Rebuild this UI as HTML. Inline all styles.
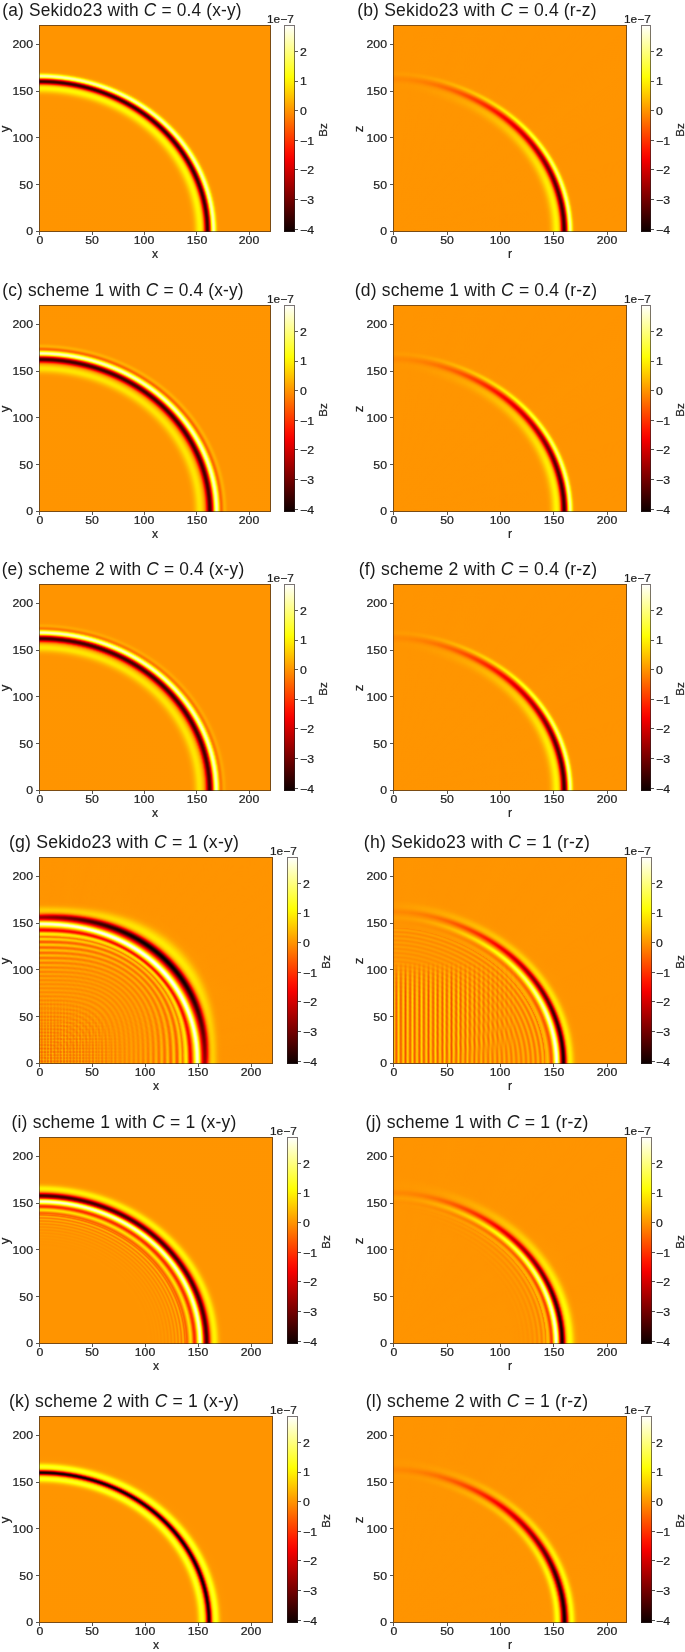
<!DOCTYPE html>
<html><head><meta charset="utf-8"><style>
html,body{margin:0;padding:0;background:#fff;}
body{width:685px;height:1652px;position:relative;overflow:hidden;font-family:"Liberation Sans", sans-serif;}
.t{position:absolute;line-height:1;white-space:nowrap;color:#1c1c1c;filter:grayscale(1);-webkit-text-stroke:0.2px #1c1c1c;}
.ti{position:absolute;line-height:1;white-space:nowrap;color:#1a1a1a;letter-spacing:0.17px;font-size:17.60px;transform:translateX(-50%);}
.ti i{font-style:italic;}
.ti{filter:grayscale(1);}
.l{position:absolute;}
.ax{position:absolute;}
.cb{position:absolute;}
.fr{position:absolute;border:1px solid rgba(40,30,30,0.62);box-sizing:border-box;}
</style></head><body>
<div class="ax" style="left:39px;top:25px;width:232px;height:207px;background:radial-gradient(ellipse 104.90px 93.65px at 0.5px 206.50px,#ff9400 0.0%,#ff9500 143.0%,#ff9a00 145.2%,#ffa500 146.8%,#ffb800 148.2%,#ffec00 151.2%,#fff600 152.2%,#fff800 153.0%,#fff300 153.8%,#ffe500 154.5%,#ffd500 155.0%,#ffc000 155.5%,#ffa200 156.0%,#ff7c00 156.5%,#ff4d00 157.0%,#ff1600 157.5%,#f90000 157.8%,#a20000 158.5%,#880000 158.8%,#700000 159.0%,#5c0000 159.2%,#4c0000 159.5%,#410000 159.8%,#3b0000 160.0%,#3b0000 160.2%,#400000 160.5%,#4b0000 160.8%,#5a0000 161.0%,#6e0000 161.2%,#870000 161.5%,#a30000 161.8%,#e30000 162.2%,#ff0700 162.5%,#ffbf00 163.8%,#ffe100 164.0%,#ffff03 164.2%,#ffff2f 164.5%,#ffff56 164.8%,#ffff77 165.0%,#ffff90 165.2%,#ffffa2 165.5%,#ffffac 165.8%,#ffffae 166.0%,#ffffa8 166.2%,#ffff9c 166.5%,#ffff89 166.8%,#ffff73 167.0%,#ffff3c 167.5%,#ffff03 168.0%,#ffef00 168.2%,#ffd000 168.8%,#ffb900 169.2%,#ffa900 169.8%,#ff9f00 170.2%,#ff9800 171.0%,#ff9400 172.8%,#ff9400 320.0%)"></div>
<div class="fr" style="left:39px;top:25px;width:232px;height:207px"></div>
<div class="l" style="left:36.20px;top:231.10px;width:2.80px;height:0.80px;background:#555"></div>
<div class="t" style="left:33.10px;top:226.33px;font-size:10.60px;transform-origin:0 0;transform:scaleX(1.160) translateX(-100%);">0</div>
<div class="l" style="left:36.20px;top:184.28px;width:2.80px;height:0.80px;background:#555"></div>
<div class="t" style="left:33.10px;top:179.50px;font-size:10.60px;transform-origin:0 0;transform:scaleX(1.160) translateX(-100%);">50</div>
<div class="l" style="left:36.20px;top:137.45px;width:2.80px;height:0.80px;background:#555"></div>
<div class="t" style="left:33.10px;top:132.68px;font-size:10.60px;transform-origin:0 0;transform:scaleX(1.160) translateX(-100%);">100</div>
<div class="l" style="left:36.20px;top:90.62px;width:2.80px;height:0.80px;background:#555"></div>
<div class="t" style="left:33.10px;top:85.85px;font-size:10.60px;transform-origin:0 0;transform:scaleX(1.160) translateX(-100%);">150</div>
<div class="l" style="left:36.20px;top:43.80px;width:2.80px;height:0.80px;background:#555"></div>
<div class="t" style="left:33.10px;top:39.03px;font-size:10.60px;transform-origin:0 0;transform:scaleX(1.160) translateX(-100%);">200</div>
<div class="l" style="left:39.10px;top:232.00px;width:0.80px;height:2.60px;background:#555"></div>
<div class="t" style="left:39.50px;top:235.43px;font-size:10.60px;transform-origin:0 0;transform:scaleX(1.160) translateX(-50%);">0</div>
<div class="l" style="left:91.55px;top:232.00px;width:0.80px;height:2.60px;background:#555"></div>
<div class="t" style="left:91.95px;top:235.43px;font-size:10.60px;transform-origin:0 0;transform:scaleX(1.160) translateX(-50%);">50</div>
<div class="l" style="left:144.00px;top:232.00px;width:0.80px;height:2.60px;background:#555"></div>
<div class="t" style="left:144.40px;top:235.43px;font-size:10.60px;transform-origin:0 0;transform:scaleX(1.160) translateX(-50%);">100</div>
<div class="l" style="left:196.45px;top:232.00px;width:0.80px;height:2.60px;background:#555"></div>
<div class="t" style="left:196.85px;top:235.43px;font-size:10.60px;transform-origin:0 0;transform:scaleX(1.160) translateX(-50%);">150</div>
<div class="l" style="left:248.90px;top:232.00px;width:0.80px;height:2.60px;background:#555"></div>
<div class="t" style="left:249.30px;top:235.43px;font-size:10.60px;transform-origin:0 0;transform:scaleX(1.160) translateX(-50%);">200</div>
<div class="t" style="left:155.00px;top:248.17px;font-size:12.20px;transform-origin:0 0;transform:scaleX(1.000) translateX(-50%);">x</div>
<div class="t" style="left:5.30px;top:128.50px;font-size:12.20px;transform:translate(-50%,-50%) rotate(-90deg) scaleX(1.08);">y</div>
<div class="cb" style="left:284px;top:25px;width:11px;height:207px;background:linear-gradient(to top,#0b0000 0.0%,#2c0000 5.0%,#4e0000 10.0%,#6f0000 15.0%,#900000 20.0%,#b20000 25.0%,#d30000 30.0%,#f50000 35.0%,#ff1700 40.0%,#ff3900 45.0%,#ff5a00 50.0%,#ff7c00 55.0%,#ff9d00 60.0%,#ffbf00 65.0%,#ffe000 70.0%,#ffff04 75.0%,#ffff36 80.0%,#ffff68 85.0%,#ffff9b 90.0%,#ffffcd 95.0%,#ffffff 100.0%)"></div>
<div class="fr" style="left:284px;top:25px;width:11px;height:207px"></div>
<div class="l" style="left:295.00px;top:50.90px;width:2.60px;height:0.80px;background:#555"></div>
<div class="t" style="left:300.00px;top:46.83px;font-size:10.60px;transform-origin:0 0;transform:scaleX(1.160);">2</div>
<div class="l" style="left:295.00px;top:80.52px;width:2.60px;height:0.80px;background:#555"></div>
<div class="t" style="left:300.00px;top:76.45px;font-size:10.60px;transform-origin:0 0;transform:scaleX(1.160);">1</div>
<div class="l" style="left:295.00px;top:110.14px;width:2.60px;height:0.80px;background:#555"></div>
<div class="t" style="left:300.00px;top:106.07px;font-size:10.60px;transform-origin:0 0;transform:scaleX(1.160);">0</div>
<div class="l" style="left:295.00px;top:139.76px;width:2.60px;height:0.80px;background:#555"></div>
<div class="t" style="left:300.00px;top:135.69px;font-size:10.60px;transform-origin:0 0;transform:scaleX(1.160);">−1</div>
<div class="l" style="left:295.00px;top:169.38px;width:2.60px;height:0.80px;background:#555"></div>
<div class="t" style="left:300.00px;top:165.31px;font-size:10.60px;transform-origin:0 0;transform:scaleX(1.160);">−2</div>
<div class="l" style="left:295.00px;top:199.00px;width:2.60px;height:0.80px;background:#555"></div>
<div class="t" style="left:300.00px;top:194.93px;font-size:10.60px;transform-origin:0 0;transform:scaleX(1.160);">−3</div>
<div class="l" style="left:295.00px;top:228.62px;width:2.60px;height:0.80px;background:#555"></div>
<div class="t" style="left:300.00px;top:224.55px;font-size:10.60px;transform-origin:0 0;transform:scaleX(1.160);">−4</div>
<div class="t" style="left:267.40px;top:14.03px;font-size:10.60px;transform-origin:0 0;transform:scaleX(1.120);">1e−7</div>
<div class="t" style="left:323.30px;top:130.00px;font-size:10.60px;transform:translate(-50%,-50%) rotate(-90deg) scaleX(1.08);">Bz</div>
<div class="ti" style="left:122.00px;top:1.70px;transform:translateX(-50%) scaleX(0.9835);">(a) Sekido23 with <i>C</i> = 0.4 (x-y)</div>
<div class="ax" style="left:393px;top:25px;width:234px;height:207px;background:radial-gradient(ellipse 106.90px 93.65px at 0.5px 206.50px,#ff9400 0.0%,#ff9500 151.0%,#ff9600 157.2%,#ff8f00 160.2%,#ff8a00 162.5%,#ff8d00 164.5%,#ff9a00 167.8%,#ff9800 169.8%,#ff9400 173.0%,#ff9400 320.0%);"></div>
<div class="ax" style="left:393px;top:25px;width:234px;height:207px;background:radial-gradient(ellipse 106.90px 93.65px at 0.5px 206.50px,#ff9400 0.0%,#ff9500 150.5%,#ff9700 156.8%,#ff9100 159.5%,#ff8800 162.0%,#ff8a00 163.8%,#ff9b00 167.5%,#ff9b00 169.0%,#ff9400 172.0%,#ff9400 320.0%);-webkit-mask-image:conic-gradient(from 0deg at 0.5px 206.50px,transparent 0.00deg,#000 5.70deg);mask-image:conic-gradient(from 0deg at 0.5px 206.50px,transparent 0.00deg,#000 5.70deg);"></div>
<div class="ax" style="left:393px;top:25px;width:234px;height:207px;background:radial-gradient(ellipse 106.90px 93.65px at 0.5px 206.50px,#ff9400 0.0%,#ff9500 149.0%,#ff9a00 155.5%,#ff9400 158.0%,#ff8000 161.5%,#ff8100 162.8%,#ff8c00 164.5%,#ff9e00 166.8%,#ffa000 168.0%,#ff9500 171.0%,#ff9400 220.2%,#ff9400 320.0%);-webkit-mask-image:conic-gradient(from 0deg at 0.5px 206.50px,transparent 5.70deg,#000 11.38deg);mask-image:conic-gradient(from 0deg at 0.5px 206.50px,transparent 5.70deg,#000 11.38deg);"></div>
<div class="ax" style="left:393px;top:25px;width:234px;height:207px;background:radial-gradient(ellipse 106.90px 93.65px at 0.5px 206.50px,#ff9400 0.0%,#ff9500 147.5%,#ff9e00 154.2%,#ff9900 156.5%,#ff9000 158.0%,#ff7600 160.5%,#ff7300 161.5%,#ff7800 162.5%,#ff8900 164.0%,#ffa300 166.0%,#ffa800 167.0%,#ffa500 168.0%,#ff9700 170.0%,#ff9400 172.5%,#ff9400 320.0%);-webkit-mask-image:conic-gradient(from 0deg at 0.5px 206.50px,transparent 11.38deg,#000 17.01deg);mask-image:conic-gradient(from 0deg at 0.5px 206.50px,transparent 11.38deg,#000 17.01deg);"></div>
<div class="ax" style="left:393px;top:25px;width:234px;height:207px;background:radial-gradient(ellipse 106.90px 93.65px at 0.5px 206.50px,#ff9400 0.0%,#ff9500 146.2%,#ff9d00 150.5%,#ffa200 153.5%,#ff9e00 155.5%,#ff9500 156.8%,#ff8400 158.0%,#ff6900 159.8%,#ff6300 160.5%,#ff6400 161.2%,#ff6f00 162.2%,#ff8b00 163.8%,#ffa900 165.2%,#ffb100 166.0%,#ffb200 166.8%,#ffa900 167.8%,#ff9a00 169.2%,#ff9500 170.8%,#ff9400 320.0%);-webkit-mask-image:conic-gradient(from 0deg at 0.5px 206.50px,transparent 17.01deg,#000 22.56deg);mask-image:conic-gradient(from 0deg at 0.5px 206.50px,transparent 17.01deg,#000 22.56deg);"></div>
<div class="ax" style="left:393px;top:25px;width:234px;height:207px;background:radial-gradient(ellipse 106.90px 93.65px at 0.5px 206.50px,#ff9400 0.0%,#ff9500 145.2%,#ff9c00 148.5%,#ffa900 152.2%,#ffa800 154.0%,#ffa100 155.2%,#ff9400 156.2%,#ff8000 157.2%,#ff5600 159.0%,#ff4b00 159.8%,#ff4a00 160.5%,#ff5300 161.2%,#ff6400 162.0%,#ff9100 163.5%,#ffaf00 164.5%,#ffbe00 165.2%,#ffc200 165.8%,#ffc000 166.2%,#ffb700 167.0%,#ff9f00 168.5%,#ff9700 169.5%,#ff9400 171.8%,#ff9400 320.0%);-webkit-mask-image:conic-gradient(from 0deg at 0.5px 206.50px,transparent 22.56deg,#000 29.11deg);mask-image:conic-gradient(from 0deg at 0.5px 206.50px,transparent 22.56deg,#000 29.11deg);"></div>
<div class="ax" style="left:393px;top:25px;width:234px;height:207px;background:radial-gradient(ellipse 106.90px 93.65px at 0.5px 206.50px,#ff9400 0.0%,#ff9500 144.2%,#ff9b00 147.2%,#ffb100 151.8%,#ffb200 153.2%,#ffaa00 154.5%,#ff9d00 155.5%,#ff8c00 156.2%,#ff6d00 157.2%,#ff4200 158.5%,#ff3500 159.0%,#ff2e00 159.5%,#ff2c00 160.0%,#ff3100 160.5%,#ff3b00 161.0%,#ff5300 161.8%,#ff8800 163.0%,#ffb300 164.0%,#ffc400 164.5%,#ffd000 165.0%,#ffd400 165.5%,#ffd100 166.0%,#ffc300 166.8%,#ffa600 168.0%,#ff9c00 168.8%,#ff9600 169.8%,#ff9400 175.8%,#ff9400 320.0%);-webkit-mask-image:conic-gradient(from 0deg at 0.5px 206.50px,transparent 29.11deg,#000 35.50deg);mask-image:conic-gradient(from 0deg at 0.5px 206.50px,transparent 29.11deg,#000 35.50deg);"></div>
<div class="ax" style="left:393px;top:25px;width:234px;height:207px;background:radial-gradient(ellipse 106.90px 93.65px at 0.5px 206.50px,#ff9400 0.0%,#ff9500 143.8%,#ff9b00 146.5%,#ffaa00 149.0%,#ffba00 151.5%,#ffbc00 152.8%,#ffb700 153.8%,#ffac00 154.8%,#ff9c00 155.5%,#ff8500 156.2%,#ff6600 157.0%,#ff2d00 158.2%,#ff1b00 158.8%,#ff0f00 159.2%,#ff0b00 159.8%,#ff0f00 160.2%,#ff1c00 160.8%,#ff2f00 161.2%,#ff5300 162.0%,#ffb700 163.8%,#ffcf00 164.2%,#ffe000 164.8%,#ffe500 165.0%,#ffe800 165.2%,#ffe600 165.8%,#ffdc00 166.2%,#ffae00 167.8%,#ff9f00 168.5%,#ff9800 169.2%,#ff9400 170.8%,#ff9400 320.0%);-webkit-mask-image:conic-gradient(from 0deg at 0.5px 206.50px,transparent 35.50deg,#000 41.73deg);mask-image:conic-gradient(from 0deg at 0.5px 206.50px,transparent 35.50deg,#000 41.73deg);"></div>
<div class="ax" style="left:393px;top:25px;width:234px;height:207px;background:radial-gradient(ellipse 106.90px 93.65px at 0.5px 206.50px,#ff9400 0.0%,#ff9500 143.5%,#ff9b00 146.0%,#ffa800 148.0%,#ffc200 151.0%,#ffc700 152.2%,#ffc500 153.2%,#ffbf00 154.0%,#ffb200 154.8%,#ff9d00 155.5%,#ff7d00 156.2%,#ff5500 157.0%,#ff0c00 158.2%,#fe0000 158.5%,#eb0000 159.0%,#e50000 159.2%,#e20000 159.5%,#e10000 159.8%,#e40000 160.0%,#e80000 160.2%,#fa0000 160.8%,#ff0600 161.0%,#ff2300 161.5%,#ff5600 162.2%,#ffc500 163.8%,#ffe300 164.2%,#ffef00 164.5%,#fff800 164.8%,#fffe00 165.0%,#ffff03 165.2%,#fffd00 165.8%,#ffef00 166.2%,#ffbd00 167.5%,#ffad00 168.0%,#ff9e00 168.8%,#ff9700 169.5%,#ff9400 171.5%,#ff9400 320.0%);-webkit-mask-image:conic-gradient(from 0deg at 0.5px 206.50px,transparent 41.73deg,#000 48.78deg);mask-image:conic-gradient(from 0deg at 0.5px 206.50px,transparent 41.73deg,#000 48.78deg);"></div>
<div class="ax" style="left:393px;top:25px;width:234px;height:207px;background:radial-gradient(ellipse 106.90px 93.65px at 0.5px 206.50px,#ff9400 0.0%,#ff9500 143.2%,#ff9b00 145.8%,#ffa700 147.5%,#ffcd00 151.0%,#ffd300 152.2%,#ffd000 153.2%,#ffc800 154.0%,#ffb800 154.8%,#ffa800 155.2%,#ff9300 155.8%,#ff7800 156.2%,#ff4600 157.0%,#ff0e00 157.8%,#fb0000 158.0%,#dc0000 158.5%,#cf0000 158.8%,#c50000 159.0%,#be0000 159.2%,#ba0000 159.5%,#b90000 159.8%,#bc0000 160.0%,#c20000 160.2%,#cb0000 160.5%,#d70000 160.8%,#f60000 161.2%,#ff0a00 161.5%,#ff4900 162.2%,#ffbc00 163.5%,#ffe500 164.0%,#fff600 164.2%,#ffff08 164.5%,#ffff19 164.8%,#ffff24 165.0%,#ffff28 165.2%,#ffff27 165.5%,#ffff21 165.8%,#ffff16 166.0%,#ffff07 166.2%,#fff800 166.5%,#ffc600 167.5%,#ffb200 168.0%,#ffa500 168.5%,#ff9a00 169.2%,#ff9500 170.5%,#ff9400 320.0%);-webkit-mask-image:conic-gradient(from 0deg at 0.5px 206.50px,transparent 48.78deg,#000 55.61deg);mask-image:conic-gradient(from 0deg at 0.5px 206.50px,transparent 48.78deg,#000 55.61deg);"></div>
<div class="ax" style="left:393px;top:25px;width:234px;height:207px;background:radial-gradient(ellipse 106.90px 93.65px at 0.5px 206.50px,#ff9400 0.0%,#ff9500 143.0%,#ff9a00 145.2%,#ffa600 147.0%,#ffbb00 148.8%,#ffd800 151.0%,#ffdf00 152.0%,#ffde00 153.0%,#ffd700 153.8%,#ffc700 154.5%,#ffb600 155.0%,#ffa000 155.5%,#ff8300 156.0%,#ff5f00 156.5%,#ff2000 157.2%,#ff0a00 157.5%,#f30000 157.8%,#c90000 158.2%,#b70000 158.5%,#a80000 158.8%,#9c0000 159.0%,#930000 159.2%,#8f0000 159.5%,#8e0000 159.8%,#910000 160.0%,#990000 160.2%,#a40000 160.5%,#b20000 160.8%,#c30000 161.0%,#ee0000 161.5%,#ff0600 161.8%,#ff5500 162.5%,#ffc400 163.5%,#fff500 164.0%,#ffff10 164.2%,#ffff2a 164.5%,#ffff3d 164.8%,#ffff4a 165.0%,#ffff50 165.2%,#ffff4f 165.5%,#ffff47 165.8%,#ffff3a 166.0%,#ffff28 166.2%,#ffff13 166.5%,#fffc00 166.8%,#ffcf00 167.5%,#ffb800 168.0%,#ffa800 168.5%,#ff9e00 169.0%,#ff9700 169.8%,#ff9400 171.8%,#ff9400 320.0%);-webkit-mask-image:conic-gradient(from 0deg at 0.5px 206.50px,transparent 55.61deg,#000 63.17deg);mask-image:conic-gradient(from 0deg at 0.5px 206.50px,transparent 55.61deg,#000 63.17deg);"></div>
<div class="ax" style="left:393px;top:25px;width:234px;height:207px;background:radial-gradient(ellipse 106.90px 93.65px at 0.5px 206.50px,#ff9400 0.0%,#ff9500 142.8%,#ff9a00 145.0%,#ffa400 146.5%,#ffb600 148.0%,#ffe100 150.8%,#ffea00 151.8%,#ffed00 152.5%,#ffe900 153.2%,#ffdd00 154.0%,#ffcf00 154.5%,#ffbc00 155.0%,#ffa200 155.5%,#ff8000 156.0%,#ff5600 156.5%,#ff2600 157.0%,#ff0c00 157.2%,#f10000 157.5%,#be0000 158.0%,#920000 158.5%,#800000 158.8%,#720000 159.0%,#680000 159.2%,#620000 159.5%,#610000 159.8%,#650000 160.0%,#6e0000 160.2%,#7b0000 160.5%,#8c0000 160.8%,#a00000 161.0%,#b70000 161.2%,#ed0000 161.8%,#ff0c00 162.0%,#ff8c00 163.0%,#ffcc00 163.5%,#ffea00 163.8%,#ffff09 164.0%,#ffff2e 164.2%,#ffff4c 164.5%,#ffff63 164.8%,#ffff72 165.0%,#ffff79 165.2%,#ffff78 165.5%,#ffff6f 165.8%,#ffff5f 166.0%,#ffff4a 166.2%,#ffff16 166.8%,#fffc00 167.0%,#ffda00 167.5%,#ffbe00 168.0%,#ffab00 168.5%,#ffa000 169.0%,#ff9700 169.8%,#ff9400 171.5%,#ff9400 320.0%);-webkit-mask-image:conic-gradient(from 0deg at 0.5px 206.50px,transparent 63.17deg,#000 72.31deg);mask-image:conic-gradient(from 0deg at 0.5px 206.50px,transparent 63.17deg,#000 72.31deg);"></div>
<div class="ax" style="left:393px;top:25px;width:234px;height:207px;background:radial-gradient(ellipse 106.90px 93.65px at 0.5px 206.50px,#ff9400 0.0%,#ff9500 142.8%,#ff9b00 145.0%,#ffa600 146.5%,#ffb900 148.0%,#ffe800 150.8%,#fff300 151.8%,#fff500 152.5%,#fff100 153.2%,#ffe400 154.0%,#ffd500 154.5%,#ffc000 155.0%,#ffa300 155.5%,#ff7e00 156.0%,#ff5100 156.5%,#ff0000 157.2%,#aa0000 158.0%,#910000 158.2%,#7a0000 158.5%,#660000 158.8%,#560000 159.0%,#4b0000 159.2%,#450000 159.5%,#440000 159.8%,#490000 160.0%,#520000 160.2%,#600000 160.5%,#730000 160.8%,#890000 161.0%,#a30000 161.2%,#de0000 161.8%,#fe0000 162.0%,#ff4400 162.5%,#ffd100 163.5%,#fff200 163.8%,#ffff19 164.0%,#ffff41 164.2%,#ffff63 164.5%,#ffff7c 164.8%,#ffff8c 165.0%,#ffff94 165.2%,#ffff92 165.5%,#ffff88 165.8%,#ffff77 166.0%,#ffff60 166.2%,#ffff28 166.8%,#ffff0a 167.0%,#fff200 167.2%,#ffd000 167.8%,#ffb700 168.2%,#ffa600 168.8%,#ff9d00 169.2%,#ff9600 170.0%,#ff9400 172.5%,#ff9400 320.0%);-webkit-mask-image:conic-gradient(from 0deg at 0.5px 206.50px,transparent 72.31deg,#000 81.22deg);mask-image:conic-gradient(from 0deg at 0.5px 206.50px,transparent 72.31deg,#000 81.22deg);"></div>
<div class="ax" style="left:393px;top:25px;width:234px;height:207px;background:radial-gradient(ellipse 106.90px 93.65px at 0.5px 206.50px,#ff9400 0.0%,#ff9500 142.8%,#ff9b00 145.0%,#ffa600 146.5%,#ffba00 148.0%,#ffea00 150.8%,#fff500 151.8%,#fff800 152.5%,#fff300 153.2%,#ffe600 154.0%,#ffd700 154.5%,#ffc100 155.0%,#ffa400 155.5%,#ff7e00 156.0%,#ff4f00 156.5%,#ff1800 157.0%,#fa0000 157.2%,#a30000 158.0%,#890000 158.2%,#710000 158.5%,#5d0000 158.8%,#4d0000 159.0%,#410000 159.2%,#3b0000 159.5%,#3a0000 159.8%,#3f0000 160.0%,#480000 160.2%,#570000 160.5%,#6a0000 160.8%,#810000 161.0%,#9b0000 161.2%,#d80000 161.8%,#f90000 162.0%,#ff1d00 162.2%,#ffd300 163.5%,#fff500 163.8%,#ffff1f 164.0%,#ffff48 164.2%,#ffff6a 164.5%,#ffff84 164.8%,#ffff96 165.0%,#ffff9d 165.2%,#ffff9c 165.5%,#ffff91 165.8%,#ffff7f 166.0%,#ffff68 166.2%,#ffff2e 166.8%,#ffff0f 167.0%,#fff500 167.2%,#ffd200 167.8%,#ffb800 168.2%,#ffa700 168.8%,#ff9d00 169.2%,#ff9700 170.0%,#ff9400 172.5%,#ff9400 320.0%);-webkit-mask-image:conic-gradient(from 0deg at 0.5px 206.50px,transparent 81.22deg,#000 90.00deg);mask-image:conic-gradient(from 0deg at 0.5px 206.50px,transparent 81.22deg,#000 90.00deg);"></div>
<div class="fr" style="left:393px;top:25px;width:234px;height:207px"></div>
<div class="l" style="left:390.20px;top:231.10px;width:2.80px;height:0.80px;background:#555"></div>
<div class="t" style="left:387.30px;top:226.33px;font-size:10.60px;transform-origin:0 0;transform:scaleX(1.160) translateX(-100%);">0</div>
<div class="l" style="left:390.20px;top:184.28px;width:2.80px;height:0.80px;background:#555"></div>
<div class="t" style="left:387.30px;top:179.50px;font-size:10.60px;transform-origin:0 0;transform:scaleX(1.160) translateX(-100%);">50</div>
<div class="l" style="left:390.20px;top:137.45px;width:2.80px;height:0.80px;background:#555"></div>
<div class="t" style="left:387.30px;top:132.68px;font-size:10.60px;transform-origin:0 0;transform:scaleX(1.160) translateX(-100%);">100</div>
<div class="l" style="left:390.20px;top:90.62px;width:2.80px;height:0.80px;background:#555"></div>
<div class="t" style="left:387.30px;top:85.85px;font-size:10.60px;transform-origin:0 0;transform:scaleX(1.160) translateX(-100%);">150</div>
<div class="l" style="left:390.20px;top:43.80px;width:2.80px;height:0.80px;background:#555"></div>
<div class="t" style="left:387.30px;top:39.03px;font-size:10.60px;transform-origin:0 0;transform:scaleX(1.160) translateX(-100%);">200</div>
<div class="l" style="left:393.10px;top:232.00px;width:0.80px;height:2.60px;background:#555"></div>
<div class="t" style="left:393.50px;top:235.43px;font-size:10.60px;transform-origin:0 0;transform:scaleX(1.160) translateX(-50%);">0</div>
<div class="l" style="left:446.55px;top:232.00px;width:0.80px;height:2.60px;background:#555"></div>
<div class="t" style="left:446.95px;top:235.43px;font-size:10.60px;transform-origin:0 0;transform:scaleX(1.160) translateX(-50%);">50</div>
<div class="l" style="left:500.00px;top:232.00px;width:0.80px;height:2.60px;background:#555"></div>
<div class="t" style="left:500.40px;top:235.43px;font-size:10.60px;transform-origin:0 0;transform:scaleX(1.160) translateX(-50%);">100</div>
<div class="l" style="left:553.45px;top:232.00px;width:0.80px;height:2.60px;background:#555"></div>
<div class="t" style="left:553.85px;top:235.43px;font-size:10.60px;transform-origin:0 0;transform:scaleX(1.160) translateX(-50%);">150</div>
<div class="l" style="left:606.90px;top:232.00px;width:0.80px;height:2.60px;background:#555"></div>
<div class="t" style="left:607.30px;top:235.43px;font-size:10.60px;transform-origin:0 0;transform:scaleX(1.160) translateX(-50%);">200</div>
<div class="t" style="left:510.00px;top:248.17px;font-size:12.20px;transform-origin:0 0;transform:scaleX(1.000) translateX(-50%);">r</div>
<div class="t" style="left:359.00px;top:128.50px;font-size:12.20px;transform:translate(-50%,-50%) rotate(-90deg) scaleX(1.08);">z</div>
<div class="cb" style="left:641px;top:25px;width:10px;height:207px;background:linear-gradient(to top,#0b0000 0.0%,#2c0000 5.0%,#4e0000 10.0%,#6f0000 15.0%,#900000 20.0%,#b20000 25.0%,#d30000 30.0%,#f50000 35.0%,#ff1700 40.0%,#ff3900 45.0%,#ff5a00 50.0%,#ff7c00 55.0%,#ff9d00 60.0%,#ffbf00 65.0%,#ffe000 70.0%,#ffff04 75.0%,#ffff36 80.0%,#ffff68 85.0%,#ffff9b 90.0%,#ffffcd 95.0%,#ffffff 100.0%)"></div>
<div class="fr" style="left:641px;top:25px;width:10px;height:207px"></div>
<div class="l" style="left:651.00px;top:50.90px;width:2.60px;height:0.80px;background:#555"></div>
<div class="t" style="left:655.80px;top:46.83px;font-size:10.60px;transform-origin:0 0;transform:scaleX(1.160);">2</div>
<div class="l" style="left:651.00px;top:80.52px;width:2.60px;height:0.80px;background:#555"></div>
<div class="t" style="left:655.80px;top:76.45px;font-size:10.60px;transform-origin:0 0;transform:scaleX(1.160);">1</div>
<div class="l" style="left:651.00px;top:110.14px;width:2.60px;height:0.80px;background:#555"></div>
<div class="t" style="left:655.80px;top:106.07px;font-size:10.60px;transform-origin:0 0;transform:scaleX(1.160);">0</div>
<div class="l" style="left:651.00px;top:139.76px;width:2.60px;height:0.80px;background:#555"></div>
<div class="t" style="left:655.80px;top:135.69px;font-size:10.60px;transform-origin:0 0;transform:scaleX(1.160);">−1</div>
<div class="l" style="left:651.00px;top:169.38px;width:2.60px;height:0.80px;background:#555"></div>
<div class="t" style="left:655.80px;top:165.31px;font-size:10.60px;transform-origin:0 0;transform:scaleX(1.160);">−2</div>
<div class="l" style="left:651.00px;top:199.00px;width:2.60px;height:0.80px;background:#555"></div>
<div class="t" style="left:655.80px;top:194.93px;font-size:10.60px;transform-origin:0 0;transform:scaleX(1.160);">−3</div>
<div class="l" style="left:651.00px;top:228.62px;width:2.60px;height:0.80px;background:#555"></div>
<div class="t" style="left:655.80px;top:224.55px;font-size:10.60px;transform-origin:0 0;transform:scaleX(1.160);">−4</div>
<div class="t" style="left:623.60px;top:14.03px;font-size:10.60px;transform-origin:0 0;transform:scaleX(1.120);">1e−7</div>
<div class="t" style="left:680.00px;top:130.00px;font-size:10.60px;transform:translate(-50%,-50%) rotate(-90deg) scaleX(1.08);">Bz</div>
<div class="ti" style="left:477.20px;top:1.70px;transform:translateX(-50%) scaleX(0.9966);">(b) Sekido23 with <i>C</i> = 0.4 (r-z)</div>
<div class="ax" style="left:39px;top:305px;width:232px;height:207px;background:radial-gradient(ellipse 104.90px 93.65px at 0.5px 206.50px,#ff9400 0.0%,#ff9500 143.2%,#ff9b00 145.5%,#ffa800 147.2%,#ffbe00 149.0%,#ffdb00 151.0%,#ffe500 152.2%,#ffe500 153.2%,#ffde00 154.2%,#ffcf00 155.2%,#ffba00 156.2%,#ffa300 157.0%,#ff8f00 157.5%,#ff7600 158.0%,#ff5600 158.5%,#ff3100 159.0%,#ff0600 159.5%,#ef0000 159.8%,#930000 160.8%,#6d0000 161.2%,#5e0000 161.5%,#520000 161.8%,#490000 162.0%,#450000 162.2%,#440000 162.5%,#480000 162.8%,#500000 163.0%,#5b0000 163.2%,#6b0000 163.5%,#7d0000 163.8%,#930000 164.0%,#c50000 164.5%,#fe0000 165.0%,#ff3e00 165.5%,#ffe200 166.8%,#ffff02 167.0%,#ffff2e 167.2%,#ffff55 167.5%,#ffff78 167.8%,#ffff94 168.0%,#ffffa9 168.2%,#ffffb7 168.5%,#ffffbd 168.8%,#ffffbb 169.0%,#ffffb2 169.2%,#ffffa2 169.5%,#ffff8c 169.8%,#ffff72 170.0%,#ffff35 170.5%,#ffff15 170.8%,#fff700 171.0%,#ffb900 171.8%,#ff9500 172.2%,#ff8600 172.5%,#ff7a00 172.8%,#ff7100 173.0%,#ff6b00 173.2%,#ff6900 173.5%,#ff6a00 173.8%,#ff7500 174.2%,#ff9f00 175.5%,#ffaa00 176.0%,#ffaf00 176.5%,#ffad00 177.2%,#ff9a00 179.0%,#ff9500 180.2%,#ff9400 320.0%)"></div>
<div class="fr" style="left:39px;top:305px;width:232px;height:207px"></div>
<div class="l" style="left:36.20px;top:511.10px;width:2.80px;height:0.80px;background:#555"></div>
<div class="t" style="left:33.10px;top:506.33px;font-size:10.60px;transform-origin:0 0;transform:scaleX(1.160) translateX(-100%);">0</div>
<div class="l" style="left:36.20px;top:464.28px;width:2.80px;height:0.80px;background:#555"></div>
<div class="t" style="left:33.10px;top:459.50px;font-size:10.60px;transform-origin:0 0;transform:scaleX(1.160) translateX(-100%);">50</div>
<div class="l" style="left:36.20px;top:417.45px;width:2.80px;height:0.80px;background:#555"></div>
<div class="t" style="left:33.10px;top:412.68px;font-size:10.60px;transform-origin:0 0;transform:scaleX(1.160) translateX(-100%);">100</div>
<div class="l" style="left:36.20px;top:370.62px;width:2.80px;height:0.80px;background:#555"></div>
<div class="t" style="left:33.10px;top:365.85px;font-size:10.60px;transform-origin:0 0;transform:scaleX(1.160) translateX(-100%);">150</div>
<div class="l" style="left:36.20px;top:323.80px;width:2.80px;height:0.80px;background:#555"></div>
<div class="t" style="left:33.10px;top:319.03px;font-size:10.60px;transform-origin:0 0;transform:scaleX(1.160) translateX(-100%);">200</div>
<div class="l" style="left:39.10px;top:512.00px;width:0.80px;height:2.60px;background:#555"></div>
<div class="t" style="left:39.50px;top:515.43px;font-size:10.60px;transform-origin:0 0;transform:scaleX(1.160) translateX(-50%);">0</div>
<div class="l" style="left:91.55px;top:512.00px;width:0.80px;height:2.60px;background:#555"></div>
<div class="t" style="left:91.95px;top:515.43px;font-size:10.60px;transform-origin:0 0;transform:scaleX(1.160) translateX(-50%);">50</div>
<div class="l" style="left:144.00px;top:512.00px;width:0.80px;height:2.60px;background:#555"></div>
<div class="t" style="left:144.40px;top:515.43px;font-size:10.60px;transform-origin:0 0;transform:scaleX(1.160) translateX(-50%);">100</div>
<div class="l" style="left:196.45px;top:512.00px;width:0.80px;height:2.60px;background:#555"></div>
<div class="t" style="left:196.85px;top:515.43px;font-size:10.60px;transform-origin:0 0;transform:scaleX(1.160) translateX(-50%);">150</div>
<div class="l" style="left:248.90px;top:512.00px;width:0.80px;height:2.60px;background:#555"></div>
<div class="t" style="left:249.30px;top:515.43px;font-size:10.60px;transform-origin:0 0;transform:scaleX(1.160) translateX(-50%);">200</div>
<div class="t" style="left:155.00px;top:528.17px;font-size:12.20px;transform-origin:0 0;transform:scaleX(1.000) translateX(-50%);">x</div>
<div class="t" style="left:5.30px;top:408.50px;font-size:12.20px;transform:translate(-50%,-50%) rotate(-90deg) scaleX(1.08);">y</div>
<div class="cb" style="left:284px;top:305px;width:11px;height:207px;background:linear-gradient(to top,#0b0000 0.0%,#2c0000 5.0%,#4e0000 10.0%,#6f0000 15.0%,#900000 20.0%,#b20000 25.0%,#d30000 30.0%,#f50000 35.0%,#ff1700 40.0%,#ff3900 45.0%,#ff5a00 50.0%,#ff7c00 55.0%,#ff9d00 60.0%,#ffbf00 65.0%,#ffe000 70.0%,#ffff04 75.0%,#ffff36 80.0%,#ffff68 85.0%,#ffff9b 90.0%,#ffffcd 95.0%,#ffffff 100.0%)"></div>
<div class="fr" style="left:284px;top:305px;width:11px;height:207px"></div>
<div class="l" style="left:295.00px;top:330.90px;width:2.60px;height:0.80px;background:#555"></div>
<div class="t" style="left:300.00px;top:326.83px;font-size:10.60px;transform-origin:0 0;transform:scaleX(1.160);">2</div>
<div class="l" style="left:295.00px;top:360.52px;width:2.60px;height:0.80px;background:#555"></div>
<div class="t" style="left:300.00px;top:356.45px;font-size:10.60px;transform-origin:0 0;transform:scaleX(1.160);">1</div>
<div class="l" style="left:295.00px;top:390.14px;width:2.60px;height:0.80px;background:#555"></div>
<div class="t" style="left:300.00px;top:386.07px;font-size:10.60px;transform-origin:0 0;transform:scaleX(1.160);">0</div>
<div class="l" style="left:295.00px;top:419.76px;width:2.60px;height:0.80px;background:#555"></div>
<div class="t" style="left:300.00px;top:415.69px;font-size:10.60px;transform-origin:0 0;transform:scaleX(1.160);">−1</div>
<div class="l" style="left:295.00px;top:449.38px;width:2.60px;height:0.80px;background:#555"></div>
<div class="t" style="left:300.00px;top:445.31px;font-size:10.60px;transform-origin:0 0;transform:scaleX(1.160);">−2</div>
<div class="l" style="left:295.00px;top:479.00px;width:2.60px;height:0.80px;background:#555"></div>
<div class="t" style="left:300.00px;top:474.93px;font-size:10.60px;transform-origin:0 0;transform:scaleX(1.160);">−3</div>
<div class="l" style="left:295.00px;top:508.62px;width:2.60px;height:0.80px;background:#555"></div>
<div class="t" style="left:300.00px;top:504.55px;font-size:10.60px;transform-origin:0 0;transform:scaleX(1.160);">−4</div>
<div class="t" style="left:267.40px;top:294.03px;font-size:10.60px;transform-origin:0 0;transform:scaleX(1.120);">1e−7</div>
<div class="t" style="left:323.30px;top:410.00px;font-size:10.60px;transform:translate(-50%,-50%) rotate(-90deg) scaleX(1.08);">Bz</div>
<div class="ti" style="left:122.80px;top:281.70px;transform:translateX(-50%) scaleX(0.9844);">(c) scheme 1 with <i>C</i> = 0.4 (x-y)</div>
<div class="ax" style="left:393px;top:305px;width:234px;height:207px;background:radial-gradient(ellipse 106.90px 93.65px at 0.5px 206.50px,#ff9400 0.0%,#ff9500 151.0%,#ff9600 157.2%,#ff8f00 160.2%,#ff8a00 162.5%,#ff8d00 164.5%,#ff9a00 167.8%,#ff9800 169.8%,#ff9400 173.0%,#ff9400 320.0%);"></div>
<div class="ax" style="left:393px;top:305px;width:234px;height:207px;background:radial-gradient(ellipse 106.90px 93.65px at 0.5px 206.50px,#ff9400 0.0%,#ff9500 150.5%,#ff9700 156.8%,#ff9100 159.5%,#ff8800 162.0%,#ff8a00 163.8%,#ff9b00 167.5%,#ff9b00 169.0%,#ff9400 172.0%,#ff9400 320.0%);-webkit-mask-image:conic-gradient(from 0deg at 0.5px 206.50px,transparent 0.00deg,#000 5.70deg);mask-image:conic-gradient(from 0deg at 0.5px 206.50px,transparent 0.00deg,#000 5.70deg);"></div>
<div class="ax" style="left:393px;top:305px;width:234px;height:207px;background:radial-gradient(ellipse 106.90px 93.65px at 0.5px 206.50px,#ff9400 0.0%,#ff9500 149.0%,#ff9a00 155.5%,#ff9400 158.0%,#ff8000 161.5%,#ff8100 162.8%,#ff8c00 164.5%,#ff9e00 166.8%,#ffa000 168.0%,#ff9500 171.0%,#ff9400 220.2%,#ff9400 320.0%);-webkit-mask-image:conic-gradient(from 0deg at 0.5px 206.50px,transparent 5.70deg,#000 11.38deg);mask-image:conic-gradient(from 0deg at 0.5px 206.50px,transparent 5.70deg,#000 11.38deg);"></div>
<div class="ax" style="left:393px;top:305px;width:234px;height:207px;background:radial-gradient(ellipse 106.90px 93.65px at 0.5px 206.50px,#ff9400 0.0%,#ff9500 147.5%,#ff9e00 154.2%,#ff9900 156.5%,#ff9000 158.0%,#ff7600 160.5%,#ff7300 161.5%,#ff7800 162.5%,#ff8900 164.0%,#ffa300 166.0%,#ffa800 167.0%,#ffa500 168.0%,#ff9700 170.0%,#ff9400 172.5%,#ff9400 320.0%);-webkit-mask-image:conic-gradient(from 0deg at 0.5px 206.50px,transparent 11.38deg,#000 17.01deg);mask-image:conic-gradient(from 0deg at 0.5px 206.50px,transparent 11.38deg,#000 17.01deg);"></div>
<div class="ax" style="left:393px;top:305px;width:234px;height:207px;background:radial-gradient(ellipse 106.90px 93.65px at 0.5px 206.50px,#ff9400 0.0%,#ff9500 146.2%,#ff9d00 150.5%,#ffa200 153.5%,#ff9e00 155.5%,#ff9500 156.8%,#ff8400 158.0%,#ff6900 159.8%,#ff6300 160.5%,#ff6400 161.2%,#ff6f00 162.2%,#ff8b00 163.8%,#ffa900 165.2%,#ffb100 166.0%,#ffb200 166.8%,#ffa900 167.8%,#ff9a00 169.2%,#ff9500 170.8%,#ff9400 320.0%);-webkit-mask-image:conic-gradient(from 0deg at 0.5px 206.50px,transparent 17.01deg,#000 22.56deg);mask-image:conic-gradient(from 0deg at 0.5px 206.50px,transparent 17.01deg,#000 22.56deg);"></div>
<div class="ax" style="left:393px;top:305px;width:234px;height:207px;background:radial-gradient(ellipse 106.90px 93.65px at 0.5px 206.50px,#ff9400 0.0%,#ff9500 145.2%,#ff9c00 148.5%,#ffa900 152.2%,#ffa800 154.0%,#ffa100 155.2%,#ff9400 156.2%,#ff8000 157.2%,#ff5600 159.0%,#ff4b00 159.8%,#ff4a00 160.5%,#ff5300 161.2%,#ff6400 162.0%,#ff9100 163.5%,#ffaf00 164.5%,#ffbe00 165.2%,#ffc200 165.8%,#ffc000 166.2%,#ffb700 167.0%,#ff9f00 168.5%,#ff9700 169.5%,#ff9400 171.8%,#ff9400 320.0%);-webkit-mask-image:conic-gradient(from 0deg at 0.5px 206.50px,transparent 22.56deg,#000 29.11deg);mask-image:conic-gradient(from 0deg at 0.5px 206.50px,transparent 22.56deg,#000 29.11deg);"></div>
<div class="ax" style="left:393px;top:305px;width:234px;height:207px;background:radial-gradient(ellipse 106.90px 93.65px at 0.5px 206.50px,#ff9400 0.0%,#ff9500 144.2%,#ff9b00 147.2%,#ffb100 151.8%,#ffb200 153.2%,#ffaa00 154.5%,#ff9d00 155.5%,#ff8c00 156.2%,#ff6d00 157.2%,#ff4200 158.5%,#ff3500 159.0%,#ff2e00 159.5%,#ff2c00 160.0%,#ff3100 160.5%,#ff3b00 161.0%,#ff5300 161.8%,#ff8800 163.0%,#ffb300 164.0%,#ffc400 164.5%,#ffd000 165.0%,#ffd400 165.5%,#ffd100 166.0%,#ffc300 166.8%,#ffa600 168.0%,#ff9c00 168.8%,#ff9600 169.8%,#ff9400 175.8%,#ff9400 320.0%);-webkit-mask-image:conic-gradient(from 0deg at 0.5px 206.50px,transparent 29.11deg,#000 35.50deg);mask-image:conic-gradient(from 0deg at 0.5px 206.50px,transparent 29.11deg,#000 35.50deg);"></div>
<div class="ax" style="left:393px;top:305px;width:234px;height:207px;background:radial-gradient(ellipse 106.90px 93.65px at 0.5px 206.50px,#ff9400 0.0%,#ff9500 143.8%,#ff9b00 146.5%,#ffaa00 149.0%,#ffba00 151.5%,#ffbc00 152.8%,#ffb700 153.8%,#ffac00 154.8%,#ff9c00 155.5%,#ff8500 156.2%,#ff6600 157.0%,#ff2d00 158.2%,#ff1b00 158.8%,#ff0f00 159.2%,#ff0b00 159.8%,#ff0f00 160.2%,#ff1c00 160.8%,#ff2f00 161.2%,#ff5300 162.0%,#ffb700 163.8%,#ffcf00 164.2%,#ffe000 164.8%,#ffe500 165.0%,#ffe800 165.2%,#ffe600 165.8%,#ffdc00 166.2%,#ffae00 167.8%,#ff9f00 168.5%,#ff9800 169.2%,#ff9400 170.8%,#ff9400 320.0%);-webkit-mask-image:conic-gradient(from 0deg at 0.5px 206.50px,transparent 35.50deg,#000 41.73deg);mask-image:conic-gradient(from 0deg at 0.5px 206.50px,transparent 35.50deg,#000 41.73deg);"></div>
<div class="ax" style="left:393px;top:305px;width:234px;height:207px;background:radial-gradient(ellipse 106.90px 93.65px at 0.5px 206.50px,#ff9400 0.0%,#ff9500 143.5%,#ff9b00 146.0%,#ffa800 148.0%,#ffc200 151.0%,#ffc700 152.2%,#ffc500 153.2%,#ffbf00 154.0%,#ffb200 154.8%,#ff9d00 155.5%,#ff7d00 156.2%,#ff5500 157.0%,#ff0c00 158.2%,#fe0000 158.5%,#eb0000 159.0%,#e50000 159.2%,#e20000 159.5%,#e10000 159.8%,#e40000 160.0%,#e80000 160.2%,#fa0000 160.8%,#ff0600 161.0%,#ff2300 161.5%,#ff5600 162.2%,#ffc500 163.8%,#ffe300 164.2%,#ffef00 164.5%,#fff800 164.8%,#fffe00 165.0%,#ffff03 165.2%,#fffd00 165.8%,#ffef00 166.2%,#ffbd00 167.5%,#ffad00 168.0%,#ff9e00 168.8%,#ff9700 169.5%,#ff9400 171.5%,#ff9400 320.0%);-webkit-mask-image:conic-gradient(from 0deg at 0.5px 206.50px,transparent 41.73deg,#000 48.78deg);mask-image:conic-gradient(from 0deg at 0.5px 206.50px,transparent 41.73deg,#000 48.78deg);"></div>
<div class="ax" style="left:393px;top:305px;width:234px;height:207px;background:radial-gradient(ellipse 106.90px 93.65px at 0.5px 206.50px,#ff9400 0.0%,#ff9500 143.2%,#ff9b00 145.8%,#ffa700 147.5%,#ffcd00 151.0%,#ffd300 152.2%,#ffd000 153.2%,#ffc800 154.0%,#ffb800 154.8%,#ffa800 155.2%,#ff9300 155.8%,#ff7800 156.2%,#ff4600 157.0%,#ff0e00 157.8%,#fb0000 158.0%,#dc0000 158.5%,#cf0000 158.8%,#c50000 159.0%,#be0000 159.2%,#ba0000 159.5%,#b90000 159.8%,#bc0000 160.0%,#c20000 160.2%,#cb0000 160.5%,#d70000 160.8%,#f60000 161.2%,#ff0a00 161.5%,#ff4900 162.2%,#ffbc00 163.5%,#ffe500 164.0%,#fff600 164.2%,#ffff08 164.5%,#ffff19 164.8%,#ffff24 165.0%,#ffff28 165.2%,#ffff27 165.5%,#ffff21 165.8%,#ffff16 166.0%,#ffff07 166.2%,#fff800 166.5%,#ffc600 167.5%,#ffb200 168.0%,#ffa500 168.5%,#ff9a00 169.2%,#ff9500 170.5%,#ff9400 320.0%);-webkit-mask-image:conic-gradient(from 0deg at 0.5px 206.50px,transparent 48.78deg,#000 55.61deg);mask-image:conic-gradient(from 0deg at 0.5px 206.50px,transparent 48.78deg,#000 55.61deg);"></div>
<div class="ax" style="left:393px;top:305px;width:234px;height:207px;background:radial-gradient(ellipse 106.90px 93.65px at 0.5px 206.50px,#ff9400 0.0%,#ff9500 143.0%,#ff9a00 145.2%,#ffa600 147.0%,#ffbb00 148.8%,#ffd800 151.0%,#ffdf00 152.0%,#ffde00 153.0%,#ffd700 153.8%,#ffc700 154.5%,#ffb600 155.0%,#ffa000 155.5%,#ff8300 156.0%,#ff5f00 156.5%,#ff2000 157.2%,#ff0a00 157.5%,#f30000 157.8%,#c90000 158.2%,#b70000 158.5%,#a80000 158.8%,#9c0000 159.0%,#930000 159.2%,#8f0000 159.5%,#8e0000 159.8%,#910000 160.0%,#990000 160.2%,#a40000 160.5%,#b20000 160.8%,#c30000 161.0%,#ee0000 161.5%,#ff0600 161.8%,#ff5500 162.5%,#ffc400 163.5%,#fff500 164.0%,#ffff10 164.2%,#ffff2a 164.5%,#ffff3d 164.8%,#ffff4a 165.0%,#ffff50 165.2%,#ffff4f 165.5%,#ffff47 165.8%,#ffff3a 166.0%,#ffff28 166.2%,#ffff13 166.5%,#fffc00 166.8%,#ffcf00 167.5%,#ffb800 168.0%,#ffa800 168.5%,#ff9e00 169.0%,#ff9700 169.8%,#ff9400 171.8%,#ff9400 320.0%);-webkit-mask-image:conic-gradient(from 0deg at 0.5px 206.50px,transparent 55.61deg,#000 63.17deg);mask-image:conic-gradient(from 0deg at 0.5px 206.50px,transparent 55.61deg,#000 63.17deg);"></div>
<div class="ax" style="left:393px;top:305px;width:234px;height:207px;background:radial-gradient(ellipse 106.90px 93.65px at 0.5px 206.50px,#ff9400 0.0%,#ff9500 142.8%,#ff9a00 145.0%,#ffa400 146.5%,#ffb600 148.0%,#ffe100 150.8%,#ffea00 151.8%,#ffed00 152.5%,#ffe900 153.2%,#ffdd00 154.0%,#ffcf00 154.5%,#ffbc00 155.0%,#ffa200 155.5%,#ff8000 156.0%,#ff5600 156.5%,#ff2600 157.0%,#ff0c00 157.2%,#f10000 157.5%,#be0000 158.0%,#920000 158.5%,#800000 158.8%,#720000 159.0%,#680000 159.2%,#620000 159.5%,#610000 159.8%,#650000 160.0%,#6e0000 160.2%,#7b0000 160.5%,#8c0000 160.8%,#a00000 161.0%,#b70000 161.2%,#ed0000 161.8%,#ff0c00 162.0%,#ff8c00 163.0%,#ffcc00 163.5%,#ffea00 163.8%,#ffff09 164.0%,#ffff2e 164.2%,#ffff4c 164.5%,#ffff63 164.8%,#ffff72 165.0%,#ffff79 165.2%,#ffff78 165.5%,#ffff6f 165.8%,#ffff5f 166.0%,#ffff4a 166.2%,#ffff16 166.8%,#fffc00 167.0%,#ffda00 167.5%,#ffbe00 168.0%,#ffab00 168.5%,#ffa000 169.0%,#ff9700 169.8%,#ff9400 171.5%,#ff9400 320.0%);-webkit-mask-image:conic-gradient(from 0deg at 0.5px 206.50px,transparent 63.17deg,#000 72.31deg);mask-image:conic-gradient(from 0deg at 0.5px 206.50px,transparent 63.17deg,#000 72.31deg);"></div>
<div class="ax" style="left:393px;top:305px;width:234px;height:207px;background:radial-gradient(ellipse 106.90px 93.65px at 0.5px 206.50px,#ff9400 0.0%,#ff9500 142.8%,#ff9b00 145.0%,#ffa600 146.5%,#ffb900 148.0%,#ffe800 150.8%,#fff300 151.8%,#fff500 152.5%,#fff100 153.2%,#ffe400 154.0%,#ffd500 154.5%,#ffc000 155.0%,#ffa300 155.5%,#ff7e00 156.0%,#ff5100 156.5%,#ff0000 157.2%,#aa0000 158.0%,#910000 158.2%,#7a0000 158.5%,#660000 158.8%,#560000 159.0%,#4b0000 159.2%,#450000 159.5%,#440000 159.8%,#490000 160.0%,#520000 160.2%,#600000 160.5%,#730000 160.8%,#890000 161.0%,#a30000 161.2%,#de0000 161.8%,#fe0000 162.0%,#ff4400 162.5%,#ffd100 163.5%,#fff200 163.8%,#ffff19 164.0%,#ffff41 164.2%,#ffff63 164.5%,#ffff7c 164.8%,#ffff8c 165.0%,#ffff94 165.2%,#ffff92 165.5%,#ffff88 165.8%,#ffff77 166.0%,#ffff60 166.2%,#ffff28 166.8%,#ffff0a 167.0%,#fff200 167.2%,#ffd000 167.8%,#ffb700 168.2%,#ffa600 168.8%,#ff9d00 169.2%,#ff9600 170.0%,#ff9400 172.5%,#ff9400 320.0%);-webkit-mask-image:conic-gradient(from 0deg at 0.5px 206.50px,transparent 72.31deg,#000 81.22deg);mask-image:conic-gradient(from 0deg at 0.5px 206.50px,transparent 72.31deg,#000 81.22deg);"></div>
<div class="ax" style="left:393px;top:305px;width:234px;height:207px;background:radial-gradient(ellipse 106.90px 93.65px at 0.5px 206.50px,#ff9400 0.0%,#ff9500 142.8%,#ff9b00 145.0%,#ffa600 146.5%,#ffba00 148.0%,#ffea00 150.8%,#fff500 151.8%,#fff800 152.5%,#fff300 153.2%,#ffe600 154.0%,#ffd700 154.5%,#ffc100 155.0%,#ffa400 155.5%,#ff7e00 156.0%,#ff4f00 156.5%,#ff1800 157.0%,#fa0000 157.2%,#a30000 158.0%,#890000 158.2%,#710000 158.5%,#5d0000 158.8%,#4d0000 159.0%,#410000 159.2%,#3b0000 159.5%,#3a0000 159.8%,#3f0000 160.0%,#480000 160.2%,#570000 160.5%,#6a0000 160.8%,#810000 161.0%,#9b0000 161.2%,#d80000 161.8%,#f90000 162.0%,#ff1d00 162.2%,#ffd300 163.5%,#fff500 163.8%,#ffff1f 164.0%,#ffff48 164.2%,#ffff6a 164.5%,#ffff84 164.8%,#ffff96 165.0%,#ffff9d 165.2%,#ffff9c 165.5%,#ffff91 165.8%,#ffff7f 166.0%,#ffff68 166.2%,#ffff2e 166.8%,#ffff0f 167.0%,#fff500 167.2%,#ffd200 167.8%,#ffb800 168.2%,#ffa700 168.8%,#ff9d00 169.2%,#ff9700 170.0%,#ff9400 172.5%,#ff9400 320.0%);-webkit-mask-image:conic-gradient(from 0deg at 0.5px 206.50px,transparent 81.22deg,#000 90.00deg);mask-image:conic-gradient(from 0deg at 0.5px 206.50px,transparent 81.22deg,#000 90.00deg);"></div>
<div class="fr" style="left:393px;top:305px;width:234px;height:207px"></div>
<div class="l" style="left:390.20px;top:511.10px;width:2.80px;height:0.80px;background:#555"></div>
<div class="t" style="left:387.30px;top:506.33px;font-size:10.60px;transform-origin:0 0;transform:scaleX(1.160) translateX(-100%);">0</div>
<div class="l" style="left:390.20px;top:464.28px;width:2.80px;height:0.80px;background:#555"></div>
<div class="t" style="left:387.30px;top:459.50px;font-size:10.60px;transform-origin:0 0;transform:scaleX(1.160) translateX(-100%);">50</div>
<div class="l" style="left:390.20px;top:417.45px;width:2.80px;height:0.80px;background:#555"></div>
<div class="t" style="left:387.30px;top:412.68px;font-size:10.60px;transform-origin:0 0;transform:scaleX(1.160) translateX(-100%);">100</div>
<div class="l" style="left:390.20px;top:370.62px;width:2.80px;height:0.80px;background:#555"></div>
<div class="t" style="left:387.30px;top:365.85px;font-size:10.60px;transform-origin:0 0;transform:scaleX(1.160) translateX(-100%);">150</div>
<div class="l" style="left:390.20px;top:323.80px;width:2.80px;height:0.80px;background:#555"></div>
<div class="t" style="left:387.30px;top:319.03px;font-size:10.60px;transform-origin:0 0;transform:scaleX(1.160) translateX(-100%);">200</div>
<div class="l" style="left:393.10px;top:512.00px;width:0.80px;height:2.60px;background:#555"></div>
<div class="t" style="left:393.50px;top:515.43px;font-size:10.60px;transform-origin:0 0;transform:scaleX(1.160) translateX(-50%);">0</div>
<div class="l" style="left:446.55px;top:512.00px;width:0.80px;height:2.60px;background:#555"></div>
<div class="t" style="left:446.95px;top:515.43px;font-size:10.60px;transform-origin:0 0;transform:scaleX(1.160) translateX(-50%);">50</div>
<div class="l" style="left:500.00px;top:512.00px;width:0.80px;height:2.60px;background:#555"></div>
<div class="t" style="left:500.40px;top:515.43px;font-size:10.60px;transform-origin:0 0;transform:scaleX(1.160) translateX(-50%);">100</div>
<div class="l" style="left:553.45px;top:512.00px;width:0.80px;height:2.60px;background:#555"></div>
<div class="t" style="left:553.85px;top:515.43px;font-size:10.60px;transform-origin:0 0;transform:scaleX(1.160) translateX(-50%);">150</div>
<div class="l" style="left:606.90px;top:512.00px;width:0.80px;height:2.60px;background:#555"></div>
<div class="t" style="left:607.30px;top:515.43px;font-size:10.60px;transform-origin:0 0;transform:scaleX(1.160) translateX(-50%);">200</div>
<div class="t" style="left:510.00px;top:528.17px;font-size:12.20px;transform-origin:0 0;transform:scaleX(1.000) translateX(-50%);">r</div>
<div class="t" style="left:359.00px;top:408.50px;font-size:12.20px;transform:translate(-50%,-50%) rotate(-90deg) scaleX(1.08);">z</div>
<div class="cb" style="left:641px;top:305px;width:10px;height:207px;background:linear-gradient(to top,#0b0000 0.0%,#2c0000 5.0%,#4e0000 10.0%,#6f0000 15.0%,#900000 20.0%,#b20000 25.0%,#d30000 30.0%,#f50000 35.0%,#ff1700 40.0%,#ff3900 45.0%,#ff5a00 50.0%,#ff7c00 55.0%,#ff9d00 60.0%,#ffbf00 65.0%,#ffe000 70.0%,#ffff04 75.0%,#ffff36 80.0%,#ffff68 85.0%,#ffff9b 90.0%,#ffffcd 95.0%,#ffffff 100.0%)"></div>
<div class="fr" style="left:641px;top:305px;width:10px;height:207px"></div>
<div class="l" style="left:651.00px;top:330.90px;width:2.60px;height:0.80px;background:#555"></div>
<div class="t" style="left:655.80px;top:326.83px;font-size:10.60px;transform-origin:0 0;transform:scaleX(1.160);">2</div>
<div class="l" style="left:651.00px;top:360.52px;width:2.60px;height:0.80px;background:#555"></div>
<div class="t" style="left:655.80px;top:356.45px;font-size:10.60px;transform-origin:0 0;transform:scaleX(1.160);">1</div>
<div class="l" style="left:651.00px;top:390.14px;width:2.60px;height:0.80px;background:#555"></div>
<div class="t" style="left:655.80px;top:386.07px;font-size:10.60px;transform-origin:0 0;transform:scaleX(1.160);">0</div>
<div class="l" style="left:651.00px;top:419.76px;width:2.60px;height:0.80px;background:#555"></div>
<div class="t" style="left:655.80px;top:415.69px;font-size:10.60px;transform-origin:0 0;transform:scaleX(1.160);">−1</div>
<div class="l" style="left:651.00px;top:449.38px;width:2.60px;height:0.80px;background:#555"></div>
<div class="t" style="left:655.80px;top:445.31px;font-size:10.60px;transform-origin:0 0;transform:scaleX(1.160);">−2</div>
<div class="l" style="left:651.00px;top:479.00px;width:2.60px;height:0.80px;background:#555"></div>
<div class="t" style="left:655.80px;top:474.93px;font-size:10.60px;transform-origin:0 0;transform:scaleX(1.160);">−3</div>
<div class="l" style="left:651.00px;top:508.62px;width:2.60px;height:0.80px;background:#555"></div>
<div class="t" style="left:655.80px;top:504.55px;font-size:10.60px;transform-origin:0 0;transform:scaleX(1.160);">−4</div>
<div class="t" style="left:623.60px;top:294.03px;font-size:10.60px;transform-origin:0 0;transform:scaleX(1.120);">1e−7</div>
<div class="t" style="left:680.00px;top:410.00px;font-size:10.60px;transform:translate(-50%,-50%) rotate(-90deg) scaleX(1.08);">Bz</div>
<div class="ti" style="left:476.00px;top:281.70px;transform:translateX(-50%) scaleX(0.9959);">(d) scheme 1 with <i>C</i> = 0.4 (r-z)</div>
<div class="ax" style="left:39px;top:584px;width:232px;height:207px;background:radial-gradient(ellipse 104.90px 93.65px at 0.5px 206.50px,#ff9400 0.0%,#ff9500 143.0%,#ff9b00 145.2%,#ffa700 147.0%,#ffbd00 148.8%,#ffdd00 151.0%,#ffe400 152.0%,#ffe500 153.0%,#ffde00 154.0%,#ffd000 155.0%,#ffbb00 156.0%,#ffa500 156.8%,#ff9100 157.2%,#ff7800 157.8%,#ff5a00 158.2%,#ff3500 158.8%,#ff0b00 159.2%,#f30000 159.5%,#970000 160.5%,#700000 161.0%,#600000 161.2%,#540000 161.5%,#4b0000 161.8%,#450000 162.0%,#440000 162.2%,#470000 162.5%,#4e0000 162.8%,#590000 163.0%,#680000 163.2%,#7a0000 163.5%,#8f0000 163.8%,#c20000 164.2%,#fc0000 164.8%,#ff1c00 165.0%,#ffe300 166.5%,#ffff05 166.8%,#ffff31 167.0%,#ffff58 167.2%,#ffff7b 167.5%,#ffff96 167.8%,#ffffab 168.0%,#ffffb7 168.2%,#ffffbc 168.5%,#ffffb9 168.8%,#ffffae 169.0%,#ffff9d 169.2%,#ffff87 169.5%,#ffff6c 169.8%,#ffff2e 170.2%,#ffff0e 170.5%,#fff300 170.8%,#ffca00 171.2%,#ffa700 171.8%,#ff9800 172.0%,#ff8c00 172.2%,#ff8300 172.5%,#ff7d00 172.8%,#ff7a00 173.0%,#ff7a00 173.2%,#ff8000 173.8%,#ff9e00 175.0%,#ffa700 175.8%,#ffa600 176.5%,#ff9700 178.5%,#ff9400 180.5%,#ff9400 320.0%)"></div>
<div class="fr" style="left:39px;top:584px;width:232px;height:207px"></div>
<div class="l" style="left:36.20px;top:790.10px;width:2.80px;height:0.80px;background:#555"></div>
<div class="t" style="left:33.10px;top:785.33px;font-size:10.60px;transform-origin:0 0;transform:scaleX(1.160) translateX(-100%);">0</div>
<div class="l" style="left:36.20px;top:743.27px;width:2.80px;height:0.80px;background:#555"></div>
<div class="t" style="left:33.10px;top:738.50px;font-size:10.60px;transform-origin:0 0;transform:scaleX(1.160) translateX(-100%);">50</div>
<div class="l" style="left:36.20px;top:696.45px;width:2.80px;height:0.80px;background:#555"></div>
<div class="t" style="left:33.10px;top:691.68px;font-size:10.60px;transform-origin:0 0;transform:scaleX(1.160) translateX(-100%);">100</div>
<div class="l" style="left:36.20px;top:649.62px;width:2.80px;height:0.80px;background:#555"></div>
<div class="t" style="left:33.10px;top:644.85px;font-size:10.60px;transform-origin:0 0;transform:scaleX(1.160) translateX(-100%);">150</div>
<div class="l" style="left:36.20px;top:602.80px;width:2.80px;height:0.80px;background:#555"></div>
<div class="t" style="left:33.10px;top:598.03px;font-size:10.60px;transform-origin:0 0;transform:scaleX(1.160) translateX(-100%);">200</div>
<div class="l" style="left:39.10px;top:791.00px;width:0.80px;height:2.60px;background:#555"></div>
<div class="t" style="left:39.50px;top:794.43px;font-size:10.60px;transform-origin:0 0;transform:scaleX(1.160) translateX(-50%);">0</div>
<div class="l" style="left:91.55px;top:791.00px;width:0.80px;height:2.60px;background:#555"></div>
<div class="t" style="left:91.95px;top:794.43px;font-size:10.60px;transform-origin:0 0;transform:scaleX(1.160) translateX(-50%);">50</div>
<div class="l" style="left:144.00px;top:791.00px;width:0.80px;height:2.60px;background:#555"></div>
<div class="t" style="left:144.40px;top:794.43px;font-size:10.60px;transform-origin:0 0;transform:scaleX(1.160) translateX(-50%);">100</div>
<div class="l" style="left:196.45px;top:791.00px;width:0.80px;height:2.60px;background:#555"></div>
<div class="t" style="left:196.85px;top:794.43px;font-size:10.60px;transform-origin:0 0;transform:scaleX(1.160) translateX(-50%);">150</div>
<div class="l" style="left:248.90px;top:791.00px;width:0.80px;height:2.60px;background:#555"></div>
<div class="t" style="left:249.30px;top:794.43px;font-size:10.60px;transform-origin:0 0;transform:scaleX(1.160) translateX(-50%);">200</div>
<div class="t" style="left:155.00px;top:807.17px;font-size:12.20px;transform-origin:0 0;transform:scaleX(1.000) translateX(-50%);">x</div>
<div class="t" style="left:5.30px;top:687.50px;font-size:12.20px;transform:translate(-50%,-50%) rotate(-90deg) scaleX(1.08);">y</div>
<div class="cb" style="left:284px;top:584px;width:11px;height:207px;background:linear-gradient(to top,#0b0000 0.0%,#2c0000 5.0%,#4e0000 10.0%,#6f0000 15.0%,#900000 20.0%,#b20000 25.0%,#d30000 30.0%,#f50000 35.0%,#ff1700 40.0%,#ff3900 45.0%,#ff5a00 50.0%,#ff7c00 55.0%,#ff9d00 60.0%,#ffbf00 65.0%,#ffe000 70.0%,#ffff04 75.0%,#ffff36 80.0%,#ffff68 85.0%,#ffff9b 90.0%,#ffffcd 95.0%,#ffffff 100.0%)"></div>
<div class="fr" style="left:284px;top:584px;width:11px;height:207px"></div>
<div class="l" style="left:295.00px;top:609.90px;width:2.60px;height:0.80px;background:#555"></div>
<div class="t" style="left:300.00px;top:605.83px;font-size:10.60px;transform-origin:0 0;transform:scaleX(1.160);">2</div>
<div class="l" style="left:295.00px;top:639.52px;width:2.60px;height:0.80px;background:#555"></div>
<div class="t" style="left:300.00px;top:635.45px;font-size:10.60px;transform-origin:0 0;transform:scaleX(1.160);">1</div>
<div class="l" style="left:295.00px;top:669.14px;width:2.60px;height:0.80px;background:#555"></div>
<div class="t" style="left:300.00px;top:665.07px;font-size:10.60px;transform-origin:0 0;transform:scaleX(1.160);">0</div>
<div class="l" style="left:295.00px;top:698.76px;width:2.60px;height:0.80px;background:#555"></div>
<div class="t" style="left:300.00px;top:694.69px;font-size:10.60px;transform-origin:0 0;transform:scaleX(1.160);">−1</div>
<div class="l" style="left:295.00px;top:728.38px;width:2.60px;height:0.80px;background:#555"></div>
<div class="t" style="left:300.00px;top:724.31px;font-size:10.60px;transform-origin:0 0;transform:scaleX(1.160);">−2</div>
<div class="l" style="left:295.00px;top:758.00px;width:2.60px;height:0.80px;background:#555"></div>
<div class="t" style="left:300.00px;top:753.93px;font-size:10.60px;transform-origin:0 0;transform:scaleX(1.160);">−3</div>
<div class="l" style="left:295.00px;top:787.62px;width:2.60px;height:0.80px;background:#555"></div>
<div class="t" style="left:300.00px;top:783.55px;font-size:10.60px;transform-origin:0 0;transform:scaleX(1.160);">−4</div>
<div class="t" style="left:267.40px;top:573.03px;font-size:10.60px;transform-origin:0 0;transform:scaleX(1.120);">1e−7</div>
<div class="t" style="left:323.30px;top:689.00px;font-size:10.60px;transform:translate(-50%,-50%) rotate(-90deg) scaleX(1.08);">Bz</div>
<div class="ti" style="left:123.40px;top:560.70px;transform:translateX(-50%) scaleX(0.9852);">(e) scheme 2 with <i>C</i> = 0.4 (x-y)</div>
<div class="ax" style="left:393px;top:584px;width:234px;height:207px;background:radial-gradient(ellipse 106.90px 93.65px at 0.5px 206.50px,#ff9400 0.0%,#ff9500 151.0%,#ff9600 157.2%,#ff8f00 160.2%,#ff8a00 162.5%,#ff8d00 164.5%,#ff9a00 167.8%,#ff9800 169.8%,#ff9400 173.0%,#ff9400 320.0%);"></div>
<div class="ax" style="left:393px;top:584px;width:234px;height:207px;background:radial-gradient(ellipse 106.90px 93.65px at 0.5px 206.50px,#ff9400 0.0%,#ff9500 150.5%,#ff9700 156.8%,#ff9100 159.5%,#ff8800 162.0%,#ff8a00 163.8%,#ff9b00 167.5%,#ff9b00 169.0%,#ff9400 172.0%,#ff9400 320.0%);-webkit-mask-image:conic-gradient(from 0deg at 0.5px 206.50px,transparent 0.00deg,#000 5.70deg);mask-image:conic-gradient(from 0deg at 0.5px 206.50px,transparent 0.00deg,#000 5.70deg);"></div>
<div class="ax" style="left:393px;top:584px;width:234px;height:207px;background:radial-gradient(ellipse 106.90px 93.65px at 0.5px 206.50px,#ff9400 0.0%,#ff9500 149.0%,#ff9a00 155.5%,#ff9400 158.0%,#ff8000 161.5%,#ff8100 162.8%,#ff8c00 164.5%,#ff9e00 166.8%,#ffa000 168.0%,#ff9500 171.0%,#ff9400 220.2%,#ff9400 320.0%);-webkit-mask-image:conic-gradient(from 0deg at 0.5px 206.50px,transparent 5.70deg,#000 11.38deg);mask-image:conic-gradient(from 0deg at 0.5px 206.50px,transparent 5.70deg,#000 11.38deg);"></div>
<div class="ax" style="left:393px;top:584px;width:234px;height:207px;background:radial-gradient(ellipse 106.90px 93.65px at 0.5px 206.50px,#ff9400 0.0%,#ff9500 147.5%,#ff9e00 154.2%,#ff9900 156.5%,#ff9000 158.0%,#ff7600 160.5%,#ff7300 161.5%,#ff7800 162.5%,#ff8900 164.0%,#ffa300 166.0%,#ffa800 167.0%,#ffa500 168.0%,#ff9700 170.0%,#ff9400 172.5%,#ff9400 320.0%);-webkit-mask-image:conic-gradient(from 0deg at 0.5px 206.50px,transparent 11.38deg,#000 17.01deg);mask-image:conic-gradient(from 0deg at 0.5px 206.50px,transparent 11.38deg,#000 17.01deg);"></div>
<div class="ax" style="left:393px;top:584px;width:234px;height:207px;background:radial-gradient(ellipse 106.90px 93.65px at 0.5px 206.50px,#ff9400 0.0%,#ff9500 146.2%,#ff9d00 150.5%,#ffa200 153.5%,#ff9e00 155.5%,#ff9500 156.8%,#ff8400 158.0%,#ff6900 159.8%,#ff6300 160.5%,#ff6400 161.2%,#ff6f00 162.2%,#ff8b00 163.8%,#ffa900 165.2%,#ffb100 166.0%,#ffb200 166.8%,#ffa900 167.8%,#ff9a00 169.2%,#ff9500 170.8%,#ff9400 320.0%);-webkit-mask-image:conic-gradient(from 0deg at 0.5px 206.50px,transparent 17.01deg,#000 22.56deg);mask-image:conic-gradient(from 0deg at 0.5px 206.50px,transparent 17.01deg,#000 22.56deg);"></div>
<div class="ax" style="left:393px;top:584px;width:234px;height:207px;background:radial-gradient(ellipse 106.90px 93.65px at 0.5px 206.50px,#ff9400 0.0%,#ff9500 145.2%,#ff9c00 148.5%,#ffa900 152.2%,#ffa800 154.0%,#ffa100 155.2%,#ff9400 156.2%,#ff8000 157.2%,#ff5600 159.0%,#ff4b00 159.8%,#ff4a00 160.5%,#ff5300 161.2%,#ff6400 162.0%,#ff9100 163.5%,#ffaf00 164.5%,#ffbe00 165.2%,#ffc200 165.8%,#ffc000 166.2%,#ffb700 167.0%,#ff9f00 168.5%,#ff9700 169.5%,#ff9400 171.8%,#ff9400 320.0%);-webkit-mask-image:conic-gradient(from 0deg at 0.5px 206.50px,transparent 22.56deg,#000 29.11deg);mask-image:conic-gradient(from 0deg at 0.5px 206.50px,transparent 22.56deg,#000 29.11deg);"></div>
<div class="ax" style="left:393px;top:584px;width:234px;height:207px;background:radial-gradient(ellipse 106.90px 93.65px at 0.5px 206.50px,#ff9400 0.0%,#ff9500 144.2%,#ff9b00 147.2%,#ffb100 151.8%,#ffb200 153.2%,#ffaa00 154.5%,#ff9d00 155.5%,#ff8c00 156.2%,#ff6d00 157.2%,#ff4200 158.5%,#ff3500 159.0%,#ff2e00 159.5%,#ff2c00 160.0%,#ff3100 160.5%,#ff3b00 161.0%,#ff5300 161.8%,#ff8800 163.0%,#ffb300 164.0%,#ffc400 164.5%,#ffd000 165.0%,#ffd400 165.5%,#ffd100 166.0%,#ffc300 166.8%,#ffa600 168.0%,#ff9c00 168.8%,#ff9600 169.8%,#ff9400 175.8%,#ff9400 320.0%);-webkit-mask-image:conic-gradient(from 0deg at 0.5px 206.50px,transparent 29.11deg,#000 35.50deg);mask-image:conic-gradient(from 0deg at 0.5px 206.50px,transparent 29.11deg,#000 35.50deg);"></div>
<div class="ax" style="left:393px;top:584px;width:234px;height:207px;background:radial-gradient(ellipse 106.90px 93.65px at 0.5px 206.50px,#ff9400 0.0%,#ff9500 143.8%,#ff9b00 146.5%,#ffaa00 149.0%,#ffba00 151.5%,#ffbc00 152.8%,#ffb700 153.8%,#ffac00 154.8%,#ff9c00 155.5%,#ff8500 156.2%,#ff6600 157.0%,#ff2d00 158.2%,#ff1b00 158.8%,#ff0f00 159.2%,#ff0b00 159.8%,#ff0f00 160.2%,#ff1c00 160.8%,#ff2f00 161.2%,#ff5300 162.0%,#ffb700 163.8%,#ffcf00 164.2%,#ffe000 164.8%,#ffe500 165.0%,#ffe800 165.2%,#ffe600 165.8%,#ffdc00 166.2%,#ffae00 167.8%,#ff9f00 168.5%,#ff9800 169.2%,#ff9400 170.8%,#ff9400 320.0%);-webkit-mask-image:conic-gradient(from 0deg at 0.5px 206.50px,transparent 35.50deg,#000 41.73deg);mask-image:conic-gradient(from 0deg at 0.5px 206.50px,transparent 35.50deg,#000 41.73deg);"></div>
<div class="ax" style="left:393px;top:584px;width:234px;height:207px;background:radial-gradient(ellipse 106.90px 93.65px at 0.5px 206.50px,#ff9400 0.0%,#ff9500 143.5%,#ff9b00 146.0%,#ffa800 148.0%,#ffc200 151.0%,#ffc700 152.2%,#ffc500 153.2%,#ffbf00 154.0%,#ffb200 154.8%,#ff9d00 155.5%,#ff7d00 156.2%,#ff5500 157.0%,#ff0c00 158.2%,#fe0000 158.5%,#eb0000 159.0%,#e50000 159.2%,#e20000 159.5%,#e10000 159.8%,#e40000 160.0%,#e80000 160.2%,#fa0000 160.8%,#ff0600 161.0%,#ff2300 161.5%,#ff5600 162.2%,#ffc500 163.8%,#ffe300 164.2%,#ffef00 164.5%,#fff800 164.8%,#fffe00 165.0%,#ffff03 165.2%,#fffd00 165.8%,#ffef00 166.2%,#ffbd00 167.5%,#ffad00 168.0%,#ff9e00 168.8%,#ff9700 169.5%,#ff9400 171.5%,#ff9400 320.0%);-webkit-mask-image:conic-gradient(from 0deg at 0.5px 206.50px,transparent 41.73deg,#000 48.78deg);mask-image:conic-gradient(from 0deg at 0.5px 206.50px,transparent 41.73deg,#000 48.78deg);"></div>
<div class="ax" style="left:393px;top:584px;width:234px;height:207px;background:radial-gradient(ellipse 106.90px 93.65px at 0.5px 206.50px,#ff9400 0.0%,#ff9500 143.2%,#ff9b00 145.8%,#ffa700 147.5%,#ffcd00 151.0%,#ffd300 152.2%,#ffd000 153.2%,#ffc800 154.0%,#ffb800 154.8%,#ffa800 155.2%,#ff9300 155.8%,#ff7800 156.2%,#ff4600 157.0%,#ff0e00 157.8%,#fb0000 158.0%,#dc0000 158.5%,#cf0000 158.8%,#c50000 159.0%,#be0000 159.2%,#ba0000 159.5%,#b90000 159.8%,#bc0000 160.0%,#c20000 160.2%,#cb0000 160.5%,#d70000 160.8%,#f60000 161.2%,#ff0a00 161.5%,#ff4900 162.2%,#ffbc00 163.5%,#ffe500 164.0%,#fff600 164.2%,#ffff08 164.5%,#ffff19 164.8%,#ffff24 165.0%,#ffff28 165.2%,#ffff27 165.5%,#ffff21 165.8%,#ffff16 166.0%,#ffff07 166.2%,#fff800 166.5%,#ffc600 167.5%,#ffb200 168.0%,#ffa500 168.5%,#ff9a00 169.2%,#ff9500 170.5%,#ff9400 320.0%);-webkit-mask-image:conic-gradient(from 0deg at 0.5px 206.50px,transparent 48.78deg,#000 55.61deg);mask-image:conic-gradient(from 0deg at 0.5px 206.50px,transparent 48.78deg,#000 55.61deg);"></div>
<div class="ax" style="left:393px;top:584px;width:234px;height:207px;background:radial-gradient(ellipse 106.90px 93.65px at 0.5px 206.50px,#ff9400 0.0%,#ff9500 143.0%,#ff9a00 145.2%,#ffa600 147.0%,#ffbb00 148.8%,#ffd800 151.0%,#ffdf00 152.0%,#ffde00 153.0%,#ffd700 153.8%,#ffc700 154.5%,#ffb600 155.0%,#ffa000 155.5%,#ff8300 156.0%,#ff5f00 156.5%,#ff2000 157.2%,#ff0a00 157.5%,#f30000 157.8%,#c90000 158.2%,#b70000 158.5%,#a80000 158.8%,#9c0000 159.0%,#930000 159.2%,#8f0000 159.5%,#8e0000 159.8%,#910000 160.0%,#990000 160.2%,#a40000 160.5%,#b20000 160.8%,#c30000 161.0%,#ee0000 161.5%,#ff0600 161.8%,#ff5500 162.5%,#ffc400 163.5%,#fff500 164.0%,#ffff10 164.2%,#ffff2a 164.5%,#ffff3d 164.8%,#ffff4a 165.0%,#ffff50 165.2%,#ffff4f 165.5%,#ffff47 165.8%,#ffff3a 166.0%,#ffff28 166.2%,#ffff13 166.5%,#fffc00 166.8%,#ffcf00 167.5%,#ffb800 168.0%,#ffa800 168.5%,#ff9e00 169.0%,#ff9700 169.8%,#ff9400 171.8%,#ff9400 320.0%);-webkit-mask-image:conic-gradient(from 0deg at 0.5px 206.50px,transparent 55.61deg,#000 63.17deg);mask-image:conic-gradient(from 0deg at 0.5px 206.50px,transparent 55.61deg,#000 63.17deg);"></div>
<div class="ax" style="left:393px;top:584px;width:234px;height:207px;background:radial-gradient(ellipse 106.90px 93.65px at 0.5px 206.50px,#ff9400 0.0%,#ff9500 142.8%,#ff9a00 145.0%,#ffa400 146.5%,#ffb600 148.0%,#ffe100 150.8%,#ffea00 151.8%,#ffed00 152.5%,#ffe900 153.2%,#ffdd00 154.0%,#ffcf00 154.5%,#ffbc00 155.0%,#ffa200 155.5%,#ff8000 156.0%,#ff5600 156.5%,#ff2600 157.0%,#ff0c00 157.2%,#f10000 157.5%,#be0000 158.0%,#920000 158.5%,#800000 158.8%,#720000 159.0%,#680000 159.2%,#620000 159.5%,#610000 159.8%,#650000 160.0%,#6e0000 160.2%,#7b0000 160.5%,#8c0000 160.8%,#a00000 161.0%,#b70000 161.2%,#ed0000 161.8%,#ff0c00 162.0%,#ff8c00 163.0%,#ffcc00 163.5%,#ffea00 163.8%,#ffff09 164.0%,#ffff2e 164.2%,#ffff4c 164.5%,#ffff63 164.8%,#ffff72 165.0%,#ffff79 165.2%,#ffff78 165.5%,#ffff6f 165.8%,#ffff5f 166.0%,#ffff4a 166.2%,#ffff16 166.8%,#fffc00 167.0%,#ffda00 167.5%,#ffbe00 168.0%,#ffab00 168.5%,#ffa000 169.0%,#ff9700 169.8%,#ff9400 171.5%,#ff9400 320.0%);-webkit-mask-image:conic-gradient(from 0deg at 0.5px 206.50px,transparent 63.17deg,#000 72.31deg);mask-image:conic-gradient(from 0deg at 0.5px 206.50px,transparent 63.17deg,#000 72.31deg);"></div>
<div class="ax" style="left:393px;top:584px;width:234px;height:207px;background:radial-gradient(ellipse 106.90px 93.65px at 0.5px 206.50px,#ff9400 0.0%,#ff9500 142.8%,#ff9b00 145.0%,#ffa600 146.5%,#ffb900 148.0%,#ffe800 150.8%,#fff300 151.8%,#fff500 152.5%,#fff100 153.2%,#ffe400 154.0%,#ffd500 154.5%,#ffc000 155.0%,#ffa300 155.5%,#ff7e00 156.0%,#ff5100 156.5%,#ff0000 157.2%,#aa0000 158.0%,#910000 158.2%,#7a0000 158.5%,#660000 158.8%,#560000 159.0%,#4b0000 159.2%,#450000 159.5%,#440000 159.8%,#490000 160.0%,#520000 160.2%,#600000 160.5%,#730000 160.8%,#890000 161.0%,#a30000 161.2%,#de0000 161.8%,#fe0000 162.0%,#ff4400 162.5%,#ffd100 163.5%,#fff200 163.8%,#ffff19 164.0%,#ffff41 164.2%,#ffff63 164.5%,#ffff7c 164.8%,#ffff8c 165.0%,#ffff94 165.2%,#ffff92 165.5%,#ffff88 165.8%,#ffff77 166.0%,#ffff60 166.2%,#ffff28 166.8%,#ffff0a 167.0%,#fff200 167.2%,#ffd000 167.8%,#ffb700 168.2%,#ffa600 168.8%,#ff9d00 169.2%,#ff9600 170.0%,#ff9400 172.5%,#ff9400 320.0%);-webkit-mask-image:conic-gradient(from 0deg at 0.5px 206.50px,transparent 72.31deg,#000 81.22deg);mask-image:conic-gradient(from 0deg at 0.5px 206.50px,transparent 72.31deg,#000 81.22deg);"></div>
<div class="ax" style="left:393px;top:584px;width:234px;height:207px;background:radial-gradient(ellipse 106.90px 93.65px at 0.5px 206.50px,#ff9400 0.0%,#ff9500 142.8%,#ff9b00 145.0%,#ffa600 146.5%,#ffba00 148.0%,#ffea00 150.8%,#fff500 151.8%,#fff800 152.5%,#fff300 153.2%,#ffe600 154.0%,#ffd700 154.5%,#ffc100 155.0%,#ffa400 155.5%,#ff7e00 156.0%,#ff4f00 156.5%,#ff1800 157.0%,#fa0000 157.2%,#a30000 158.0%,#890000 158.2%,#710000 158.5%,#5d0000 158.8%,#4d0000 159.0%,#410000 159.2%,#3b0000 159.5%,#3a0000 159.8%,#3f0000 160.0%,#480000 160.2%,#570000 160.5%,#6a0000 160.8%,#810000 161.0%,#9b0000 161.2%,#d80000 161.8%,#f90000 162.0%,#ff1d00 162.2%,#ffd300 163.5%,#fff500 163.8%,#ffff1f 164.0%,#ffff48 164.2%,#ffff6a 164.5%,#ffff84 164.8%,#ffff96 165.0%,#ffff9d 165.2%,#ffff9c 165.5%,#ffff91 165.8%,#ffff7f 166.0%,#ffff68 166.2%,#ffff2e 166.8%,#ffff0f 167.0%,#fff500 167.2%,#ffd200 167.8%,#ffb800 168.2%,#ffa700 168.8%,#ff9d00 169.2%,#ff9700 170.0%,#ff9400 172.5%,#ff9400 320.0%);-webkit-mask-image:conic-gradient(from 0deg at 0.5px 206.50px,transparent 81.22deg,#000 90.00deg);mask-image:conic-gradient(from 0deg at 0.5px 206.50px,transparent 81.22deg,#000 90.00deg);"></div>
<div class="fr" style="left:393px;top:584px;width:234px;height:207px"></div>
<div class="l" style="left:390.20px;top:790.10px;width:2.80px;height:0.80px;background:#555"></div>
<div class="t" style="left:387.30px;top:785.33px;font-size:10.60px;transform-origin:0 0;transform:scaleX(1.160) translateX(-100%);">0</div>
<div class="l" style="left:390.20px;top:743.27px;width:2.80px;height:0.80px;background:#555"></div>
<div class="t" style="left:387.30px;top:738.50px;font-size:10.60px;transform-origin:0 0;transform:scaleX(1.160) translateX(-100%);">50</div>
<div class="l" style="left:390.20px;top:696.45px;width:2.80px;height:0.80px;background:#555"></div>
<div class="t" style="left:387.30px;top:691.68px;font-size:10.60px;transform-origin:0 0;transform:scaleX(1.160) translateX(-100%);">100</div>
<div class="l" style="left:390.20px;top:649.62px;width:2.80px;height:0.80px;background:#555"></div>
<div class="t" style="left:387.30px;top:644.85px;font-size:10.60px;transform-origin:0 0;transform:scaleX(1.160) translateX(-100%);">150</div>
<div class="l" style="left:390.20px;top:602.80px;width:2.80px;height:0.80px;background:#555"></div>
<div class="t" style="left:387.30px;top:598.03px;font-size:10.60px;transform-origin:0 0;transform:scaleX(1.160) translateX(-100%);">200</div>
<div class="l" style="left:393.10px;top:791.00px;width:0.80px;height:2.60px;background:#555"></div>
<div class="t" style="left:393.50px;top:794.43px;font-size:10.60px;transform-origin:0 0;transform:scaleX(1.160) translateX(-50%);">0</div>
<div class="l" style="left:446.55px;top:791.00px;width:0.80px;height:2.60px;background:#555"></div>
<div class="t" style="left:446.95px;top:794.43px;font-size:10.60px;transform-origin:0 0;transform:scaleX(1.160) translateX(-50%);">50</div>
<div class="l" style="left:500.00px;top:791.00px;width:0.80px;height:2.60px;background:#555"></div>
<div class="t" style="left:500.40px;top:794.43px;font-size:10.60px;transform-origin:0 0;transform:scaleX(1.160) translateX(-50%);">100</div>
<div class="l" style="left:553.45px;top:791.00px;width:0.80px;height:2.60px;background:#555"></div>
<div class="t" style="left:553.85px;top:794.43px;font-size:10.60px;transform-origin:0 0;transform:scaleX(1.160) translateX(-50%);">150</div>
<div class="l" style="left:606.90px;top:791.00px;width:0.80px;height:2.60px;background:#555"></div>
<div class="t" style="left:607.30px;top:794.43px;font-size:10.60px;transform-origin:0 0;transform:scaleX(1.160) translateX(-50%);">200</div>
<div class="t" style="left:510.00px;top:807.17px;font-size:12.20px;transform-origin:0 0;transform:scaleX(1.000) translateX(-50%);">r</div>
<div class="t" style="left:359.00px;top:687.50px;font-size:12.20px;transform:translate(-50%,-50%) rotate(-90deg) scaleX(1.08);">z</div>
<div class="cb" style="left:641px;top:584px;width:10px;height:207px;background:linear-gradient(to top,#0b0000 0.0%,#2c0000 5.0%,#4e0000 10.0%,#6f0000 15.0%,#900000 20.0%,#b20000 25.0%,#d30000 30.0%,#f50000 35.0%,#ff1700 40.0%,#ff3900 45.0%,#ff5a00 50.0%,#ff7c00 55.0%,#ff9d00 60.0%,#ffbf00 65.0%,#ffe000 70.0%,#ffff04 75.0%,#ffff36 80.0%,#ffff68 85.0%,#ffff9b 90.0%,#ffffcd 95.0%,#ffffff 100.0%)"></div>
<div class="fr" style="left:641px;top:584px;width:10px;height:207px"></div>
<div class="l" style="left:651.00px;top:609.90px;width:2.60px;height:0.80px;background:#555"></div>
<div class="t" style="left:655.80px;top:605.83px;font-size:10.60px;transform-origin:0 0;transform:scaleX(1.160);">2</div>
<div class="l" style="left:651.00px;top:639.52px;width:2.60px;height:0.80px;background:#555"></div>
<div class="t" style="left:655.80px;top:635.45px;font-size:10.60px;transform-origin:0 0;transform:scaleX(1.160);">1</div>
<div class="l" style="left:651.00px;top:669.14px;width:2.60px;height:0.80px;background:#555"></div>
<div class="t" style="left:655.80px;top:665.07px;font-size:10.60px;transform-origin:0 0;transform:scaleX(1.160);">0</div>
<div class="l" style="left:651.00px;top:698.76px;width:2.60px;height:0.80px;background:#555"></div>
<div class="t" style="left:655.80px;top:694.69px;font-size:10.60px;transform-origin:0 0;transform:scaleX(1.160);">−1</div>
<div class="l" style="left:651.00px;top:728.38px;width:2.60px;height:0.80px;background:#555"></div>
<div class="t" style="left:655.80px;top:724.31px;font-size:10.60px;transform-origin:0 0;transform:scaleX(1.160);">−2</div>
<div class="l" style="left:651.00px;top:758.00px;width:2.60px;height:0.80px;background:#555"></div>
<div class="t" style="left:655.80px;top:753.93px;font-size:10.60px;transform-origin:0 0;transform:scaleX(1.160);">−3</div>
<div class="l" style="left:651.00px;top:787.62px;width:2.60px;height:0.80px;background:#555"></div>
<div class="t" style="left:655.80px;top:783.55px;font-size:10.60px;transform-origin:0 0;transform:scaleX(1.160);">−4</div>
<div class="t" style="left:623.60px;top:573.03px;font-size:10.60px;transform-origin:0 0;transform:scaleX(1.120);">1e−7</div>
<div class="t" style="left:680.00px;top:689.00px;font-size:10.60px;transform:translate(-50%,-50%) rotate(-90deg) scaleX(1.08);">Bz</div>
<div class="ti" style="left:478.00px;top:560.70px;transform:translateX(-50%) scaleX(1.0000);">(f) scheme 2 with <i>C</i> = 0.4 (r-z)</div>
<div class="ax" style="left:39px;top:857px;width:234px;height:207px;background:radial-gradient(ellipse 105.95px 93.65px at 0.5px 206.50px,#ff9900 0.0%,#ff9f00 0.5%,#ffa000 1.0%,#ff9600 1.8%,#ff8a00 2.5%,#ff8800 3.0%,#ff8b00 3.5%,#ff9f00 4.8%,#ffa000 5.2%,#ff9b00 5.8%,#ff8b00 6.8%,#ff8800 7.2%,#ff8b00 7.8%,#ff9f00 9.0%,#ffa000 9.5%,#ff9c00 10.0%,#ff8b00 11.0%,#ff8800 11.5%,#ff8a00 12.0%,#ff9e00 13.2%,#ffa100 13.8%,#ff9d00 14.2%,#ff8900 15.5%,#ff8800 16.0%,#ff8d00 16.5%,#ff9d00 17.5%,#ffa100 18.0%,#ff9d00 18.5%,#ff8a00 19.8%,#ff8800 20.2%,#ff8c00 20.8%,#ff9d00 21.8%,#ffa100 22.2%,#ff9e00 22.8%,#ff8a00 24.0%,#ff8800 24.5%,#ff8b00 25.0%,#ff9f00 26.2%,#ffa000 26.8%,#ff9b00 27.2%,#ff8b00 28.2%,#ff8800 28.8%,#ff8b00 29.2%,#ff9f00 30.5%,#ffa000 31.0%,#ff9c00 31.5%,#ff8b00 32.5%,#ff8800 33.0%,#ff8a00 33.5%,#ff9e00 34.8%,#ffa100 35.2%,#ff9d00 35.8%,#ff8900 37.0%,#ff8800 37.5%,#ff8d00 38.0%,#ff9d00 39.0%,#ffa100 39.5%,#ff9d00 40.0%,#ff8a00 41.2%,#ff8800 41.8%,#ff8c00 42.2%,#ff9d00 43.2%,#ffa100 43.8%,#ff9e00 44.2%,#ff8a00 45.5%,#ff8800 46.0%,#ff8b00 46.5%,#ff9f00 47.8%,#ffa000 48.2%,#ff9b00 48.8%,#ff8b00 49.8%,#ff8800 50.2%,#ff8b00 50.8%,#ff9f00 52.0%,#ffa000 52.5%,#ff9c00 53.0%,#ff8b00 54.0%,#ff8800 54.5%,#ff8a00 55.0%,#ff9e00 56.2%,#ffa100 56.8%,#ff9d00 57.2%,#ff8900 58.5%,#ff8800 59.0%,#ff8d00 59.5%,#ff9d00 60.5%,#ffa100 61.0%,#ff9d00 61.5%,#ff8a00 62.8%,#ff8800 63.2%,#ff8c00 63.8%,#ff9d00 64.8%,#ffa100 65.2%,#ff9e00 65.8%,#ff8a00 67.0%,#ff8800 67.5%,#ff8b00 68.0%,#ff9f00 69.2%,#ffa000 69.8%,#ff9b00 70.2%,#ff8b00 71.2%,#ff8800 71.8%,#ff8b00 72.2%,#ff9f00 73.5%,#ffa000 74.0%,#ff9c00 74.5%,#ff8b00 75.5%,#ff8800 76.0%,#ff8a00 76.5%,#ff9e00 77.8%,#ffa100 78.2%,#ff9d00 78.8%,#ff8900 80.0%,#ff8800 80.5%,#ff8d00 81.0%,#ff9d00 82.0%,#ffa100 82.5%,#ff9d00 83.0%,#ff8900 84.2%,#ff8700 84.8%,#ff8c00 85.2%,#ff9e00 86.2%,#ffa200 86.8%,#ff9f00 87.2%,#ff8800 88.5%,#ff8500 89.0%,#ff8a00 89.5%,#ffa200 90.8%,#ffa400 91.2%,#ff9e00 91.8%,#ff8800 92.8%,#ff8300 93.2%,#ff8600 93.8%,#ffa200 95.0%,#ffa700 95.5%,#ffa300 96.0%,#ff8500 97.2%,#ff8000 97.8%,#ff8400 98.2%,#ff9600 99.0%,#ffa300 99.5%,#ffaa00 100.0%,#ffa700 100.5%,#ff9d00 101.0%,#ff8200 102.0%,#ff7c00 102.5%,#ff8100 103.0%,#ff8d00 103.5%,#ffa400 104.2%,#ffad00 104.8%,#ffae00 105.0%,#ffac00 105.2%,#ffa200 105.8%,#ff8300 106.8%,#ff7900 107.2%,#ff7800 107.5%,#ff7a00 107.8%,#ff8400 108.2%,#ffa600 109.2%,#ffb100 109.8%,#ffb200 110.0%,#ffb100 110.2%,#ffae00 110.5%,#ffa000 111.0%,#ff7d00 112.0%,#ff7700 112.2%,#ff7400 112.5%,#ff7300 112.8%,#ff7500 113.0%,#ff8200 113.5%,#ffa800 114.5%,#ffb500 115.0%,#ffb800 115.2%,#ffb800 115.5%,#ffb500 115.8%,#ffa600 116.2%,#ff7d00 117.2%,#ff7000 117.8%,#ff6d00 118.0%,#ff6d00 118.2%,#ff7000 118.5%,#ff7600 118.8%,#ff8900 119.2%,#ffab00 120.0%,#ffbb00 120.5%,#ffbf00 120.8%,#ffc000 121.0%,#ffbd00 121.2%,#ffb700 121.5%,#ffa400 122.0%,#ff7500 123.0%,#ff6c00 123.2%,#ff6700 123.5%,#ff6400 123.8%,#ff6500 124.0%,#ff6900 124.2%,#ff7100 124.5%,#ff8700 125.0%,#ffae00 125.8%,#ffb900 126.0%,#ffc200 126.2%,#ffc700 126.5%,#ffc900 126.8%,#ffc700 127.0%,#ffc200 127.2%,#ffba00 127.5%,#ffa100 128.0%,#ff7700 128.8%,#ff6b00 129.0%,#ff6200 129.2%,#ff5c00 129.5%,#ff5900 129.8%,#ff5b00 130.0%,#ff6000 130.2%,#ff6900 130.5%,#ff8300 131.0%,#ffb100 131.8%,#ffbe00 132.0%,#ffc900 132.2%,#ffd100 132.5%,#ffd500 132.8%,#ffd500 133.0%,#ffd000 133.2%,#ffc900 133.5%,#ffbd00 133.8%,#ffa000 134.2%,#ff8200 134.8%,#ff7a00 135.0%,#ff7900 135.2%,#ff7d00 135.5%,#ff8700 135.8%,#ffaa00 136.0%,#ffc400 136.8%,#ffe200 137.5%,#ffe900 137.8%,#ffee00 138.0%,#fff000 138.2%,#ffef00 138.5%,#ffe900 138.8%,#ffe000 139.0%,#ffd300 139.2%,#ffc300 139.5%,#ff9b00 140.0%,#ff4200 141.0%,#ff2d00 141.2%,#ff1c00 141.5%,#ff0e00 141.8%,#ff0300 142.0%,#fc0000 142.2%,#fb0000 142.5%,#ff0000 142.8%,#ff0800 143.0%,#ff1400 143.2%,#ff3300 143.8%,#ffb000 145.5%,#ffe600 146.2%,#fffa00 146.5%,#ffff16 146.8%,#ffff71 147.5%,#ffff8d 147.8%,#ffffa5 148.0%,#ffffb9 148.2%,#ffffc8 148.5%,#ffffd1 148.8%,#ffffd3 149.0%,#ffffcf 149.2%,#ffffc3 149.5%,#ffffb2 149.8%,#ffff9a 150.0%,#ffff7e 150.2%,#ffff5e 150.5%,#ffff15 151.0%,#fff400 151.2%,#ff8e00 152.2%,#ff4900 153.0%,#ff0a00 153.8%,#f60000 154.0%,#d50000 154.5%,#bb0000 155.0%,#b10000 155.2%,#aa0000 155.5%,#a60000 155.8%,#a50000 156.0%,#a70000 156.2%,#ac0000 156.5%,#b30000 156.8%,#ca0000 157.2%,#e80000 157.8%,#f90000 158.0%,#ff0b00 158.2%,#ff5100 159.2%,#ff7d00 160.0%,#ff9f00 160.8%,#ffb600 161.5%,#ffc500 162.2%,#ffcd00 163.0%,#ffce00 164.0%,#ffc500 165.2%,#ffa500 168.0%,#ff9900 169.8%,#ff9500 172.2%,#ff9400 320.0%);"></div>
<div class="ax" style="left:39px;top:857px;width:234px;height:207px;background:radial-gradient(ellipse 105.95px 93.65px at 0.5px 206.50px,#ff9900 0.0%,#ff9f00 0.5%,#ffa000 1.0%,#ff9600 1.8%,#ff8a00 2.5%,#ff8800 3.0%,#ff8b00 3.5%,#ff9f00 4.8%,#ffa000 5.2%,#ff9b00 5.8%,#ff8b00 6.8%,#ff8800 7.2%,#ff8b00 7.8%,#ff9e00 9.0%,#ffa000 9.5%,#ff9c00 10.0%,#ff8b00 11.0%,#ff8800 11.5%,#ff8a00 12.0%,#ff9e00 13.2%,#ffa100 13.8%,#ff9d00 14.2%,#ff8900 15.5%,#ff8800 16.0%,#ff8d00 16.5%,#ff9d00 17.5%,#ffa100 18.0%,#ff9e00 18.5%,#ff8a00 19.8%,#ff8800 20.2%,#ff8c00 20.8%,#ff9f00 22.0%,#ffa000 22.5%,#ff9700 23.2%,#ff8a00 24.0%,#ff8800 24.5%,#ff8b00 25.0%,#ff9f00 26.2%,#ffa000 26.8%,#ff9c00 27.2%,#ff8b00 28.2%,#ff8800 28.8%,#ff8a00 29.2%,#ff9e00 30.5%,#ffa100 31.0%,#ff9d00 31.5%,#ff8900 32.8%,#ff8800 33.2%,#ff8d00 33.8%,#ff9d00 34.8%,#ffa100 35.2%,#ff9d00 35.8%,#ff8a00 37.0%,#ff8800 37.5%,#ff8c00 38.0%,#ff9d00 39.0%,#ffa100 39.5%,#ff9e00 40.0%,#ff8a00 41.2%,#ff8800 41.8%,#ff8b00 42.2%,#ff9f00 43.5%,#ffa000 44.0%,#ff9b00 44.5%,#ff8b00 45.5%,#ff8800 46.0%,#ff8b00 46.5%,#ff9e00 47.8%,#ffa000 48.2%,#ff9c00 48.8%,#ff8c00 49.8%,#ff8800 50.2%,#ff8a00 50.8%,#ff9e00 52.0%,#ffa100 52.5%,#ff9d00 53.0%,#ff8900 54.2%,#ff8800 54.8%,#ff8c00 55.2%,#ff9d00 56.2%,#ffa100 56.8%,#ff9e00 57.2%,#ff8a00 58.5%,#ff8800 59.0%,#ff8c00 59.5%,#ff9f00 60.8%,#ffa000 61.2%,#ff9700 62.0%,#ff8a00 62.8%,#ff8800 63.2%,#ff8b00 63.8%,#ff9f00 65.0%,#ffa000 65.5%,#ff9c00 66.0%,#ff8b00 67.0%,#ff8800 67.5%,#ff8a00 68.0%,#ff9e00 69.2%,#ffa100 69.8%,#ff9d00 70.2%,#ff8900 71.5%,#ff8800 72.0%,#ff8d00 72.5%,#ff9d00 73.5%,#ffa100 74.0%,#ff9d00 74.5%,#ff8a00 75.8%,#ff8800 76.2%,#ff8c00 76.8%,#ff9d00 77.8%,#ffa100 78.2%,#ff9e00 78.8%,#ff8a00 80.0%,#ff8800 80.5%,#ff8b00 81.0%,#ff9f00 82.2%,#ffa000 82.8%,#ff9b00 83.2%,#ff8b00 84.2%,#ff8700 84.8%,#ff8a00 85.2%,#ff9f00 86.5%,#ffa100 87.0%,#ff9d00 87.5%,#ff8700 88.8%,#ff8600 89.2%,#ff8c00 89.8%,#ffa000 90.8%,#ffa400 91.2%,#ff9f00 91.8%,#ff8600 93.0%,#ff8300 93.5%,#ff8900 94.0%,#ff9f00 95.0%,#ffa600 95.5%,#ffa400 96.0%,#ff9b00 96.5%,#ff8800 97.2%,#ff8100 97.8%,#ff8200 98.2%,#ff8c00 98.8%,#ffa400 99.8%,#ffa900 100.2%,#ffa500 100.8%,#ff9200 101.5%,#ff8500 102.0%,#ff7e00 102.5%,#ff7f00 103.0%,#ff8900 103.5%,#ffa600 104.5%,#ffad00 105.0%,#ffac00 105.2%,#ffa500 105.8%,#ff8100 107.0%,#ff7900 107.5%,#ff7900 107.8%,#ff8100 108.2%,#ffa800 109.5%,#ffb100 110.0%,#ffb100 110.2%,#ffaf00 110.5%,#ffa400 111.0%,#ff8200 112.0%,#ff7600 112.5%,#ff7400 112.8%,#ff7500 113.0%,#ff7800 113.2%,#ff8600 113.8%,#ffab00 114.8%,#ffb500 115.2%,#ffb700 115.5%,#ffb600 115.8%,#ffb200 116.0%,#ffa200 116.5%,#ff7b00 117.5%,#ff7400 117.8%,#ff6f00 118.0%,#ff6e00 118.2%,#ff6f00 118.5%,#ff7300 118.8%,#ff8300 119.2%,#ffae00 120.2%,#ffb600 120.5%,#ffbb00 120.8%,#ffbe00 121.0%,#ffbd00 121.2%,#ffba00 121.5%,#ffb300 121.8%,#ff9f00 122.2%,#ff7c00 123.0%,#ff6b00 123.5%,#ff6700 123.8%,#ff6600 124.0%,#ff6800 124.2%,#ff6d00 124.5%,#ff8000 125.0%,#ffb200 126.0%,#ffbb00 126.2%,#ffc200 126.5%,#ffc600 126.8%,#ffc700 127.0%,#ffc400 127.2%,#ffbe00 127.5%,#ffa900 128.0%,#ff7300 129.0%,#ff6900 129.2%,#ff6100 129.5%,#ff5c00 129.8%,#ff5c00 130.0%,#ff5e00 130.2%,#ff6500 130.5%,#ff6f00 130.8%,#ff8900 131.2%,#ffb500 132.0%,#ffc100 132.2%,#ffca00 132.5%,#ffd000 132.8%,#ffd300 133.0%,#ffd100 133.2%,#ffcc00 133.5%,#ffc300 133.8%,#ffa900 134.2%,#ff8a00 134.8%,#ff7f00 135.0%,#ff7a00 135.2%,#ff7b00 135.5%,#ff8100 135.8%,#ff8c00 136.0%,#ffad00 136.2%,#ffc700 137.0%,#ffe300 137.8%,#ffea00 138.0%,#ffee00 138.2%,#ffee00 138.5%,#ffeb00 138.8%,#ffe400 139.0%,#ffd900 139.2%,#ffcb00 139.5%,#ffa600 140.0%,#ff3900 141.2%,#ff2600 141.5%,#ff1600 141.8%,#ff0a00 142.0%,#ff0200 142.2%,#fd0000 142.5%,#ff0000 142.8%,#ff0500 143.0%,#ff0f00 143.2%,#ff1c00 143.5%,#ff3d00 144.0%,#ffdf00 146.2%,#fff200 146.5%,#ffff0b 146.8%,#ffff69 147.5%,#ffff86 147.8%,#ffffa0 148.0%,#ffffb6 148.2%,#ffffc8 148.5%,#ffffd3 148.8%,#ffffd8 149.0%,#ffffd6 149.2%,#ffffcd 149.5%,#ffffbd 149.8%,#ffffa7 150.0%,#ffff8c 150.2%,#ffff6d 150.5%,#ffff26 151.0%,#ffff00 151.2%,#ff9a00 152.2%,#ff5400 153.0%,#ff1400 153.8%,#ff0100 154.0%,#ca0000 154.8%,#af0000 155.2%,#a40000 155.5%,#9c0000 155.8%,#970000 156.0%,#940000 156.2%,#950000 156.5%,#990000 156.8%,#a00000 157.0%,#a90000 157.2%,#c30000 157.8%,#e40000 158.2%,#f60000 158.5%,#ff0900 158.8%,#ff5200 159.8%,#ff7f00 160.5%,#ff9800 161.0%,#ffab00 161.5%,#ffbf00 162.2%,#ffca00 163.0%,#ffce00 163.8%,#ffcb00 164.8%,#ffb800 166.5%,#ffa200 168.5%,#ff9800 170.2%,#ff9400 173.2%,#ff9400 320.0%);-webkit-mask-image:conic-gradient(from 0deg at 0.5px 206.50px,transparent 0.00deg,#000 3.39deg);mask-image:conic-gradient(from 0deg at 0.5px 206.50px,transparent 0.00deg,#000 3.39deg);"></div>
<div class="ax" style="left:39px;top:857px;width:234px;height:207px;background:radial-gradient(ellipse 105.95px 93.65px at 0.5px 206.50px,#ff9900 0.0%,#ff9f00 0.5%,#ffa000 1.0%,#ff9600 1.8%,#ff8a00 2.5%,#ff8800 3.0%,#ff8b00 3.5%,#ff9f00 4.8%,#ffa000 5.2%,#ff9c00 5.8%,#ff8b00 6.8%,#ff8800 7.2%,#ff8a00 7.8%,#ff9e00 9.0%,#ffa100 9.5%,#ff9d00 10.0%,#ff8900 11.2%,#ff8800 11.8%,#ff8d00 12.2%,#ff9d00 13.2%,#ffa100 13.8%,#ff9e00 14.2%,#ff8a00 15.5%,#ff8800 16.0%,#ff8c00 16.5%,#ff9f00 17.8%,#ffa000 18.2%,#ff9b00 18.8%,#ff8b00 19.8%,#ff8800 20.2%,#ff8b00 20.8%,#ff9e00 22.0%,#ffa000 22.5%,#ff9c00 23.0%,#ff8900 24.2%,#ff8800 24.8%,#ff9100 25.5%,#ff9e00 26.2%,#ffa100 26.8%,#ff9d00 27.2%,#ff8a00 28.5%,#ff8800 29.0%,#ff8c00 29.5%,#ff9d00 30.5%,#ffa100 31.0%,#ff9e00 31.5%,#ff8a00 32.8%,#ff8800 33.2%,#ff8b00 33.8%,#ff9f00 35.0%,#ffa000 35.5%,#ff9c00 36.0%,#ff8b00 37.0%,#ff8800 37.5%,#ff8a00 38.0%,#ff9e00 39.2%,#ffa100 39.8%,#ff9d00 40.2%,#ff8900 41.5%,#ff8800 42.0%,#ff8c00 42.5%,#ff9d00 43.5%,#ffa100 44.0%,#ff9e00 44.5%,#ff8a00 45.8%,#ff8800 46.2%,#ff8b00 46.8%,#ff9f00 48.0%,#ffa000 48.5%,#ff9b00 49.0%,#ff8b00 50.0%,#ff8800 50.5%,#ff8b00 51.0%,#ff9e00 52.2%,#ffa000 52.8%,#ff9c00 53.2%,#ff8900 54.5%,#ff8800 55.0%,#ff8d00 55.5%,#ff9d00 56.5%,#ffa100 57.0%,#ff9d00 57.5%,#ff8a00 58.8%,#ff8800 59.2%,#ff8c00 59.8%,#ff9f00 61.0%,#ffa000 61.5%,#ff9700 62.2%,#ff8b00 63.0%,#ff8800 63.5%,#ff8b00 64.0%,#ff9f00 65.2%,#ffa000 65.8%,#ff9c00 66.2%,#ff8b00 67.2%,#ff8800 67.8%,#ff8a00 68.2%,#ff9e00 69.5%,#ffa100 70.0%,#ff9d00 70.5%,#ff8900 71.8%,#ff8800 72.2%,#ff8c00 72.8%,#ff9d00 73.8%,#ffa100 74.2%,#ff9e00 74.8%,#ff8a00 76.0%,#ff8800 76.5%,#ff8b00 77.0%,#ff9f00 78.2%,#ffa000 78.8%,#ff9c00 79.2%,#ff8b00 80.2%,#ff8800 80.8%,#ff8a00 81.2%,#ff9e00 82.5%,#ffa100 83.0%,#ff9d00 83.5%,#ff8900 84.8%,#ff8800 85.2%,#ff8d00 85.8%,#ff9d00 86.8%,#ffa100 87.2%,#ff9e00 87.8%,#ff8900 89.0%,#ff8600 89.5%,#ff8b00 90.0%,#ffa100 91.2%,#ffa300 91.8%,#ff9d00 92.2%,#ff8800 93.2%,#ff8400 93.8%,#ff8700 94.2%,#ffa100 95.5%,#ffa500 96.0%,#ffa200 96.5%,#ff8700 97.8%,#ff8100 98.2%,#ff8400 98.8%,#ff9500 99.5%,#ffa500 100.2%,#ffa800 100.8%,#ffa300 101.2%,#ff8400 102.5%,#ff7e00 103.0%,#ff8100 103.5%,#ff8c00 104.0%,#ffa700 105.0%,#ffac00 105.5%,#ffa800 106.0%,#ff9c00 106.5%,#ff8500 107.2%,#ff7c00 107.8%,#ff7a00 108.0%,#ff7e00 108.5%,#ff8b00 109.0%,#ffa900 110.0%,#ffb000 110.5%,#ffb000 110.8%,#ffa800 111.2%,#ff9000 112.0%,#ff8000 112.5%,#ff7600 113.0%,#ff7500 113.2%,#ff7700 113.5%,#ff8100 114.0%,#ffac00 115.2%,#ffb500 115.8%,#ffb600 116.0%,#ffb400 116.2%,#ffa800 116.8%,#ff7a00 118.0%,#ff7400 118.2%,#ff7000 118.5%,#ff6f00 118.8%,#ff7100 119.0%,#ff7600 119.2%,#ff8700 119.8%,#ffaf00 120.8%,#ffb600 121.0%,#ffbb00 121.2%,#ffbd00 121.5%,#ffbb00 121.8%,#ffb700 122.0%,#ffa600 122.5%,#ff7a00 123.5%,#ff7100 123.8%,#ff6b00 124.0%,#ff6800 124.2%,#ff6800 124.5%,#ff6b00 124.8%,#ff7100 125.0%,#ff8400 125.5%,#ffb400 126.5%,#ffbc00 126.8%,#ffc200 127.0%,#ffc500 127.2%,#ffc500 127.5%,#ffc100 127.8%,#ffba00 128.0%,#ffa400 128.5%,#ff7c00 129.2%,#ff6700 129.8%,#ff6100 130.0%,#ff5e00 130.2%,#ff5e00 130.5%,#ff6200 130.8%,#ff6a00 131.0%,#ff8100 131.5%,#ffb900 132.5%,#ffc300 132.8%,#ffcb00 133.0%,#ffd000 133.2%,#ffd000 133.5%,#ffcd00 133.8%,#ffc700 134.0%,#ffbd00 134.2%,#ffa200 134.8%,#ff8500 135.2%,#ff7d00 135.5%,#ff7b00 135.8%,#ff7e00 136.0%,#ff8700 136.2%,#ff9400 136.5%,#ffb000 136.8%,#ffde00 138.0%,#ffea00 138.5%,#ffec00 138.8%,#ffeb00 139.0%,#ffe600 139.2%,#ffdc00 139.5%,#ffd000 139.8%,#ffc000 140.0%,#ff9900 140.5%,#ff4100 141.5%,#ff2d00 141.8%,#ff1c00 142.0%,#ff0f00 142.2%,#ff0600 142.5%,#ff0100 142.8%,#ff0100 143.0%,#ff0600 143.2%,#ff0f00 143.5%,#ff1b00 143.8%,#ff3b00 144.2%,#ffdf00 146.5%,#fff300 146.8%,#ffff0d 147.0%,#ffff6d 147.8%,#ffff8b 148.0%,#ffffa6 148.2%,#ffffbc 148.5%,#ffffce 148.8%,#ffffd9 149.0%,#ffffdd 149.2%,#ffffd9 149.5%,#ffffcf 149.8%,#ffffbd 150.0%,#ffffa6 150.2%,#ffff8a 150.5%,#ffff6a 150.8%,#ffff22 151.2%,#fffd00 151.5%,#ff9900 152.5%,#ff3f00 153.5%,#ff0100 154.2%,#c80000 155.0%,#a90000 155.5%,#920000 156.0%,#8b0000 156.2%,#860000 156.5%,#840000 156.8%,#850000 157.0%,#8a0000 157.2%,#910000 157.5%,#9b0000 157.8%,#b60000 158.2%,#d80000 158.8%,#fe0000 159.2%,#ff4b00 160.2%,#ff7b00 161.0%,#ff9500 161.5%,#ffa900 162.0%,#ffbe00 162.8%,#ffca00 163.5%,#ffce00 164.2%,#ffcb00 165.2%,#ffb800 167.0%,#ffa200 169.0%,#ff9800 170.8%,#ff9400 173.8%,#ff9400 320.0%);-webkit-mask-image:conic-gradient(from 0deg at 0.5px 206.50px,transparent 3.39deg,#000 6.78deg);mask-image:conic-gradient(from 0deg at 0.5px 206.50px,transparent 3.39deg,#000 6.78deg);"></div>
<div class="ax" style="left:39px;top:857px;width:234px;height:207px;background:radial-gradient(ellipse 105.95px 93.65px at 0.5px 206.50px,#ff9900 0.0%,#ff9f00 0.5%,#ffa000 1.0%,#ff9700 1.8%,#ff8a00 2.5%,#ff8800 3.0%,#ff8b00 3.5%,#ff9e00 4.8%,#ffa000 5.2%,#ff9c00 5.8%,#ff8900 7.0%,#ff8800 7.5%,#ff9100 8.2%,#ff9d00 9.0%,#ffa100 9.5%,#ff9e00 10.0%,#ff8a00 11.2%,#ff8800 11.8%,#ff8c00 12.2%,#ff9f00 13.5%,#ffa000 14.0%,#ff9c00 14.5%,#ff8b00 15.5%,#ff8800 16.0%,#ff8a00 16.5%,#ff9e00 17.8%,#ffa100 18.2%,#ff9d00 18.8%,#ff8900 20.0%,#ff8800 20.5%,#ff8c00 21.0%,#ff9d00 22.0%,#ffa100 22.5%,#ff9e00 23.0%,#ff8b00 24.2%,#ff8800 24.8%,#ff8b00 25.2%,#ff9e00 26.5%,#ffa000 27.0%,#ff9c00 27.5%,#ff8900 28.8%,#ff8800 29.2%,#ff8d00 29.8%,#ff9d00 30.8%,#ffa100 31.2%,#ff9e00 31.8%,#ff8a00 33.0%,#ff8800 33.5%,#ff8b00 34.0%,#ff9f00 35.2%,#ffa000 35.8%,#ff9c00 36.2%,#ff8b00 37.2%,#ff8800 37.8%,#ff8a00 38.2%,#ff9e00 39.5%,#ffa100 40.0%,#ff9d00 40.5%,#ff8a00 41.8%,#ff8800 42.2%,#ff8c00 42.8%,#ff9f00 44.0%,#ffa000 44.5%,#ff9700 45.2%,#ff8b00 46.0%,#ff8800 46.5%,#ff8b00 47.0%,#ff9e00 48.2%,#ffa000 48.8%,#ff9c00 49.2%,#ff8900 50.5%,#ff8800 51.0%,#ff8d00 51.5%,#ff9d00 52.5%,#ffa100 53.0%,#ff9e00 53.5%,#ff8a00 54.8%,#ff8800 55.2%,#ff8b00 55.8%,#ff9f00 57.0%,#ffa000 57.5%,#ff9c00 58.0%,#ff8b00 59.0%,#ff8800 59.5%,#ff8a00 60.0%,#ff9e00 61.2%,#ffa100 61.8%,#ff9d00 62.2%,#ff8a00 63.5%,#ff8800 64.0%,#ff8c00 64.5%,#ff9f00 65.8%,#ffa000 66.2%,#ff9700 67.0%,#ff8b00 67.8%,#ff8800 68.2%,#ff8b00 68.8%,#ff9e00 70.0%,#ffa100 70.5%,#ff9d00 71.0%,#ff8900 72.2%,#ff8800 72.8%,#ff8d00 73.2%,#ff9d00 74.2%,#ffa100 74.8%,#ff9e00 75.2%,#ff8a00 76.5%,#ff8800 77.0%,#ff8b00 77.5%,#ff9f00 78.8%,#ffa000 79.2%,#ff9c00 79.8%,#ff8b00 80.8%,#ff8800 81.2%,#ff8a00 81.8%,#ff9e00 83.0%,#ffa100 83.5%,#ff9d00 84.0%,#ff8a00 85.2%,#ff8800 85.8%,#ff8c00 86.2%,#ff9f00 87.5%,#ffa000 88.0%,#ff9b00 88.5%,#ff8a00 89.5%,#ff8700 90.0%,#ff8a00 90.5%,#ffa000 91.8%,#ffa300 92.2%,#ff9e00 92.8%,#ff8700 94.0%,#ff8500 94.5%,#ff8a00 95.0%,#ffa200 96.2%,#ffa500 96.8%,#ff9f00 97.2%,#ff8500 98.5%,#ff8200 99.0%,#ff8700 99.5%,#ffa300 100.8%,#ffa800 101.2%,#ffa400 101.8%,#ff9400 102.5%,#ff8200 103.2%,#ff7f00 103.8%,#ff8400 104.2%,#ffa300 105.5%,#ffaa00 106.0%,#ffa900 106.5%,#ffa000 107.0%,#ff8400 108.0%,#ff7c00 108.5%,#ff7d00 109.0%,#ff8600 109.5%,#ffa400 110.5%,#ffae00 111.0%,#ffaf00 111.2%,#ffab00 111.8%,#ff9e00 112.2%,#ff7f00 113.2%,#ff7700 113.8%,#ff7600 114.0%,#ff7d00 114.5%,#ff8c00 115.0%,#ffa600 115.8%,#ffb200 116.2%,#ffb400 116.5%,#ffb400 116.8%,#ffb100 117.0%,#ffa400 117.5%,#ff8000 118.5%,#ff7300 119.0%,#ff7100 119.2%,#ff7100 119.5%,#ff7400 119.8%,#ff8100 120.2%,#ffa900 121.2%,#ffb700 121.8%,#ffbb00 122.0%,#ffbb00 122.2%,#ffb900 122.5%,#ffb300 122.8%,#ffa200 123.2%,#ff7700 124.2%,#ff7000 124.5%,#ff6b00 124.8%,#ff6900 125.0%,#ff6a00 125.2%,#ff6e00 125.5%,#ff7f00 126.0%,#ffad00 127.0%,#ffbe00 127.5%,#ffc200 127.8%,#ffc400 128.0%,#ffc100 128.2%,#ffbc00 128.5%,#ffa900 129.0%,#ff7700 130.0%,#ff6d00 130.2%,#ff6500 130.5%,#ff6100 130.8%,#ff6000 131.0%,#ff6200 131.2%,#ff6800 131.5%,#ff7100 131.8%,#ff8900 132.2%,#ffb300 133.0%,#ffbe00 133.2%,#ffc700 133.5%,#ffcc00 133.8%,#ffce00 134.0%,#ffcd00 134.2%,#ffc700 134.5%,#ffbe00 134.8%,#ffa500 135.2%,#ff8800 135.8%,#ff7f00 136.0%,#ff7c00 136.2%,#ff7e00 136.5%,#ff8600 136.8%,#ff9200 137.0%,#ffae00 137.2%,#ffdc00 138.5%,#ffe800 139.0%,#ffeb00 139.2%,#ffe900 139.5%,#ffe400 139.8%,#ffdb00 140.0%,#ffce00 140.2%,#ffbe00 140.5%,#ff9600 141.0%,#ff3e00 142.0%,#ff2b00 142.2%,#ff1b00 142.5%,#ff0e00 142.8%,#ff0600 143.0%,#ff0200 143.2%,#ff0400 143.5%,#ff0a00 143.8%,#ff1400 144.0%,#ff2200 144.2%,#ff4400 144.8%,#ffd800 146.8%,#ffec00 147.0%,#ffff04 147.2%,#ffff68 148.0%,#ffff87 148.2%,#ffffa4 148.5%,#ffffbd 148.8%,#ffffd0 149.0%,#ffffdc 149.2%,#ffffe1 149.5%,#ffffde 149.8%,#ffffd4 150.0%,#ffffc3 150.2%,#ffffac 150.5%,#ffff91 150.8%,#ffff71 151.0%,#ffff2a 151.5%,#ffff04 151.8%,#ffe800 152.0%,#ff9f00 152.8%,#ff4500 153.8%,#ff0700 154.5%,#f20000 154.8%,#ba0000 155.5%,#9b0000 156.0%,#840000 156.5%,#7c0000 156.8%,#770000 157.0%,#740000 157.2%,#750000 157.5%,#790000 157.8%,#800000 158.0%,#8a0000 158.2%,#a40000 158.8%,#c70000 159.2%,#ee0000 159.8%,#ff0300 160.0%,#ff3e00 160.8%,#ff7100 161.5%,#ff8d00 162.0%,#ffa400 162.5%,#ffb500 163.0%,#ffc600 163.8%,#ffce00 164.5%,#ffcf00 165.2%,#ffc600 166.5%,#ffa500 169.5%,#ff9a00 171.2%,#ff9500 174.0%,#ff9400 320.0%);-webkit-mask-image:conic-gradient(from 0deg at 0.5px 206.50px,transparent 6.78deg,#000 10.16deg);mask-image:conic-gradient(from 0deg at 0.5px 206.50px,transparent 6.78deg,#000 10.16deg);"></div>
<div class="ax" style="left:39px;top:857px;width:234px;height:207px;background:radial-gradient(ellipse 105.95px 93.65px at 0.5px 206.50px,#ff9900 0.0%,#ff9f00 0.5%,#ffa000 1.0%,#ff9700 1.8%,#ff8b00 2.5%,#ff8800 3.0%,#ff8b00 3.5%,#ff9e00 4.8%,#ffa100 5.2%,#ff9d00 5.8%,#ff8a00 7.0%,#ff8800 7.5%,#ff8c00 8.0%,#ff9f00 9.2%,#ffa000 9.8%,#ff9700 10.5%,#ff8b00 11.2%,#ff8800 11.8%,#ff8a00 12.2%,#ff9e00 13.5%,#ffa100 14.0%,#ff9d00 14.5%,#ff8a00 15.8%,#ff8800 16.2%,#ff8b00 16.8%,#ff9f00 18.0%,#ffa000 18.5%,#ff9c00 19.0%,#ff8b00 20.0%,#ff8800 20.5%,#ff8a00 21.0%,#ff9d00 22.2%,#ffa100 22.8%,#ff9e00 23.2%,#ff8a00 24.5%,#ff8800 25.0%,#ff8b00 25.5%,#ff9f00 26.8%,#ffa000 27.2%,#ff9c00 27.8%,#ff8900 29.0%,#ff8800 29.5%,#ff8d00 30.0%,#ff9d00 31.0%,#ffa100 31.5%,#ff9e00 32.0%,#ff8b00 33.2%,#ff8800 33.8%,#ff8b00 34.2%,#ff9e00 35.5%,#ffa100 36.0%,#ff9d00 36.5%,#ff8900 37.8%,#ff8800 38.2%,#ff8c00 38.8%,#ff9f00 40.0%,#ffa000 40.5%,#ff9700 41.2%,#ff8b00 42.0%,#ff8800 42.5%,#ff8a00 43.0%,#ff9e00 44.2%,#ffa100 44.8%,#ff9d00 45.2%,#ff8a00 46.5%,#ff8800 47.0%,#ff8c00 47.5%,#ff9f00 48.8%,#ffa000 49.2%,#ff9c00 49.8%,#ff8b00 50.8%,#ff8800 51.2%,#ff8a00 51.8%,#ff9d00 53.0%,#ffa100 53.5%,#ff9e00 54.0%,#ff8a00 55.2%,#ff8800 55.8%,#ff8b00 56.2%,#ff9f00 57.5%,#ffa000 58.0%,#ff9c00 58.5%,#ff8900 59.8%,#ff8800 60.2%,#ff9100 61.0%,#ff9d00 61.8%,#ffa100 62.2%,#ff9e00 62.8%,#ff8a00 64.0%,#ff8800 64.5%,#ff8b00 65.0%,#ff9e00 66.2%,#ffa000 66.8%,#ff9d00 67.2%,#ff8900 68.5%,#ff8800 69.0%,#ff8c00 69.5%,#ff9d00 70.5%,#ffa100 71.0%,#ff9e00 71.5%,#ff8b00 72.8%,#ff8800 73.2%,#ff8a00 73.8%,#ff9e00 75.0%,#ffa100 75.5%,#ff9d00 76.0%,#ff8a00 77.2%,#ff8800 77.8%,#ff8c00 78.2%,#ff9f00 79.5%,#ffa000 80.0%,#ff9c00 80.5%,#ff8b00 81.5%,#ff8800 82.0%,#ff8a00 82.5%,#ff9e00 83.8%,#ffa100 84.2%,#ff9d00 84.8%,#ff8a00 86.0%,#ff8800 86.5%,#ff8b00 87.0%,#ff9f00 88.2%,#ffa000 88.8%,#ff9c00 89.2%,#ff8800 90.5%,#ff8700 91.0%,#ff8d00 91.5%,#ff9e00 92.5%,#ffa200 93.0%,#ff9f00 93.5%,#ff8800 94.8%,#ff8500 95.2%,#ff8900 95.8%,#ffa100 97.0%,#ffa400 97.5%,#ffa000 98.0%,#ff8700 99.2%,#ff8300 99.8%,#ff8600 100.2%,#ffa400 101.8%,#ffa700 102.2%,#ffa100 102.8%,#ff8500 104.0%,#ff8000 104.5%,#ff8300 105.0%,#ff8d00 105.5%,#ffa500 106.5%,#ffaa00 107.0%,#ffa700 107.5%,#ff9c00 108.0%,#ff8100 109.0%,#ff7c00 109.5%,#ff7f00 110.0%,#ff8b00 110.5%,#ffa700 111.5%,#ffae00 112.0%,#ffac00 112.5%,#ffa100 113.0%,#ff8200 114.0%,#ff7900 114.5%,#ff7700 114.8%,#ff7800 115.0%,#ff8100 115.5%,#ffa900 116.8%,#ffb200 117.2%,#ffb300 117.5%,#ffb200 117.8%,#ffa700 118.2%,#ff7c00 119.5%,#ff7300 120.0%,#ff7200 120.2%,#ff7400 120.5%,#ff7f00 121.0%,#ffae00 122.2%,#ffb400 122.5%,#ffb800 122.8%,#ffba00 123.0%,#ffb800 123.2%,#ffb400 123.5%,#ffa400 124.0%,#ff7b00 125.0%,#ff6d00 125.5%,#ff6b00 125.8%,#ff6b00 126.0%,#ff6f00 126.2%,#ff7500 126.5%,#ff8800 127.0%,#ffaa00 127.8%,#ffbc00 128.2%,#ffc000 128.5%,#ffc200 128.8%,#ffc000 129.0%,#ffbb00 129.2%,#ffa900 129.8%,#ff7800 130.8%,#ff6e00 131.0%,#ff6700 131.2%,#ff6300 131.5%,#ff6100 131.8%,#ff6400 132.0%,#ff6a00 132.2%,#ff7300 132.5%,#ff8b00 133.0%,#ffb300 133.8%,#ffbe00 134.0%,#ffc600 134.2%,#ffcb00 134.5%,#ffcc00 134.8%,#ffca00 135.0%,#ffc300 135.2%,#ffba00 135.5%,#ffa000 136.0%,#ff8500 136.5%,#ff7e00 136.8%,#ff7d00 137.0%,#ff8100 137.2%,#ff8a00 137.5%,#ffa900 137.8%,#ffc300 138.5%,#ffde00 139.2%,#ffe500 139.5%,#ffe800 139.8%,#ffe800 140.0%,#ffe400 140.2%,#ffdd00 140.5%,#ffd100 140.8%,#ffc200 141.0%,#ff9b00 141.5%,#ff4200 142.5%,#ff2f00 142.8%,#ff1e00 143.0%,#ff1000 143.2%,#ff0800 143.5%,#ff0400 143.8%,#ff0600 144.0%,#ff0c00 144.2%,#ff1700 144.5%,#ff2500 144.8%,#ff4800 145.2%,#ffcd00 147.0%,#fff700 147.5%,#ffff16 147.8%,#ffff7e 148.5%,#ffff9d 148.8%,#ffffb9 149.0%,#ffffcf 149.2%,#ffffde 149.5%,#ffffe5 149.8%,#ffffe4 150.0%,#ffffdb 150.2%,#ffffcc 150.5%,#ffffb7 150.8%,#ffff9d 151.0%,#ffff7e 151.2%,#ffff38 151.8%,#ffff12 152.0%,#fff200 152.2%,#ffa900 153.0%,#ff6600 153.8%,#ff1200 154.8%,#fd0000 155.0%,#c30000 155.8%,#a00000 156.2%,#830000 156.8%,#780000 157.0%,#6f0000 157.2%,#690000 157.5%,#660000 157.8%,#650000 158.0%,#680000 158.2%,#6e0000 158.5%,#770000 158.8%,#830000 159.0%,#a00000 159.5%,#c50000 160.0%,#ee0000 160.5%,#ff0400 160.8%,#ff4000 161.5%,#ff6300 162.0%,#ff8200 162.5%,#ff9b00 163.0%,#ffaf00 163.5%,#ffc300 164.2%,#ffcd00 165.0%,#ffd000 165.8%,#ffcc00 166.8%,#ffb400 169.0%,#ffa200 170.8%,#ff9900 172.5%,#ff9400 175.5%,#ff9400 320.0%);-webkit-mask-image:conic-gradient(from 0deg at 0.5px 206.50px,transparent 10.16deg,#000 13.52deg);mask-image:conic-gradient(from 0deg at 0.5px 206.50px,transparent 10.16deg,#000 13.52deg);"></div>
<div class="ax" style="left:39px;top:857px;width:234px;height:207px;background:radial-gradient(ellipse 105.95px 93.65px at 0.5px 206.50px,#ff9900 0.0%,#ff9f00 0.5%,#ffa000 1.0%,#ff9700 1.8%,#ff8b00 2.5%,#ff8800 3.0%,#ff8a00 3.5%,#ff9d00 4.8%,#ffa100 5.2%,#ff9e00 5.8%,#ff8a00 7.0%,#ff8800 7.5%,#ff8b00 8.0%,#ff9e00 9.2%,#ffa100 9.8%,#ff9d00 10.2%,#ff8a00 11.5%,#ff8800 12.0%,#ff8c00 12.5%,#ff9f00 13.8%,#ffa000 14.2%,#ff9c00 14.8%,#ff8900 16.0%,#ff8800 16.5%,#ff9000 17.2%,#ff9f00 18.2%,#ffa000 18.8%,#ff9700 19.5%,#ff8b00 20.2%,#ff8800 20.8%,#ff8a00 21.2%,#ff9d00 22.5%,#ffa100 23.0%,#ff9e00 23.5%,#ff8a00 24.8%,#ff8800 25.2%,#ff8b00 25.8%,#ff9e00 27.0%,#ffa100 27.5%,#ff9d00 28.0%,#ff8a00 29.2%,#ff8800 29.8%,#ff8b00 30.2%,#ff9f00 31.5%,#ffa000 32.0%,#ff9c00 32.5%,#ff8900 33.8%,#ff8800 34.2%,#ff8c00 34.8%,#ff9f00 36.0%,#ffa000 36.5%,#ff9800 37.2%,#ff8b00 38.0%,#ff8800 38.5%,#ff8a00 39.0%,#ff9d00 40.2%,#ffa100 40.8%,#ff9e00 41.2%,#ff8b00 42.5%,#ff8800 43.0%,#ff8b00 43.5%,#ff9e00 44.8%,#ffa100 45.2%,#ff9d00 45.8%,#ff8a00 47.0%,#ff8800 47.5%,#ff8b00 48.0%,#ff9f00 49.2%,#ffa000 49.8%,#ff9c00 50.2%,#ff8900 51.5%,#ff8800 52.0%,#ff8c00 52.5%,#ff9f00 53.8%,#ffa000 54.2%,#ff9800 55.0%,#ff8900 56.0%,#ff8800 56.5%,#ff9100 57.2%,#ff9d00 58.0%,#ffa100 58.5%,#ff9e00 59.0%,#ff8b00 60.2%,#ff8800 60.8%,#ff8a00 61.2%,#ff9e00 62.5%,#ffa100 63.0%,#ff9d00 63.5%,#ff8a00 64.8%,#ff8800 65.2%,#ff8b00 65.8%,#ff9e00 67.0%,#ffa000 67.5%,#ff9d00 68.0%,#ff8900 69.2%,#ff8800 69.8%,#ff8c00 70.2%,#ff9f00 71.5%,#ffa000 72.0%,#ff9800 72.8%,#ff8900 73.8%,#ff8800 74.2%,#ff9100 75.0%,#ff9d00 75.8%,#ffa100 76.2%,#ff9e00 76.8%,#ff8b00 78.0%,#ff8800 78.5%,#ff8a00 79.0%,#ff9e00 80.2%,#ffa100 80.8%,#ff9d00 81.2%,#ff8a00 82.5%,#ff8800 83.0%,#ff8b00 83.5%,#ff9e00 84.8%,#ffa100 85.2%,#ff9d00 85.8%,#ff8900 87.0%,#ff8800 87.5%,#ff8c00 88.0%,#ff9f00 89.2%,#ffa000 89.8%,#ff9800 90.5%,#ff8b00 91.2%,#ff8800 91.8%,#ff8a00 92.2%,#ff9e00 93.5%,#ffa200 94.0%,#ff9e00 94.5%,#ff8900 95.8%,#ff8600 96.2%,#ff8900 96.8%,#ffa000 98.0%,#ffa400 98.5%,#ffa000 99.0%,#ff8800 100.2%,#ff8300 100.8%,#ff8600 101.2%,#ff9500 102.0%,#ffa300 102.8%,#ffa600 103.2%,#ffa100 103.8%,#ff8600 105.0%,#ff8100 105.5%,#ff8300 106.0%,#ff8c00 106.5%,#ffa400 107.5%,#ffa900 108.0%,#ffa600 108.5%,#ff9c00 109.0%,#ff8300 110.0%,#ff7d00 110.5%,#ff8000 111.0%,#ff8a00 111.5%,#ffa600 112.5%,#ffad00 113.0%,#ffab00 113.5%,#ffa100 114.0%,#ff8400 115.0%,#ff7a00 115.5%,#ff7800 115.8%,#ff7c00 116.2%,#ff8900 116.8%,#ffa900 117.8%,#ffb100 118.2%,#ffb200 118.5%,#ffb100 118.8%,#ffa600 119.2%,#ff7c00 120.5%,#ff7400 121.0%,#ff7300 121.2%,#ff7500 121.5%,#ff8100 122.0%,#ffae00 123.2%,#ffb400 123.5%,#ffb700 123.8%,#ffb800 124.0%,#ffb600 124.2%,#ffb200 124.5%,#ffa200 125.0%,#ff7900 126.0%,#ff7200 126.2%,#ff6e00 126.5%,#ff6c00 126.8%,#ff6d00 127.0%,#ff7200 127.2%,#ff8200 127.8%,#ffae00 128.8%,#ffb600 129.0%,#ffbd00 129.2%,#ffc000 129.5%,#ffc000 129.8%,#ffbd00 130.0%,#ffb600 130.2%,#ffa300 130.8%,#ff7e00 131.5%,#ff6b00 132.0%,#ff6500 132.2%,#ff6300 132.5%,#ff6500 132.8%,#ff6900 133.0%,#ff7100 133.2%,#ff8800 133.8%,#ffb000 134.5%,#ffbb00 134.8%,#ffc400 135.0%,#ffc900 135.2%,#ffca00 135.5%,#ffc800 135.8%,#ffc200 136.0%,#ffb900 136.2%,#ff9f00 136.8%,#ff8500 137.2%,#ff7f00 137.5%,#ff7e00 137.8%,#ff8300 138.0%,#ff8d00 138.2%,#ffaa00 138.5%,#ffc500 139.2%,#ffd800 139.8%,#ffe000 140.0%,#ffe500 140.2%,#ffe700 140.5%,#ffe500 140.8%,#ffdf00 141.0%,#ffd600 141.2%,#ffc800 141.5%,#ffb700 141.8%,#ff8d00 142.2%,#ff4900 143.0%,#ff3400 143.2%,#ff2200 143.5%,#ff1400 143.8%,#ff0a00 144.0%,#ff0600 144.2%,#ff0700 144.5%,#ff0d00 144.8%,#ff1800 145.0%,#ff2700 145.2%,#ff4b00 145.8%,#ffd500 147.5%,#ffeb00 147.8%,#ffff04 148.0%,#ffff72 148.8%,#ffff94 149.0%,#ffffb3 149.2%,#ffffcc 149.5%,#ffffde 149.8%,#ffffe8 150.0%,#ffffe9 150.2%,#ffffe4 150.5%,#ffffd7 150.8%,#ffffc4 151.0%,#ffffac 151.2%,#ffff8e 151.5%,#ffff6e 151.8%,#ffff00 152.5%,#ffb600 153.2%,#ff7300 154.0%,#ff0c00 155.2%,#f70000 155.5%,#a90000 156.5%,#880000 157.0%,#6d0000 157.5%,#640000 157.8%,#5c0000 158.0%,#580000 158.2%,#570000 158.5%,#580000 158.8%,#5d0000 159.0%,#650000 159.2%,#6f0000 159.5%,#8b0000 160.0%,#af0000 160.5%,#ed0000 161.2%,#ff0300 161.5%,#ff4000 162.2%,#ff6400 162.8%,#ff8300 163.2%,#ff9c00 163.8%,#ffb000 164.2%,#ffc400 165.0%,#ffcf00 165.8%,#ffd300 166.5%,#ffd000 167.5%,#ffbe00 169.2%,#ffa600 171.5%,#ff9b00 173.2%,#ff9500 176.0%,#ff9400 320.0%);-webkit-mask-image:conic-gradient(from 0deg at 0.5px 206.50px,transparent 13.52deg,#000 16.86deg);mask-image:conic-gradient(from 0deg at 0.5px 206.50px,transparent 13.52deg,#000 16.86deg);"></div>
<div class="ax" style="left:39px;top:857px;width:234px;height:207px;background:radial-gradient(ellipse 105.95px 93.65px at 0.5px 206.50px,#ff9900 0.0%,#ff9f00 0.5%,#ffa000 1.0%,#ff9800 1.8%,#ff8900 2.8%,#ff8800 3.2%,#ff9100 4.0%,#ff9f00 5.0%,#ffa000 5.5%,#ff9800 6.2%,#ff8900 7.2%,#ff8800 7.8%,#ff9100 8.5%,#ff9f00 9.5%,#ffa000 10.0%,#ff9800 10.8%,#ff8900 11.8%,#ff8800 12.2%,#ff9100 13.0%,#ff9f00 14.0%,#ffa000 14.5%,#ff9700 15.2%,#ff8900 16.2%,#ff8800 16.8%,#ff9100 17.5%,#ff9d00 18.2%,#ffa000 18.8%,#ff9e00 19.2%,#ff8900 20.8%,#ff8800 21.2%,#ff9100 22.0%,#ff9d00 22.8%,#ffa100 23.2%,#ff9e00 23.8%,#ff8900 25.2%,#ff8800 25.8%,#ff9100 26.5%,#ff9d00 27.2%,#ffa100 27.8%,#ff9e00 28.2%,#ff8900 29.8%,#ff8800 30.2%,#ff9100 31.0%,#ff9d00 31.8%,#ffa100 32.2%,#ff9e00 32.8%,#ff8900 34.2%,#ff8800 34.8%,#ff9100 35.5%,#ff9d00 36.2%,#ffa100 36.8%,#ff9e00 37.2%,#ff8900 38.8%,#ff8800 39.2%,#ff9100 40.0%,#ff9d00 40.8%,#ffa100 41.2%,#ff9e00 41.8%,#ff8900 43.2%,#ff8800 43.8%,#ff9100 44.5%,#ff9d00 45.2%,#ffa100 45.8%,#ff9e00 46.2%,#ff8900 47.8%,#ff8800 48.2%,#ff9100 49.0%,#ff9d00 49.8%,#ffa100 50.2%,#ff9e00 50.8%,#ff8900 52.2%,#ff8800 52.8%,#ff9100 53.5%,#ff9d00 54.2%,#ffa100 54.8%,#ff9e00 55.2%,#ff8900 56.8%,#ff8800 57.2%,#ff9100 58.0%,#ff9d00 58.8%,#ffa100 59.2%,#ff9e00 59.8%,#ff8b00 61.0%,#ff8800 61.5%,#ff8a00 62.0%,#ff9d00 63.2%,#ffa100 63.8%,#ff9e00 64.2%,#ff8b00 65.5%,#ff8800 66.0%,#ff8a00 66.5%,#ff9d00 67.8%,#ffa100 68.2%,#ff9e00 68.8%,#ff8b00 70.0%,#ff8800 70.5%,#ff8a00 71.0%,#ff9d00 72.2%,#ffa100 72.8%,#ff9e00 73.2%,#ff8b00 74.5%,#ff8800 75.0%,#ff8a00 75.5%,#ff9d00 76.8%,#ffa100 77.2%,#ff9e00 77.8%,#ff8b00 79.0%,#ff8800 79.5%,#ff8a00 80.0%,#ff9d00 81.2%,#ffa100 81.8%,#ff9e00 82.2%,#ff8b00 83.5%,#ff8800 84.0%,#ff8a00 84.5%,#ff9d00 85.8%,#ffa100 86.2%,#ff9e00 86.8%,#ff8b00 88.0%,#ff8800 88.5%,#ff8a00 89.0%,#ff9e00 90.2%,#ffa100 90.8%,#ff9d00 91.2%,#ff8a00 92.5%,#ff8800 93.0%,#ff8b00 93.5%,#ff9f00 94.8%,#ffa100 95.2%,#ff9d00 95.8%,#ff8800 97.0%,#ff8600 97.5%,#ff8b00 98.0%,#ffa100 99.2%,#ffa300 99.8%,#ff9f00 100.2%,#ff8700 101.5%,#ff8400 102.0%,#ff8800 102.5%,#ffa000 103.8%,#ffa500 104.2%,#ffa300 104.8%,#ff9500 105.5%,#ff8500 106.2%,#ff8100 106.8%,#ff8500 107.2%,#ff9500 108.0%,#ffa500 108.8%,#ffa900 109.2%,#ffa400 109.8%,#ff9300 110.5%,#ff8200 111.2%,#ff7e00 111.8%,#ff8200 112.2%,#ff9400 113.0%,#ffa700 113.8%,#ffac00 114.2%,#ffa900 114.8%,#ff9e00 115.2%,#ff8100 116.2%,#ff7a00 116.8%,#ff7c00 117.2%,#ff8600 117.8%,#ffa500 118.8%,#ffaf00 119.2%,#ffb100 119.5%,#ffb000 119.8%,#ffa800 120.2%,#ff7f00 121.5%,#ff7500 122.0%,#ff7400 122.2%,#ff7500 122.5%,#ff8000 123.0%,#ffac00 124.2%,#ffb600 124.8%,#ffb700 125.0%,#ffb500 125.2%,#ffb100 125.5%,#ffa100 126.0%,#ff7a00 127.0%,#ff7300 127.2%,#ff6f00 127.5%,#ff6d00 127.8%,#ff6f00 128.0%,#ff7400 128.2%,#ff8400 128.8%,#ffaf00 129.8%,#ffb700 130.0%,#ffbc00 130.2%,#ffbf00 130.5%,#ffbe00 130.8%,#ffb900 131.0%,#ffb200 131.2%,#ff9d00 131.8%,#ff7a00 132.5%,#ff7000 132.8%,#ff6900 133.0%,#ff6500 133.2%,#ff6500 133.5%,#ff6900 133.8%,#ff6f00 134.0%,#ff8500 134.5%,#ffac00 135.2%,#ffb800 135.5%,#ffc100 135.8%,#ffc600 136.0%,#ffc800 136.2%,#ffc700 136.5%,#ffc100 136.8%,#ffb800 137.0%,#ff9f00 137.5%,#ff8500 138.0%,#ff7f00 138.2%,#ff7f00 138.5%,#ff8500 138.8%,#ff9000 139.0%,#ffab00 139.2%,#ffc600 140.0%,#ffd900 140.5%,#ffe000 140.8%,#ffe500 141.0%,#ffe500 141.2%,#ffe200 141.5%,#ffda00 141.8%,#ffcd00 142.0%,#ffbd00 142.2%,#ff9500 142.8%,#ff3a00 143.8%,#ff2700 144.0%,#ff1700 144.2%,#ff0d00 144.5%,#ff0800 144.8%,#ff0900 145.0%,#ff0f00 145.2%,#ff1a00 145.5%,#ff2900 145.8%,#ff4f00 146.2%,#ffc900 147.8%,#fff600 148.2%,#ffff18 148.5%,#ffff8a 149.2%,#ffffac 149.5%,#ffffc9 149.8%,#ffffde 150.0%,#ffffe9 150.2%,#ffffed 150.5%,#ffffeb 150.8%,#ffffe1 151.0%,#ffffd1 151.2%,#ffffbb 151.5%,#ffffa0 151.8%,#ffff81 152.0%,#ffff3a 152.5%,#ffff15 152.8%,#fff400 153.0%,#ffac00 153.8%,#ff6c00 154.5%,#ff0700 155.8%,#f20000 156.0%,#a40000 157.0%,#810000 157.5%,#650000 158.0%,#5a0000 158.2%,#510000 158.5%,#4c0000 158.8%,#490000 159.0%,#490000 159.2%,#4d0000 159.5%,#530000 159.8%,#5c0000 160.0%,#680000 160.2%,#870000 160.8%,#ad0000 161.2%,#ed0000 162.0%,#ff0300 162.2%,#ff4100 163.0%,#ff6500 163.5%,#ff8300 164.0%,#ff9d00 164.5%,#ffb100 165.0%,#ffc600 165.8%,#ffd100 166.5%,#ffd600 167.2%,#ffd300 168.2%,#ffc600 169.8%,#ffa800 172.5%,#ff9b00 174.5%,#ff9500 177.2%,#ff9400 320.0%);-webkit-mask-image:conic-gradient(from 0deg at 0.5px 206.50px,transparent 16.86deg,#000 20.18deg);mask-image:conic-gradient(from 0deg at 0.5px 206.50px,transparent 16.86deg,#000 20.18deg);"></div>
<div class="ax" style="left:39px;top:857px;width:234px;height:207px;background:radial-gradient(ellipse 105.95px 93.65px at 0.5px 206.50px,#ff9900 0.0%,#ff9f00 0.5%,#ffa000 1.0%,#ff9800 1.8%,#ff8900 2.8%,#ff8800 3.2%,#ff9000 4.0%,#ff9f00 5.0%,#ffa000 5.5%,#ff9d00 6.0%,#ff8a00 7.2%,#ff8800 7.8%,#ff8b00 8.2%,#ff9e00 9.5%,#ffa100 10.0%,#ff9d00 10.5%,#ff8a00 11.8%,#ff8800 12.2%,#ff8a00 12.8%,#ff9d00 14.0%,#ffa100 14.5%,#ff9e00 15.0%,#ff8b00 16.2%,#ff8800 16.8%,#ff8a00 17.2%,#ff9f00 18.8%,#ffa000 19.2%,#ff9800 20.0%,#ff8900 21.0%,#ff8800 21.5%,#ff9000 22.2%,#ff9f00 23.2%,#ffa000 23.8%,#ff9d00 24.2%,#ff8a00 25.5%,#ff8800 26.0%,#ff8b00 26.5%,#ff9e00 27.8%,#ffa100 28.2%,#ff9d00 28.8%,#ff8a00 30.0%,#ff8800 30.5%,#ff8a00 31.0%,#ff9d00 32.2%,#ffa100 32.8%,#ff9e00 33.2%,#ff8900 34.8%,#ff8800 35.2%,#ff9000 36.0%,#ff9f00 37.0%,#ffa000 37.5%,#ff9800 38.2%,#ff8900 39.2%,#ff8800 39.8%,#ff8f00 40.5%,#ff9f00 41.5%,#ffa000 42.0%,#ff9d00 42.5%,#ff8a00 43.8%,#ff8800 44.2%,#ff8b00 44.8%,#ff9e00 46.0%,#ffa100 46.5%,#ff9d00 47.0%,#ff8a00 48.2%,#ff8800 48.8%,#ff8a00 49.2%,#ff9d00 50.5%,#ffa100 51.0%,#ff9e00 51.5%,#ff8900 53.0%,#ff8800 53.5%,#ff9000 54.2%,#ff9f00 55.2%,#ffa000 55.8%,#ff9800 56.5%,#ff8900 57.5%,#ff8800 58.0%,#ff8f00 58.8%,#ff9f00 59.8%,#ffa000 60.2%,#ff9d00 60.8%,#ff8a00 62.0%,#ff8800 62.5%,#ff8b00 63.0%,#ff9e00 64.2%,#ffa100 64.8%,#ff9e00 65.2%,#ff8b00 66.5%,#ff8800 67.0%,#ff8a00 67.5%,#ff9d00 68.8%,#ffa100 69.2%,#ff9e00 69.8%,#ff8900 71.2%,#ff8800 71.8%,#ff9000 72.5%,#ff9f00 73.5%,#ffa000 74.0%,#ff9800 74.8%,#ff8900 75.8%,#ff8800 76.2%,#ff8f00 77.0%,#ff9f00 78.0%,#ffa000 78.5%,#ff9d00 79.0%,#ff8a00 80.2%,#ff8800 80.8%,#ff8b00 81.2%,#ff9e00 82.5%,#ffa100 83.0%,#ff9e00 83.5%,#ff8b00 84.8%,#ff8800 85.2%,#ff8a00 85.8%,#ff9d00 87.0%,#ffa100 87.5%,#ff9e00 88.0%,#ff8b00 89.2%,#ff8800 89.8%,#ff8a00 90.2%,#ff9e00 91.5%,#ffa100 92.0%,#ff9d00 92.5%,#ff8a00 93.8%,#ff8800 94.2%,#ff8b00 94.8%,#ff9e00 96.0%,#ffa100 96.5%,#ff9d00 97.0%,#ff8900 98.2%,#ff8700 98.8%,#ff8b00 99.2%,#ffa000 100.5%,#ffa300 101.0%,#ff9e00 101.5%,#ff8800 102.8%,#ff8400 103.2%,#ff8800 103.8%,#ffa000 105.0%,#ffa500 105.5%,#ffa300 106.0%,#ff9500 106.8%,#ff8600 107.5%,#ff8200 108.0%,#ff8500 108.5%,#ff9500 109.2%,#ffa500 110.0%,#ffa800 110.5%,#ffa400 111.0%,#ff8200 112.5%,#ff7e00 113.0%,#ff8300 113.5%,#ff9500 114.2%,#ffa700 115.0%,#ffac00 115.5%,#ffa700 116.0%,#ff9400 116.8%,#ff8000 117.5%,#ff7a00 118.0%,#ff7e00 118.5%,#ff8900 119.0%,#ffa700 120.0%,#ffb000 120.5%,#ffb000 120.8%,#ffaa00 121.2%,#ff9c00 121.8%,#ff8300 122.5%,#ff7700 123.0%,#ff7500 123.2%,#ff7600 123.5%,#ff7900 123.8%,#ff8600 124.2%,#ffaa00 125.2%,#ffb400 125.8%,#ffb600 126.0%,#ffb500 126.2%,#ffb100 126.5%,#ffa200 127.0%,#ff7b00 128.0%,#ff7400 128.2%,#ff7000 128.5%,#ff6f00 128.8%,#ff7100 129.0%,#ff7500 129.2%,#ff8600 129.8%,#ffb000 130.8%,#ffb700 131.0%,#ffbc00 131.2%,#ffbd00 131.5%,#ffbb00 131.8%,#ffb600 132.0%,#ffa300 132.5%,#ff7500 133.5%,#ff6d00 133.8%,#ff6800 134.0%,#ff6700 134.2%,#ff6800 134.5%,#ff6e00 134.8%,#ff7700 135.0%,#ff8f00 135.5%,#ffb500 136.2%,#ffbe00 136.5%,#ffc400 136.8%,#ffc700 137.0%,#ffc500 137.2%,#ffc000 137.5%,#ffb700 137.8%,#ff9e00 138.2%,#ff9000 138.5%,#ff8500 138.8%,#ff8000 139.0%,#ff8100 139.2%,#ff8800 139.5%,#ff9300 139.8%,#ffad00 140.0%,#ffdb00 141.2%,#ffe100 141.5%,#ffe400 141.8%,#ffe200 142.0%,#ffdc00 142.2%,#ffd100 142.5%,#ffc200 142.8%,#ffb000 143.0%,#ff8300 143.5%,#ff3d00 144.2%,#ff2900 144.5%,#ff1900 144.8%,#ff0e00 145.0%,#ff0900 145.2%,#ff0a00 145.5%,#ff1100 145.8%,#ff1d00 146.0%,#ff2e00 146.2%,#ff5500 146.8%,#ffbe00 148.0%,#ffec00 148.5%,#ffff0a 148.8%,#ffff82 149.5%,#ffffa7 149.8%,#ffffc6 150.0%,#ffffda 150.2%,#ffffe8 150.5%,#fffff0 150.8%,#fffff1 151.0%,#ffffea 151.2%,#ffffdd 151.5%,#ffffca 151.8%,#ffffb1 152.0%,#ffff93 152.2%,#ffff72 152.5%,#ffff04 153.2%,#ffe900 153.5%,#ffa400 154.2%,#ff5100 155.2%,#ff0200 156.2%,#d90000 156.8%,#8c0000 157.8%,#6b0000 158.2%,#510000 158.8%,#480000 159.0%,#410000 159.2%,#3d0000 159.5%,#3c0000 159.8%,#3f0000 160.0%,#440000 160.2%,#4c0000 160.5%,#570000 160.8%,#740000 161.2%,#990000 161.8%,#ee0000 162.8%,#ff0500 163.0%,#ff4300 163.8%,#ff6600 164.2%,#ff8500 164.8%,#ff9e00 165.2%,#ffb200 165.8%,#ffc700 166.5%,#ffd300 167.2%,#ffd900 168.0%,#ffd800 169.0%,#ffcc00 170.5%,#ffa900 173.8%,#ff9c00 175.8%,#ff9500 178.5%,#ff9400 320.0%);-webkit-mask-image:conic-gradient(from 0deg at 0.5px 206.50px,transparent 20.18deg,#000 23.47deg);mask-image:conic-gradient(from 0deg at 0.5px 206.50px,transparent 20.18deg,#000 23.47deg);"></div>
<div class="ax" style="left:39px;top:857px;width:234px;height:207px;background:radial-gradient(ellipse 105.95px 93.65px at 0.5px 206.50px,#ff9900 0.0%,#ffa000 0.8%,#ff9f00 1.2%,#ff8a00 2.8%,#ff8800 3.2%,#ff8f00 4.0%,#ff9e00 5.0%,#ffa100 5.5%,#ff9e00 6.0%,#ff8b00 7.2%,#ff8800 7.8%,#ff8a00 8.2%,#ff9f00 9.8%,#ffa000 10.2%,#ff9900 11.0%,#ff8a00 12.0%,#ff8800 12.5%,#ff8b00 13.0%,#ff9e00 14.2%,#ffa100 14.8%,#ff9e00 15.2%,#ff8900 16.8%,#ff8800 17.2%,#ff9000 18.0%,#ff9f00 19.0%,#ffa000 19.5%,#ff9900 20.2%,#ff8a00 21.2%,#ff8800 21.8%,#ff8b00 22.2%,#ff9d00 23.5%,#ffa100 24.0%,#ff9e00 24.5%,#ff8900 26.0%,#ff8800 26.5%,#ff9000 27.2%,#ff9f00 28.2%,#ffa000 28.8%,#ff9900 29.5%,#ff8a00 30.5%,#ff8800 31.0%,#ff8b00 31.5%,#ff9d00 32.8%,#ffa100 33.2%,#ff9e00 33.8%,#ff8900 35.2%,#ff8800 35.8%,#ff9000 36.5%,#ff9e00 37.5%,#ffa100 38.0%,#ff9d00 38.5%,#ff8a00 39.8%,#ff8800 40.2%,#ff8a00 40.8%,#ff9d00 42.0%,#ffa100 42.5%,#ff9e00 43.0%,#ff8900 44.5%,#ff8800 45.0%,#ff8f00 45.8%,#ff9e00 46.8%,#ffa100 47.2%,#ff9d00 47.8%,#ff8b00 49.0%,#ff8800 49.5%,#ff8a00 50.0%,#ff9f00 51.5%,#ffa000 52.0%,#ff9800 52.8%,#ff8900 53.8%,#ff8800 54.2%,#ff8f00 55.0%,#ff9e00 56.0%,#ffa100 56.5%,#ff9d00 57.0%,#ff8b00 58.2%,#ff8800 58.8%,#ff8a00 59.2%,#ff9f00 60.8%,#ffa000 61.2%,#ff9800 62.0%,#ff8a00 63.0%,#ff8800 63.5%,#ff8f00 64.2%,#ff9e00 65.2%,#ffa100 65.8%,#ff9e00 66.2%,#ff8b00 67.5%,#ff8800 68.0%,#ff8a00 68.5%,#ff9f00 70.0%,#ffa000 70.5%,#ff9900 71.2%,#ff8a00 72.2%,#ff8800 72.8%,#ff8b00 73.2%,#ff9e00 74.5%,#ffa100 75.0%,#ff9e00 75.5%,#ff8900 77.0%,#ff8800 77.5%,#ff9000 78.2%,#ff9f00 79.2%,#ffa000 79.8%,#ff9900 80.5%,#ff8a00 81.5%,#ff8800 82.0%,#ff8b00 82.5%,#ff9d00 83.8%,#ffa100 84.2%,#ff9e00 84.8%,#ff8900 86.2%,#ff8800 86.8%,#ff9000 87.5%,#ff9f00 88.5%,#ffa000 89.0%,#ff9800 89.8%,#ff8900 90.8%,#ff8800 91.2%,#ff9100 92.0%,#ff9d00 92.8%,#ffa100 93.2%,#ff9e00 93.8%,#ff8b00 95.0%,#ff8800 95.5%,#ff8a00 96.0%,#ff9e00 97.2%,#ffa100 97.8%,#ff9d00 98.2%,#ff8a00 99.5%,#ff8700 100.0%,#ff8a00 100.5%,#ff9f00 101.8%,#ffa200 102.2%,#ff9f00 102.8%,#ff8900 104.0%,#ff8500 104.5%,#ff8800 105.0%,#ffa200 106.5%,#ffa400 107.0%,#ffa000 107.5%,#ff8600 108.8%,#ff8200 109.2%,#ff8500 109.8%,#ff9500 110.5%,#ffa400 111.2%,#ffa700 111.8%,#ffa300 112.2%,#ff8600 113.5%,#ff8000 114.0%,#ff8100 114.5%,#ff8900 115.0%,#ffa300 116.0%,#ffaa00 116.5%,#ffa900 117.0%,#ffa000 117.5%,#ff8400 118.5%,#ff7c00 119.0%,#ff7d00 119.5%,#ff8600 120.0%,#ffa400 121.0%,#ffae00 121.5%,#ffaf00 121.8%,#ffae00 122.0%,#ffa600 122.5%,#ff7e00 123.8%,#ff7700 124.2%,#ff7600 124.5%,#ff7900 124.8%,#ff8500 125.2%,#ffa800 126.2%,#ffb300 126.8%,#ffb500 127.0%,#ffb400 127.2%,#ffb000 127.5%,#ffa000 128.0%,#ff7a00 129.0%,#ff7400 129.2%,#ff7100 129.5%,#ff7000 129.8%,#ff7300 130.0%,#ff7800 130.2%,#ff8a00 130.8%,#ffaa00 131.5%,#ffb300 131.8%,#ffb900 132.0%,#ffbc00 132.2%,#ffbb00 132.5%,#ffb700 132.8%,#ffb100 133.0%,#ff9c00 133.5%,#ff7900 134.2%,#ff7000 134.5%,#ff6a00 134.8%,#ff6800 135.0%,#ff6900 135.2%,#ff6e00 135.5%,#ff7700 135.8%,#ff8e00 136.2%,#ffb400 137.0%,#ffbd00 137.2%,#ffc300 137.5%,#ffc500 137.8%,#ffc300 138.0%,#ffbd00 138.2%,#ffb300 138.5%,#ff8c00 139.2%,#ff8300 139.5%,#ff8000 139.8%,#ff8400 140.0%,#ff8d00 140.2%,#ffa900 140.5%,#ffc400 141.2%,#ffd800 141.8%,#ffdf00 142.0%,#ffe200 142.2%,#ffe200 142.5%,#ffdc00 142.8%,#ffd200 143.0%,#ffc300 143.2%,#ffb100 143.5%,#ff8400 144.0%,#ff3c00 144.8%,#ff2800 145.0%,#ff1800 145.2%,#ff0e00 145.5%,#ff0a00 145.8%,#ff0d00 146.0%,#ff1600 146.2%,#ff2400 146.5%,#ff3600 146.8%,#ffa000 148.0%,#ffcd00 148.5%,#ffff01 149.0%,#ffff7f 149.8%,#ffffa6 150.0%,#ffffc0 150.2%,#ffffd6 150.5%,#ffffe6 150.8%,#fffff1 151.0%,#fffff4 151.2%,#fffff1 151.5%,#ffffe6 151.8%,#ffffd6 152.0%,#ffffbf 152.2%,#ffffa3 152.5%,#ffff83 152.8%,#ffff3c 153.2%,#ffff17 153.5%,#fff600 153.8%,#ffb000 154.5%,#ff7100 155.2%,#ff1000 156.5%,#fb0000 156.8%,#980000 158.0%,#730000 158.5%,#550000 159.0%,#3e0000 159.5%,#370000 159.8%,#320000 160.0%,#310000 160.2%,#320000 160.5%,#370000 160.8%,#3e0000 161.0%,#480000 161.2%,#640000 161.8%,#880000 162.2%,#c70000 163.0%,#f40000 163.5%,#ff0a00 163.8%,#ff4700 164.5%,#ff6b00 165.0%,#ff8900 165.5%,#ffa100 166.0%,#ffb500 166.5%,#ffca00 167.2%,#ffd600 168.0%,#ffdc00 168.8%,#ffdc00 169.8%,#ffd100 171.2%,#ffa900 175.0%,#ff9c00 177.0%,#ff9600 179.8%,#ff9400 201.8%,#ff9400 320.0%);-webkit-mask-image:conic-gradient(from 0deg at 0.5px 206.50px,transparent 23.47deg,#000 26.73deg);mask-image:conic-gradient(from 0deg at 0.5px 206.50px,transparent 23.47deg,#000 26.73deg);"></div>
<div class="ax" style="left:39px;top:857px;width:234px;height:207px;background:radial-gradient(ellipse 105.95px 93.65px at 0.5px 206.50px,#ff9900 0.0%,#ffa000 0.8%,#ff9f00 1.2%,#ff8a00 2.8%,#ff8800 3.2%,#ff8b00 3.8%,#ff9d00 5.0%,#ffa000 5.5%,#ff9f00 6.0%,#ff8a00 7.5%,#ff8800 8.0%,#ff8e00 8.8%,#ff9d00 9.8%,#ffa100 10.2%,#ff9e00 10.8%,#ff8900 12.2%,#ff8800 12.8%,#ff8f00 13.5%,#ff9e00 14.5%,#ffa100 15.0%,#ff9e00 15.5%,#ff8900 17.0%,#ff8800 17.5%,#ff9000 18.2%,#ff9e00 19.2%,#ffa100 19.8%,#ff9a00 20.5%,#ff8b00 21.5%,#ff8800 22.0%,#ff8a00 22.5%,#ff9f00 24.0%,#ffa000 24.5%,#ff9a00 25.2%,#ff8a00 26.2%,#ff8800 26.8%,#ff8a00 27.2%,#ff9f00 28.8%,#ffa000 29.2%,#ff9900 30.0%,#ff8a00 31.0%,#ff8800 31.5%,#ff8a00 32.0%,#ff9d00 33.2%,#ffa000 33.8%,#ff9f00 34.2%,#ff8a00 35.8%,#ff8800 36.2%,#ff8e00 37.0%,#ff9d00 38.0%,#ffa100 38.5%,#ff9e00 39.0%,#ff8900 40.5%,#ff8800 41.0%,#ff8f00 41.8%,#ff9e00 42.8%,#ffa100 43.2%,#ff9e00 43.8%,#ff8900 45.2%,#ff8800 45.8%,#ff9000 46.5%,#ff9e00 47.5%,#ffa100 48.0%,#ff9a00 48.8%,#ff8b00 49.8%,#ff8800 50.2%,#ff8a00 50.8%,#ff9f00 52.2%,#ffa000 52.8%,#ff9a00 53.5%,#ff8a00 54.5%,#ff8800 55.0%,#ff8a00 55.5%,#ff9f00 57.0%,#ffa000 57.5%,#ff9900 58.2%,#ff8a00 59.2%,#ff8800 59.8%,#ff8a00 60.2%,#ff9d00 61.5%,#ffa000 62.0%,#ff9f00 62.5%,#ff8a00 64.0%,#ff8800 64.5%,#ff8e00 65.2%,#ff9d00 66.2%,#ffa100 66.8%,#ff9e00 67.2%,#ff8900 68.8%,#ff8800 69.2%,#ff8f00 70.0%,#ff9e00 71.0%,#ffa100 71.5%,#ff9e00 72.0%,#ff8900 73.5%,#ff8800 74.0%,#ff8f00 74.8%,#ff9e00 75.8%,#ffa100 76.2%,#ff9a00 77.0%,#ff8b00 78.0%,#ff8800 78.5%,#ff8a00 79.0%,#ff9f00 80.5%,#ffa000 81.0%,#ff9a00 81.8%,#ff8a00 82.8%,#ff8800 83.2%,#ff8a00 83.8%,#ff9f00 85.2%,#ffa000 85.8%,#ff9900 86.5%,#ff8a00 87.5%,#ff8800 88.0%,#ff8b00 88.5%,#ff9e00 89.8%,#ffa100 90.2%,#ff9d00 90.8%,#ff8a00 92.0%,#ff8800 92.5%,#ff8c00 93.0%,#ff9f00 94.2%,#ffa000 94.8%,#ff9c00 95.2%,#ff8900 96.5%,#ff8800 97.0%,#ff8c00 97.5%,#ff9d00 98.5%,#ffa100 99.0%,#ff9e00 99.5%,#ff8b00 100.8%,#ff8700 101.2%,#ff8a00 101.8%,#ff9e00 103.0%,#ffa200 103.5%,#ff9f00 104.0%,#ff8700 105.5%,#ff8600 106.0%,#ff8b00 106.5%,#ffa200 107.8%,#ffa400 108.2%,#ff9f00 108.8%,#ff8700 110.0%,#ff8300 110.5%,#ff8600 111.0%,#ffa400 112.5%,#ffa700 113.0%,#ffa200 113.5%,#ff8500 114.8%,#ff8000 115.2%,#ff8200 115.8%,#ff8c00 116.2%,#ffa500 117.2%,#ffaa00 117.8%,#ffa700 118.2%,#ff9c00 118.8%,#ff8100 119.8%,#ff7c00 120.2%,#ff8000 120.8%,#ff8b00 121.2%,#ffa800 122.2%,#ffae00 122.8%,#ffae00 123.0%,#ffa600 123.5%,#ff7f00 124.8%,#ff7700 125.2%,#ff7700 125.5%,#ff7a00 125.8%,#ff8700 126.2%,#ffa900 127.2%,#ffaf00 127.5%,#ffb300 127.8%,#ffb400 128.0%,#ffb200 128.2%,#ffa500 128.8%,#ff7f00 129.8%,#ff7800 130.0%,#ff7300 130.2%,#ff7100 130.5%,#ff7200 130.8%,#ff7700 131.0%,#ff8700 131.5%,#ffa700 132.2%,#ffb700 132.8%,#ffba00 133.0%,#ffba00 133.2%,#ffb700 133.5%,#ffb100 133.8%,#ff9c00 134.2%,#ff7900 135.0%,#ff7100 135.2%,#ff6b00 135.5%,#ff6900 135.8%,#ff6b00 136.0%,#ff7100 136.2%,#ff7900 136.5%,#ff9200 137.0%,#ffac00 137.5%,#ffb700 137.8%,#ffbf00 138.0%,#ffc300 138.2%,#ffc300 138.5%,#ffbf00 138.8%,#ffb700 139.0%,#ff9f00 139.5%,#ff9100 139.8%,#ff8600 140.0%,#ff8100 140.2%,#ff8200 140.5%,#ff8a00 140.8%,#ffa700 141.0%,#ffb800 141.5%,#ffd600 142.2%,#ffdd00 142.5%,#ffe100 142.8%,#ffe000 143.0%,#ffdb00 143.2%,#ffd000 143.5%,#ffc000 143.8%,#ffad00 144.0%,#ff7e00 144.5%,#ff4c00 145.0%,#ff3600 145.2%,#ff2300 145.5%,#ff1500 145.8%,#ff0d00 146.0%,#ff0c00 146.2%,#ff1200 146.5%,#ff1e00 146.8%,#ff2f00 147.0%,#ff5800 147.5%,#ffc900 148.8%,#fffe00 149.2%,#ffff29 149.5%,#ffff81 150.0%,#ffff9f 150.2%,#ffffbb 150.5%,#ffffd2 150.8%,#ffffe5 151.0%,#fffff1 151.2%,#fffff7 151.5%,#fffff6 151.8%,#ffffed 152.0%,#ffffdf 152.2%,#ffffca 152.5%,#ffffaf 152.8%,#ffff91 153.0%,#ffff4b 153.5%,#ffff01 154.0%,#ffb900 154.8%,#ff7b00 155.5%,#ff0800 157.0%,#f30000 157.2%,#8f0000 158.5%,#6a0000 159.0%,#4c0000 159.5%,#350000 160.0%,#2d0000 160.2%,#280000 160.5%,#270000 160.8%,#280000 161.0%,#2c0000 161.2%,#330000 161.5%,#3d0000 161.8%,#580000 162.2%,#7c0000 162.8%,#bb0000 163.5%,#fe0000 164.2%,#ff3d00 165.0%,#ff6200 165.5%,#ff8100 166.0%,#ff9c00 166.5%,#ffb100 167.0%,#ffc800 167.8%,#ffd600 168.5%,#ffde00 169.2%,#ffe000 170.2%,#ffda00 171.5%,#ffc400 173.8%,#ffaa00 176.2%,#ff9d00 178.2%,#ff9600 181.0%,#ff9400 194.0%,#ff9400 320.0%);-webkit-mask-image:conic-gradient(from 0deg at 0.5px 206.50px,transparent 26.73deg,#000 29.96deg);mask-image:conic-gradient(from 0deg at 0.5px 206.50px,transparent 26.73deg,#000 29.96deg);"></div>
<div class="ax" style="left:39px;top:857px;width:234px;height:207px;background:radial-gradient(ellipse 105.95px 93.65px at 0.5px 206.50px,#ff9900 0.0%,#ffa000 0.8%,#ff9f00 1.2%,#ff9100 2.2%,#ff8800 3.0%,#ff8800 3.5%,#ff9000 4.2%,#ff9f00 5.2%,#ffa000 5.8%,#ff9a00 6.5%,#ff8b00 7.5%,#ff8800 8.0%,#ff8a00 8.5%,#ff9e00 10.0%,#ffa100 10.5%,#ff9a00 11.2%,#ff8b00 12.2%,#ff8800 12.8%,#ff8900 13.2%,#ff9e00 14.8%,#ffa100 15.2%,#ff9b00 16.0%,#ff8900 17.2%,#ff8800 17.8%,#ff8f00 18.5%,#ff9e00 19.5%,#ffa100 20.0%,#ff9e00 20.5%,#ff8900 22.0%,#ff8800 22.5%,#ff8e00 23.2%,#ff9d00 24.2%,#ffa100 24.8%,#ff9e00 25.2%,#ff8a00 26.8%,#ff8800 27.2%,#ff8e00 28.0%,#ff9d00 29.0%,#ffa000 29.5%,#ff9f00 30.0%,#ff8a00 31.5%,#ff8800 32.0%,#ff8e00 32.8%,#ff9d00 33.8%,#ffa000 34.2%,#ff9f00 34.8%,#ff8a00 36.2%,#ff8800 36.8%,#ff8d00 37.5%,#ff9f00 38.8%,#ffa000 39.2%,#ff9900 40.0%,#ff8b00 41.0%,#ff8800 41.5%,#ff8a00 42.0%,#ff9f00 43.5%,#ffa100 44.0%,#ff9a00 44.8%,#ff8b00 45.8%,#ff8800 46.2%,#ff8a00 46.8%,#ff9e00 48.2%,#ffa100 48.8%,#ff9a00 49.5%,#ff8b00 50.5%,#ff8800 51.0%,#ff8900 51.5%,#ff9e00 53.0%,#ffa100 53.5%,#ff9b00 54.2%,#ff8900 55.5%,#ff8800 56.0%,#ff8f00 56.8%,#ff9e00 57.8%,#ffa100 58.2%,#ff9e00 58.8%,#ff8900 60.2%,#ff8800 60.8%,#ff8e00 61.5%,#ff9d00 62.5%,#ffa100 63.0%,#ff9e00 63.5%,#ff8a00 65.0%,#ff8800 65.5%,#ff8e00 66.2%,#ff9d00 67.2%,#ffa000 67.8%,#ff9f00 68.2%,#ff8a00 69.8%,#ff8800 70.2%,#ff8d00 71.0%,#ff9f00 72.2%,#ffa000 72.8%,#ff9900 73.5%,#ff8a00 74.5%,#ff8800 75.0%,#ff8a00 75.5%,#ff9f00 77.0%,#ffa000 77.5%,#ff9a00 78.2%,#ff8b00 79.2%,#ff8800 79.8%,#ff8a00 80.2%,#ff9f00 81.8%,#ffa100 82.2%,#ff9a00 83.0%,#ff8b00 84.0%,#ff8800 84.5%,#ff8900 85.0%,#ff9e00 86.5%,#ffa100 87.0%,#ff9d00 87.5%,#ff8a00 88.8%,#ff8800 89.2%,#ff8b00 89.8%,#ff9e00 91.0%,#ffa100 91.5%,#ff9d00 92.0%,#ff8a00 93.2%,#ff8800 93.8%,#ff8b00 94.2%,#ff9e00 95.5%,#ffa000 96.0%,#ff9c00 96.5%,#ff8900 97.8%,#ff8800 98.2%,#ff8c00 98.8%,#ff9d00 99.8%,#ffa100 100.2%,#ff9e00 100.8%,#ff8b00 102.0%,#ff8800 102.5%,#ff8a00 103.0%,#ff9e00 104.2%,#ffa100 104.8%,#ff9e00 105.2%,#ff8900 106.5%,#ff8600 107.0%,#ff8900 107.5%,#ff9f00 108.8%,#ffa400 109.2%,#ffa100 109.8%,#ff8600 111.2%,#ff8300 111.8%,#ff8800 112.2%,#ffa200 113.5%,#ffa600 114.0%,#ffa300 114.5%,#ff8300 116.0%,#ff8000 116.5%,#ff8600 117.0%,#ffa400 118.2%,#ffaa00 118.8%,#ffa700 119.2%,#ff9c00 119.8%,#ff8200 120.8%,#ff7c00 121.2%,#ff8100 121.8%,#ff8d00 122.2%,#ffa300 123.0%,#ffad00 123.5%,#ffae00 123.8%,#ffad00 124.0%,#ffa300 124.5%,#ff8300 125.5%,#ff7900 126.0%,#ff7800 126.2%,#ff7900 126.5%,#ff8400 127.0%,#ffa600 128.0%,#ffb200 128.5%,#ffb300 128.8%,#ffb200 129.0%,#ffad00 129.2%,#ff9e00 129.8%,#ff8100 130.5%,#ff7900 130.8%,#ff7400 131.0%,#ff7200 131.2%,#ff7300 131.5%,#ff7700 131.8%,#ff8800 132.2%,#ffa800 133.0%,#ffb100 133.2%,#ffb700 133.5%,#ffba00 133.8%,#ffb900 134.0%,#ffb500 134.2%,#ffad00 134.5%,#ff9800 135.0%,#ff8000 135.5%,#ff7600 135.8%,#ff6f00 136.0%,#ff6b00 136.2%,#ff6b00 136.5%,#ff6f00 136.8%,#ff7600 137.0%,#ff8d00 137.5%,#ffb300 138.2%,#ffbc00 138.5%,#ffc100 138.8%,#ffc200 139.0%,#ffbf00 139.2%,#ffb800 139.5%,#ffa000 140.0%,#ff8600 140.5%,#ff8100 140.8%,#ff8300 141.0%,#ff8b00 141.2%,#ffa700 141.5%,#ffb900 142.0%,#ffd700 142.8%,#ffde00 143.0%,#ffe000 143.2%,#ffde00 143.5%,#ffd600 143.8%,#ffca00 144.0%,#ffb800 144.2%,#ffa300 144.5%,#ff4000 145.5%,#ff2b00 145.8%,#ff1a00 146.0%,#ff1000 146.2%,#ff0d00 146.5%,#ff1100 146.8%,#ff1b00 147.0%,#ff2b00 147.2%,#ff5500 147.8%,#ffca00 149.0%,#ffff02 149.5%,#ffff5c 150.0%,#ffff9c 150.5%,#ffffb8 150.8%,#ffffd0 151.0%,#ffffe4 151.2%,#fffff2 151.5%,#fffff9 151.8%,#fffff9 152.0%,#fffff2 152.2%,#ffffe4 152.5%,#ffffd1 152.8%,#ffffb7 153.0%,#ffff99 153.2%,#ffff55 153.8%,#ffff0b 154.2%,#ffee00 154.5%,#ffaa00 155.2%,#ff6e00 156.0%,#ff1000 157.2%,#fc0000 157.5%,#830000 159.0%,#5f0000 159.5%,#410000 160.0%,#2b0000 160.5%,#240000 160.8%,#1f0000 161.0%,#1e0000 161.2%,#1f0000 161.5%,#240000 161.8%,#2b0000 162.0%,#350000 162.2%,#510000 162.8%,#750000 163.2%,#b50000 164.0%,#f90000 164.8%,#ff0f00 165.0%,#ff4c00 165.8%,#ff6e00 166.2%,#ff8c00 166.8%,#ffa400 167.2%,#ffc000 168.0%,#ffd200 168.8%,#ffdd00 169.5%,#ffe300 170.5%,#ffe100 171.8%,#ffd300 173.5%,#ffae00 177.0%,#ff9e00 179.2%,#ff9600 182.0%,#ff9400 190.5%,#ff9400 320.0%);-webkit-mask-image:conic-gradient(from 0deg at 0.5px 206.50px,transparent 29.96deg,#000 33.15deg);mask-image:conic-gradient(from 0deg at 0.5px 206.50px,transparent 29.96deg,#000 33.15deg);"></div>
<div class="ax" style="left:39px;top:857px;width:234px;height:207px;background:radial-gradient(ellipse 105.95px 93.65px at 0.5px 206.50px,#ff9900 0.0%,#ffa000 0.8%,#ff9f00 1.2%,#ff9200 2.2%,#ff8900 3.0%,#ff8800 3.5%,#ff9000 4.2%,#ff9e00 5.2%,#ffa100 5.8%,#ff9b00 6.5%,#ff8900 7.8%,#ff8800 8.2%,#ff8e00 9.0%,#ff9d00 10.0%,#ffa000 10.5%,#ff9f00 11.0%,#ff8a00 12.5%,#ff8800 13.0%,#ff8d00 13.8%,#ff9e00 15.0%,#ffa100 15.5%,#ff9a00 16.2%,#ff8900 17.5%,#ff8800 18.0%,#ff8f00 18.8%,#ff9d00 19.8%,#ffa100 20.2%,#ff9f00 20.8%,#ff8a00 22.2%,#ff8800 22.8%,#ff8d00 23.5%,#ff9f00 24.8%,#ffa000 25.2%,#ff9a00 26.0%,#ff8b00 27.0%,#ff8800 27.5%,#ff8900 28.0%,#ff9e00 29.5%,#ffa100 30.0%,#ff9b00 30.8%,#ff8900 32.0%,#ff8800 32.5%,#ff8e00 33.2%,#ff9d00 34.2%,#ffa000 34.8%,#ff9f00 35.2%,#ff8a00 36.8%,#ff8800 37.2%,#ff8c00 38.0%,#ff9e00 39.2%,#ffa100 39.8%,#ff9b00 40.5%,#ff8900 41.8%,#ff8800 42.2%,#ff8f00 43.0%,#ff9d00 44.0%,#ffa100 44.5%,#ff9f00 45.0%,#ff8a00 46.5%,#ff8800 47.0%,#ff8d00 47.8%,#ff9f00 49.0%,#ffa000 49.5%,#ff9a00 50.2%,#ff8b00 51.2%,#ff8800 51.8%,#ff8900 52.2%,#ff9e00 53.8%,#ffa100 54.2%,#ff9b00 55.0%,#ff8a00 56.2%,#ff8800 56.8%,#ff8e00 57.5%,#ff9d00 58.5%,#ffa000 59.0%,#ff9f00 59.5%,#ff9100 60.5%,#ff8800 61.2%,#ff8800 61.8%,#ff9000 62.5%,#ff9e00 63.5%,#ffa100 64.0%,#ff9b00 64.8%,#ff8900 66.0%,#ff8800 66.5%,#ff8e00 67.2%,#ff9d00 68.2%,#ffa000 68.8%,#ff9f00 69.2%,#ff8a00 70.8%,#ff8800 71.2%,#ff8d00 72.0%,#ff9f00 73.2%,#ffa100 73.8%,#ff9a00 74.5%,#ff8b00 75.5%,#ff8800 76.0%,#ff8900 76.5%,#ff9e00 78.0%,#ffa100 78.5%,#ff9c00 79.2%,#ff8a00 80.5%,#ff8800 81.0%,#ff8e00 81.8%,#ff9f00 83.0%,#ffa000 83.5%,#ff9a00 84.2%,#ff8b00 85.2%,#ff8800 85.8%,#ff8a00 86.2%,#ff9f00 87.8%,#ffa000 88.2%,#ff9c00 88.8%,#ff8900 90.0%,#ff8800 90.5%,#ff8c00 91.0%,#ff9f00 92.2%,#ffa000 92.8%,#ff9c00 93.2%,#ff8900 94.5%,#ff8800 95.0%,#ff8c00 95.5%,#ff9d00 96.5%,#ffa100 97.0%,#ff9e00 97.5%,#ff8b00 98.8%,#ff8800 99.2%,#ff8b00 99.8%,#ff9e00 101.0%,#ffa000 101.5%,#ff9c00 102.0%,#ff8900 103.2%,#ff8800 103.8%,#ff9100 104.5%,#ffa000 105.5%,#ffa100 106.0%,#ff9c00 106.5%,#ff8a00 107.5%,#ff8600 108.0%,#ff8900 108.5%,#ffa200 110.0%,#ffa300 110.5%,#ff9d00 111.0%,#ff8600 112.2%,#ff8400 112.8%,#ff8900 113.2%,#ffa200 114.5%,#ffa600 115.0%,#ffa200 115.5%,#ff8600 116.8%,#ff8100 117.2%,#ff8400 117.8%,#ff9400 118.5%,#ffa500 119.2%,#ffa900 119.8%,#ffa400 120.2%,#ff8400 121.5%,#ff7d00 122.0%,#ff7d00 122.2%,#ff8400 122.8%,#ffa700 124.0%,#ffad00 124.5%,#ffac00 124.8%,#ffa300 125.2%,#ff8400 126.2%,#ff7a00 126.8%,#ff7800 127.0%,#ff7a00 127.2%,#ff8500 127.8%,#ffa700 128.8%,#ffae00 129.0%,#ffb100 129.2%,#ffb200 129.5%,#ffb000 129.8%,#ffab00 130.0%,#ff9a00 130.5%,#ff7e00 131.2%,#ff7700 131.5%,#ff7300 131.8%,#ff7300 132.0%,#ff7500 132.2%,#ff7b00 132.5%,#ff8e00 133.0%,#ffad00 133.8%,#ffb400 134.0%,#ffb800 134.2%,#ffb900 134.5%,#ffb500 134.8%,#ffaf00 135.0%,#ff9a00 135.5%,#ff7800 136.2%,#ff7000 136.5%,#ff6c00 136.8%,#ff6c00 137.0%,#ff6f00 137.2%,#ff7700 137.5%,#ff8e00 138.0%,#ffa800 138.5%,#ffb300 138.8%,#ffbc00 139.0%,#ffc000 139.2%,#ffc100 139.5%,#ffbd00 139.8%,#ffb500 140.0%,#ff9c00 140.5%,#ff8e00 140.8%,#ff8400 141.0%,#ff8200 141.2%,#ff8600 141.5%,#ff9000 141.8%,#ffaa00 142.0%,#ffd200 143.0%,#ffda00 143.2%,#ffdf00 143.5%,#ffdf00 143.8%,#ffd900 144.0%,#ffce00 144.2%,#ffbd00 144.5%,#ffa900 144.8%,#ff7800 145.2%,#ff4400 145.8%,#ff2e00 146.0%,#ff1d00 146.2%,#ff1200 146.5%,#ff0e00 146.8%,#ff1100 147.0%,#ff1c00 147.2%,#ff2c00 147.5%,#ff5700 148.0%,#ffb600 149.0%,#ffeb00 149.5%,#ffff0d 149.8%,#ffff3c 150.0%,#ffff9d 150.8%,#ffffb9 151.0%,#ffffd2 151.2%,#ffffe6 151.5%,#fffff3 151.8%,#fffffb 152.0%,#fffffb 152.2%,#fffff4 152.5%,#ffffe7 152.8%,#ffffd3 153.0%,#ffffba 153.2%,#ffff9c 153.5%,#ffff58 154.0%,#ffff0e 154.5%,#fff000 154.8%,#ffac00 155.5%,#ff7100 156.2%,#ff0100 157.8%,#c40000 158.5%,#740000 159.5%,#510000 160.0%,#340000 160.5%,#290000 160.8%,#200000 161.0%,#1a0000 161.2%,#170000 161.5%,#170000 161.8%,#190000 162.0%,#1f0000 162.2%,#270000 162.5%,#330000 162.8%,#500000 163.2%,#760000 163.8%,#b70000 164.5%,#fb0000 165.2%,#ff1100 165.5%,#ff4d00 166.2%,#ff7000 166.8%,#ff8d00 167.2%,#ffa500 167.8%,#ffc000 168.5%,#ffd300 169.2%,#ffde00 170.0%,#ffe500 171.0%,#ffe500 172.2%,#ffdb00 173.8%,#ffac00 178.2%,#ff9e00 180.5%,#ff9600 183.2%,#ff9400 192.2%,#ff9400 320.0%);-webkit-mask-image:conic-gradient(from 0deg at 0.5px 206.50px,transparent 33.15deg,#000 36.30deg);mask-image:conic-gradient(from 0deg at 0.5px 206.50px,transparent 33.15deg,#000 36.30deg);"></div>
<div class="ax" style="left:39px;top:857px;width:234px;height:207px;background:radial-gradient(ellipse 105.95px 93.65px at 0.5px 206.50px,#ff9900 0.0%,#ffa000 0.8%,#ff9f00 1.2%,#ff9200 2.2%,#ff8900 3.0%,#ff8800 3.5%,#ff8f00 4.2%,#ff9d00 5.2%,#ffa100 5.8%,#ff9c00 6.5%,#ff8a00 7.8%,#ff8800 8.2%,#ff8d00 9.0%,#ff9e00 10.2%,#ffa100 10.8%,#ff9b00 11.5%,#ff8900 12.8%,#ff8800 13.2%,#ff8e00 14.0%,#ff9f00 15.2%,#ffa000 15.8%,#ff9a00 16.5%,#ff8b00 17.5%,#ff8800 18.0%,#ff8c00 18.8%,#ff9d00 20.0%,#ffa100 20.5%,#ff9c00 21.2%,#ff8a00 22.5%,#ff8800 23.0%,#ff8d00 23.8%,#ff9e00 25.0%,#ffa100 25.5%,#ff9b00 26.2%,#ff8900 27.5%,#ff8800 28.0%,#ff8e00 28.8%,#ff9f00 30.0%,#ffa000 30.5%,#ff9a00 31.2%,#ff8b00 32.2%,#ff8800 32.8%,#ff8c00 33.5%,#ff9e00 34.8%,#ffa100 35.2%,#ff9c00 36.0%,#ff8a00 37.2%,#ff8800 37.8%,#ff8d00 38.5%,#ff9e00 39.8%,#ffa100 40.2%,#ff9b00 41.0%,#ff8900 42.2%,#ff8800 42.8%,#ff8e00 43.5%,#ff9d00 44.5%,#ffa000 45.0%,#ff9f00 45.5%,#ff9200 46.5%,#ff8900 47.2%,#ff8800 47.8%,#ff8f00 48.5%,#ff9e00 49.5%,#ffa100 50.0%,#ff9c00 50.8%,#ff8a00 52.0%,#ff8800 52.5%,#ff8d00 53.2%,#ff9f00 54.5%,#ffa100 55.0%,#ff9b00 55.8%,#ff8900 57.0%,#ff8800 57.5%,#ff8e00 58.2%,#ff9d00 59.2%,#ffa000 59.8%,#ff9f00 60.2%,#ff9200 61.2%,#ff8900 62.0%,#ff8800 62.5%,#ff8f00 63.2%,#ff9e00 64.2%,#ffa100 64.8%,#ff9c00 65.5%,#ff8a00 66.8%,#ff8800 67.2%,#ff8d00 68.0%,#ff9f00 69.2%,#ffa100 69.8%,#ff9b00 70.5%,#ff8900 71.8%,#ff8800 72.2%,#ff8e00 73.0%,#ff9d00 74.0%,#ffa000 74.5%,#ff9f00 75.0%,#ff8b00 76.5%,#ff8800 77.0%,#ff8c00 77.8%,#ff9e00 79.0%,#ffa100 79.5%,#ff9c00 80.2%,#ff8a00 81.5%,#ff8800 82.0%,#ff8d00 82.8%,#ff9f00 84.0%,#ffa100 84.5%,#ff9a00 85.2%,#ff8900 86.5%,#ff8800 87.0%,#ff8c00 87.5%,#ff9f00 88.8%,#ffa000 89.2%,#ff9d00 89.8%,#ff8900 91.0%,#ff8800 91.5%,#ff8c00 92.0%,#ff9f00 93.2%,#ffa000 93.8%,#ff9c00 94.2%,#ff8900 95.5%,#ff8800 96.0%,#ff9100 96.8%,#ff9d00 97.5%,#ffa100 98.0%,#ff9e00 98.5%,#ff8a00 99.8%,#ff8800 100.2%,#ff8b00 100.8%,#ff9f00 102.0%,#ffa000 102.5%,#ff9b00 103.0%,#ff8b00 104.0%,#ff8800 104.5%,#ff8b00 105.0%,#ff9e00 106.2%,#ffa100 106.8%,#ff9d00 107.2%,#ff8900 108.5%,#ff8600 109.0%,#ff8b00 109.5%,#ffa000 110.8%,#ffa300 111.2%,#ff9e00 111.8%,#ff8700 113.0%,#ff8400 113.5%,#ff8800 114.0%,#ffa200 115.2%,#ffa600 115.8%,#ffa200 116.2%,#ff8600 117.5%,#ff8100 118.0%,#ff8400 118.5%,#ff9500 119.2%,#ffa600 120.0%,#ffa900 120.5%,#ffa300 121.0%,#ff8300 122.2%,#ff7d00 122.8%,#ff8200 123.2%,#ff8e00 123.8%,#ffa400 124.5%,#ffac00 125.0%,#ffad00 125.2%,#ffab00 125.5%,#ff9f00 126.0%,#ff8000 127.0%,#ff7b00 127.2%,#ff7900 127.5%,#ff7a00 127.8%,#ff7d00 128.0%,#ff8b00 128.5%,#ffa500 129.2%,#ffb000 129.8%,#ffb200 130.0%,#ffb000 130.2%,#ffac00 130.5%,#ff9b00 131.0%,#ff7f00 131.8%,#ff7800 132.0%,#ff7400 132.2%,#ff7300 132.5%,#ff7600 132.8%,#ff7c00 133.0%,#ff8f00 133.5%,#ffae00 134.2%,#ffb400 134.5%,#ffb800 134.8%,#ffb800 135.0%,#ffb400 135.2%,#ffad00 135.5%,#ff9700 136.0%,#ff7f00 136.5%,#ff7600 136.8%,#ff6f00 137.0%,#ff6c00 137.2%,#ff6d00 137.5%,#ff7200 137.8%,#ff7b00 138.0%,#ffae00 139.0%,#ffb800 139.2%,#ffbe00 139.5%,#ffc000 139.8%,#ffbe00 140.0%,#ffb800 140.2%,#ffae00 140.5%,#ff8700 141.2%,#ff8200 141.5%,#ff8500 141.8%,#ff8e00 142.0%,#ffa800 142.2%,#ffbb00 142.8%,#ffd000 143.2%,#ffd900 143.5%,#ffde00 143.8%,#ffde00 144.0%,#ffd900 144.2%,#ffce00 144.5%,#ffbd00 144.8%,#ffa800 145.0%,#ff7600 145.5%,#ff4300 146.0%,#ff2d00 146.2%,#ff1c00 146.5%,#ff1100 146.8%,#ff0e00 147.0%,#ff1400 147.2%,#ff2000 147.5%,#ff3100 147.8%,#ff5e00 148.2%,#ffbf00 149.2%,#fff700 149.8%,#ffff22 150.0%,#ffff85 150.8%,#ffffa3 151.0%,#ffffbf 151.2%,#ffffd7 151.5%,#ffffea 151.8%,#fffff7 152.0%,#fffffd 152.2%,#fffffc 152.5%,#fffff4 152.8%,#ffffe6 153.0%,#ffffd1 153.2%,#ffffb7 153.5%,#ffff98 153.8%,#ffff53 154.2%,#ffff0a 154.8%,#ffed00 155.0%,#ffaa00 155.8%,#ff6f00 156.5%,#ff0100 158.0%,#b00000 159.0%,#610000 160.0%,#3f0000 160.5%,#260000 161.0%,#1c0000 161.2%,#150000 161.5%,#110000 161.8%,#100000 162.0%,#120000 162.2%,#170000 162.5%,#1f0000 162.8%,#290000 163.0%,#460000 163.5%,#6a0000 164.0%,#ab0000 164.8%,#ef0000 165.5%,#ff0600 165.8%,#ff4300 166.5%,#ff6700 167.0%,#ff8600 167.5%,#ff9f00 168.0%,#ffbc00 168.8%,#ffd100 169.5%,#ffde00 170.2%,#ffe600 171.2%,#ffe800 172.5%,#ffe000 174.0%,#ffc400 176.8%,#ffab00 179.2%,#ff9d00 181.5%,#ff9600 184.5%,#ff9400 197.0%,#ff9400 320.0%);-webkit-mask-image:conic-gradient(from 0deg at 0.5px 206.50px,transparent 36.30deg,#000 39.42deg);mask-image:conic-gradient(from 0deg at 0.5px 206.50px,transparent 36.30deg,#000 39.42deg);"></div>
<div class="ax" style="left:39px;top:857px;width:234px;height:207px;background:radial-gradient(ellipse 105.95px 93.65px at 0.5px 206.50px,#ff9900 0.0%,#ffa000 0.8%,#ff9f00 1.2%,#ff9300 2.2%,#ff8900 3.0%,#ff8800 3.5%,#ff8e00 4.2%,#ff9d00 5.2%,#ffa000 6.0%,#ff9a00 6.8%,#ff8b00 7.8%,#ff8800 8.5%,#ff8f00 9.2%,#ff9d00 10.2%,#ffa000 10.8%,#ff9c00 11.5%,#ff8b00 12.8%,#ff8800 13.2%,#ff8c00 14.0%,#ff9e00 15.2%,#ffa100 15.8%,#ff9c00 16.5%,#ff8a00 17.8%,#ff8800 18.2%,#ff8c00 19.0%,#ff9e00 20.2%,#ffa100 20.8%,#ff9b00 21.5%,#ff8a00 22.8%,#ff8800 23.2%,#ff8d00 24.0%,#ff9e00 25.2%,#ffa100 25.8%,#ff9b00 26.5%,#ff8a00 27.8%,#ff8800 28.2%,#ff8d00 29.0%,#ff9f00 30.2%,#ffa100 30.8%,#ff9a00 31.5%,#ff8900 32.8%,#ff8800 33.2%,#ff8e00 34.0%,#ff9f00 35.2%,#ffa000 35.8%,#ff9a00 36.5%,#ff8b00 37.5%,#ff8800 38.2%,#ff8e00 39.0%,#ff9d00 40.0%,#ffa000 40.8%,#ff9900 41.5%,#ff8b00 42.5%,#ff8800 43.0%,#ff8c00 43.8%,#ff9d00 45.0%,#ffa100 45.5%,#ff9c00 46.2%,#ff8a00 47.5%,#ff8800 48.0%,#ff8c00 48.8%,#ff9e00 50.0%,#ffa100 50.5%,#ff9c00 51.2%,#ff8a00 52.5%,#ff8800 53.0%,#ff8d00 53.8%,#ff9e00 55.0%,#ffa100 55.5%,#ff9b00 56.2%,#ff8a00 57.5%,#ff8800 58.0%,#ff8d00 58.8%,#ff9f00 60.0%,#ffa100 60.5%,#ff9b00 61.2%,#ff8900 62.5%,#ff8800 63.0%,#ff8e00 63.8%,#ff9f00 65.0%,#ffa000 65.5%,#ff9a00 66.2%,#ff8900 67.5%,#ff8800 68.0%,#ff8e00 68.8%,#ff9d00 69.8%,#ffa000 70.5%,#ff9a00 71.2%,#ff8b00 72.2%,#ff8800 73.0%,#ff8f00 73.8%,#ff9d00 74.8%,#ffa000 75.2%,#ff9c00 76.0%,#ff8b00 77.2%,#ff8800 77.8%,#ff8c00 78.5%,#ff9e00 79.8%,#ffa100 80.2%,#ff9c00 81.0%,#ff8a00 82.2%,#ff8800 82.8%,#ff8c00 83.5%,#ff9e00 84.8%,#ffa100 85.2%,#ff9b00 86.0%,#ff8a00 87.2%,#ff8800 87.8%,#ff8b00 88.2%,#ff9e00 89.5%,#ffa000 90.0%,#ff9d00 90.5%,#ff8a00 91.8%,#ff8800 92.2%,#ff8c00 92.8%,#ff9f00 94.0%,#ffa000 94.5%,#ff9c00 95.0%,#ff8b00 96.0%,#ff8800 96.5%,#ff8a00 97.0%,#ff9e00 98.2%,#ffa100 98.8%,#ff9d00 99.2%,#ff8a00 100.5%,#ff8800 101.0%,#ff8c00 101.5%,#ff9d00 102.5%,#ffa100 103.0%,#ff9e00 103.5%,#ff8a00 104.8%,#ff8800 105.2%,#ff8c00 105.8%,#ff9f00 107.0%,#ffa000 107.5%,#ff9c00 108.0%,#ff8b00 109.0%,#ff8600 109.5%,#ff8900 110.0%,#ff9f00 111.2%,#ffa300 111.8%,#ffa000 112.2%,#ff8800 113.5%,#ff8400 114.0%,#ff8700 114.5%,#ffa000 115.8%,#ffa500 116.2%,#ffa200 116.8%,#ff9300 117.5%,#ff8400 118.2%,#ff8200 118.8%,#ff8800 119.2%,#ffa000 120.2%,#ffa800 120.8%,#ffa700 121.2%,#ff9d00 121.8%,#ff8300 122.8%,#ff7e00 123.2%,#ff7f00 123.5%,#ff8800 124.0%,#ffa400 125.0%,#ffac00 125.5%,#ffac00 125.8%,#ffaa00 126.0%,#ff9e00 126.5%,#ff8500 127.2%,#ff7b00 127.8%,#ff7900 128.0%,#ff7b00 128.2%,#ff8500 128.8%,#ffa800 129.8%,#ffae00 130.0%,#ffb100 130.2%,#ffb100 130.5%,#ffae00 130.8%,#ffa000 131.2%,#ff8300 132.0%,#ff7b00 132.2%,#ff7600 132.5%,#ff7400 132.8%,#ff7500 133.0%,#ff7a00 133.2%,#ff8b00 133.8%,#ffab00 134.5%,#ffb200 134.8%,#ffb700 135.0%,#ffb800 135.2%,#ffb500 135.5%,#ffae00 135.8%,#ff9a00 136.2%,#ff8200 136.8%,#ff7800 137.0%,#ff7000 137.2%,#ff6d00 137.5%,#ff6d00 137.8%,#ff7200 138.0%,#ff7a00 138.2%,#ff9300 138.8%,#ffad00 139.2%,#ffb700 139.5%,#ffbd00 139.8%,#ffc000 140.0%,#ffbe00 140.2%,#ffb700 140.5%,#ffad00 140.8%,#ff9200 141.2%,#ff8700 141.5%,#ff8200 141.8%,#ff8500 142.0%,#ff8f00 142.2%,#ffa900 142.5%,#ffc700 143.2%,#ffda00 143.8%,#ffde00 144.0%,#ffdd00 144.2%,#ffd600 144.5%,#ffc900 144.8%,#ffb800 145.0%,#ffa100 145.2%,#ff3b00 146.2%,#ff2600 146.5%,#ff1700 146.8%,#ff1000 147.0%,#ff1000 147.2%,#ff1900 147.5%,#ff2800 147.8%,#ff3b00 148.0%,#ff9b00 149.0%,#ffce00 149.5%,#ffea00 149.8%,#ffff0f 150.0%,#ffff92 151.0%,#ffffb0 151.2%,#ffffca 151.5%,#ffffe0 151.8%,#fffff1 152.0%,#fffffb 152.2%,#ffffff 152.5%,#fffffb 152.8%,#fffff1 153.0%,#ffffdf 153.2%,#ffffc9 153.5%,#ffffad 153.8%,#ffff8d 154.0%,#ffff46 154.5%,#ffff21 154.8%,#fffd00 155.0%,#ffb800 155.8%,#ff7c00 156.5%,#ff0f00 158.0%,#fb0000 158.2%,#6e0000 160.0%,#4a0000 160.5%,#2c0000 161.0%,#210000 161.2%,#170000 161.5%,#110000 161.8%,#0d0000 162.0%,#0c0000 162.2%,#0e0000 162.5%,#130000 162.8%,#1b0000 163.0%,#260000 163.2%,#420000 163.8%,#670000 164.2%,#a80000 165.0%,#ec0000 165.8%,#ff0300 166.0%,#ff4100 166.8%,#ff6500 167.2%,#ff8400 167.8%,#ff9e00 168.2%,#ffbb00 169.0%,#ffd000 169.8%,#ffde00 170.5%,#ffe700 171.5%,#ffea00 172.8%,#ffe300 174.2%,#ffcd00 176.5%,#ffae00 179.5%,#ff9f00 181.8%,#ff9700 184.5%,#ff9400 191.0%,#ff9400 320.0%);-webkit-mask-image:conic-gradient(from 0deg at 0.5px 206.50px,transparent 39.42deg,#000 42.49deg);mask-image:conic-gradient(from 0deg at 0.5px 206.50px,transparent 39.42deg,#000 42.49deg);"></div>
<div class="ax" style="left:39px;top:857px;width:234px;height:207px;background:radial-gradient(ellipse 105.95px 93.65px at 0.5px 206.50px,#ff9900 0.0%,#ffa000 0.8%,#ff9d00 1.5%,#ff8900 3.0%,#ff8800 3.5%,#ff8e00 4.2%,#ff9f00 5.5%,#ffa000 6.0%,#ff9a00 6.8%,#ff8900 8.0%,#ff8800 8.5%,#ff8e00 9.2%,#ff9f00 10.5%,#ffa000 11.0%,#ff9a00 11.8%,#ff8900 13.0%,#ff8800 13.5%,#ff8e00 14.2%,#ff9f00 15.5%,#ffa000 16.0%,#ff9a00 16.8%,#ff8900 18.0%,#ff8800 18.5%,#ff8e00 19.2%,#ff9d00 20.2%,#ffa000 21.0%,#ff9a00 21.8%,#ff8b00 22.8%,#ff8800 23.5%,#ff8e00 24.2%,#ff9d00 25.2%,#ffa000 26.0%,#ff9a00 26.8%,#ff8b00 27.8%,#ff8800 28.5%,#ff8e00 29.2%,#ff9d00 30.2%,#ffa000 31.0%,#ff9a00 31.8%,#ff8b00 32.8%,#ff8800 33.5%,#ff8e00 34.2%,#ff9d00 35.2%,#ffa000 36.0%,#ff9a00 36.8%,#ff8b00 37.8%,#ff8800 38.5%,#ff8f00 39.2%,#ff9d00 40.2%,#ffa000 41.0%,#ff9900 41.8%,#ff8b00 42.8%,#ff8800 43.5%,#ff8f00 44.2%,#ff9d00 45.2%,#ffa000 46.0%,#ff9900 46.8%,#ff8b00 47.8%,#ff8800 48.5%,#ff8f00 49.2%,#ff9d00 50.2%,#ffa000 51.0%,#ff9900 51.8%,#ff8b00 52.8%,#ff8800 53.5%,#ff8f00 54.2%,#ff9d00 55.2%,#ffa000 56.0%,#ff9900 56.8%,#ff8b00 57.8%,#ff8800 58.5%,#ff8f00 59.2%,#ff9d00 60.2%,#ffa000 61.0%,#ff9900 61.8%,#ff8b00 62.8%,#ff8800 63.5%,#ff8f00 64.2%,#ff9e00 65.2%,#ffa000 66.0%,#ff9900 66.8%,#ff8b00 67.8%,#ff8800 68.5%,#ff8f00 69.2%,#ff9e00 70.2%,#ffa000 71.0%,#ff9900 71.8%,#ff8a00 72.8%,#ff8800 73.5%,#ff8f00 74.2%,#ff9e00 75.2%,#ffa000 76.0%,#ff9900 76.8%,#ff8a00 77.8%,#ff8800 78.5%,#ff9000 79.2%,#ff9e00 80.2%,#ffa000 81.0%,#ff9900 81.8%,#ff8a00 82.8%,#ff8800 83.2%,#ff8c00 84.0%,#ff9e00 85.2%,#ffa100 85.8%,#ff9c00 86.5%,#ff8a00 87.8%,#ff8800 88.2%,#ff8c00 88.8%,#ff9f00 90.0%,#ffa000 90.5%,#ff9c00 91.0%,#ff8900 92.2%,#ff8800 92.8%,#ff8c00 93.2%,#ff9f00 94.5%,#ffa000 95.0%,#ff9700 95.8%,#ff8b00 96.5%,#ff8800 97.0%,#ff8a00 97.5%,#ff9e00 98.8%,#ffa100 99.2%,#ff9d00 99.8%,#ff8900 101.0%,#ff8800 101.5%,#ff8d00 102.0%,#ff9e00 103.0%,#ffa100 103.5%,#ff9d00 104.0%,#ff8900 105.2%,#ff8800 105.8%,#ff8d00 106.2%,#ff9d00 107.2%,#ffa100 107.8%,#ff9e00 108.2%,#ff8900 109.5%,#ff8700 110.0%,#ff8a00 110.5%,#ffa000 111.8%,#ffa300 112.2%,#ff9e00 112.8%,#ff8700 114.0%,#ff8400 114.5%,#ff8900 115.0%,#ffa200 116.2%,#ffa500 116.8%,#ffa000 117.2%,#ff8500 118.5%,#ff8100 119.0%,#ff8700 119.5%,#ffa400 120.8%,#ffa800 121.2%,#ffa400 121.8%,#ff8400 123.0%,#ff7e00 123.5%,#ff7f00 123.8%,#ff8700 124.2%,#ffa400 125.2%,#ffac00 125.8%,#ffac00 126.0%,#ffaa00 126.2%,#ff9e00 126.8%,#ff8600 127.5%,#ff7b00 128.0%,#ff7900 128.2%,#ff7b00 128.5%,#ff7f00 128.8%,#ff8e00 129.2%,#ffa800 130.0%,#ffae00 130.2%,#ffb100 130.5%,#ffb100 130.8%,#ffae00 131.0%,#ff9f00 131.5%,#ff8200 132.2%,#ff7b00 132.5%,#ff7600 132.8%,#ff7400 133.0%,#ff7600 133.2%,#ff7b00 133.5%,#ff8d00 134.0%,#ffac00 134.8%,#ffb300 135.0%,#ffb700 135.2%,#ffb700 135.5%,#ffb300 135.8%,#ffac00 136.0%,#ff9700 136.5%,#ff7f00 137.0%,#ff7600 137.2%,#ff6f00 137.5%,#ff6d00 137.8%,#ff6f00 138.0%,#ff7400 138.2%,#ff7e00 138.5%,#ffb000 139.5%,#ffb900 139.8%,#ffbf00 140.0%,#ffbf00 140.2%,#ffbb00 140.5%,#ffb300 140.8%,#ff9a00 141.2%,#ff8c00 141.5%,#ff8400 141.8%,#ff8300 142.0%,#ff8900 142.2%,#ff9600 142.5%,#ffad00 142.8%,#ffd600 143.8%,#ffdc00 144.0%,#ffde00 144.2%,#ffd900 144.5%,#ffcf00 144.8%,#ffc000 145.0%,#ffab00 145.2%,#ff7900 145.8%,#ff4400 146.2%,#ff2d00 146.5%,#ff1c00 146.8%,#ff1200 147.0%,#ff0f00 147.2%,#ff1500 147.5%,#ff2200 147.8%,#ff3500 148.0%,#ff6300 148.5%,#ffc700 149.5%,#ffe300 149.8%,#ffff04 150.0%,#ffff87 151.0%,#ffffa6 151.2%,#ffffc2 151.5%,#ffffda 151.8%,#ffffec 152.0%,#fffff9 152.2%,#ffffff 152.5%,#fffffe 152.8%,#fffff6 153.0%,#ffffe7 153.2%,#ffffd2 153.5%,#ffffb8 153.8%,#ffff9a 154.0%,#ffff55 154.5%,#ffff0b 155.0%,#ffee00 155.2%,#ffab00 156.0%,#ff7100 156.8%,#ff0400 158.2%,#f00000 158.5%,#630000 160.2%,#400000 160.8%,#240000 161.2%,#1a0000 161.5%,#120000 161.8%,#0c0000 162.0%,#0b0000 162.5%,#0e0000 162.8%,#140000 163.0%,#1d0000 163.2%,#290000 163.5%,#470000 164.0%,#6d0000 164.5%,#af0000 165.2%,#f30000 166.0%,#ff0a00 166.2%,#ff4700 167.0%,#ff6a00 167.5%,#ff8800 168.0%,#ffa100 168.5%,#ffbe00 169.2%,#ffd200 170.0%,#ffdf00 170.8%,#ffe800 171.8%,#ffeb00 173.0%,#ffe400 174.5%,#ffcf00 176.8%,#ffb000 179.8%,#ffa000 182.0%,#ff9700 184.8%,#ff9400 190.8%,#ff9400 320.0%);-webkit-mask-image:conic-gradient(from 0deg at 0.5px 206.50px,transparent 42.49deg,#000 45.53deg);mask-image:conic-gradient(from 0deg at 0.5px 206.50px,transparent 42.49deg,#000 45.53deg);"></div>
<div class="ax" style="left:39px;top:857px;width:234px;height:207px;background:radial-gradient(ellipse 105.95px 93.65px at 0.5px 206.50px,#ff9900 0.0%,#ffa000 0.8%,#ff9d00 1.5%,#ff8900 3.0%,#ff8800 3.5%,#ff8e00 4.2%,#ff9f00 5.5%,#ffa100 6.0%,#ff9a00 6.8%,#ff8900 8.0%,#ff8800 8.5%,#ff8e00 9.2%,#ff9f00 10.5%,#ffa100 11.0%,#ff9a00 11.8%,#ff8900 13.0%,#ff8800 13.5%,#ff8e00 14.2%,#ff9f00 15.5%,#ffa100 16.0%,#ff9b00 16.8%,#ff8900 18.0%,#ff8800 18.5%,#ff8e00 19.2%,#ff9f00 20.5%,#ffa100 21.0%,#ff9b00 21.8%,#ff8900 23.0%,#ff8800 23.5%,#ff8e00 24.2%,#ff9f00 25.5%,#ffa100 26.0%,#ff9b00 26.8%,#ff8900 28.0%,#ff8800 28.5%,#ff8e00 29.2%,#ff9f00 30.5%,#ffa100 31.0%,#ff9b00 31.8%,#ff8900 33.0%,#ff8800 33.5%,#ff8d00 34.2%,#ff9f00 35.5%,#ffa100 36.0%,#ff9b00 36.8%,#ff8900 38.0%,#ff8800 38.5%,#ff8d00 39.2%,#ff9f00 40.5%,#ffa100 41.0%,#ff9b00 41.8%,#ff8900 43.0%,#ff8800 43.5%,#ff8d00 44.2%,#ff9f00 45.5%,#ffa100 46.0%,#ff9b00 46.8%,#ff8900 48.0%,#ff8800 48.5%,#ff8d00 49.2%,#ff9f00 50.5%,#ffa100 51.0%,#ff9b00 51.8%,#ff8900 53.0%,#ff8800 53.5%,#ff8d00 54.2%,#ff9f00 55.5%,#ffa100 56.0%,#ff9b00 56.8%,#ff8a00 58.0%,#ff8800 58.5%,#ff8d00 59.2%,#ff9f00 60.5%,#ffa100 61.0%,#ff9b00 61.8%,#ff8a00 63.0%,#ff8800 63.5%,#ff8d00 64.2%,#ff9f00 65.5%,#ffa100 66.0%,#ff9b00 66.8%,#ff8a00 68.0%,#ff8800 68.5%,#ff8d00 69.2%,#ff9f00 70.5%,#ffa100 71.0%,#ff9b00 71.8%,#ff8a00 73.0%,#ff8800 73.5%,#ff8d00 74.2%,#ff9f00 75.5%,#ffa100 76.0%,#ff9b00 76.8%,#ff8a00 78.0%,#ff8800 78.5%,#ff8d00 79.2%,#ff9f00 80.5%,#ffa100 81.0%,#ff9b00 81.8%,#ff8a00 83.0%,#ff8800 83.5%,#ff8d00 84.2%,#ff9e00 85.5%,#ffa100 86.0%,#ff9b00 86.8%,#ff8900 88.0%,#ff8800 88.5%,#ff9100 89.2%,#ff9d00 90.0%,#ffa100 90.5%,#ff9e00 91.0%,#ff8b00 92.2%,#ff8800 92.8%,#ff8a00 93.2%,#ff9e00 94.5%,#ffa100 95.0%,#ff9d00 95.5%,#ff8a00 96.8%,#ff8800 97.2%,#ff8c00 97.8%,#ff9f00 99.0%,#ffa000 99.5%,#ff9b00 100.0%,#ff8b00 101.0%,#ff8800 101.5%,#ff8b00 102.0%,#ff9f00 103.2%,#ffa000 103.8%,#ff9b00 104.2%,#ff8b00 105.2%,#ff8800 105.8%,#ff8b00 106.2%,#ff9f00 107.5%,#ffa000 108.0%,#ff9c00 108.5%,#ff8800 109.8%,#ff8700 110.2%,#ff8c00 110.8%,#ff9f00 111.8%,#ffa300 112.2%,#ffa000 112.8%,#ff8800 114.0%,#ff8400 114.5%,#ff8800 115.0%,#ffa100 116.2%,#ffa500 116.8%,#ffa200 117.2%,#ff8700 118.5%,#ff8200 119.0%,#ff8500 119.5%,#ff9600 120.2%,#ffa200 120.8%,#ffa800 121.2%,#ffa500 121.8%,#ff9b00 122.2%,#ff8600 123.0%,#ff7f00 123.5%,#ff7e00 123.8%,#ff8400 124.2%,#ffa700 125.5%,#ffab00 125.8%,#ffac00 126.0%,#ffab00 126.2%,#ffa100 126.8%,#ff8100 127.8%,#ff7c00 128.0%,#ff7a00 128.2%,#ff7a00 128.5%,#ff7d00 128.8%,#ff8b00 129.2%,#ffa500 130.0%,#ffac00 130.2%,#ffb000 130.5%,#ffb100 130.8%,#ffaf00 131.0%,#ffaa00 131.2%,#ff9900 131.8%,#ff7d00 132.5%,#ff7700 132.8%,#ff7400 133.0%,#ff7500 133.2%,#ff7900 133.5%,#ff8a00 134.0%,#ffaa00 134.8%,#ffb100 135.0%,#ffb600 135.2%,#ffb700 135.5%,#ffb500 135.8%,#ffae00 136.0%,#ff9a00 136.5%,#ff8200 137.0%,#ff7800 137.2%,#ff7100 137.5%,#ff6d00 137.8%,#ff6e00 138.0%,#ff7300 138.2%,#ff7c00 138.5%,#ff9400 139.0%,#ffae00 139.5%,#ffb800 139.8%,#ffbe00 140.0%,#ffbf00 140.2%,#ffbc00 140.5%,#ffb500 140.8%,#ff9d00 141.2%,#ff8f00 141.5%,#ff8500 141.8%,#ff8300 142.0%,#ff8800 142.2%,#ff9300 142.5%,#ffac00 142.8%,#ffd500 143.8%,#ffdb00 144.0%,#ffde00 144.2%,#ffda00 144.5%,#ffd100 144.8%,#ffc200 145.0%,#ffae00 145.2%,#ff9600 145.5%,#ff4700 146.2%,#ff3000 146.5%,#ff1e00 146.8%,#ff1300 147.0%,#ff0f00 147.2%,#ff1400 147.5%,#ff2100 147.8%,#ff3300 148.0%,#ff6100 148.5%,#ffc500 149.5%,#ffff00 150.0%,#ffff83 151.0%,#ffffa2 151.2%,#ffffbf 151.5%,#ffffd7 151.8%,#ffffea 152.0%,#fffff8 152.2%,#ffffff 152.5%,#ffffff 152.8%,#fffff8 153.0%,#ffffea 153.2%,#ffffd6 153.5%,#ffffbc 153.8%,#ffff9e 154.0%,#ffff59 154.5%,#ffff10 155.0%,#fff100 155.2%,#ffae00 156.0%,#ff7400 156.8%,#ff0700 158.2%,#f30000 158.5%,#660000 160.2%,#430000 160.8%,#260000 161.2%,#1b0000 161.5%,#120000 161.8%,#0c0000 162.0%,#0b0000 162.5%,#0c0000 162.8%,#120000 163.0%,#1a0000 163.2%,#250000 163.5%,#430000 164.0%,#680000 164.5%,#aa0000 165.2%,#ee0000 166.0%,#ff0500 166.2%,#ff4300 167.0%,#ff6600 167.5%,#ff8500 168.0%,#ff9f00 168.5%,#ffbc00 169.2%,#ffd100 170.0%,#ffde00 170.8%,#ffe800 171.8%,#ffeb00 173.0%,#ffe500 174.5%,#ffd000 176.8%,#ffaf00 180.0%,#ffa000 182.2%,#ff9700 185.0%,#ff9400 191.2%,#ff9400 320.0%);-webkit-mask-image:conic-gradient(from 0deg at 0.5px 206.50px,transparent 45.53deg,#000 48.53deg);mask-image:conic-gradient(from 0deg at 0.5px 206.50px,transparent 45.53deg,#000 48.53deg);"></div>
<div class="ax" style="left:39px;top:857px;width:234px;height:207px;background:radial-gradient(ellipse 105.95px 93.65px at 0.5px 206.50px,#ff9900 0.0%,#ffa000 0.8%,#ff9d00 1.5%,#ff8900 3.0%,#ff8800 3.5%,#ff8e00 4.2%,#ff9f00 5.5%,#ffa000 6.0%,#ff9a00 6.8%,#ff8900 8.0%,#ff8800 8.5%,#ff8e00 9.2%,#ff9f00 10.5%,#ffa000 11.0%,#ff9a00 11.8%,#ff8900 13.0%,#ff8800 13.5%,#ff8e00 14.2%,#ff9f00 15.5%,#ffa000 16.0%,#ff9a00 16.8%,#ff8900 18.0%,#ff8800 18.5%,#ff8e00 19.2%,#ff9d00 20.2%,#ffa000 21.0%,#ff9a00 21.8%,#ff8b00 22.8%,#ff8800 23.5%,#ff8e00 24.2%,#ff9d00 25.2%,#ffa000 26.0%,#ff9a00 26.8%,#ff8b00 27.8%,#ff8800 28.5%,#ff8e00 29.2%,#ff9d00 30.2%,#ffa000 31.0%,#ff9a00 31.8%,#ff8b00 32.8%,#ff8800 33.5%,#ff8e00 34.2%,#ff9d00 35.2%,#ffa000 36.0%,#ff9a00 36.8%,#ff8b00 37.8%,#ff8800 38.5%,#ff8f00 39.2%,#ff9d00 40.2%,#ffa000 41.0%,#ff9900 41.8%,#ff8b00 42.8%,#ff8800 43.5%,#ff8f00 44.2%,#ff9d00 45.2%,#ffa000 46.0%,#ff9900 46.8%,#ff8b00 47.8%,#ff8800 48.5%,#ff8f00 49.2%,#ff9d00 50.2%,#ffa000 51.0%,#ff9900 51.8%,#ff8b00 52.8%,#ff8800 53.5%,#ff8f00 54.2%,#ff9d00 55.2%,#ffa000 56.0%,#ff9900 56.8%,#ff8b00 57.8%,#ff8800 58.5%,#ff8f00 59.2%,#ff9d00 60.2%,#ffa000 61.0%,#ff9900 61.8%,#ff8b00 62.8%,#ff8800 63.5%,#ff8f00 64.2%,#ff9e00 65.2%,#ffa000 66.0%,#ff9900 66.8%,#ff8b00 67.8%,#ff8800 68.5%,#ff8f00 69.2%,#ff9e00 70.2%,#ffa000 71.0%,#ff9900 71.8%,#ff8a00 72.8%,#ff8800 73.5%,#ff8f00 74.2%,#ff9e00 75.2%,#ffa000 76.0%,#ff9900 76.8%,#ff8a00 77.8%,#ff8800 78.5%,#ff9000 79.2%,#ff9e00 80.2%,#ffa000 81.0%,#ff9900 81.8%,#ff8a00 82.8%,#ff8800 83.2%,#ff8c00 84.0%,#ff9e00 85.2%,#ffa100 85.8%,#ff9c00 86.5%,#ff8a00 87.8%,#ff8800 88.2%,#ff8c00 88.8%,#ff9f00 90.0%,#ffa000 90.5%,#ff9c00 91.0%,#ff8900 92.2%,#ff8800 92.8%,#ff8c00 93.2%,#ff9f00 94.5%,#ffa000 95.0%,#ff9700 95.8%,#ff8b00 96.5%,#ff8800 97.0%,#ff8a00 97.5%,#ff9e00 98.8%,#ffa100 99.2%,#ff9d00 99.8%,#ff8900 101.0%,#ff8800 101.5%,#ff8d00 102.0%,#ff9e00 103.0%,#ffa100 103.5%,#ff9d00 104.0%,#ff8900 105.2%,#ff8800 105.8%,#ff8d00 106.2%,#ff9d00 107.2%,#ffa100 107.8%,#ff9e00 108.2%,#ff8900 109.5%,#ff8700 110.0%,#ff8a00 110.5%,#ffa000 111.8%,#ffa300 112.2%,#ff9e00 112.8%,#ff8700 114.0%,#ff8400 114.5%,#ff8900 115.0%,#ffa200 116.2%,#ffa500 116.8%,#ffa000 117.2%,#ff8500 118.5%,#ff8100 119.0%,#ff8700 119.5%,#ffa400 120.8%,#ffa800 121.2%,#ffa400 121.8%,#ff8400 123.0%,#ff7e00 123.5%,#ff7f00 123.8%,#ff8700 124.2%,#ffa400 125.2%,#ffac00 125.8%,#ffac00 126.0%,#ffaa00 126.2%,#ff9e00 126.8%,#ff8600 127.5%,#ff7b00 128.0%,#ff7900 128.2%,#ff7b00 128.5%,#ff7f00 128.8%,#ff8e00 129.2%,#ffa800 130.0%,#ffae00 130.2%,#ffb100 130.5%,#ffb100 130.8%,#ffae00 131.0%,#ff9f00 131.5%,#ff8200 132.2%,#ff7b00 132.5%,#ff7600 132.8%,#ff7400 133.0%,#ff7600 133.2%,#ff7b00 133.5%,#ff8d00 134.0%,#ffac00 134.8%,#ffb300 135.0%,#ffb700 135.2%,#ffb700 135.5%,#ffb300 135.8%,#ffac00 136.0%,#ff9700 136.5%,#ff7f00 137.0%,#ff7600 137.2%,#ff6f00 137.5%,#ff6d00 137.8%,#ff6f00 138.0%,#ff7400 138.2%,#ff7e00 138.5%,#ffb000 139.5%,#ffb900 139.8%,#ffbf00 140.0%,#ffbf00 140.2%,#ffbb00 140.5%,#ffb300 140.8%,#ff9a00 141.2%,#ff8c00 141.5%,#ff8400 141.8%,#ff8300 142.0%,#ff8900 142.2%,#ff9600 142.5%,#ffad00 142.8%,#ffd600 143.8%,#ffdc00 144.0%,#ffde00 144.2%,#ffd900 144.5%,#ffcf00 144.8%,#ffc000 145.0%,#ffab00 145.2%,#ff7900 145.8%,#ff4400 146.2%,#ff2d00 146.5%,#ff1c00 146.8%,#ff1200 147.0%,#ff0f00 147.2%,#ff1500 147.5%,#ff2200 147.8%,#ff3500 148.0%,#ff6300 148.5%,#ffc700 149.5%,#ffe300 149.8%,#ffff04 150.0%,#ffff87 151.0%,#ffffa6 151.2%,#ffffc2 151.5%,#ffffda 151.8%,#ffffec 152.0%,#fffff9 152.2%,#ffffff 152.5%,#fffffe 152.8%,#fffff6 153.0%,#ffffe7 153.2%,#ffffd2 153.5%,#ffffb8 153.8%,#ffff9a 154.0%,#ffff55 154.5%,#ffff0b 155.0%,#ffee00 155.2%,#ffab00 156.0%,#ff7100 156.8%,#ff0400 158.2%,#f00000 158.5%,#630000 160.2%,#400000 160.8%,#240000 161.2%,#1a0000 161.5%,#120000 161.8%,#0c0000 162.0%,#0b0000 162.5%,#0e0000 162.8%,#140000 163.0%,#1d0000 163.2%,#290000 163.5%,#470000 164.0%,#6d0000 164.5%,#af0000 165.2%,#f30000 166.0%,#ff0a00 166.2%,#ff4700 167.0%,#ff6a00 167.5%,#ff8800 168.0%,#ffa100 168.5%,#ffbe00 169.2%,#ffd200 170.0%,#ffdf00 170.8%,#ffe800 171.8%,#ffeb00 173.0%,#ffe400 174.5%,#ffcf00 176.8%,#ffb000 179.8%,#ffa000 182.0%,#ff9700 184.8%,#ff9400 190.8%,#ff9400 320.0%);-webkit-mask-image:conic-gradient(from 0deg at 0.5px 206.50px,transparent 48.53deg,#000 51.48deg);mask-image:conic-gradient(from 0deg at 0.5px 206.50px,transparent 48.53deg,#000 51.48deg);"></div>
<div class="ax" style="left:39px;top:857px;width:234px;height:207px;background:radial-gradient(ellipse 105.95px 93.65px at 0.5px 206.50px,#ff9900 0.0%,#ffa000 0.8%,#ff9f00 1.2%,#ff9300 2.2%,#ff8900 3.0%,#ff8800 3.5%,#ff8e00 4.2%,#ff9d00 5.2%,#ffa000 6.0%,#ff9a00 6.8%,#ff8b00 7.8%,#ff8800 8.5%,#ff8f00 9.2%,#ff9d00 10.2%,#ffa000 10.8%,#ff9c00 11.5%,#ff8b00 12.8%,#ff8800 13.2%,#ff8c00 14.0%,#ff9e00 15.2%,#ffa100 15.8%,#ff9c00 16.5%,#ff8a00 17.8%,#ff8800 18.2%,#ff8c00 19.0%,#ff9e00 20.2%,#ffa100 20.8%,#ff9b00 21.5%,#ff8a00 22.8%,#ff8800 23.2%,#ff8d00 24.0%,#ff9e00 25.2%,#ffa100 25.8%,#ff9b00 26.5%,#ff8a00 27.8%,#ff8800 28.2%,#ff8d00 29.0%,#ff9f00 30.2%,#ffa100 30.8%,#ff9a00 31.5%,#ff8900 32.8%,#ff8800 33.2%,#ff8e00 34.0%,#ff9f00 35.2%,#ffa000 35.8%,#ff9a00 36.5%,#ff8b00 37.5%,#ff8800 38.2%,#ff8e00 39.0%,#ff9d00 40.0%,#ffa000 40.8%,#ff9900 41.5%,#ff8b00 42.5%,#ff8800 43.0%,#ff8c00 43.8%,#ff9d00 45.0%,#ffa100 45.5%,#ff9c00 46.2%,#ff8a00 47.5%,#ff8800 48.0%,#ff8c00 48.8%,#ff9e00 50.0%,#ffa100 50.5%,#ff9c00 51.2%,#ff8a00 52.5%,#ff8800 53.0%,#ff8d00 53.8%,#ff9e00 55.0%,#ffa100 55.5%,#ff9b00 56.2%,#ff8a00 57.5%,#ff8800 58.0%,#ff8d00 58.8%,#ff9f00 60.0%,#ffa100 60.5%,#ff9b00 61.2%,#ff8900 62.5%,#ff8800 63.0%,#ff8e00 63.8%,#ff9f00 65.0%,#ffa000 65.5%,#ff9a00 66.2%,#ff8900 67.5%,#ff8800 68.0%,#ff8e00 68.8%,#ff9d00 69.8%,#ffa000 70.5%,#ff9a00 71.2%,#ff8b00 72.2%,#ff8800 73.0%,#ff8f00 73.8%,#ff9d00 74.8%,#ffa000 75.2%,#ff9c00 76.0%,#ff8b00 77.2%,#ff8800 77.8%,#ff8c00 78.5%,#ff9e00 79.8%,#ffa100 80.2%,#ff9c00 81.0%,#ff8a00 82.2%,#ff8800 82.8%,#ff8c00 83.5%,#ff9e00 84.8%,#ffa100 85.2%,#ff9b00 86.0%,#ff8a00 87.2%,#ff8800 87.8%,#ff8b00 88.2%,#ff9e00 89.5%,#ffa000 90.0%,#ff9d00 90.5%,#ff8a00 91.8%,#ff8800 92.2%,#ff8c00 92.8%,#ff9f00 94.0%,#ffa000 94.5%,#ff9c00 95.0%,#ff8b00 96.0%,#ff8800 96.5%,#ff8a00 97.0%,#ff9e00 98.2%,#ffa100 98.8%,#ff9d00 99.2%,#ff8a00 100.5%,#ff8800 101.0%,#ff8c00 101.5%,#ff9d00 102.5%,#ffa100 103.0%,#ff9e00 103.5%,#ff8a00 104.8%,#ff8800 105.2%,#ff8c00 105.8%,#ff9f00 107.0%,#ffa000 107.5%,#ff9c00 108.0%,#ff8b00 109.0%,#ff8600 109.5%,#ff8900 110.0%,#ff9f00 111.2%,#ffa300 111.8%,#ffa000 112.2%,#ff8800 113.5%,#ff8400 114.0%,#ff8700 114.5%,#ffa000 115.8%,#ffa500 116.2%,#ffa200 116.8%,#ff9300 117.5%,#ff8400 118.2%,#ff8200 118.8%,#ff8800 119.2%,#ffa000 120.2%,#ffa800 120.8%,#ffa700 121.2%,#ff9d00 121.8%,#ff8300 122.8%,#ff7e00 123.2%,#ff7f00 123.5%,#ff8800 124.0%,#ffa400 125.0%,#ffac00 125.5%,#ffac00 125.8%,#ffaa00 126.0%,#ff9e00 126.5%,#ff8500 127.2%,#ff7b00 127.8%,#ff7900 128.0%,#ff7b00 128.2%,#ff8500 128.8%,#ffa800 129.8%,#ffae00 130.0%,#ffb100 130.2%,#ffb100 130.5%,#ffae00 130.8%,#ffa000 131.2%,#ff8300 132.0%,#ff7b00 132.2%,#ff7600 132.5%,#ff7400 132.8%,#ff7500 133.0%,#ff7a00 133.2%,#ff8b00 133.8%,#ffab00 134.5%,#ffb200 134.8%,#ffb700 135.0%,#ffb800 135.2%,#ffb500 135.5%,#ffae00 135.8%,#ff9a00 136.2%,#ff8200 136.8%,#ff7800 137.0%,#ff7000 137.2%,#ff6d00 137.5%,#ff6d00 137.8%,#ff7200 138.0%,#ff7a00 138.2%,#ff9300 138.8%,#ffad00 139.2%,#ffb700 139.5%,#ffbd00 139.8%,#ffc000 140.0%,#ffbe00 140.2%,#ffb700 140.5%,#ffad00 140.8%,#ff9200 141.2%,#ff8700 141.5%,#ff8200 141.8%,#ff8500 142.0%,#ff8f00 142.2%,#ffa900 142.5%,#ffc700 143.2%,#ffda00 143.8%,#ffde00 144.0%,#ffdd00 144.2%,#ffd600 144.5%,#ffc900 144.8%,#ffb800 145.0%,#ffa100 145.2%,#ff3b00 146.2%,#ff2600 146.5%,#ff1700 146.8%,#ff1000 147.0%,#ff1000 147.2%,#ff1900 147.5%,#ff2800 147.8%,#ff3b00 148.0%,#ff9b00 149.0%,#ffce00 149.5%,#ffea00 149.8%,#ffff0f 150.0%,#ffff92 151.0%,#ffffb0 151.2%,#ffffca 151.5%,#ffffe0 151.8%,#fffff1 152.0%,#fffffb 152.2%,#ffffff 152.5%,#fffffb 152.8%,#fffff1 153.0%,#ffffdf 153.2%,#ffffc9 153.5%,#ffffad 153.8%,#ffff8d 154.0%,#ffff46 154.5%,#ffff21 154.8%,#fffd00 155.0%,#ffb800 155.8%,#ff7c00 156.5%,#ff0f00 158.0%,#fb0000 158.2%,#6e0000 160.0%,#4a0000 160.5%,#2c0000 161.0%,#210000 161.2%,#170000 161.5%,#110000 161.8%,#0d0000 162.0%,#0c0000 162.2%,#0e0000 162.5%,#130000 162.8%,#1b0000 163.0%,#260000 163.2%,#420000 163.8%,#670000 164.2%,#a80000 165.0%,#ec0000 165.8%,#ff0300 166.0%,#ff4100 166.8%,#ff6500 167.2%,#ff8400 167.8%,#ff9e00 168.2%,#ffbb00 169.0%,#ffd000 169.8%,#ffde00 170.5%,#ffe700 171.5%,#ffea00 172.8%,#ffe300 174.2%,#ffcd00 176.5%,#ffae00 179.5%,#ff9f00 181.8%,#ff9700 184.5%,#ff9400 191.0%,#ff9400 320.0%);-webkit-mask-image:conic-gradient(from 0deg at 0.5px 206.50px,transparent 51.48deg,#000 54.41deg);mask-image:conic-gradient(from 0deg at 0.5px 206.50px,transparent 51.48deg,#000 54.41deg);"></div>
<div class="ax" style="left:39px;top:857px;width:234px;height:207px;background:radial-gradient(ellipse 105.95px 93.65px at 0.5px 206.50px,#ff9900 0.0%,#ffa000 0.8%,#ff9f00 1.2%,#ff9200 2.2%,#ff8900 3.0%,#ff8800 3.5%,#ff8f00 4.2%,#ff9d00 5.2%,#ffa100 5.8%,#ff9c00 6.5%,#ff8a00 7.8%,#ff8800 8.2%,#ff8d00 9.0%,#ff9e00 10.2%,#ffa100 10.8%,#ff9b00 11.5%,#ff8900 12.8%,#ff8800 13.2%,#ff8e00 14.0%,#ff9f00 15.2%,#ffa000 15.8%,#ff9a00 16.5%,#ff8b00 17.5%,#ff8800 18.0%,#ff8c00 18.8%,#ff9d00 20.0%,#ffa100 20.5%,#ff9c00 21.2%,#ff8a00 22.5%,#ff8800 23.0%,#ff8d00 23.8%,#ff9e00 25.0%,#ffa100 25.5%,#ff9b00 26.2%,#ff8900 27.5%,#ff8800 28.0%,#ff8e00 28.8%,#ff9f00 30.0%,#ffa000 30.5%,#ff9a00 31.2%,#ff8b00 32.2%,#ff8800 32.8%,#ff8c00 33.5%,#ff9e00 34.8%,#ffa100 35.2%,#ff9c00 36.0%,#ff8a00 37.2%,#ff8800 37.8%,#ff8d00 38.5%,#ff9e00 39.8%,#ffa100 40.2%,#ff9b00 41.0%,#ff8900 42.2%,#ff8800 42.8%,#ff8e00 43.5%,#ff9d00 44.5%,#ffa000 45.0%,#ff9f00 45.5%,#ff9200 46.5%,#ff8900 47.2%,#ff8800 47.8%,#ff8f00 48.5%,#ff9e00 49.5%,#ffa100 50.0%,#ff9c00 50.8%,#ff8a00 52.0%,#ff8800 52.5%,#ff8d00 53.2%,#ff9f00 54.5%,#ffa100 55.0%,#ff9b00 55.8%,#ff8900 57.0%,#ff8800 57.5%,#ff8e00 58.2%,#ff9d00 59.2%,#ffa000 59.8%,#ff9f00 60.2%,#ff9200 61.2%,#ff8900 62.0%,#ff8800 62.5%,#ff8f00 63.2%,#ff9e00 64.2%,#ffa100 64.8%,#ff9c00 65.5%,#ff8a00 66.8%,#ff8800 67.2%,#ff8d00 68.0%,#ff9f00 69.2%,#ffa100 69.8%,#ff9b00 70.5%,#ff8900 71.8%,#ff8800 72.2%,#ff8e00 73.0%,#ff9d00 74.0%,#ffa000 74.5%,#ff9f00 75.0%,#ff8b00 76.5%,#ff8800 77.0%,#ff8c00 77.8%,#ff9e00 79.0%,#ffa100 79.5%,#ff9c00 80.2%,#ff8a00 81.5%,#ff8800 82.0%,#ff8d00 82.8%,#ff9f00 84.0%,#ffa100 84.5%,#ff9a00 85.2%,#ff8900 86.5%,#ff8800 87.0%,#ff8c00 87.5%,#ff9f00 88.8%,#ffa000 89.2%,#ff9d00 89.8%,#ff8900 91.0%,#ff8800 91.5%,#ff8c00 92.0%,#ff9f00 93.2%,#ffa000 93.8%,#ff9c00 94.2%,#ff8900 95.5%,#ff8800 96.0%,#ff9100 96.8%,#ff9d00 97.5%,#ffa100 98.0%,#ff9e00 98.5%,#ff8a00 99.8%,#ff8800 100.2%,#ff8b00 100.8%,#ff9f00 102.0%,#ffa000 102.5%,#ff9b00 103.0%,#ff8b00 104.0%,#ff8800 104.5%,#ff8b00 105.0%,#ff9e00 106.2%,#ffa100 106.8%,#ff9d00 107.2%,#ff8900 108.5%,#ff8600 109.0%,#ff8b00 109.5%,#ffa000 110.8%,#ffa300 111.2%,#ff9e00 111.8%,#ff8700 113.0%,#ff8400 113.5%,#ff8800 114.0%,#ffa200 115.2%,#ffa600 115.8%,#ffa200 116.2%,#ff8600 117.5%,#ff8100 118.0%,#ff8400 118.5%,#ff9500 119.2%,#ffa600 120.0%,#ffa900 120.5%,#ffa300 121.0%,#ff8300 122.2%,#ff7d00 122.8%,#ff8200 123.2%,#ff8e00 123.8%,#ffa400 124.5%,#ffac00 125.0%,#ffad00 125.2%,#ffab00 125.5%,#ff9f00 126.0%,#ff8000 127.0%,#ff7b00 127.2%,#ff7900 127.5%,#ff7a00 127.8%,#ff7d00 128.0%,#ff8b00 128.5%,#ffa500 129.2%,#ffb000 129.8%,#ffb200 130.0%,#ffb000 130.2%,#ffac00 130.5%,#ff9b00 131.0%,#ff7f00 131.8%,#ff7800 132.0%,#ff7400 132.2%,#ff7300 132.5%,#ff7600 132.8%,#ff7c00 133.0%,#ff8f00 133.5%,#ffae00 134.2%,#ffb400 134.5%,#ffb800 134.8%,#ffb800 135.0%,#ffb400 135.2%,#ffad00 135.5%,#ff9700 136.0%,#ff7f00 136.5%,#ff7600 136.8%,#ff6f00 137.0%,#ff6c00 137.2%,#ff6d00 137.5%,#ff7200 137.8%,#ff7b00 138.0%,#ffae00 139.0%,#ffb800 139.2%,#ffbe00 139.5%,#ffc000 139.8%,#ffbe00 140.0%,#ffb800 140.2%,#ffae00 140.5%,#ff8700 141.2%,#ff8200 141.5%,#ff8500 141.8%,#ff8e00 142.0%,#ffa800 142.2%,#ffbb00 142.8%,#ffd000 143.2%,#ffd900 143.5%,#ffde00 143.8%,#ffde00 144.0%,#ffd900 144.2%,#ffce00 144.5%,#ffbd00 144.8%,#ffa800 145.0%,#ff7600 145.5%,#ff4300 146.0%,#ff2d00 146.2%,#ff1c00 146.5%,#ff1100 146.8%,#ff0e00 147.0%,#ff1400 147.2%,#ff2000 147.5%,#ff3100 147.8%,#ff5e00 148.2%,#ffbf00 149.2%,#fff700 149.8%,#ffff22 150.0%,#ffff85 150.8%,#ffffa3 151.0%,#ffffbf 151.2%,#ffffd7 151.5%,#ffffea 151.8%,#fffff7 152.0%,#fffffd 152.2%,#fffffc 152.5%,#fffff4 152.8%,#ffffe6 153.0%,#ffffd1 153.2%,#ffffb7 153.5%,#ffff98 153.8%,#ffff53 154.2%,#ffff0a 154.8%,#ffed00 155.0%,#ffaa00 155.8%,#ff6f00 156.5%,#ff0100 158.0%,#b00000 159.0%,#610000 160.0%,#3f0000 160.5%,#260000 161.0%,#1c0000 161.2%,#150000 161.5%,#110000 161.8%,#100000 162.0%,#120000 162.2%,#170000 162.5%,#1f0000 162.8%,#290000 163.0%,#460000 163.5%,#6a0000 164.0%,#ab0000 164.8%,#ef0000 165.5%,#ff0600 165.8%,#ff4300 166.5%,#ff6700 167.0%,#ff8600 167.5%,#ff9f00 168.0%,#ffbc00 168.8%,#ffd100 169.5%,#ffde00 170.2%,#ffe600 171.2%,#ffe800 172.5%,#ffe000 174.0%,#ffc400 176.8%,#ffab00 179.2%,#ff9d00 181.5%,#ff9600 184.5%,#ff9400 197.0%,#ff9400 320.0%);-webkit-mask-image:conic-gradient(from 0deg at 0.5px 206.50px,transparent 54.41deg,#000 57.29deg);mask-image:conic-gradient(from 0deg at 0.5px 206.50px,transparent 54.41deg,#000 57.29deg);"></div>
<div class="ax" style="left:39px;top:857px;width:234px;height:207px;background:radial-gradient(ellipse 105.95px 93.65px at 0.5px 206.50px,#ff9900 0.0%,#ffa000 0.8%,#ff9f00 1.2%,#ff9200 2.2%,#ff8900 3.0%,#ff8800 3.5%,#ff9000 4.2%,#ff9e00 5.2%,#ffa100 5.8%,#ff9b00 6.5%,#ff8900 7.8%,#ff8800 8.2%,#ff8e00 9.0%,#ff9d00 10.0%,#ffa000 10.5%,#ff9f00 11.0%,#ff8a00 12.5%,#ff8800 13.0%,#ff8d00 13.8%,#ff9e00 15.0%,#ffa100 15.5%,#ff9a00 16.2%,#ff8900 17.5%,#ff8800 18.0%,#ff8f00 18.8%,#ff9d00 19.8%,#ffa100 20.2%,#ff9f00 20.8%,#ff8a00 22.2%,#ff8800 22.8%,#ff8d00 23.5%,#ff9f00 24.8%,#ffa000 25.2%,#ff9a00 26.0%,#ff8b00 27.0%,#ff8800 27.5%,#ff8900 28.0%,#ff9e00 29.5%,#ffa100 30.0%,#ff9b00 30.8%,#ff8900 32.0%,#ff8800 32.5%,#ff8e00 33.2%,#ff9d00 34.2%,#ffa000 34.8%,#ff9f00 35.2%,#ff8a00 36.8%,#ff8800 37.2%,#ff8c00 38.0%,#ff9e00 39.2%,#ffa100 39.8%,#ff9b00 40.5%,#ff8900 41.8%,#ff8800 42.2%,#ff8f00 43.0%,#ff9d00 44.0%,#ffa100 44.5%,#ff9f00 45.0%,#ff8a00 46.5%,#ff8800 47.0%,#ff8d00 47.8%,#ff9f00 49.0%,#ffa000 49.5%,#ff9a00 50.2%,#ff8b00 51.2%,#ff8800 51.8%,#ff8900 52.2%,#ff9e00 53.8%,#ffa100 54.2%,#ff9b00 55.0%,#ff8a00 56.2%,#ff8800 56.8%,#ff8e00 57.5%,#ff9d00 58.5%,#ffa000 59.0%,#ff9f00 59.5%,#ff9100 60.5%,#ff8800 61.2%,#ff8800 61.8%,#ff9000 62.5%,#ff9e00 63.5%,#ffa100 64.0%,#ff9b00 64.8%,#ff8900 66.0%,#ff8800 66.5%,#ff8e00 67.2%,#ff9d00 68.2%,#ffa000 68.8%,#ff9f00 69.2%,#ff8a00 70.8%,#ff8800 71.2%,#ff8d00 72.0%,#ff9f00 73.2%,#ffa100 73.8%,#ff9a00 74.5%,#ff8b00 75.5%,#ff8800 76.0%,#ff8900 76.5%,#ff9e00 78.0%,#ffa100 78.5%,#ff9c00 79.2%,#ff8a00 80.5%,#ff8800 81.0%,#ff8e00 81.8%,#ff9f00 83.0%,#ffa000 83.5%,#ff9a00 84.2%,#ff8b00 85.2%,#ff8800 85.8%,#ff8a00 86.2%,#ff9f00 87.8%,#ffa000 88.2%,#ff9c00 88.8%,#ff8900 90.0%,#ff8800 90.5%,#ff8c00 91.0%,#ff9f00 92.2%,#ffa000 92.8%,#ff9c00 93.2%,#ff8900 94.5%,#ff8800 95.0%,#ff8c00 95.5%,#ff9d00 96.5%,#ffa100 97.0%,#ff9e00 97.5%,#ff8b00 98.8%,#ff8800 99.2%,#ff8b00 99.8%,#ff9e00 101.0%,#ffa000 101.5%,#ff9c00 102.0%,#ff8900 103.2%,#ff8800 103.8%,#ff9100 104.5%,#ffa000 105.5%,#ffa100 106.0%,#ff9c00 106.5%,#ff8a00 107.5%,#ff8600 108.0%,#ff8900 108.5%,#ffa200 110.0%,#ffa300 110.5%,#ff9d00 111.0%,#ff8600 112.2%,#ff8400 112.8%,#ff8900 113.2%,#ffa200 114.5%,#ffa600 115.0%,#ffa200 115.5%,#ff8600 116.8%,#ff8100 117.2%,#ff8400 117.8%,#ff9400 118.5%,#ffa500 119.2%,#ffa900 119.8%,#ffa400 120.2%,#ff8400 121.5%,#ff7d00 122.0%,#ff7d00 122.2%,#ff8400 122.8%,#ffa700 124.0%,#ffad00 124.5%,#ffac00 124.8%,#ffa300 125.2%,#ff8400 126.2%,#ff7a00 126.8%,#ff7800 127.0%,#ff7a00 127.2%,#ff8500 127.8%,#ffa700 128.8%,#ffae00 129.0%,#ffb100 129.2%,#ffb200 129.5%,#ffb000 129.8%,#ffab00 130.0%,#ff9a00 130.5%,#ff7e00 131.2%,#ff7700 131.5%,#ff7300 131.8%,#ff7300 132.0%,#ff7500 132.2%,#ff7b00 132.5%,#ff8e00 133.0%,#ffad00 133.8%,#ffb400 134.0%,#ffb800 134.2%,#ffb900 134.5%,#ffb500 134.8%,#ffaf00 135.0%,#ff9a00 135.5%,#ff7800 136.2%,#ff7000 136.5%,#ff6c00 136.8%,#ff6c00 137.0%,#ff6f00 137.2%,#ff7700 137.5%,#ff8e00 138.0%,#ffa800 138.5%,#ffb300 138.8%,#ffbc00 139.0%,#ffc000 139.2%,#ffc100 139.5%,#ffbd00 139.8%,#ffb500 140.0%,#ff9c00 140.5%,#ff8e00 140.8%,#ff8400 141.0%,#ff8200 141.2%,#ff8600 141.5%,#ff9000 141.8%,#ffaa00 142.0%,#ffd200 143.0%,#ffda00 143.2%,#ffdf00 143.5%,#ffdf00 143.8%,#ffd900 144.0%,#ffce00 144.2%,#ffbd00 144.5%,#ffa900 144.8%,#ff7800 145.2%,#ff4400 145.8%,#ff2e00 146.0%,#ff1d00 146.2%,#ff1200 146.5%,#ff0e00 146.8%,#ff1100 147.0%,#ff1c00 147.2%,#ff2c00 147.5%,#ff5700 148.0%,#ffb600 149.0%,#ffeb00 149.5%,#ffff0d 149.8%,#ffff3c 150.0%,#ffff9d 150.8%,#ffffb9 151.0%,#ffffd2 151.2%,#ffffe6 151.5%,#fffff3 151.8%,#fffffb 152.0%,#fffffb 152.2%,#fffff4 152.5%,#ffffe7 152.8%,#ffffd3 153.0%,#ffffba 153.2%,#ffff9c 153.5%,#ffff58 154.0%,#ffff0e 154.5%,#fff000 154.8%,#ffac00 155.5%,#ff7100 156.2%,#ff0100 157.8%,#c40000 158.5%,#740000 159.5%,#510000 160.0%,#340000 160.5%,#290000 160.8%,#200000 161.0%,#1a0000 161.2%,#170000 161.5%,#170000 161.8%,#190000 162.0%,#1f0000 162.2%,#270000 162.5%,#330000 162.8%,#500000 163.2%,#760000 163.8%,#b70000 164.5%,#fb0000 165.2%,#ff1100 165.5%,#ff4d00 166.2%,#ff7000 166.8%,#ff8d00 167.2%,#ffa500 167.8%,#ffc000 168.5%,#ffd300 169.2%,#ffde00 170.0%,#ffe500 171.0%,#ffe500 172.2%,#ffdb00 173.8%,#ffac00 178.2%,#ff9e00 180.5%,#ff9600 183.2%,#ff9400 192.2%,#ff9400 320.0%);-webkit-mask-image:conic-gradient(from 0deg at 0.5px 206.50px,transparent 57.29deg,#000 60.14deg);mask-image:conic-gradient(from 0deg at 0.5px 206.50px,transparent 57.29deg,#000 60.14deg);"></div>
<div class="ax" style="left:39px;top:857px;width:234px;height:207px;background:radial-gradient(ellipse 105.95px 93.65px at 0.5px 206.50px,#ff9900 0.0%,#ffa000 0.8%,#ff9f00 1.2%,#ff9100 2.2%,#ff8800 3.0%,#ff8800 3.5%,#ff9000 4.2%,#ff9f00 5.2%,#ffa000 5.8%,#ff9a00 6.5%,#ff8b00 7.5%,#ff8800 8.0%,#ff8a00 8.5%,#ff9e00 10.0%,#ffa100 10.5%,#ff9a00 11.2%,#ff8b00 12.2%,#ff8800 12.8%,#ff8900 13.2%,#ff9e00 14.8%,#ffa100 15.2%,#ff9b00 16.0%,#ff8900 17.2%,#ff8800 17.8%,#ff8f00 18.5%,#ff9e00 19.5%,#ffa100 20.0%,#ff9e00 20.5%,#ff8900 22.0%,#ff8800 22.5%,#ff8e00 23.2%,#ff9d00 24.2%,#ffa100 24.8%,#ff9e00 25.2%,#ff8a00 26.8%,#ff8800 27.2%,#ff8e00 28.0%,#ff9d00 29.0%,#ffa000 29.5%,#ff9f00 30.0%,#ff8a00 31.5%,#ff8800 32.0%,#ff8e00 32.8%,#ff9d00 33.8%,#ffa000 34.2%,#ff9f00 34.8%,#ff8a00 36.2%,#ff8800 36.8%,#ff8d00 37.5%,#ff9f00 38.8%,#ffa000 39.2%,#ff9900 40.0%,#ff8b00 41.0%,#ff8800 41.5%,#ff8a00 42.0%,#ff9f00 43.5%,#ffa100 44.0%,#ff9a00 44.8%,#ff8b00 45.8%,#ff8800 46.2%,#ff8a00 46.8%,#ff9e00 48.2%,#ffa100 48.8%,#ff9a00 49.5%,#ff8b00 50.5%,#ff8800 51.0%,#ff8900 51.5%,#ff9e00 53.0%,#ffa100 53.5%,#ff9b00 54.2%,#ff8900 55.5%,#ff8800 56.0%,#ff8f00 56.8%,#ff9e00 57.8%,#ffa100 58.2%,#ff9e00 58.8%,#ff8900 60.2%,#ff8800 60.8%,#ff8e00 61.5%,#ff9d00 62.5%,#ffa100 63.0%,#ff9e00 63.5%,#ff8a00 65.0%,#ff8800 65.5%,#ff8e00 66.2%,#ff9d00 67.2%,#ffa000 67.8%,#ff9f00 68.2%,#ff8a00 69.8%,#ff8800 70.2%,#ff8d00 71.0%,#ff9f00 72.2%,#ffa000 72.8%,#ff9900 73.5%,#ff8a00 74.5%,#ff8800 75.0%,#ff8a00 75.5%,#ff9f00 77.0%,#ffa000 77.5%,#ff9a00 78.2%,#ff8b00 79.2%,#ff8800 79.8%,#ff8a00 80.2%,#ff9f00 81.8%,#ffa100 82.2%,#ff9a00 83.0%,#ff8b00 84.0%,#ff8800 84.5%,#ff8900 85.0%,#ff9e00 86.5%,#ffa100 87.0%,#ff9d00 87.5%,#ff8a00 88.8%,#ff8800 89.2%,#ff8b00 89.8%,#ff9e00 91.0%,#ffa100 91.5%,#ff9d00 92.0%,#ff8a00 93.2%,#ff8800 93.8%,#ff8b00 94.2%,#ff9e00 95.5%,#ffa000 96.0%,#ff9c00 96.5%,#ff8900 97.8%,#ff8800 98.2%,#ff8c00 98.8%,#ff9d00 99.8%,#ffa100 100.2%,#ff9e00 100.8%,#ff8b00 102.0%,#ff8800 102.5%,#ff8a00 103.0%,#ff9e00 104.2%,#ffa100 104.8%,#ff9e00 105.2%,#ff8900 106.5%,#ff8600 107.0%,#ff8900 107.5%,#ff9f00 108.8%,#ffa400 109.2%,#ffa100 109.8%,#ff8600 111.2%,#ff8300 111.8%,#ff8800 112.2%,#ffa200 113.5%,#ffa600 114.0%,#ffa300 114.5%,#ff8300 116.0%,#ff8000 116.5%,#ff8600 117.0%,#ffa400 118.2%,#ffaa00 118.8%,#ffa700 119.2%,#ff9c00 119.8%,#ff8200 120.8%,#ff7c00 121.2%,#ff8100 121.8%,#ff8d00 122.2%,#ffa300 123.0%,#ffad00 123.5%,#ffae00 123.8%,#ffad00 124.0%,#ffa300 124.5%,#ff8300 125.5%,#ff7900 126.0%,#ff7800 126.2%,#ff7900 126.5%,#ff8400 127.0%,#ffa600 128.0%,#ffb200 128.5%,#ffb300 128.8%,#ffb200 129.0%,#ffad00 129.2%,#ff9e00 129.8%,#ff8100 130.5%,#ff7900 130.8%,#ff7400 131.0%,#ff7200 131.2%,#ff7300 131.5%,#ff7700 131.8%,#ff8800 132.2%,#ffa800 133.0%,#ffb100 133.2%,#ffb700 133.5%,#ffba00 133.8%,#ffb900 134.0%,#ffb500 134.2%,#ffad00 134.5%,#ff9800 135.0%,#ff8000 135.5%,#ff7600 135.8%,#ff6f00 136.0%,#ff6b00 136.2%,#ff6b00 136.5%,#ff6f00 136.8%,#ff7600 137.0%,#ff8d00 137.5%,#ffb300 138.2%,#ffbc00 138.5%,#ffc100 138.8%,#ffc200 139.0%,#ffbf00 139.2%,#ffb800 139.5%,#ffa000 140.0%,#ff8600 140.5%,#ff8100 140.8%,#ff8300 141.0%,#ff8b00 141.2%,#ffa700 141.5%,#ffb900 142.0%,#ffd700 142.8%,#ffde00 143.0%,#ffe000 143.2%,#ffde00 143.5%,#ffd600 143.8%,#ffca00 144.0%,#ffb800 144.2%,#ffa300 144.5%,#ff4000 145.5%,#ff2b00 145.8%,#ff1a00 146.0%,#ff1000 146.2%,#ff0d00 146.5%,#ff1100 146.8%,#ff1b00 147.0%,#ff2b00 147.2%,#ff5500 147.8%,#ffca00 149.0%,#ffff02 149.5%,#ffff5c 150.0%,#ffff9c 150.5%,#ffffb8 150.8%,#ffffd0 151.0%,#ffffe4 151.2%,#fffff2 151.5%,#fffff9 151.8%,#fffff9 152.0%,#fffff2 152.2%,#ffffe4 152.5%,#ffffd1 152.8%,#ffffb7 153.0%,#ffff99 153.2%,#ffff55 153.8%,#ffff0b 154.2%,#ffee00 154.5%,#ffaa00 155.2%,#ff6e00 156.0%,#ff1000 157.2%,#fc0000 157.5%,#830000 159.0%,#5f0000 159.5%,#410000 160.0%,#2b0000 160.5%,#240000 160.8%,#1f0000 161.0%,#1e0000 161.2%,#1f0000 161.5%,#240000 161.8%,#2b0000 162.0%,#350000 162.2%,#510000 162.8%,#750000 163.2%,#b50000 164.0%,#f90000 164.8%,#ff0f00 165.0%,#ff4c00 165.8%,#ff6e00 166.2%,#ff8c00 166.8%,#ffa400 167.2%,#ffc000 168.0%,#ffd200 168.8%,#ffdd00 169.5%,#ffe300 170.5%,#ffe100 171.8%,#ffd300 173.5%,#ffae00 177.0%,#ff9e00 179.2%,#ff9600 182.0%,#ff9400 190.5%,#ff9400 320.0%);-webkit-mask-image:conic-gradient(from 0deg at 0.5px 206.50px,transparent 60.14deg,#000 62.96deg);mask-image:conic-gradient(from 0deg at 0.5px 206.50px,transparent 60.14deg,#000 62.96deg);"></div>
<div class="ax" style="left:39px;top:857px;width:234px;height:207px;background:radial-gradient(ellipse 105.95px 93.65px at 0.5px 206.50px,#ff9900 0.0%,#ffa000 0.8%,#ff9f00 1.2%,#ff8a00 2.8%,#ff8800 3.2%,#ff8b00 3.8%,#ff9d00 5.0%,#ffa000 5.5%,#ff9f00 6.0%,#ff8a00 7.5%,#ff8800 8.0%,#ff8e00 8.8%,#ff9d00 9.8%,#ffa100 10.2%,#ff9e00 10.8%,#ff8900 12.2%,#ff8800 12.8%,#ff8f00 13.5%,#ff9e00 14.5%,#ffa100 15.0%,#ff9e00 15.5%,#ff8900 17.0%,#ff8800 17.5%,#ff9000 18.2%,#ff9e00 19.2%,#ffa100 19.8%,#ff9a00 20.5%,#ff8b00 21.5%,#ff8800 22.0%,#ff8a00 22.5%,#ff9f00 24.0%,#ffa000 24.5%,#ff9a00 25.2%,#ff8a00 26.2%,#ff8800 26.8%,#ff8a00 27.2%,#ff9f00 28.8%,#ffa000 29.2%,#ff9900 30.0%,#ff8a00 31.0%,#ff8800 31.5%,#ff8a00 32.0%,#ff9d00 33.2%,#ffa000 33.8%,#ff9f00 34.2%,#ff8a00 35.8%,#ff8800 36.2%,#ff8e00 37.0%,#ff9d00 38.0%,#ffa100 38.5%,#ff9e00 39.0%,#ff8900 40.5%,#ff8800 41.0%,#ff8f00 41.8%,#ff9e00 42.8%,#ffa100 43.2%,#ff9e00 43.8%,#ff8900 45.2%,#ff8800 45.8%,#ff9000 46.5%,#ff9e00 47.5%,#ffa100 48.0%,#ff9a00 48.8%,#ff8b00 49.8%,#ff8800 50.2%,#ff8a00 50.8%,#ff9f00 52.2%,#ffa000 52.8%,#ff9a00 53.5%,#ff8a00 54.5%,#ff8800 55.0%,#ff8a00 55.5%,#ff9f00 57.0%,#ffa000 57.5%,#ff9900 58.2%,#ff8a00 59.2%,#ff8800 59.8%,#ff8a00 60.2%,#ff9d00 61.5%,#ffa000 62.0%,#ff9f00 62.5%,#ff8a00 64.0%,#ff8800 64.5%,#ff8e00 65.2%,#ff9d00 66.2%,#ffa100 66.8%,#ff9e00 67.2%,#ff8900 68.8%,#ff8800 69.2%,#ff8f00 70.0%,#ff9e00 71.0%,#ffa100 71.5%,#ff9e00 72.0%,#ff8900 73.5%,#ff8800 74.0%,#ff8f00 74.8%,#ff9e00 75.8%,#ffa100 76.2%,#ff9a00 77.0%,#ff8b00 78.0%,#ff8800 78.5%,#ff8a00 79.0%,#ff9f00 80.5%,#ffa000 81.0%,#ff9a00 81.8%,#ff8a00 82.8%,#ff8800 83.2%,#ff8a00 83.8%,#ff9f00 85.2%,#ffa000 85.8%,#ff9900 86.5%,#ff8a00 87.5%,#ff8800 88.0%,#ff8b00 88.5%,#ff9e00 89.8%,#ffa100 90.2%,#ff9d00 90.8%,#ff8a00 92.0%,#ff8800 92.5%,#ff8c00 93.0%,#ff9f00 94.2%,#ffa000 94.8%,#ff9c00 95.2%,#ff8900 96.5%,#ff8800 97.0%,#ff8c00 97.5%,#ff9d00 98.5%,#ffa100 99.0%,#ff9e00 99.5%,#ff8b00 100.8%,#ff8700 101.2%,#ff8a00 101.8%,#ff9e00 103.0%,#ffa200 103.5%,#ff9f00 104.0%,#ff8700 105.5%,#ff8600 106.0%,#ff8b00 106.5%,#ffa200 107.8%,#ffa400 108.2%,#ff9f00 108.8%,#ff8700 110.0%,#ff8300 110.5%,#ff8600 111.0%,#ffa400 112.5%,#ffa700 113.0%,#ffa200 113.5%,#ff8500 114.8%,#ff8000 115.2%,#ff8200 115.8%,#ff8c00 116.2%,#ffa500 117.2%,#ffaa00 117.8%,#ffa700 118.2%,#ff9c00 118.8%,#ff8100 119.8%,#ff7c00 120.2%,#ff8000 120.8%,#ff8b00 121.2%,#ffa800 122.2%,#ffae00 122.8%,#ffae00 123.0%,#ffa600 123.5%,#ff7f00 124.8%,#ff7700 125.2%,#ff7700 125.5%,#ff7a00 125.8%,#ff8700 126.2%,#ffa900 127.2%,#ffaf00 127.5%,#ffb300 127.8%,#ffb400 128.0%,#ffb200 128.2%,#ffa500 128.8%,#ff7f00 129.8%,#ff7800 130.0%,#ff7300 130.2%,#ff7100 130.5%,#ff7200 130.8%,#ff7700 131.0%,#ff8700 131.5%,#ffa700 132.2%,#ffb700 132.8%,#ffba00 133.0%,#ffba00 133.2%,#ffb700 133.5%,#ffb100 133.8%,#ff9c00 134.2%,#ff7900 135.0%,#ff7100 135.2%,#ff6b00 135.5%,#ff6900 135.8%,#ff6b00 136.0%,#ff7100 136.2%,#ff7900 136.5%,#ff9200 137.0%,#ffac00 137.5%,#ffb700 137.8%,#ffbf00 138.0%,#ffc300 138.2%,#ffc300 138.5%,#ffbf00 138.8%,#ffb700 139.0%,#ff9f00 139.5%,#ff9100 139.8%,#ff8600 140.0%,#ff8100 140.2%,#ff8200 140.5%,#ff8a00 140.8%,#ffa700 141.0%,#ffb800 141.5%,#ffd600 142.2%,#ffdd00 142.5%,#ffe100 142.8%,#ffe000 143.0%,#ffdb00 143.2%,#ffd000 143.5%,#ffc000 143.8%,#ffad00 144.0%,#ff7e00 144.5%,#ff4c00 145.0%,#ff3600 145.2%,#ff2300 145.5%,#ff1500 145.8%,#ff0d00 146.0%,#ff0c00 146.2%,#ff1200 146.5%,#ff1e00 146.8%,#ff2f00 147.0%,#ff5800 147.5%,#ffc900 148.8%,#fffe00 149.2%,#ffff29 149.5%,#ffff81 150.0%,#ffff9f 150.2%,#ffffbb 150.5%,#ffffd2 150.8%,#ffffe5 151.0%,#fffff1 151.2%,#fffff7 151.5%,#fffff6 151.8%,#ffffed 152.0%,#ffffdf 152.2%,#ffffca 152.5%,#ffffaf 152.8%,#ffff91 153.0%,#ffff4b 153.5%,#ffff01 154.0%,#ffb900 154.8%,#ff7b00 155.5%,#ff0800 157.0%,#f30000 157.2%,#8f0000 158.5%,#6a0000 159.0%,#4c0000 159.5%,#350000 160.0%,#2d0000 160.2%,#280000 160.5%,#270000 160.8%,#280000 161.0%,#2c0000 161.2%,#330000 161.5%,#3d0000 161.8%,#580000 162.2%,#7c0000 162.8%,#bb0000 163.5%,#fe0000 164.2%,#ff3d00 165.0%,#ff6200 165.5%,#ff8100 166.0%,#ff9c00 166.5%,#ffb100 167.0%,#ffc800 167.8%,#ffd600 168.5%,#ffde00 169.2%,#ffe000 170.2%,#ffda00 171.5%,#ffc400 173.8%,#ffaa00 176.2%,#ff9d00 178.2%,#ff9600 181.0%,#ff9400 194.0%,#ff9400 320.0%);-webkit-mask-image:conic-gradient(from 0deg at 0.5px 206.50px,transparent 62.96deg,#000 65.75deg);mask-image:conic-gradient(from 0deg at 0.5px 206.50px,transparent 62.96deg,#000 65.75deg);"></div>
<div class="ax" style="left:39px;top:857px;width:234px;height:207px;background:radial-gradient(ellipse 105.95px 93.65px at 0.5px 206.50px,#ff9900 0.0%,#ffa000 0.8%,#ff9f00 1.2%,#ff8a00 2.8%,#ff8800 3.2%,#ff8f00 4.0%,#ff9e00 5.0%,#ffa100 5.5%,#ff9e00 6.0%,#ff8b00 7.2%,#ff8800 7.8%,#ff8a00 8.2%,#ff9f00 9.8%,#ffa000 10.2%,#ff9900 11.0%,#ff8a00 12.0%,#ff8800 12.5%,#ff8b00 13.0%,#ff9e00 14.2%,#ffa100 14.8%,#ff9e00 15.2%,#ff8900 16.8%,#ff8800 17.2%,#ff9000 18.0%,#ff9f00 19.0%,#ffa000 19.5%,#ff9900 20.2%,#ff8a00 21.2%,#ff8800 21.8%,#ff8b00 22.2%,#ff9d00 23.5%,#ffa100 24.0%,#ff9e00 24.5%,#ff8900 26.0%,#ff8800 26.5%,#ff9000 27.2%,#ff9f00 28.2%,#ffa000 28.8%,#ff9900 29.5%,#ff8a00 30.5%,#ff8800 31.0%,#ff8b00 31.5%,#ff9d00 32.8%,#ffa100 33.2%,#ff9e00 33.8%,#ff8900 35.2%,#ff8800 35.8%,#ff9000 36.5%,#ff9e00 37.5%,#ffa100 38.0%,#ff9d00 38.5%,#ff8a00 39.8%,#ff8800 40.2%,#ff8a00 40.8%,#ff9d00 42.0%,#ffa100 42.5%,#ff9e00 43.0%,#ff8900 44.5%,#ff8800 45.0%,#ff8f00 45.8%,#ff9e00 46.8%,#ffa100 47.2%,#ff9d00 47.8%,#ff8b00 49.0%,#ff8800 49.5%,#ff8a00 50.0%,#ff9f00 51.5%,#ffa000 52.0%,#ff9800 52.8%,#ff8900 53.8%,#ff8800 54.2%,#ff8f00 55.0%,#ff9e00 56.0%,#ffa100 56.5%,#ff9d00 57.0%,#ff8b00 58.2%,#ff8800 58.8%,#ff8a00 59.2%,#ff9f00 60.8%,#ffa000 61.2%,#ff9800 62.0%,#ff8a00 63.0%,#ff8800 63.5%,#ff8f00 64.2%,#ff9e00 65.2%,#ffa100 65.8%,#ff9e00 66.2%,#ff8b00 67.5%,#ff8800 68.0%,#ff8a00 68.5%,#ff9f00 70.0%,#ffa000 70.5%,#ff9900 71.2%,#ff8a00 72.2%,#ff8800 72.8%,#ff8b00 73.2%,#ff9e00 74.5%,#ffa100 75.0%,#ff9e00 75.5%,#ff8900 77.0%,#ff8800 77.5%,#ff9000 78.2%,#ff9f00 79.2%,#ffa000 79.8%,#ff9900 80.5%,#ff8a00 81.5%,#ff8800 82.0%,#ff8b00 82.5%,#ff9d00 83.8%,#ffa100 84.2%,#ff9e00 84.8%,#ff8900 86.2%,#ff8800 86.8%,#ff9000 87.5%,#ff9f00 88.5%,#ffa000 89.0%,#ff9800 89.8%,#ff8900 90.8%,#ff8800 91.2%,#ff9100 92.0%,#ff9d00 92.8%,#ffa100 93.2%,#ff9e00 93.8%,#ff8b00 95.0%,#ff8800 95.5%,#ff8a00 96.0%,#ff9e00 97.2%,#ffa100 97.8%,#ff9d00 98.2%,#ff8a00 99.5%,#ff8700 100.0%,#ff8a00 100.5%,#ff9f00 101.8%,#ffa200 102.2%,#ff9f00 102.8%,#ff8900 104.0%,#ff8500 104.5%,#ff8800 105.0%,#ffa200 106.5%,#ffa400 107.0%,#ffa000 107.5%,#ff8600 108.8%,#ff8200 109.2%,#ff8500 109.8%,#ff9500 110.5%,#ffa400 111.2%,#ffa700 111.8%,#ffa300 112.2%,#ff8600 113.5%,#ff8000 114.0%,#ff8100 114.5%,#ff8900 115.0%,#ffa300 116.0%,#ffaa00 116.5%,#ffa900 117.0%,#ffa000 117.5%,#ff8400 118.5%,#ff7c00 119.0%,#ff7d00 119.5%,#ff8600 120.0%,#ffa400 121.0%,#ffae00 121.5%,#ffaf00 121.8%,#ffae00 122.0%,#ffa600 122.5%,#ff7e00 123.8%,#ff7700 124.2%,#ff7600 124.5%,#ff7900 124.8%,#ff8500 125.2%,#ffa800 126.2%,#ffb300 126.8%,#ffb500 127.0%,#ffb400 127.2%,#ffb000 127.5%,#ffa000 128.0%,#ff7a00 129.0%,#ff7400 129.2%,#ff7100 129.5%,#ff7000 129.8%,#ff7300 130.0%,#ff7800 130.2%,#ff8a00 130.8%,#ffaa00 131.5%,#ffb300 131.8%,#ffb900 132.0%,#ffbc00 132.2%,#ffbb00 132.5%,#ffb700 132.8%,#ffb100 133.0%,#ff9c00 133.5%,#ff7900 134.2%,#ff7000 134.5%,#ff6a00 134.8%,#ff6800 135.0%,#ff6900 135.2%,#ff6e00 135.5%,#ff7700 135.8%,#ff8e00 136.2%,#ffb400 137.0%,#ffbd00 137.2%,#ffc300 137.5%,#ffc500 137.8%,#ffc300 138.0%,#ffbd00 138.2%,#ffb300 138.5%,#ff8c00 139.2%,#ff8300 139.5%,#ff8000 139.8%,#ff8400 140.0%,#ff8d00 140.2%,#ffa900 140.5%,#ffc400 141.2%,#ffd800 141.8%,#ffdf00 142.0%,#ffe200 142.2%,#ffe200 142.5%,#ffdc00 142.8%,#ffd200 143.0%,#ffc300 143.2%,#ffb100 143.5%,#ff8400 144.0%,#ff3c00 144.8%,#ff2800 145.0%,#ff1800 145.2%,#ff0e00 145.5%,#ff0a00 145.8%,#ff0d00 146.0%,#ff1600 146.2%,#ff2400 146.5%,#ff3600 146.8%,#ffa000 148.0%,#ffcd00 148.5%,#ffff01 149.0%,#ffff7f 149.8%,#ffffa6 150.0%,#ffffc0 150.2%,#ffffd6 150.5%,#ffffe6 150.8%,#fffff1 151.0%,#fffff4 151.2%,#fffff1 151.5%,#ffffe6 151.8%,#ffffd6 152.0%,#ffffbf 152.2%,#ffffa3 152.5%,#ffff83 152.8%,#ffff3c 153.2%,#ffff17 153.5%,#fff600 153.8%,#ffb000 154.5%,#ff7100 155.2%,#ff1000 156.5%,#fb0000 156.8%,#980000 158.0%,#730000 158.5%,#550000 159.0%,#3e0000 159.5%,#370000 159.8%,#320000 160.0%,#310000 160.2%,#320000 160.5%,#370000 160.8%,#3e0000 161.0%,#480000 161.2%,#640000 161.8%,#880000 162.2%,#c70000 163.0%,#f40000 163.5%,#ff0a00 163.8%,#ff4700 164.5%,#ff6b00 165.0%,#ff8900 165.5%,#ffa100 166.0%,#ffb500 166.5%,#ffca00 167.2%,#ffd600 168.0%,#ffdc00 168.8%,#ffdc00 169.8%,#ffd100 171.2%,#ffa900 175.0%,#ff9c00 177.0%,#ff9600 179.8%,#ff9400 201.8%,#ff9400 320.0%);-webkit-mask-image:conic-gradient(from 0deg at 0.5px 206.50px,transparent 65.75deg,#000 68.52deg);mask-image:conic-gradient(from 0deg at 0.5px 206.50px,transparent 65.75deg,#000 68.52deg);"></div>
<div class="ax" style="left:39px;top:857px;width:234px;height:207px;background:radial-gradient(ellipse 105.95px 93.65px at 0.5px 206.50px,#ff9900 0.0%,#ff9f00 0.5%,#ffa000 1.0%,#ff9800 1.8%,#ff8900 2.8%,#ff8800 3.2%,#ff9000 4.0%,#ff9f00 5.0%,#ffa000 5.5%,#ff9d00 6.0%,#ff8a00 7.2%,#ff8800 7.8%,#ff8b00 8.2%,#ff9e00 9.5%,#ffa100 10.0%,#ff9d00 10.5%,#ff8a00 11.8%,#ff8800 12.2%,#ff8a00 12.8%,#ff9d00 14.0%,#ffa100 14.5%,#ff9e00 15.0%,#ff8b00 16.2%,#ff8800 16.8%,#ff8a00 17.2%,#ff9f00 18.8%,#ffa000 19.2%,#ff9800 20.0%,#ff8900 21.0%,#ff8800 21.5%,#ff9000 22.2%,#ff9f00 23.2%,#ffa000 23.8%,#ff9d00 24.2%,#ff8a00 25.5%,#ff8800 26.0%,#ff8b00 26.5%,#ff9e00 27.8%,#ffa100 28.2%,#ff9d00 28.8%,#ff8a00 30.0%,#ff8800 30.5%,#ff8a00 31.0%,#ff9d00 32.2%,#ffa100 32.8%,#ff9e00 33.2%,#ff8900 34.8%,#ff8800 35.2%,#ff9000 36.0%,#ff9f00 37.0%,#ffa000 37.5%,#ff9800 38.2%,#ff8900 39.2%,#ff8800 39.8%,#ff8f00 40.5%,#ff9f00 41.5%,#ffa000 42.0%,#ff9d00 42.5%,#ff8a00 43.8%,#ff8800 44.2%,#ff8b00 44.8%,#ff9e00 46.0%,#ffa100 46.5%,#ff9d00 47.0%,#ff8a00 48.2%,#ff8800 48.8%,#ff8a00 49.2%,#ff9d00 50.5%,#ffa100 51.0%,#ff9e00 51.5%,#ff8900 53.0%,#ff8800 53.5%,#ff9000 54.2%,#ff9f00 55.2%,#ffa000 55.8%,#ff9800 56.5%,#ff8900 57.5%,#ff8800 58.0%,#ff8f00 58.8%,#ff9f00 59.8%,#ffa000 60.2%,#ff9d00 60.8%,#ff8a00 62.0%,#ff8800 62.5%,#ff8b00 63.0%,#ff9e00 64.2%,#ffa100 64.8%,#ff9e00 65.2%,#ff8b00 66.5%,#ff8800 67.0%,#ff8a00 67.5%,#ff9d00 68.8%,#ffa100 69.2%,#ff9e00 69.8%,#ff8900 71.2%,#ff8800 71.8%,#ff9000 72.5%,#ff9f00 73.5%,#ffa000 74.0%,#ff9800 74.8%,#ff8900 75.8%,#ff8800 76.2%,#ff8f00 77.0%,#ff9f00 78.0%,#ffa000 78.5%,#ff9d00 79.0%,#ff8a00 80.2%,#ff8800 80.8%,#ff8b00 81.2%,#ff9e00 82.5%,#ffa100 83.0%,#ff9e00 83.5%,#ff8b00 84.8%,#ff8800 85.2%,#ff8a00 85.8%,#ff9d00 87.0%,#ffa100 87.5%,#ff9e00 88.0%,#ff8b00 89.2%,#ff8800 89.8%,#ff8a00 90.2%,#ff9e00 91.5%,#ffa100 92.0%,#ff9d00 92.5%,#ff8a00 93.8%,#ff8800 94.2%,#ff8b00 94.8%,#ff9e00 96.0%,#ffa100 96.5%,#ff9d00 97.0%,#ff8900 98.2%,#ff8700 98.8%,#ff8b00 99.2%,#ffa000 100.5%,#ffa300 101.0%,#ff9e00 101.5%,#ff8800 102.8%,#ff8400 103.2%,#ff8800 103.8%,#ffa000 105.0%,#ffa500 105.5%,#ffa300 106.0%,#ff9500 106.8%,#ff8600 107.5%,#ff8200 108.0%,#ff8500 108.5%,#ff9500 109.2%,#ffa500 110.0%,#ffa800 110.5%,#ffa400 111.0%,#ff8200 112.5%,#ff7e00 113.0%,#ff8300 113.5%,#ff9500 114.2%,#ffa700 115.0%,#ffac00 115.5%,#ffa700 116.0%,#ff9400 116.8%,#ff8000 117.5%,#ff7a00 118.0%,#ff7e00 118.5%,#ff8900 119.0%,#ffa700 120.0%,#ffb000 120.5%,#ffb000 120.8%,#ffaa00 121.2%,#ff9c00 121.8%,#ff8300 122.5%,#ff7700 123.0%,#ff7500 123.2%,#ff7600 123.5%,#ff7900 123.8%,#ff8600 124.2%,#ffaa00 125.2%,#ffb400 125.8%,#ffb600 126.0%,#ffb500 126.2%,#ffb100 126.5%,#ffa200 127.0%,#ff7b00 128.0%,#ff7400 128.2%,#ff7000 128.5%,#ff6f00 128.8%,#ff7100 129.0%,#ff7500 129.2%,#ff8600 129.8%,#ffb000 130.8%,#ffb700 131.0%,#ffbc00 131.2%,#ffbd00 131.5%,#ffbb00 131.8%,#ffb600 132.0%,#ffa300 132.5%,#ff7500 133.5%,#ff6d00 133.8%,#ff6800 134.0%,#ff6700 134.2%,#ff6800 134.5%,#ff6e00 134.8%,#ff7700 135.0%,#ff8f00 135.5%,#ffb500 136.2%,#ffbe00 136.5%,#ffc400 136.8%,#ffc700 137.0%,#ffc500 137.2%,#ffc000 137.5%,#ffb700 137.8%,#ff9e00 138.2%,#ff9000 138.5%,#ff8500 138.8%,#ff8000 139.0%,#ff8100 139.2%,#ff8800 139.5%,#ff9300 139.8%,#ffad00 140.0%,#ffdb00 141.2%,#ffe100 141.5%,#ffe400 141.8%,#ffe200 142.0%,#ffdc00 142.2%,#ffd100 142.5%,#ffc200 142.8%,#ffb000 143.0%,#ff8300 143.5%,#ff3d00 144.2%,#ff2900 144.5%,#ff1900 144.8%,#ff0e00 145.0%,#ff0900 145.2%,#ff0a00 145.5%,#ff1100 145.8%,#ff1d00 146.0%,#ff2e00 146.2%,#ff5500 146.8%,#ffbe00 148.0%,#ffec00 148.5%,#ffff0a 148.8%,#ffff82 149.5%,#ffffa7 149.8%,#ffffc6 150.0%,#ffffda 150.2%,#ffffe8 150.5%,#fffff0 150.8%,#fffff1 151.0%,#ffffea 151.2%,#ffffdd 151.5%,#ffffca 151.8%,#ffffb1 152.0%,#ffff93 152.2%,#ffff72 152.5%,#ffff04 153.2%,#ffe900 153.5%,#ffa400 154.2%,#ff5100 155.2%,#ff0200 156.2%,#d90000 156.8%,#8c0000 157.8%,#6b0000 158.2%,#510000 158.8%,#480000 159.0%,#410000 159.2%,#3d0000 159.5%,#3c0000 159.8%,#3f0000 160.0%,#440000 160.2%,#4c0000 160.5%,#570000 160.8%,#740000 161.2%,#990000 161.8%,#ee0000 162.8%,#ff0500 163.0%,#ff4300 163.8%,#ff6600 164.2%,#ff8500 164.8%,#ff9e00 165.2%,#ffb200 165.8%,#ffc700 166.5%,#ffd300 167.2%,#ffd900 168.0%,#ffd800 169.0%,#ffcc00 170.5%,#ffa900 173.8%,#ff9c00 175.8%,#ff9500 178.5%,#ff9400 320.0%);-webkit-mask-image:conic-gradient(from 0deg at 0.5px 206.50px,transparent 68.52deg,#000 71.26deg);mask-image:conic-gradient(from 0deg at 0.5px 206.50px,transparent 68.52deg,#000 71.26deg);"></div>
<div class="ax" style="left:39px;top:857px;width:234px;height:207px;background:radial-gradient(ellipse 105.95px 93.65px at 0.5px 206.50px,#ff9900 0.0%,#ff9f00 0.5%,#ffa000 1.0%,#ff9800 1.8%,#ff8900 2.8%,#ff8800 3.2%,#ff9100 4.0%,#ff9f00 5.0%,#ffa000 5.5%,#ff9800 6.2%,#ff8900 7.2%,#ff8800 7.8%,#ff9100 8.5%,#ff9f00 9.5%,#ffa000 10.0%,#ff9800 10.8%,#ff8900 11.8%,#ff8800 12.2%,#ff9100 13.0%,#ff9f00 14.0%,#ffa000 14.5%,#ff9700 15.2%,#ff8900 16.2%,#ff8800 16.8%,#ff9100 17.5%,#ff9d00 18.2%,#ffa000 18.8%,#ff9e00 19.2%,#ff8900 20.8%,#ff8800 21.2%,#ff9100 22.0%,#ff9d00 22.8%,#ffa100 23.2%,#ff9e00 23.8%,#ff8900 25.2%,#ff8800 25.8%,#ff9100 26.5%,#ff9d00 27.2%,#ffa100 27.8%,#ff9e00 28.2%,#ff8900 29.8%,#ff8800 30.2%,#ff9100 31.0%,#ff9d00 31.8%,#ffa100 32.2%,#ff9e00 32.8%,#ff8900 34.2%,#ff8800 34.8%,#ff9100 35.5%,#ff9d00 36.2%,#ffa100 36.8%,#ff9e00 37.2%,#ff8900 38.8%,#ff8800 39.2%,#ff9100 40.0%,#ff9d00 40.8%,#ffa100 41.2%,#ff9e00 41.8%,#ff8900 43.2%,#ff8800 43.8%,#ff9100 44.5%,#ff9d00 45.2%,#ffa100 45.8%,#ff9e00 46.2%,#ff8900 47.8%,#ff8800 48.2%,#ff9100 49.0%,#ff9d00 49.8%,#ffa100 50.2%,#ff9e00 50.8%,#ff8900 52.2%,#ff8800 52.8%,#ff9100 53.5%,#ff9d00 54.2%,#ffa100 54.8%,#ff9e00 55.2%,#ff8900 56.8%,#ff8800 57.2%,#ff9100 58.0%,#ff9d00 58.8%,#ffa100 59.2%,#ff9e00 59.8%,#ff8b00 61.0%,#ff8800 61.5%,#ff8a00 62.0%,#ff9d00 63.2%,#ffa100 63.8%,#ff9e00 64.2%,#ff8b00 65.5%,#ff8800 66.0%,#ff8a00 66.5%,#ff9d00 67.8%,#ffa100 68.2%,#ff9e00 68.8%,#ff8b00 70.0%,#ff8800 70.5%,#ff8a00 71.0%,#ff9d00 72.2%,#ffa100 72.8%,#ff9e00 73.2%,#ff8b00 74.5%,#ff8800 75.0%,#ff8a00 75.5%,#ff9d00 76.8%,#ffa100 77.2%,#ff9e00 77.8%,#ff8b00 79.0%,#ff8800 79.5%,#ff8a00 80.0%,#ff9d00 81.2%,#ffa100 81.8%,#ff9e00 82.2%,#ff8b00 83.5%,#ff8800 84.0%,#ff8a00 84.5%,#ff9d00 85.8%,#ffa100 86.2%,#ff9e00 86.8%,#ff8b00 88.0%,#ff8800 88.5%,#ff8a00 89.0%,#ff9e00 90.2%,#ffa100 90.8%,#ff9d00 91.2%,#ff8a00 92.5%,#ff8800 93.0%,#ff8b00 93.5%,#ff9f00 94.8%,#ffa100 95.2%,#ff9d00 95.8%,#ff8800 97.0%,#ff8600 97.5%,#ff8b00 98.0%,#ffa100 99.2%,#ffa300 99.8%,#ff9f00 100.2%,#ff8700 101.5%,#ff8400 102.0%,#ff8800 102.5%,#ffa000 103.8%,#ffa500 104.2%,#ffa300 104.8%,#ff9500 105.5%,#ff8500 106.2%,#ff8100 106.8%,#ff8500 107.2%,#ff9500 108.0%,#ffa500 108.8%,#ffa900 109.2%,#ffa400 109.8%,#ff9300 110.5%,#ff8200 111.2%,#ff7e00 111.8%,#ff8200 112.2%,#ff9400 113.0%,#ffa700 113.8%,#ffac00 114.2%,#ffa900 114.8%,#ff9e00 115.2%,#ff8100 116.2%,#ff7a00 116.8%,#ff7c00 117.2%,#ff8600 117.8%,#ffa500 118.8%,#ffaf00 119.2%,#ffb100 119.5%,#ffb000 119.8%,#ffa800 120.2%,#ff7f00 121.5%,#ff7500 122.0%,#ff7400 122.2%,#ff7500 122.5%,#ff8000 123.0%,#ffac00 124.2%,#ffb600 124.8%,#ffb700 125.0%,#ffb500 125.2%,#ffb100 125.5%,#ffa100 126.0%,#ff7a00 127.0%,#ff7300 127.2%,#ff6f00 127.5%,#ff6d00 127.8%,#ff6f00 128.0%,#ff7400 128.2%,#ff8400 128.8%,#ffaf00 129.8%,#ffb700 130.0%,#ffbc00 130.2%,#ffbf00 130.5%,#ffbe00 130.8%,#ffb900 131.0%,#ffb200 131.2%,#ff9d00 131.8%,#ff7a00 132.5%,#ff7000 132.8%,#ff6900 133.0%,#ff6500 133.2%,#ff6500 133.5%,#ff6900 133.8%,#ff6f00 134.0%,#ff8500 134.5%,#ffac00 135.2%,#ffb800 135.5%,#ffc100 135.8%,#ffc600 136.0%,#ffc800 136.2%,#ffc700 136.5%,#ffc100 136.8%,#ffb800 137.0%,#ff9f00 137.5%,#ff8500 138.0%,#ff7f00 138.2%,#ff7f00 138.5%,#ff8500 138.8%,#ff9000 139.0%,#ffab00 139.2%,#ffc600 140.0%,#ffd900 140.5%,#ffe000 140.8%,#ffe500 141.0%,#ffe500 141.2%,#ffe200 141.5%,#ffda00 141.8%,#ffcd00 142.0%,#ffbd00 142.2%,#ff9500 142.8%,#ff3a00 143.8%,#ff2700 144.0%,#ff1700 144.2%,#ff0d00 144.5%,#ff0800 144.8%,#ff0900 145.0%,#ff0f00 145.2%,#ff1a00 145.5%,#ff2900 145.8%,#ff4f00 146.2%,#ffc900 147.8%,#fff600 148.2%,#ffff18 148.5%,#ffff8a 149.2%,#ffffac 149.5%,#ffffc9 149.8%,#ffffde 150.0%,#ffffe9 150.2%,#ffffed 150.5%,#ffffeb 150.8%,#ffffe1 151.0%,#ffffd1 151.2%,#ffffbb 151.5%,#ffffa0 151.8%,#ffff81 152.0%,#ffff3a 152.5%,#ffff15 152.8%,#fff400 153.0%,#ffac00 153.8%,#ff6c00 154.5%,#ff0700 155.8%,#f20000 156.0%,#a40000 157.0%,#810000 157.5%,#650000 158.0%,#5a0000 158.2%,#510000 158.5%,#4c0000 158.8%,#490000 159.0%,#490000 159.2%,#4d0000 159.5%,#530000 159.8%,#5c0000 160.0%,#680000 160.2%,#870000 160.8%,#ad0000 161.2%,#ed0000 162.0%,#ff0300 162.2%,#ff4100 163.0%,#ff6500 163.5%,#ff8300 164.0%,#ff9d00 164.5%,#ffb100 165.0%,#ffc600 165.8%,#ffd100 166.5%,#ffd600 167.2%,#ffd300 168.2%,#ffc600 169.8%,#ffa800 172.5%,#ff9b00 174.5%,#ff9500 177.2%,#ff9400 320.0%);-webkit-mask-image:conic-gradient(from 0deg at 0.5px 206.50px,transparent 71.26deg,#000 73.98deg);mask-image:conic-gradient(from 0deg at 0.5px 206.50px,transparent 71.26deg,#000 73.98deg);"></div>
<div class="ax" style="left:39px;top:857px;width:234px;height:207px;background:radial-gradient(ellipse 105.95px 93.65px at 0.5px 206.50px,#ff9900 0.0%,#ff9f00 0.5%,#ffa000 1.0%,#ff9700 1.8%,#ff8b00 2.5%,#ff8800 3.0%,#ff8a00 3.5%,#ff9d00 4.8%,#ffa100 5.2%,#ff9e00 5.8%,#ff8a00 7.0%,#ff8800 7.5%,#ff8b00 8.0%,#ff9e00 9.2%,#ffa100 9.8%,#ff9d00 10.2%,#ff8a00 11.5%,#ff8800 12.0%,#ff8c00 12.5%,#ff9f00 13.8%,#ffa000 14.2%,#ff9c00 14.8%,#ff8900 16.0%,#ff8800 16.5%,#ff9000 17.2%,#ff9f00 18.2%,#ffa000 18.8%,#ff9700 19.5%,#ff8b00 20.2%,#ff8800 20.8%,#ff8a00 21.2%,#ff9d00 22.5%,#ffa100 23.0%,#ff9e00 23.5%,#ff8a00 24.8%,#ff8800 25.2%,#ff8b00 25.8%,#ff9e00 27.0%,#ffa100 27.5%,#ff9d00 28.0%,#ff8a00 29.2%,#ff8800 29.8%,#ff8b00 30.2%,#ff9f00 31.5%,#ffa000 32.0%,#ff9c00 32.5%,#ff8900 33.8%,#ff8800 34.2%,#ff8c00 34.8%,#ff9f00 36.0%,#ffa000 36.5%,#ff9800 37.2%,#ff8b00 38.0%,#ff8800 38.5%,#ff8a00 39.0%,#ff9d00 40.2%,#ffa100 40.8%,#ff9e00 41.2%,#ff8b00 42.5%,#ff8800 43.0%,#ff8b00 43.5%,#ff9e00 44.8%,#ffa100 45.2%,#ff9d00 45.8%,#ff8a00 47.0%,#ff8800 47.5%,#ff8b00 48.0%,#ff9f00 49.2%,#ffa000 49.8%,#ff9c00 50.2%,#ff8900 51.5%,#ff8800 52.0%,#ff8c00 52.5%,#ff9f00 53.8%,#ffa000 54.2%,#ff9800 55.0%,#ff8900 56.0%,#ff8800 56.5%,#ff9100 57.2%,#ff9d00 58.0%,#ffa100 58.5%,#ff9e00 59.0%,#ff8b00 60.2%,#ff8800 60.8%,#ff8a00 61.2%,#ff9e00 62.5%,#ffa100 63.0%,#ff9d00 63.5%,#ff8a00 64.8%,#ff8800 65.2%,#ff8b00 65.8%,#ff9e00 67.0%,#ffa000 67.5%,#ff9d00 68.0%,#ff8900 69.2%,#ff8800 69.8%,#ff8c00 70.2%,#ff9f00 71.5%,#ffa000 72.0%,#ff9800 72.8%,#ff8900 73.8%,#ff8800 74.2%,#ff9100 75.0%,#ff9d00 75.8%,#ffa100 76.2%,#ff9e00 76.8%,#ff8b00 78.0%,#ff8800 78.5%,#ff8a00 79.0%,#ff9e00 80.2%,#ffa100 80.8%,#ff9d00 81.2%,#ff8a00 82.5%,#ff8800 83.0%,#ff8b00 83.5%,#ff9e00 84.8%,#ffa100 85.2%,#ff9d00 85.8%,#ff8900 87.0%,#ff8800 87.5%,#ff8c00 88.0%,#ff9f00 89.2%,#ffa000 89.8%,#ff9800 90.5%,#ff8b00 91.2%,#ff8800 91.8%,#ff8a00 92.2%,#ff9e00 93.5%,#ffa200 94.0%,#ff9e00 94.5%,#ff8900 95.8%,#ff8600 96.2%,#ff8900 96.8%,#ffa000 98.0%,#ffa400 98.5%,#ffa000 99.0%,#ff8800 100.2%,#ff8300 100.8%,#ff8600 101.2%,#ff9500 102.0%,#ffa300 102.8%,#ffa600 103.2%,#ffa100 103.8%,#ff8600 105.0%,#ff8100 105.5%,#ff8300 106.0%,#ff8c00 106.5%,#ffa400 107.5%,#ffa900 108.0%,#ffa600 108.5%,#ff9c00 109.0%,#ff8300 110.0%,#ff7d00 110.5%,#ff8000 111.0%,#ff8a00 111.5%,#ffa600 112.5%,#ffad00 113.0%,#ffab00 113.5%,#ffa100 114.0%,#ff8400 115.0%,#ff7a00 115.5%,#ff7800 115.8%,#ff7c00 116.2%,#ff8900 116.8%,#ffa900 117.8%,#ffb100 118.2%,#ffb200 118.5%,#ffb100 118.8%,#ffa600 119.2%,#ff7c00 120.5%,#ff7400 121.0%,#ff7300 121.2%,#ff7500 121.5%,#ff8100 122.0%,#ffae00 123.2%,#ffb400 123.5%,#ffb700 123.8%,#ffb800 124.0%,#ffb600 124.2%,#ffb200 124.5%,#ffa200 125.0%,#ff7900 126.0%,#ff7200 126.2%,#ff6e00 126.5%,#ff6c00 126.8%,#ff6d00 127.0%,#ff7200 127.2%,#ff8200 127.8%,#ffae00 128.8%,#ffb600 129.0%,#ffbd00 129.2%,#ffc000 129.5%,#ffc000 129.8%,#ffbd00 130.0%,#ffb600 130.2%,#ffa300 130.8%,#ff7e00 131.5%,#ff6b00 132.0%,#ff6500 132.2%,#ff6300 132.5%,#ff6500 132.8%,#ff6900 133.0%,#ff7100 133.2%,#ff8800 133.8%,#ffb000 134.5%,#ffbb00 134.8%,#ffc400 135.0%,#ffc900 135.2%,#ffca00 135.5%,#ffc800 135.8%,#ffc200 136.0%,#ffb900 136.2%,#ff9f00 136.8%,#ff8500 137.2%,#ff7f00 137.5%,#ff7e00 137.8%,#ff8300 138.0%,#ff8d00 138.2%,#ffaa00 138.5%,#ffc500 139.2%,#ffd800 139.8%,#ffe000 140.0%,#ffe500 140.2%,#ffe700 140.5%,#ffe500 140.8%,#ffdf00 141.0%,#ffd600 141.2%,#ffc800 141.5%,#ffb700 141.8%,#ff8d00 142.2%,#ff4900 143.0%,#ff3400 143.2%,#ff2200 143.5%,#ff1400 143.8%,#ff0a00 144.0%,#ff0600 144.2%,#ff0700 144.5%,#ff0d00 144.8%,#ff1800 145.0%,#ff2700 145.2%,#ff4b00 145.8%,#ffd500 147.5%,#ffeb00 147.8%,#ffff04 148.0%,#ffff72 148.8%,#ffff94 149.0%,#ffffb3 149.2%,#ffffcc 149.5%,#ffffde 149.8%,#ffffe8 150.0%,#ffffe9 150.2%,#ffffe4 150.5%,#ffffd7 150.8%,#ffffc4 151.0%,#ffffac 151.2%,#ffff8e 151.5%,#ffff6e 151.8%,#ffff00 152.5%,#ffb600 153.2%,#ff7300 154.0%,#ff0c00 155.2%,#f70000 155.5%,#a90000 156.5%,#880000 157.0%,#6d0000 157.5%,#640000 157.8%,#5c0000 158.0%,#580000 158.2%,#570000 158.5%,#580000 158.8%,#5d0000 159.0%,#650000 159.2%,#6f0000 159.5%,#8b0000 160.0%,#af0000 160.5%,#ed0000 161.2%,#ff0300 161.5%,#ff4000 162.2%,#ff6400 162.8%,#ff8300 163.2%,#ff9c00 163.8%,#ffb000 164.2%,#ffc400 165.0%,#ffcf00 165.8%,#ffd300 166.5%,#ffd000 167.5%,#ffbe00 169.2%,#ffa600 171.5%,#ff9b00 173.2%,#ff9500 176.0%,#ff9400 320.0%);-webkit-mask-image:conic-gradient(from 0deg at 0.5px 206.50px,transparent 73.98deg,#000 76.68deg);mask-image:conic-gradient(from 0deg at 0.5px 206.50px,transparent 73.98deg,#000 76.68deg);"></div>
<div class="ax" style="left:39px;top:857px;width:234px;height:207px;background:radial-gradient(ellipse 105.95px 93.65px at 0.5px 206.50px,#ff9900 0.0%,#ff9f00 0.5%,#ffa000 1.0%,#ff9700 1.8%,#ff8b00 2.5%,#ff8800 3.0%,#ff8b00 3.5%,#ff9e00 4.8%,#ffa100 5.2%,#ff9d00 5.8%,#ff8a00 7.0%,#ff8800 7.5%,#ff8c00 8.0%,#ff9f00 9.2%,#ffa000 9.8%,#ff9700 10.5%,#ff8b00 11.2%,#ff8800 11.8%,#ff8a00 12.2%,#ff9e00 13.5%,#ffa100 14.0%,#ff9d00 14.5%,#ff8a00 15.8%,#ff8800 16.2%,#ff8b00 16.8%,#ff9f00 18.0%,#ffa000 18.5%,#ff9c00 19.0%,#ff8b00 20.0%,#ff8800 20.5%,#ff8a00 21.0%,#ff9d00 22.2%,#ffa100 22.8%,#ff9e00 23.2%,#ff8a00 24.5%,#ff8800 25.0%,#ff8b00 25.5%,#ff9f00 26.8%,#ffa000 27.2%,#ff9c00 27.8%,#ff8900 29.0%,#ff8800 29.5%,#ff8d00 30.0%,#ff9d00 31.0%,#ffa100 31.5%,#ff9e00 32.0%,#ff8b00 33.2%,#ff8800 33.8%,#ff8b00 34.2%,#ff9e00 35.5%,#ffa100 36.0%,#ff9d00 36.5%,#ff8900 37.8%,#ff8800 38.2%,#ff8c00 38.8%,#ff9f00 40.0%,#ffa000 40.5%,#ff9700 41.2%,#ff8b00 42.0%,#ff8800 42.5%,#ff8a00 43.0%,#ff9e00 44.2%,#ffa100 44.8%,#ff9d00 45.2%,#ff8a00 46.5%,#ff8800 47.0%,#ff8c00 47.5%,#ff9f00 48.8%,#ffa000 49.2%,#ff9c00 49.8%,#ff8b00 50.8%,#ff8800 51.2%,#ff8a00 51.8%,#ff9d00 53.0%,#ffa100 53.5%,#ff9e00 54.0%,#ff8a00 55.2%,#ff8800 55.8%,#ff8b00 56.2%,#ff9f00 57.5%,#ffa000 58.0%,#ff9c00 58.5%,#ff8900 59.8%,#ff8800 60.2%,#ff9100 61.0%,#ff9d00 61.8%,#ffa100 62.2%,#ff9e00 62.8%,#ff8a00 64.0%,#ff8800 64.5%,#ff8b00 65.0%,#ff9e00 66.2%,#ffa000 66.8%,#ff9d00 67.2%,#ff8900 68.5%,#ff8800 69.0%,#ff8c00 69.5%,#ff9d00 70.5%,#ffa100 71.0%,#ff9e00 71.5%,#ff8b00 72.8%,#ff8800 73.2%,#ff8a00 73.8%,#ff9e00 75.0%,#ffa100 75.5%,#ff9d00 76.0%,#ff8a00 77.2%,#ff8800 77.8%,#ff8c00 78.2%,#ff9f00 79.5%,#ffa000 80.0%,#ff9c00 80.5%,#ff8b00 81.5%,#ff8800 82.0%,#ff8a00 82.5%,#ff9e00 83.8%,#ffa100 84.2%,#ff9d00 84.8%,#ff8a00 86.0%,#ff8800 86.5%,#ff8b00 87.0%,#ff9f00 88.2%,#ffa000 88.8%,#ff9c00 89.2%,#ff8800 90.5%,#ff8700 91.0%,#ff8d00 91.5%,#ff9e00 92.5%,#ffa200 93.0%,#ff9f00 93.5%,#ff8800 94.8%,#ff8500 95.2%,#ff8900 95.8%,#ffa100 97.0%,#ffa400 97.5%,#ffa000 98.0%,#ff8700 99.2%,#ff8300 99.8%,#ff8600 100.2%,#ffa400 101.8%,#ffa700 102.2%,#ffa100 102.8%,#ff8500 104.0%,#ff8000 104.5%,#ff8300 105.0%,#ff8d00 105.5%,#ffa500 106.5%,#ffaa00 107.0%,#ffa700 107.5%,#ff9c00 108.0%,#ff8100 109.0%,#ff7c00 109.5%,#ff7f00 110.0%,#ff8b00 110.5%,#ffa700 111.5%,#ffae00 112.0%,#ffac00 112.5%,#ffa100 113.0%,#ff8200 114.0%,#ff7900 114.5%,#ff7700 114.8%,#ff7800 115.0%,#ff8100 115.5%,#ffa900 116.8%,#ffb200 117.2%,#ffb300 117.5%,#ffb200 117.8%,#ffa700 118.2%,#ff7c00 119.5%,#ff7300 120.0%,#ff7200 120.2%,#ff7400 120.5%,#ff7f00 121.0%,#ffae00 122.2%,#ffb400 122.5%,#ffb800 122.8%,#ffba00 123.0%,#ffb800 123.2%,#ffb400 123.5%,#ffa400 124.0%,#ff7b00 125.0%,#ff6d00 125.5%,#ff6b00 125.8%,#ff6b00 126.0%,#ff6f00 126.2%,#ff7500 126.5%,#ff8800 127.0%,#ffaa00 127.8%,#ffbc00 128.2%,#ffc000 128.5%,#ffc200 128.8%,#ffc000 129.0%,#ffbb00 129.2%,#ffa900 129.8%,#ff7800 130.8%,#ff6e00 131.0%,#ff6700 131.2%,#ff6300 131.5%,#ff6100 131.8%,#ff6400 132.0%,#ff6a00 132.2%,#ff7300 132.5%,#ff8b00 133.0%,#ffb300 133.8%,#ffbe00 134.0%,#ffc600 134.2%,#ffcb00 134.5%,#ffcc00 134.8%,#ffca00 135.0%,#ffc300 135.2%,#ffba00 135.5%,#ffa000 136.0%,#ff8500 136.5%,#ff7e00 136.8%,#ff7d00 137.0%,#ff8100 137.2%,#ff8a00 137.5%,#ffa900 137.8%,#ffc300 138.5%,#ffde00 139.2%,#ffe500 139.5%,#ffe800 139.8%,#ffe800 140.0%,#ffe400 140.2%,#ffdd00 140.5%,#ffd100 140.8%,#ffc200 141.0%,#ff9b00 141.5%,#ff4200 142.5%,#ff2f00 142.8%,#ff1e00 143.0%,#ff1000 143.2%,#ff0800 143.5%,#ff0400 143.8%,#ff0600 144.0%,#ff0c00 144.2%,#ff1700 144.5%,#ff2500 144.8%,#ff4800 145.2%,#ffcd00 147.0%,#fff700 147.5%,#ffff16 147.8%,#ffff7e 148.5%,#ffff9d 148.8%,#ffffb9 149.0%,#ffffcf 149.2%,#ffffde 149.5%,#ffffe5 149.8%,#ffffe4 150.0%,#ffffdb 150.2%,#ffffcc 150.5%,#ffffb7 150.8%,#ffff9d 151.0%,#ffff7e 151.2%,#ffff38 151.8%,#ffff12 152.0%,#fff200 152.2%,#ffa900 153.0%,#ff6600 153.8%,#ff1200 154.8%,#fd0000 155.0%,#c30000 155.8%,#a00000 156.2%,#830000 156.8%,#780000 157.0%,#6f0000 157.2%,#690000 157.5%,#660000 157.8%,#650000 158.0%,#680000 158.2%,#6e0000 158.5%,#770000 158.8%,#830000 159.0%,#a00000 159.5%,#c50000 160.0%,#ee0000 160.5%,#ff0400 160.8%,#ff4000 161.5%,#ff6300 162.0%,#ff8200 162.5%,#ff9b00 163.0%,#ffaf00 163.5%,#ffc300 164.2%,#ffcd00 165.0%,#ffd000 165.8%,#ffcc00 166.8%,#ffb400 169.0%,#ffa200 170.8%,#ff9900 172.5%,#ff9400 175.5%,#ff9400 320.0%);-webkit-mask-image:conic-gradient(from 0deg at 0.5px 206.50px,transparent 76.68deg,#000 79.36deg);mask-image:conic-gradient(from 0deg at 0.5px 206.50px,transparent 76.68deg,#000 79.36deg);"></div>
<div class="ax" style="left:39px;top:857px;width:234px;height:207px;background:radial-gradient(ellipse 105.95px 93.65px at 0.5px 206.50px,#ff9900 0.0%,#ff9f00 0.5%,#ffa000 1.0%,#ff9700 1.8%,#ff8a00 2.5%,#ff8800 3.0%,#ff8b00 3.5%,#ff9e00 4.8%,#ffa000 5.2%,#ff9c00 5.8%,#ff8900 7.0%,#ff8800 7.5%,#ff9100 8.2%,#ff9d00 9.0%,#ffa100 9.5%,#ff9e00 10.0%,#ff8a00 11.2%,#ff8800 11.8%,#ff8c00 12.2%,#ff9f00 13.5%,#ffa000 14.0%,#ff9c00 14.5%,#ff8b00 15.5%,#ff8800 16.0%,#ff8a00 16.5%,#ff9e00 17.8%,#ffa100 18.2%,#ff9d00 18.8%,#ff8900 20.0%,#ff8800 20.5%,#ff8c00 21.0%,#ff9d00 22.0%,#ffa100 22.5%,#ff9e00 23.0%,#ff8b00 24.2%,#ff8800 24.8%,#ff8b00 25.2%,#ff9e00 26.5%,#ffa000 27.0%,#ff9c00 27.5%,#ff8900 28.8%,#ff8800 29.2%,#ff8d00 29.8%,#ff9d00 30.8%,#ffa100 31.2%,#ff9e00 31.8%,#ff8a00 33.0%,#ff8800 33.5%,#ff8b00 34.0%,#ff9f00 35.2%,#ffa000 35.8%,#ff9c00 36.2%,#ff8b00 37.2%,#ff8800 37.8%,#ff8a00 38.2%,#ff9e00 39.5%,#ffa100 40.0%,#ff9d00 40.5%,#ff8a00 41.8%,#ff8800 42.2%,#ff8c00 42.8%,#ff9f00 44.0%,#ffa000 44.5%,#ff9700 45.2%,#ff8b00 46.0%,#ff8800 46.5%,#ff8b00 47.0%,#ff9e00 48.2%,#ffa000 48.8%,#ff9c00 49.2%,#ff8900 50.5%,#ff8800 51.0%,#ff8d00 51.5%,#ff9d00 52.5%,#ffa100 53.0%,#ff9e00 53.5%,#ff8a00 54.8%,#ff8800 55.2%,#ff8b00 55.8%,#ff9f00 57.0%,#ffa000 57.5%,#ff9c00 58.0%,#ff8b00 59.0%,#ff8800 59.5%,#ff8a00 60.0%,#ff9e00 61.2%,#ffa100 61.8%,#ff9d00 62.2%,#ff8a00 63.5%,#ff8800 64.0%,#ff8c00 64.5%,#ff9f00 65.8%,#ffa000 66.2%,#ff9700 67.0%,#ff8b00 67.8%,#ff8800 68.2%,#ff8b00 68.8%,#ff9e00 70.0%,#ffa100 70.5%,#ff9d00 71.0%,#ff8900 72.2%,#ff8800 72.8%,#ff8d00 73.2%,#ff9d00 74.2%,#ffa100 74.8%,#ff9e00 75.2%,#ff8a00 76.5%,#ff8800 77.0%,#ff8b00 77.5%,#ff9f00 78.8%,#ffa000 79.2%,#ff9c00 79.8%,#ff8b00 80.8%,#ff8800 81.2%,#ff8a00 81.8%,#ff9e00 83.0%,#ffa100 83.5%,#ff9d00 84.0%,#ff8a00 85.2%,#ff8800 85.8%,#ff8c00 86.2%,#ff9f00 87.5%,#ffa000 88.0%,#ff9b00 88.5%,#ff8a00 89.5%,#ff8700 90.0%,#ff8a00 90.5%,#ffa000 91.8%,#ffa300 92.2%,#ff9e00 92.8%,#ff8700 94.0%,#ff8500 94.5%,#ff8a00 95.0%,#ffa200 96.2%,#ffa500 96.8%,#ff9f00 97.2%,#ff8500 98.5%,#ff8200 99.0%,#ff8700 99.5%,#ffa300 100.8%,#ffa800 101.2%,#ffa400 101.8%,#ff9400 102.5%,#ff8200 103.2%,#ff7f00 103.8%,#ff8400 104.2%,#ffa300 105.5%,#ffaa00 106.0%,#ffa900 106.5%,#ffa000 107.0%,#ff8400 108.0%,#ff7c00 108.5%,#ff7d00 109.0%,#ff8600 109.5%,#ffa400 110.5%,#ffae00 111.0%,#ffaf00 111.2%,#ffab00 111.8%,#ff9e00 112.2%,#ff7f00 113.2%,#ff7700 113.8%,#ff7600 114.0%,#ff7d00 114.5%,#ff8c00 115.0%,#ffa600 115.8%,#ffb200 116.2%,#ffb400 116.5%,#ffb400 116.8%,#ffb100 117.0%,#ffa400 117.5%,#ff8000 118.5%,#ff7300 119.0%,#ff7100 119.2%,#ff7100 119.5%,#ff7400 119.8%,#ff8100 120.2%,#ffa900 121.2%,#ffb700 121.8%,#ffbb00 122.0%,#ffbb00 122.2%,#ffb900 122.5%,#ffb300 122.8%,#ffa200 123.2%,#ff7700 124.2%,#ff7000 124.5%,#ff6b00 124.8%,#ff6900 125.0%,#ff6a00 125.2%,#ff6e00 125.5%,#ff7f00 126.0%,#ffad00 127.0%,#ffbe00 127.5%,#ffc200 127.8%,#ffc400 128.0%,#ffc100 128.2%,#ffbc00 128.5%,#ffa900 129.0%,#ff7700 130.0%,#ff6d00 130.2%,#ff6500 130.5%,#ff6100 130.8%,#ff6000 131.0%,#ff6200 131.2%,#ff6800 131.5%,#ff7100 131.8%,#ff8900 132.2%,#ffb300 133.0%,#ffbe00 133.2%,#ffc700 133.5%,#ffcc00 133.8%,#ffce00 134.0%,#ffcd00 134.2%,#ffc700 134.5%,#ffbe00 134.8%,#ffa500 135.2%,#ff8800 135.8%,#ff7f00 136.0%,#ff7c00 136.2%,#ff7e00 136.5%,#ff8600 136.8%,#ff9200 137.0%,#ffae00 137.2%,#ffdc00 138.5%,#ffe800 139.0%,#ffeb00 139.2%,#ffe900 139.5%,#ffe400 139.8%,#ffdb00 140.0%,#ffce00 140.2%,#ffbe00 140.5%,#ff9600 141.0%,#ff3e00 142.0%,#ff2b00 142.2%,#ff1b00 142.5%,#ff0e00 142.8%,#ff0600 143.0%,#ff0200 143.2%,#ff0400 143.5%,#ff0a00 143.8%,#ff1400 144.0%,#ff2200 144.2%,#ff4400 144.8%,#ffd800 146.8%,#ffec00 147.0%,#ffff04 147.2%,#ffff68 148.0%,#ffff87 148.2%,#ffffa4 148.5%,#ffffbd 148.8%,#ffffd0 149.0%,#ffffdc 149.2%,#ffffe1 149.5%,#ffffde 149.8%,#ffffd4 150.0%,#ffffc3 150.2%,#ffffac 150.5%,#ffff91 150.8%,#ffff71 151.0%,#ffff2a 151.5%,#ffff04 151.8%,#ffe800 152.0%,#ff9f00 152.8%,#ff4500 153.8%,#ff0700 154.5%,#f20000 154.8%,#ba0000 155.5%,#9b0000 156.0%,#840000 156.5%,#7c0000 156.8%,#770000 157.0%,#740000 157.2%,#750000 157.5%,#790000 157.8%,#800000 158.0%,#8a0000 158.2%,#a40000 158.8%,#c70000 159.2%,#ee0000 159.8%,#ff0300 160.0%,#ff3e00 160.8%,#ff7100 161.5%,#ff8d00 162.0%,#ffa400 162.5%,#ffb500 163.0%,#ffc600 163.8%,#ffce00 164.5%,#ffcf00 165.2%,#ffc600 166.5%,#ffa500 169.5%,#ff9a00 171.2%,#ff9500 174.0%,#ff9400 320.0%);-webkit-mask-image:conic-gradient(from 0deg at 0.5px 206.50px,transparent 79.36deg,#000 82.03deg);mask-image:conic-gradient(from 0deg at 0.5px 206.50px,transparent 79.36deg,#000 82.03deg);"></div>
<div class="ax" style="left:39px;top:857px;width:234px;height:207px;background:radial-gradient(ellipse 105.95px 93.65px at 0.5px 206.50px,#ff9900 0.0%,#ff9f00 0.5%,#ffa000 1.0%,#ff9600 1.8%,#ff8a00 2.5%,#ff8800 3.0%,#ff8b00 3.5%,#ff9f00 4.8%,#ffa000 5.2%,#ff9c00 5.8%,#ff8b00 6.8%,#ff8800 7.2%,#ff8a00 7.8%,#ff9e00 9.0%,#ffa100 9.5%,#ff9d00 10.0%,#ff8900 11.2%,#ff8800 11.8%,#ff8d00 12.2%,#ff9d00 13.2%,#ffa100 13.8%,#ff9e00 14.2%,#ff8a00 15.5%,#ff8800 16.0%,#ff8c00 16.5%,#ff9f00 17.8%,#ffa000 18.2%,#ff9b00 18.8%,#ff8b00 19.8%,#ff8800 20.2%,#ff8b00 20.8%,#ff9e00 22.0%,#ffa000 22.5%,#ff9c00 23.0%,#ff8900 24.2%,#ff8800 24.8%,#ff9100 25.5%,#ff9e00 26.2%,#ffa100 26.8%,#ff9d00 27.2%,#ff8a00 28.5%,#ff8800 29.0%,#ff8c00 29.5%,#ff9d00 30.5%,#ffa100 31.0%,#ff9e00 31.5%,#ff8a00 32.8%,#ff8800 33.2%,#ff8b00 33.8%,#ff9f00 35.0%,#ffa000 35.5%,#ff9c00 36.0%,#ff8b00 37.0%,#ff8800 37.5%,#ff8a00 38.0%,#ff9e00 39.2%,#ffa100 39.8%,#ff9d00 40.2%,#ff8900 41.5%,#ff8800 42.0%,#ff8c00 42.5%,#ff9d00 43.5%,#ffa100 44.0%,#ff9e00 44.5%,#ff8a00 45.8%,#ff8800 46.2%,#ff8b00 46.8%,#ff9f00 48.0%,#ffa000 48.5%,#ff9b00 49.0%,#ff8b00 50.0%,#ff8800 50.5%,#ff8b00 51.0%,#ff9e00 52.2%,#ffa000 52.8%,#ff9c00 53.2%,#ff8900 54.5%,#ff8800 55.0%,#ff8d00 55.5%,#ff9d00 56.5%,#ffa100 57.0%,#ff9d00 57.5%,#ff8a00 58.8%,#ff8800 59.2%,#ff8c00 59.8%,#ff9f00 61.0%,#ffa000 61.5%,#ff9700 62.2%,#ff8b00 63.0%,#ff8800 63.5%,#ff8b00 64.0%,#ff9f00 65.2%,#ffa000 65.8%,#ff9c00 66.2%,#ff8b00 67.2%,#ff8800 67.8%,#ff8a00 68.2%,#ff9e00 69.5%,#ffa100 70.0%,#ff9d00 70.5%,#ff8900 71.8%,#ff8800 72.2%,#ff8c00 72.8%,#ff9d00 73.8%,#ffa100 74.2%,#ff9e00 74.8%,#ff8a00 76.0%,#ff8800 76.5%,#ff8b00 77.0%,#ff9f00 78.2%,#ffa000 78.8%,#ff9c00 79.2%,#ff8b00 80.2%,#ff8800 80.8%,#ff8a00 81.2%,#ff9e00 82.5%,#ffa100 83.0%,#ff9d00 83.5%,#ff8900 84.8%,#ff8800 85.2%,#ff8d00 85.8%,#ff9d00 86.8%,#ffa100 87.2%,#ff9e00 87.8%,#ff8900 89.0%,#ff8600 89.5%,#ff8b00 90.0%,#ffa100 91.2%,#ffa300 91.8%,#ff9d00 92.2%,#ff8800 93.2%,#ff8400 93.8%,#ff8700 94.2%,#ffa100 95.5%,#ffa500 96.0%,#ffa200 96.5%,#ff8700 97.8%,#ff8100 98.2%,#ff8400 98.8%,#ff9500 99.5%,#ffa500 100.2%,#ffa800 100.8%,#ffa300 101.2%,#ff8400 102.5%,#ff7e00 103.0%,#ff8100 103.5%,#ff8c00 104.0%,#ffa700 105.0%,#ffac00 105.5%,#ffa800 106.0%,#ff9c00 106.5%,#ff8500 107.2%,#ff7c00 107.8%,#ff7a00 108.0%,#ff7e00 108.5%,#ff8b00 109.0%,#ffa900 110.0%,#ffb000 110.5%,#ffb000 110.8%,#ffa800 111.2%,#ff9000 112.0%,#ff8000 112.5%,#ff7600 113.0%,#ff7500 113.2%,#ff7700 113.5%,#ff8100 114.0%,#ffac00 115.2%,#ffb500 115.8%,#ffb600 116.0%,#ffb400 116.2%,#ffa800 116.8%,#ff7a00 118.0%,#ff7400 118.2%,#ff7000 118.5%,#ff6f00 118.8%,#ff7100 119.0%,#ff7600 119.2%,#ff8700 119.8%,#ffaf00 120.8%,#ffb600 121.0%,#ffbb00 121.2%,#ffbd00 121.5%,#ffbb00 121.8%,#ffb700 122.0%,#ffa600 122.5%,#ff7a00 123.5%,#ff7100 123.8%,#ff6b00 124.0%,#ff6800 124.2%,#ff6800 124.5%,#ff6b00 124.8%,#ff7100 125.0%,#ff8400 125.5%,#ffb400 126.5%,#ffbc00 126.8%,#ffc200 127.0%,#ffc500 127.2%,#ffc500 127.5%,#ffc100 127.8%,#ffba00 128.0%,#ffa400 128.5%,#ff7c00 129.2%,#ff6700 129.8%,#ff6100 130.0%,#ff5e00 130.2%,#ff5e00 130.5%,#ff6200 130.8%,#ff6a00 131.0%,#ff8100 131.5%,#ffb900 132.5%,#ffc300 132.8%,#ffcb00 133.0%,#ffd000 133.2%,#ffd000 133.5%,#ffcd00 133.8%,#ffc700 134.0%,#ffbd00 134.2%,#ffa200 134.8%,#ff8500 135.2%,#ff7d00 135.5%,#ff7b00 135.8%,#ff7e00 136.0%,#ff8700 136.2%,#ff9400 136.5%,#ffb000 136.8%,#ffde00 138.0%,#ffea00 138.5%,#ffec00 138.8%,#ffeb00 139.0%,#ffe600 139.2%,#ffdc00 139.5%,#ffd000 139.8%,#ffc000 140.0%,#ff9900 140.5%,#ff4100 141.5%,#ff2d00 141.8%,#ff1c00 142.0%,#ff0f00 142.2%,#ff0600 142.5%,#ff0100 142.8%,#ff0100 143.0%,#ff0600 143.2%,#ff0f00 143.5%,#ff1b00 143.8%,#ff3b00 144.2%,#ffdf00 146.5%,#fff300 146.8%,#ffff0d 147.0%,#ffff6d 147.8%,#ffff8b 148.0%,#ffffa6 148.2%,#ffffbc 148.5%,#ffffce 148.8%,#ffffd9 149.0%,#ffffdd 149.2%,#ffffd9 149.5%,#ffffcf 149.8%,#ffffbd 150.0%,#ffffa6 150.2%,#ffff8a 150.5%,#ffff6a 150.8%,#ffff22 151.2%,#fffd00 151.5%,#ff9900 152.5%,#ff3f00 153.5%,#ff0100 154.2%,#c80000 155.0%,#a90000 155.5%,#920000 156.0%,#8b0000 156.2%,#860000 156.5%,#840000 156.8%,#850000 157.0%,#8a0000 157.2%,#910000 157.5%,#9b0000 157.8%,#b60000 158.2%,#d80000 158.8%,#fe0000 159.2%,#ff4b00 160.2%,#ff7b00 161.0%,#ff9500 161.5%,#ffa900 162.0%,#ffbe00 162.8%,#ffca00 163.5%,#ffce00 164.2%,#ffcb00 165.2%,#ffb800 167.0%,#ffa200 169.0%,#ff9800 170.8%,#ff9400 173.8%,#ff9400 320.0%);-webkit-mask-image:conic-gradient(from 0deg at 0.5px 206.50px,transparent 82.03deg,#000 84.69deg);mask-image:conic-gradient(from 0deg at 0.5px 206.50px,transparent 82.03deg,#000 84.69deg);"></div>
<div class="ax" style="left:39px;top:857px;width:234px;height:207px;background:radial-gradient(ellipse 105.95px 93.65px at 0.5px 206.50px,#ff9900 0.0%,#ff9f00 0.5%,#ffa000 1.0%,#ff9600 1.8%,#ff8a00 2.5%,#ff8800 3.0%,#ff8b00 3.5%,#ff9f00 4.8%,#ffa000 5.2%,#ff9b00 5.8%,#ff8b00 6.8%,#ff8800 7.2%,#ff8b00 7.8%,#ff9e00 9.0%,#ffa000 9.5%,#ff9c00 10.0%,#ff8b00 11.0%,#ff8800 11.5%,#ff8a00 12.0%,#ff9e00 13.2%,#ffa100 13.8%,#ff9d00 14.2%,#ff8900 15.5%,#ff8800 16.0%,#ff8d00 16.5%,#ff9d00 17.5%,#ffa100 18.0%,#ff9e00 18.5%,#ff8a00 19.8%,#ff8800 20.2%,#ff8c00 20.8%,#ff9f00 22.0%,#ffa000 22.5%,#ff9700 23.2%,#ff8a00 24.0%,#ff8800 24.5%,#ff8b00 25.0%,#ff9f00 26.2%,#ffa000 26.8%,#ff9c00 27.2%,#ff8b00 28.2%,#ff8800 28.8%,#ff8a00 29.2%,#ff9e00 30.5%,#ffa100 31.0%,#ff9d00 31.5%,#ff8900 32.8%,#ff8800 33.2%,#ff8d00 33.8%,#ff9d00 34.8%,#ffa100 35.2%,#ff9d00 35.8%,#ff8a00 37.0%,#ff8800 37.5%,#ff8c00 38.0%,#ff9d00 39.0%,#ffa100 39.5%,#ff9e00 40.0%,#ff8a00 41.2%,#ff8800 41.8%,#ff8b00 42.2%,#ff9f00 43.5%,#ffa000 44.0%,#ff9b00 44.5%,#ff8b00 45.5%,#ff8800 46.0%,#ff8b00 46.5%,#ff9e00 47.8%,#ffa000 48.2%,#ff9c00 48.8%,#ff8c00 49.8%,#ff8800 50.2%,#ff8a00 50.8%,#ff9e00 52.0%,#ffa100 52.5%,#ff9d00 53.0%,#ff8900 54.2%,#ff8800 54.8%,#ff8c00 55.2%,#ff9d00 56.2%,#ffa100 56.8%,#ff9e00 57.2%,#ff8a00 58.5%,#ff8800 59.0%,#ff8c00 59.5%,#ff9f00 60.8%,#ffa000 61.2%,#ff9700 62.0%,#ff8a00 62.8%,#ff8800 63.2%,#ff8b00 63.8%,#ff9f00 65.0%,#ffa000 65.5%,#ff9c00 66.0%,#ff8b00 67.0%,#ff8800 67.5%,#ff8a00 68.0%,#ff9e00 69.2%,#ffa100 69.8%,#ff9d00 70.2%,#ff8900 71.5%,#ff8800 72.0%,#ff8d00 72.5%,#ff9d00 73.5%,#ffa100 74.0%,#ff9d00 74.5%,#ff8a00 75.8%,#ff8800 76.2%,#ff8c00 76.8%,#ff9d00 77.8%,#ffa100 78.2%,#ff9e00 78.8%,#ff8a00 80.0%,#ff8800 80.5%,#ff8b00 81.0%,#ff9f00 82.2%,#ffa000 82.8%,#ff9b00 83.2%,#ff8b00 84.2%,#ff8700 84.8%,#ff8a00 85.2%,#ff9f00 86.5%,#ffa100 87.0%,#ff9d00 87.5%,#ff8700 88.8%,#ff8600 89.2%,#ff8c00 89.8%,#ffa000 90.8%,#ffa400 91.2%,#ff9f00 91.8%,#ff8600 93.0%,#ff8300 93.5%,#ff8900 94.0%,#ff9f00 95.0%,#ffa600 95.5%,#ffa400 96.0%,#ff9b00 96.5%,#ff8800 97.2%,#ff8100 97.8%,#ff8200 98.2%,#ff8c00 98.8%,#ffa400 99.8%,#ffa900 100.2%,#ffa500 100.8%,#ff9200 101.5%,#ff8500 102.0%,#ff7e00 102.5%,#ff7f00 103.0%,#ff8900 103.5%,#ffa600 104.5%,#ffad00 105.0%,#ffac00 105.2%,#ffa500 105.8%,#ff8100 107.0%,#ff7900 107.5%,#ff7900 107.8%,#ff8100 108.2%,#ffa800 109.5%,#ffb100 110.0%,#ffb100 110.2%,#ffaf00 110.5%,#ffa400 111.0%,#ff8200 112.0%,#ff7600 112.5%,#ff7400 112.8%,#ff7500 113.0%,#ff7800 113.2%,#ff8600 113.8%,#ffab00 114.8%,#ffb500 115.2%,#ffb700 115.5%,#ffb600 115.8%,#ffb200 116.0%,#ffa200 116.5%,#ff7b00 117.5%,#ff7400 117.8%,#ff6f00 118.0%,#ff6e00 118.2%,#ff6f00 118.5%,#ff7300 118.8%,#ff8300 119.2%,#ffae00 120.2%,#ffb600 120.5%,#ffbb00 120.8%,#ffbe00 121.0%,#ffbd00 121.2%,#ffba00 121.5%,#ffb300 121.8%,#ff9f00 122.2%,#ff7c00 123.0%,#ff6b00 123.5%,#ff6700 123.8%,#ff6600 124.0%,#ff6800 124.2%,#ff6d00 124.5%,#ff8000 125.0%,#ffb200 126.0%,#ffbb00 126.2%,#ffc200 126.5%,#ffc600 126.8%,#ffc700 127.0%,#ffc400 127.2%,#ffbe00 127.5%,#ffa900 128.0%,#ff7300 129.0%,#ff6900 129.2%,#ff6100 129.5%,#ff5c00 129.8%,#ff5c00 130.0%,#ff5e00 130.2%,#ff6500 130.5%,#ff6f00 130.8%,#ff8900 131.2%,#ffb500 132.0%,#ffc100 132.2%,#ffca00 132.5%,#ffd000 132.8%,#ffd300 133.0%,#ffd100 133.2%,#ffcc00 133.5%,#ffc300 133.8%,#ffa900 134.2%,#ff8a00 134.8%,#ff7f00 135.0%,#ff7a00 135.2%,#ff7b00 135.5%,#ff8100 135.8%,#ff8c00 136.0%,#ffad00 136.2%,#ffc700 137.0%,#ffe300 137.8%,#ffea00 138.0%,#ffee00 138.2%,#ffee00 138.5%,#ffeb00 138.8%,#ffe400 139.0%,#ffd900 139.2%,#ffcb00 139.5%,#ffa600 140.0%,#ff3900 141.2%,#ff2600 141.5%,#ff1600 141.8%,#ff0a00 142.0%,#ff0200 142.2%,#fd0000 142.5%,#ff0000 142.8%,#ff0500 143.0%,#ff0f00 143.2%,#ff1c00 143.5%,#ff3d00 144.0%,#ffdf00 146.2%,#fff200 146.5%,#ffff0b 146.8%,#ffff69 147.5%,#ffff86 147.8%,#ffffa0 148.0%,#ffffb6 148.2%,#ffffc8 148.5%,#ffffd3 148.8%,#ffffd8 149.0%,#ffffd6 149.2%,#ffffcd 149.5%,#ffffbd 149.8%,#ffffa7 150.0%,#ffff8c 150.2%,#ffff6d 150.5%,#ffff26 151.0%,#ffff00 151.2%,#ff9a00 152.2%,#ff5400 153.0%,#ff1400 153.8%,#ff0100 154.0%,#ca0000 154.8%,#af0000 155.2%,#a40000 155.5%,#9c0000 155.8%,#970000 156.0%,#940000 156.2%,#950000 156.5%,#990000 156.8%,#a00000 157.0%,#a90000 157.2%,#c30000 157.8%,#e40000 158.2%,#f60000 158.5%,#ff0900 158.8%,#ff5200 159.8%,#ff7f00 160.5%,#ff9800 161.0%,#ffab00 161.5%,#ffbf00 162.2%,#ffca00 163.0%,#ffce00 163.8%,#ffcb00 164.8%,#ffb800 166.5%,#ffa200 168.5%,#ff9800 170.2%,#ff9400 173.2%,#ff9400 320.0%);-webkit-mask-image:conic-gradient(from 0deg at 0.5px 206.50px,transparent 84.69deg,#000 87.35deg);mask-image:conic-gradient(from 0deg at 0.5px 206.50px,transparent 84.69deg,#000 87.35deg);"></div>
<div class="ax" style="left:39px;top:857px;width:234px;height:207px;background:radial-gradient(ellipse 105.95px 93.65px at 0.5px 206.50px,#ff9900 0.0%,#ff9f00 0.5%,#ffa000 1.0%,#ff9600 1.8%,#ff8a00 2.5%,#ff8800 3.0%,#ff8b00 3.5%,#ff9f00 4.8%,#ffa000 5.2%,#ff9b00 5.8%,#ff8b00 6.8%,#ff8800 7.2%,#ff8b00 7.8%,#ff9f00 9.0%,#ffa000 9.5%,#ff9c00 10.0%,#ff8b00 11.0%,#ff8800 11.5%,#ff8a00 12.0%,#ff9e00 13.2%,#ffa100 13.8%,#ff9d00 14.2%,#ff8900 15.5%,#ff8800 16.0%,#ff8d00 16.5%,#ff9d00 17.5%,#ffa100 18.0%,#ff9d00 18.5%,#ff8a00 19.8%,#ff8800 20.2%,#ff8c00 20.8%,#ff9d00 21.8%,#ffa100 22.2%,#ff9e00 22.8%,#ff8a00 24.0%,#ff8800 24.5%,#ff8b00 25.0%,#ff9f00 26.2%,#ffa000 26.8%,#ff9b00 27.2%,#ff8b00 28.2%,#ff8800 28.8%,#ff8b00 29.2%,#ff9f00 30.5%,#ffa000 31.0%,#ff9c00 31.5%,#ff8b00 32.5%,#ff8800 33.0%,#ff8a00 33.5%,#ff9e00 34.8%,#ffa100 35.2%,#ff9d00 35.8%,#ff8900 37.0%,#ff8800 37.5%,#ff8d00 38.0%,#ff9d00 39.0%,#ffa100 39.5%,#ff9d00 40.0%,#ff8a00 41.2%,#ff8800 41.8%,#ff8c00 42.2%,#ff9d00 43.2%,#ffa100 43.8%,#ff9e00 44.2%,#ff8a00 45.5%,#ff8800 46.0%,#ff8b00 46.5%,#ff9f00 47.8%,#ffa000 48.2%,#ff9b00 48.8%,#ff8b00 49.8%,#ff8800 50.2%,#ff8b00 50.8%,#ff9f00 52.0%,#ffa000 52.5%,#ff9c00 53.0%,#ff8b00 54.0%,#ff8800 54.5%,#ff8a00 55.0%,#ff9e00 56.2%,#ffa100 56.8%,#ff9d00 57.2%,#ff8900 58.5%,#ff8800 59.0%,#ff8d00 59.5%,#ff9d00 60.5%,#ffa100 61.0%,#ff9d00 61.5%,#ff8a00 62.8%,#ff8800 63.2%,#ff8c00 63.8%,#ff9d00 64.8%,#ffa100 65.2%,#ff9e00 65.8%,#ff8a00 67.0%,#ff8800 67.5%,#ff8b00 68.0%,#ff9f00 69.2%,#ffa000 69.8%,#ff9b00 70.2%,#ff8b00 71.2%,#ff8800 71.8%,#ff8b00 72.2%,#ff9f00 73.5%,#ffa000 74.0%,#ff9c00 74.5%,#ff8b00 75.5%,#ff8800 76.0%,#ff8a00 76.5%,#ff9e00 77.8%,#ffa100 78.2%,#ff9d00 78.8%,#ff8900 80.0%,#ff8800 80.5%,#ff8d00 81.0%,#ff9d00 82.0%,#ffa100 82.5%,#ff9d00 83.0%,#ff8900 84.2%,#ff8700 84.8%,#ff8c00 85.2%,#ff9e00 86.2%,#ffa200 86.8%,#ff9f00 87.2%,#ff8800 88.5%,#ff8500 89.0%,#ff8a00 89.5%,#ffa200 90.8%,#ffa400 91.2%,#ff9e00 91.8%,#ff8800 92.8%,#ff8300 93.2%,#ff8600 93.8%,#ffa200 95.0%,#ffa700 95.5%,#ffa300 96.0%,#ff8500 97.2%,#ff8000 97.8%,#ff8400 98.2%,#ff9600 99.0%,#ffa300 99.5%,#ffaa00 100.0%,#ffa700 100.5%,#ff9d00 101.0%,#ff8200 102.0%,#ff7c00 102.5%,#ff8100 103.0%,#ff8d00 103.5%,#ffa400 104.2%,#ffad00 104.8%,#ffae00 105.0%,#ffac00 105.2%,#ffa200 105.8%,#ff8300 106.8%,#ff7900 107.2%,#ff7800 107.5%,#ff7a00 107.8%,#ff8400 108.2%,#ffa600 109.2%,#ffb100 109.8%,#ffb200 110.0%,#ffb100 110.2%,#ffae00 110.5%,#ffa000 111.0%,#ff7d00 112.0%,#ff7700 112.2%,#ff7400 112.5%,#ff7300 112.8%,#ff7500 113.0%,#ff8200 113.5%,#ffa800 114.5%,#ffb500 115.0%,#ffb800 115.2%,#ffb800 115.5%,#ffb500 115.8%,#ffa600 116.2%,#ff7d00 117.2%,#ff7000 117.8%,#ff6d00 118.0%,#ff6d00 118.2%,#ff7000 118.5%,#ff7600 118.8%,#ff8900 119.2%,#ffab00 120.0%,#ffbb00 120.5%,#ffbf00 120.8%,#ffc000 121.0%,#ffbd00 121.2%,#ffb700 121.5%,#ffa400 122.0%,#ff7500 123.0%,#ff6c00 123.2%,#ff6700 123.5%,#ff6400 123.8%,#ff6500 124.0%,#ff6900 124.2%,#ff7100 124.5%,#ff8700 125.0%,#ffae00 125.8%,#ffb900 126.0%,#ffc200 126.2%,#ffc700 126.5%,#ffc900 126.8%,#ffc700 127.0%,#ffc200 127.2%,#ffba00 127.5%,#ffa100 128.0%,#ff7700 128.8%,#ff6b00 129.0%,#ff6200 129.2%,#ff5c00 129.5%,#ff5900 129.8%,#ff5b00 130.0%,#ff6000 130.2%,#ff6900 130.5%,#ff8300 131.0%,#ffb100 131.8%,#ffbe00 132.0%,#ffc900 132.2%,#ffd100 132.5%,#ffd500 132.8%,#ffd500 133.0%,#ffd000 133.2%,#ffc900 133.5%,#ffbd00 133.8%,#ffa000 134.2%,#ff8200 134.8%,#ff7a00 135.0%,#ff7900 135.2%,#ff7d00 135.5%,#ff8700 135.8%,#ffaa00 136.0%,#ffc400 136.8%,#ffe200 137.5%,#ffe900 137.8%,#ffee00 138.0%,#fff000 138.2%,#ffef00 138.5%,#ffe900 138.8%,#ffe000 139.0%,#ffd300 139.2%,#ffc300 139.5%,#ff9b00 140.0%,#ff4200 141.0%,#ff2d00 141.2%,#ff1c00 141.5%,#ff0e00 141.8%,#ff0300 142.0%,#fc0000 142.2%,#fb0000 142.5%,#ff0000 142.8%,#ff0800 143.0%,#ff1400 143.2%,#ff3300 143.8%,#ffb000 145.5%,#ffe600 146.2%,#fffa00 146.5%,#ffff16 146.8%,#ffff71 147.5%,#ffff8d 147.8%,#ffffa5 148.0%,#ffffb9 148.2%,#ffffc8 148.5%,#ffffd1 148.8%,#ffffd3 149.0%,#ffffcf 149.2%,#ffffc3 149.5%,#ffffb2 149.8%,#ffff9a 150.0%,#ffff7e 150.2%,#ffff5e 150.5%,#ffff15 151.0%,#fff400 151.2%,#ff8e00 152.2%,#ff4900 153.0%,#ff0a00 153.8%,#f60000 154.0%,#d50000 154.5%,#bb0000 155.0%,#b10000 155.2%,#aa0000 155.5%,#a60000 155.8%,#a50000 156.0%,#a70000 156.2%,#ac0000 156.5%,#b30000 156.8%,#ca0000 157.2%,#e80000 157.8%,#f90000 158.0%,#ff0b00 158.2%,#ff5100 159.2%,#ff7d00 160.0%,#ff9f00 160.8%,#ffb600 161.5%,#ffc500 162.2%,#ffcd00 163.0%,#ffce00 164.0%,#ffc500 165.2%,#ffa500 168.0%,#ff9900 169.8%,#ff9500 172.2%,#ff9400 320.0%);-webkit-mask-image:conic-gradient(from 0deg at 0.5px 206.50px,transparent 87.35deg,#000 90.00deg);mask-image:conic-gradient(from 0deg at 0.5px 206.50px,transparent 87.35deg,#000 90.00deg);"></div>
<div class="ax" style="left:40px;top:858px;width:232px;height:205px;background:repeating-linear-gradient(90deg,rgba(255,215,0,0.55) 0px,transparent 0.8px,rgba(240,90,0,0.45) 1.6px,transparent 2.4px,rgba(255,215,0,0.55) 3.2px),repeating-linear-gradient(90deg,transparent 0px,rgba(240,90,0,0.45) 2.1px,transparent 4.3px),repeating-linear-gradient(0deg,rgba(255,215,0,0.55) 0px,transparent 0.8px,rgba(240,90,0,0.45) 1.6px,transparent 2.4px,rgba(255,215,0,0.55) 3.2px),repeating-linear-gradient(0deg,transparent 0px,rgba(240,90,0,0.45) 2.1px,transparent 4.3px);-webkit-mask-image:radial-gradient(ellipse 90.1px 70.2px at 0.5px 206.5px,rgba(0,0,0,0.9) 0%,rgba(0,0,0,0.6) 50%,transparent 100%);mask-image:radial-gradient(ellipse 90.1px 70.2px at 0.5px 206.5px,rgba(0,0,0,0.9) 0%,rgba(0,0,0,0.6) 50%,transparent 100%)"></div>
<div class="fr" style="left:39px;top:857px;width:234px;height:207px"></div>
<div class="l" style="left:36.20px;top:1063.10px;width:2.80px;height:0.80px;background:#555"></div>
<div class="t" style="left:33.10px;top:1058.33px;font-size:10.60px;transform-origin:0 0;transform:scaleX(1.160) translateX(-100%);">0</div>
<div class="l" style="left:36.20px;top:1016.27px;width:2.80px;height:0.80px;background:#555"></div>
<div class="t" style="left:33.10px;top:1011.50px;font-size:10.60px;transform-origin:0 0;transform:scaleX(1.160) translateX(-100%);">50</div>
<div class="l" style="left:36.20px;top:969.45px;width:2.80px;height:0.80px;background:#555"></div>
<div class="t" style="left:33.10px;top:964.68px;font-size:10.60px;transform-origin:0 0;transform:scaleX(1.160) translateX(-100%);">100</div>
<div class="l" style="left:36.20px;top:922.62px;width:2.80px;height:0.80px;background:#555"></div>
<div class="t" style="left:33.10px;top:917.85px;font-size:10.60px;transform-origin:0 0;transform:scaleX(1.160) translateX(-100%);">150</div>
<div class="l" style="left:36.20px;top:875.80px;width:2.80px;height:0.80px;background:#555"></div>
<div class="t" style="left:33.10px;top:871.03px;font-size:10.60px;transform-origin:0 0;transform:scaleX(1.160) translateX(-100%);">200</div>
<div class="l" style="left:39.10px;top:1064.00px;width:0.80px;height:2.60px;background:#555"></div>
<div class="t" style="left:39.50px;top:1067.43px;font-size:10.60px;transform-origin:0 0;transform:scaleX(1.160) translateX(-50%);">0</div>
<div class="l" style="left:92.08px;top:1064.00px;width:0.80px;height:2.60px;background:#555"></div>
<div class="t" style="left:92.48px;top:1067.43px;font-size:10.60px;transform-origin:0 0;transform:scaleX(1.160) translateX(-50%);">50</div>
<div class="l" style="left:145.05px;top:1064.00px;width:0.80px;height:2.60px;background:#555"></div>
<div class="t" style="left:145.45px;top:1067.43px;font-size:10.60px;transform-origin:0 0;transform:scaleX(1.160) translateX(-50%);">100</div>
<div class="l" style="left:198.03px;top:1064.00px;width:0.80px;height:2.60px;background:#555"></div>
<div class="t" style="left:198.43px;top:1067.43px;font-size:10.60px;transform-origin:0 0;transform:scaleX(1.160) translateX(-50%);">150</div>
<div class="l" style="left:251.00px;top:1064.00px;width:0.80px;height:2.60px;background:#555"></div>
<div class="t" style="left:251.40px;top:1067.43px;font-size:10.60px;transform-origin:0 0;transform:scaleX(1.160) translateX(-50%);">200</div>
<div class="t" style="left:156.00px;top:1080.17px;font-size:12.20px;transform-origin:0 0;transform:scaleX(1.000) translateX(-50%);">x</div>
<div class="t" style="left:5.30px;top:960.50px;font-size:12.20px;transform:translate(-50%,-50%) rotate(-90deg) scaleX(1.08);">y</div>
<div class="cb" style="left:287px;top:857px;width:11px;height:207px;background:linear-gradient(to top,#0b0000 0.0%,#2c0000 5.0%,#4e0000 10.0%,#6f0000 15.0%,#900000 20.0%,#b20000 25.0%,#d30000 30.0%,#f50000 35.0%,#ff1700 40.0%,#ff3900 45.0%,#ff5a00 50.0%,#ff7c00 55.0%,#ff9d00 60.0%,#ffbf00 65.0%,#ffe000 70.0%,#ffff04 75.0%,#ffff36 80.0%,#ffff68 85.0%,#ffff9b 90.0%,#ffffcd 95.0%,#ffffff 100.0%)"></div>
<div class="fr" style="left:287px;top:857px;width:11px;height:207px"></div>
<div class="l" style="left:298.00px;top:882.90px;width:2.60px;height:0.80px;background:#555"></div>
<div class="t" style="left:303.10px;top:878.83px;font-size:10.60px;transform-origin:0 0;transform:scaleX(1.160);">2</div>
<div class="l" style="left:298.00px;top:912.52px;width:2.60px;height:0.80px;background:#555"></div>
<div class="t" style="left:303.10px;top:908.45px;font-size:10.60px;transform-origin:0 0;transform:scaleX(1.160);">1</div>
<div class="l" style="left:298.00px;top:942.14px;width:2.60px;height:0.80px;background:#555"></div>
<div class="t" style="left:303.10px;top:938.07px;font-size:10.60px;transform-origin:0 0;transform:scaleX(1.160);">0</div>
<div class="l" style="left:298.00px;top:971.76px;width:2.60px;height:0.80px;background:#555"></div>
<div class="t" style="left:303.10px;top:967.69px;font-size:10.60px;transform-origin:0 0;transform:scaleX(1.160);">−1</div>
<div class="l" style="left:298.00px;top:1001.38px;width:2.60px;height:0.80px;background:#555"></div>
<div class="t" style="left:303.10px;top:997.31px;font-size:10.60px;transform-origin:0 0;transform:scaleX(1.160);">−2</div>
<div class="l" style="left:298.00px;top:1031.00px;width:2.60px;height:0.80px;background:#555"></div>
<div class="t" style="left:303.10px;top:1026.93px;font-size:10.60px;transform-origin:0 0;transform:scaleX(1.160);">−3</div>
<div class="l" style="left:298.00px;top:1060.62px;width:2.60px;height:0.80px;background:#555"></div>
<div class="t" style="left:303.10px;top:1056.55px;font-size:10.60px;transform-origin:0 0;transform:scaleX(1.160);">−4</div>
<div class="t" style="left:269.80px;top:846.03px;font-size:10.60px;transform-origin:0 0;transform:scaleX(1.120);">1e−7</div>
<div class="t" style="left:326.40px;top:962.00px;font-size:10.60px;transform:translate(-50%,-50%) rotate(-90deg) scaleX(1.08);">Bz</div>
<div class="ti" style="left:123.80px;top:833.70px;transform:translateX(-50%) scaleX(1.0080);">(g) Sekido23 with <i>C</i> = 1 (x-y)</div>
<div class="ax" style="left:393px;top:857px;width:234px;height:207px;background:radial-gradient(ellipse 106.90px 93.65px at 0.5px 206.50px,#ff9400 0.0%,#ff9500 2.5%,#ff9400 6.5%,#ff9400 8.8%,#ff9400 11.0%,#ff9500 13.0%,#ff9300 15.2%,#ff9500 17.5%,#ff9300 19.5%,#ff9500 21.8%,#ff9300 24.0%,#ff9500 26.2%,#ff9300 28.5%,#ff9500 30.8%,#ff9300 33.0%,#ff9600 35.0%,#ff9200 37.2%,#ff9600 39.5%,#ff9200 41.8%,#ff9600 44.0%,#ff9200 46.2%,#ff9600 48.5%,#ff9200 50.8%,#ff9600 53.0%,#ff9200 55.2%,#ff9700 57.5%,#ff9100 59.5%,#ff9700 62.0%,#ff9100 64.0%,#ff9700 66.2%,#ff9100 68.5%,#ff9700 70.8%,#ff9100 73.0%,#ff9800 75.2%,#ff9000 77.5%,#ff9800 79.8%,#ff9000 82.0%,#ff9800 84.2%,#ff9000 86.5%,#ff9500 87.8%,#ff9900 88.8%,#ff9300 90.0%,#ff8f00 91.0%,#ff9500 92.2%,#ff9900 93.2%,#ff9300 94.5%,#ff8f00 95.5%,#ff9300 96.5%,#ff9900 97.8%,#ff9500 98.8%,#ff8f00 99.8%,#ff9000 100.5%,#ff9900 102.0%,#ff9800 102.8%,#ff8f00 104.2%,#ff9000 105.0%,#ff9a00 106.5%,#ff9900 107.2%,#ff8e00 108.8%,#ff8f00 109.5%,#ff9a00 111.0%,#ff9900 111.8%,#ff8e00 113.2%,#ff8f00 114.0%,#ff9b00 115.5%,#ff9a00 116.2%,#ff8d00 117.8%,#ff8e00 118.5%,#ff9b00 120.0%,#ff9a00 120.8%,#ff8d00 122.2%,#ff8e00 123.0%,#ff9c00 124.5%,#ff9a00 125.2%,#ff8c00 126.8%,#ff8d00 127.5%,#ff9c00 129.0%,#ff9b00 129.8%,#ff8b00 131.2%,#ff8d00 132.0%,#ff9d00 133.5%,#ff9b00 134.2%,#ff8b00 135.8%,#ff8c00 136.5%,#ff9c00 137.8%,#ff9e00 138.2%,#ff9900 139.0%,#ff8c00 140.0%,#ff8900 140.5%,#ff8f00 141.2%,#ff9d00 142.2%,#ff9f00 142.8%,#ff9d00 143.2%,#ff8b00 144.5%,#ff8900 144.8%,#ff9400 145.0%,#ff9400 148.5%,#ff9300 151.2%,#ff9c00 155.5%,#ff9700 157.8%,#ff8900 161.5%,#ff8b00 163.0%,#ff9800 166.5%,#ff9900 169.5%,#ff9400 175.5%,#ff9400 320.0%);"></div>
<div class="ax" style="left:393px;top:857px;width:234px;height:207px;background:radial-gradient(ellipse 106.90px 93.65px at 0.5px 206.50px,#ff9400 0.0%,#ff9400 4.0%,#ff9400 6.2%,#ff9400 8.5%,#ff9400 10.8%,#ff9500 12.8%,#ff9300 15.0%,#ff9500 17.2%,#ff9300 19.5%,#ff9500 21.5%,#ff9300 23.8%,#ff9500 26.0%,#ff9300 28.2%,#ff9500 30.5%,#ff9300 32.8%,#ff9600 35.0%,#ff9200 37.2%,#ff9600 39.2%,#ff9200 41.5%,#ff9600 43.8%,#ff9200 46.0%,#ff9600 48.2%,#ff9200 50.5%,#ff9700 52.8%,#ff9200 55.0%,#ff9700 57.2%,#ff9100 59.5%,#ff9700 61.8%,#ff9100 64.0%,#ff9700 66.2%,#ff9100 68.5%,#ff9700 70.5%,#ff9100 73.0%,#ff9800 75.0%,#ff9300 76.5%,#ff9000 77.5%,#ff9800 79.5%,#ff9400 80.8%,#ff9000 82.0%,#ff9800 84.0%,#ff9400 85.2%,#ff9000 86.2%,#ff9400 87.5%,#ff9900 88.5%,#ff9500 89.5%,#ff8f00 90.8%,#ff9300 91.8%,#ff9900 93.0%,#ff9500 94.0%,#ff8f00 95.2%,#ff9300 96.2%,#ff9900 97.5%,#ff9600 98.5%,#ff8f00 99.8%,#ff9300 100.8%,#ff9a00 102.0%,#ff9600 103.0%,#ff8e00 104.2%,#ff9200 105.2%,#ff9a00 106.2%,#ff9900 107.0%,#ff8e00 108.5%,#ff8f00 109.2%,#ff9a00 110.8%,#ff9a00 111.5%,#ff8e00 113.0%,#ff8e00 113.8%,#ff9b00 115.2%,#ff9a00 116.0%,#ff8d00 117.5%,#ff8e00 118.2%,#ff9b00 119.8%,#ff9b00 120.5%,#ff8d00 122.0%,#ff8d00 122.8%,#ff9c00 124.2%,#ff9b00 125.0%,#ff8c00 126.5%,#ff8d00 127.2%,#ff9c00 128.8%,#ff9c00 129.5%,#ff8c00 131.0%,#ff8c00 131.8%,#ff9d00 133.2%,#ff9c00 134.0%,#ff8b00 135.5%,#ff8a00 136.0%,#ff9100 136.8%,#ff9d00 137.8%,#ff9e00 138.2%,#ff9700 139.0%,#ff8a00 140.0%,#ff8900 140.5%,#ff9100 141.2%,#ff9e00 142.2%,#ff9f00 142.8%,#ff9700 143.5%,#ff8a00 144.5%,#ff8900 144.8%,#ff9400 145.0%,#ff9400 148.2%,#ff9200 151.0%,#ff9e00 155.2%,#ff9a00 157.0%,#ff8700 161.2%,#ff8800 162.5%,#ff9c00 166.2%,#ff9f00 168.2%,#ff9500 174.0%,#ff9400 320.0%);-webkit-mask-image:conic-gradient(from 0deg at 0.5px 206.50px,transparent 0.00deg,#000 5.70deg);mask-image:conic-gradient(from 0deg at 0.5px 206.50px,transparent 0.00deg,#000 5.70deg);"></div>
<div class="ax" style="left:393px;top:857px;width:234px;height:207px;background:radial-gradient(ellipse 106.90px 93.65px at 0.5px 206.50px,#ff9300 0.0%,#ff9400 3.5%,#ff9400 5.8%,#ff9400 8.0%,#ff9300 10.0%,#ff9500 12.2%,#ff9300 14.5%,#ff9500 16.8%,#ff9300 18.8%,#ff9500 21.0%,#ff9300 23.2%,#ff9500 25.5%,#ff9300 27.8%,#ff9600 30.0%,#ff9200 32.2%,#ff9600 34.5%,#ff9200 36.8%,#ff9600 38.8%,#ff9200 41.0%,#ff9600 43.2%,#ff9200 45.5%,#ff9600 47.8%,#ff9200 50.0%,#ff9700 52.2%,#ff9100 54.5%,#ff9700 56.8%,#ff9100 59.0%,#ff9700 61.2%,#ff9100 63.5%,#ff9700 65.8%,#ff9100 68.0%,#ff9800 70.2%,#ff9000 72.2%,#ff9500 73.8%,#ff9800 74.8%,#ff9000 76.8%,#ff9400 78.0%,#ff9800 79.2%,#ff9000 81.2%,#ff9400 82.5%,#ff9800 83.5%,#ff9500 84.5%,#ff8f00 85.8%,#ff9300 86.8%,#ff9900 88.0%,#ff9600 89.0%,#ff8f00 90.2%,#ff9200 91.2%,#ff9900 92.5%,#ff9600 93.5%,#ff8f00 94.8%,#ff9200 95.8%,#ff9a00 97.0%,#ff9600 98.0%,#ff8e00 99.2%,#ff9200 100.2%,#ff9a00 101.5%,#ff9800 102.2%,#ff8f00 103.5%,#ff8f00 104.2%,#ff9a00 105.8%,#ff9a00 106.5%,#ff8e00 108.0%,#ff8e00 108.8%,#ff9a00 110.2%,#ff9a00 111.0%,#ff8e00 112.5%,#ff8e00 113.2%,#ff9b00 114.8%,#ff9a00 115.5%,#ff8d00 117.0%,#ff8d00 117.8%,#ff9b00 119.2%,#ff9b00 120.0%,#ff8d00 121.5%,#ff8d00 122.2%,#ff9c00 123.8%,#ff9c00 124.5%,#ff8c00 126.0%,#ff8c00 126.8%,#ff9c00 128.2%,#ff9c00 129.0%,#ff8b00 130.5%,#ff8c00 131.2%,#ff9d00 132.8%,#ff9e00 133.2%,#ff9700 134.0%,#ff8b00 135.0%,#ff8a00 135.5%,#ff9100 136.2%,#ff9e00 137.2%,#ff9f00 137.8%,#ff9700 138.5%,#ff8a00 139.5%,#ff8900 140.0%,#ff9100 140.8%,#ff9e00 141.8%,#ffa000 142.2%,#ff9800 143.0%,#ff8900 144.0%,#ff8800 144.2%,#ff9500 144.5%,#ff9600 147.2%,#ff9000 150.0%,#ff9600 152.0%,#ffa300 154.5%,#ffa200 155.8%,#ff8700 159.5%,#ff7f00 161.0%,#ff8000 162.0%,#ff8d00 163.5%,#ff9f00 165.5%,#ffa400 167.0%,#ffa200 169.0%,#ff9600 172.8%,#ff9400 181.5%,#ff9400 320.0%);-webkit-mask-image:conic-gradient(from 0deg at 0.5px 206.50px,transparent 5.70deg,#000 11.38deg);mask-image:conic-gradient(from 0deg at 0.5px 206.50px,transparent 5.70deg,#000 11.38deg);"></div>
<div class="ax" style="left:393px;top:857px;width:234px;height:207px;background:radial-gradient(ellipse 106.90px 93.65px at 0.5px 206.50px,#ff9300 0.0%,#ff9500 2.5%,#ff9300 4.8%,#ff9500 7.0%,#ff9300 9.2%,#ff9500 11.5%,#ff9300 13.8%,#ff9500 16.0%,#ff9300 18.2%,#ff9500 20.5%,#ff9300 22.8%,#ff9600 24.8%,#ff9200 27.0%,#ff9600 29.2%,#ff9200 31.5%,#ff9600 33.8%,#ff9200 36.0%,#ff9600 38.2%,#ff9200 40.5%,#ff9600 42.8%,#ff9200 45.0%,#ff9700 47.0%,#ff9200 49.5%,#ff9700 51.5%,#ff9100 53.8%,#ff9700 56.0%,#ff9100 58.2%,#ff9700 60.5%,#ff9100 62.8%,#ff9800 65.0%,#ff9000 67.2%,#ff9800 69.5%,#ff9000 71.8%,#ff9800 74.0%,#ff9000 76.2%,#ff9800 78.5%,#ff8f00 80.8%,#ff9500 82.0%,#ff9900 83.0%,#ff9300 84.2%,#ff8f00 85.2%,#ff9500 86.5%,#ff9900 87.5%,#ff9500 88.5%,#ff8f00 89.5%,#ff9200 90.5%,#ff9900 91.8%,#ff9800 92.5%,#ff8f00 94.0%,#ff9000 94.8%,#ff9a00 96.2%,#ff9900 97.0%,#ff8e00 98.5%,#ff8f00 99.2%,#ff9a00 100.8%,#ff9900 101.5%,#ff8e00 103.0%,#ff8f00 103.8%,#ff9b00 105.2%,#ff9900 106.0%,#ff8d00 107.5%,#ff8f00 108.2%,#ff9b00 109.8%,#ff9a00 110.5%,#ff8d00 112.0%,#ff8e00 112.8%,#ff9c00 114.2%,#ff9a00 115.0%,#ff8c00 116.5%,#ff8e00 117.2%,#ff9c00 118.8%,#ff9b00 119.5%,#ff8d00 120.8%,#ff8c00 121.5%,#ff9600 122.5%,#ff9d00 123.2%,#ff9b00 124.0%,#ff8c00 125.2%,#ff8b00 126.0%,#ff9600 127.0%,#ff9e00 127.8%,#ff9c00 128.5%,#ff8c00 129.8%,#ff8a00 130.2%,#ff8f00 131.0%,#ff9d00 132.0%,#ff9f00 132.5%,#ff9900 133.2%,#ff8b00 134.2%,#ff8900 134.8%,#ff8c00 135.2%,#ff9d00 136.5%,#ffa000 137.0%,#ff9d00 137.5%,#ff8a00 138.8%,#ff8800 139.2%,#ff8b00 139.8%,#ff9e00 141.0%,#ffa100 141.5%,#ff9e00 142.0%,#ff8a00 143.2%,#ff8800 143.5%,#ff9500 143.8%,#ff9800 146.2%,#ff8e00 149.2%,#ff9200 150.5%,#ffa200 152.5%,#ffac00 153.8%,#ffad00 154.8%,#ffa200 156.0%,#ff7600 159.8%,#ff7100 160.5%,#ff7300 161.2%,#ff7e00 162.2%,#ff9b00 164.2%,#ffa600 165.5%,#ffaa00 166.8%,#ffa600 168.5%,#ff9800 171.8%,#ff9400 175.5%,#ff9400 320.0%);-webkit-mask-image:conic-gradient(from 0deg at 0.5px 206.50px,transparent 11.38deg,#000 17.01deg);mask-image:conic-gradient(from 0deg at 0.5px 206.50px,transparent 11.38deg,#000 17.01deg);"></div>
<div class="ax" style="left:393px;top:857px;width:234px;height:207px;background:radial-gradient(ellipse 106.90px 93.65px at 0.5px 206.50px,#ff9400 0.0%,#ff9500 2.0%,#ff9300 4.2%,#ff9500 6.5%,#ff9300 8.8%,#ff9500 10.8%,#ff9300 13.0%,#ff9600 15.2%,#ff9300 17.5%,#ff9600 19.8%,#ff9200 22.0%,#ff9600 24.2%,#ff9200 26.5%,#ff9600 28.5%,#ff9200 30.8%,#ff9600 33.0%,#ff9200 35.2%,#ff9600 37.5%,#ff9200 39.8%,#ff9700 42.0%,#ff9100 44.2%,#ff9700 46.5%,#ff9100 48.8%,#ff9700 51.0%,#ff9100 53.2%,#ff9700 55.5%,#ff9100 57.8%,#ff9800 60.0%,#ff9000 62.2%,#ff9800 64.2%,#ff9400 65.5%,#ff9000 66.8%,#ff9800 68.8%,#ff9400 70.0%,#ff9000 71.2%,#ff9800 73.2%,#ff9600 74.2%,#ff8f00 75.5%,#ff9300 76.5%,#ff9900 77.8%,#ff9600 78.8%,#ff8f00 80.0%,#ff9200 81.0%,#ff9900 82.2%,#ff9600 83.2%,#ff8f00 84.5%,#ff9200 85.5%,#ff9a00 86.8%,#ff9600 87.8%,#ff8e00 89.0%,#ff9200 90.0%,#ff9a00 91.2%,#ff9800 92.0%,#ff8f00 93.2%,#ff8f00 94.0%,#ff9a00 95.5%,#ff9a00 96.2%,#ff8e00 97.8%,#ff8e00 98.5%,#ff9a00 100.0%,#ff9a00 100.8%,#ff8e00 102.2%,#ff8e00 103.0%,#ff9b00 104.5%,#ff9b00 105.2%,#ff8d00 106.8%,#ff8d00 107.5%,#ff9b00 109.0%,#ff9b00 109.8%,#ff8d00 111.2%,#ff8d00 112.0%,#ff9c00 113.5%,#ff9c00 114.2%,#ff8c00 115.8%,#ff8c00 116.5%,#ff9c00 118.0%,#ff9c00 118.8%,#ff8b00 120.2%,#ff8c00 121.0%,#ff9d00 122.5%,#ff9e00 123.0%,#ff9700 123.8%,#ff8b00 124.8%,#ff8a00 125.2%,#ff9100 126.0%,#ff9e00 127.0%,#ff9f00 127.5%,#ff9800 128.2%,#ff8a00 129.2%,#ff8900 129.8%,#ff9000 130.5%,#ff9e00 131.5%,#ffa000 132.0%,#ff9800 132.8%,#ff8900 133.8%,#ff8800 134.2%,#ff9000 135.0%,#ff9f00 136.0%,#ffa100 136.5%,#ff9c00 137.0%,#ff8800 138.2%,#ff8700 138.8%,#ff8c00 139.2%,#ffa000 140.5%,#ffa200 141.0%,#ff9d00 141.5%,#ff8b00 142.5%,#ff8700 143.0%,#ff9500 143.2%,#ff9a00 145.5%,#ff9300 147.0%,#ff8b00 148.5%,#ff8e00 149.5%,#ff9a00 150.8%,#ffb700 153.0%,#ffbb00 153.8%,#ffb600 154.5%,#ffa300 155.8%,#ff6800 159.0%,#ff6000 159.8%,#ff6000 160.5%,#ff6a00 161.2%,#ff9900 163.5%,#ffa800 164.5%,#ffaf00 165.5%,#ffb000 166.8%,#ffa500 168.8%,#ff9900 171.0%,#ff9400 173.8%,#ff9400 320.0%);-webkit-mask-image:conic-gradient(from 0deg at 0.5px 206.50px,transparent 17.01deg,#000 22.56deg);mask-image:conic-gradient(from 0deg at 0.5px 206.50px,transparent 17.01deg,#000 22.56deg);"></div>
<div class="ax" style="left:393px;top:857px;width:234px;height:207px;background:radial-gradient(ellipse 106.90px 93.65px at 0.5px 206.50px,#ff9500 0.0%,#ff9400 1.8%,#ff9300 3.8%,#ff9500 5.8%,#ff9300 8.0%,#ff9500 10.2%,#ff9300 12.5%,#ff9600 14.5%,#ff9200 16.8%,#ff9600 19.0%,#ff9200 21.2%,#ff9600 23.5%,#ff9200 25.8%,#ff9600 28.0%,#ff9200 30.2%,#ff9700 32.5%,#ff9100 34.8%,#ff9700 37.0%,#ff9100 39.2%,#ff9700 41.5%,#ff9100 43.8%,#ff9700 45.8%,#ff9100 48.2%,#ff9800 50.2%,#ff9000 52.5%,#ff9800 54.8%,#ff9000 57.0%,#ff9600 58.5%,#ff9800 59.5%,#ff9000 61.5%,#ff9500 62.8%,#ff9800 63.8%,#ff9400 65.0%,#ff9000 66.0%,#ff9500 67.2%,#ff9900 68.2%,#ff9500 69.2%,#ff8f00 70.5%,#ff9300 71.5%,#ff9900 72.8%,#ff9500 73.8%,#ff8f00 75.0%,#ff9300 76.0%,#ff9900 77.2%,#ff9500 78.2%,#ff8e00 79.5%,#ff9300 80.5%,#ff9900 81.5%,#ff9900 82.2%,#ff8e00 83.8%,#ff8f00 84.5%,#ff9a00 86.0%,#ff9900 86.8%,#ff8e00 88.2%,#ff8f00 89.0%,#ff9a00 90.5%,#ff9a00 91.2%,#ff8e00 92.8%,#ff8e00 93.5%,#ff9b00 95.0%,#ff9a00 95.8%,#ff8d00 97.2%,#ff8e00 98.0%,#ff9b00 99.5%,#ff9a00 100.2%,#ff8d00 101.8%,#ff8d00 102.5%,#ff9c00 104.0%,#ff9b00 104.8%,#ff8c00 106.2%,#ff8d00 107.0%,#ff9c00 108.5%,#ff9c00 109.2%,#ff8b00 110.8%,#ff8c00 111.5%,#ff9d00 113.0%,#ff9c00 113.8%,#ff8b00 115.2%,#ff8a00 115.8%,#ff9200 116.5%,#ff9e00 117.5%,#ff9e00 118.0%,#ff9700 118.8%,#ff8a00 119.8%,#ff8900 120.2%,#ff9100 121.0%,#ff9f00 122.0%,#ff9f00 122.5%,#ff9700 123.2%,#ff8900 124.2%,#ff8900 124.8%,#ff9100 125.5%,#ff9d00 126.2%,#ffa000 126.8%,#ff9e00 127.2%,#ff8800 128.8%,#ff8800 129.2%,#ff9100 130.0%,#ff9e00 130.8%,#ffa100 131.2%,#ff9f00 131.8%,#ff8a00 133.0%,#ff8600 133.5%,#ff8900 134.0%,#ff9e00 135.2%,#ffa200 135.8%,#ffa000 136.2%,#ff8900 137.5%,#ff8500 138.0%,#ff8800 138.5%,#ff9f00 139.8%,#ffa400 140.2%,#ffa100 140.8%,#ff8900 142.0%,#ff8500 142.5%,#ff9600 142.8%,#ff9d00 144.8%,#ff9800 145.8%,#ff8800 147.5%,#ff8700 148.2%,#ff8b00 149.0%,#ff9900 150.0%,#ffc700 152.2%,#ffce00 153.0%,#ffcd00 153.5%,#ffc200 154.2%,#ffa300 155.5%,#ff5600 158.2%,#ff4700 159.0%,#ff4400 159.5%,#ff4600 160.0%,#ff4e00 160.5%,#ff6300 161.2%,#ff9300 162.8%,#ffa500 163.5%,#ffb000 164.2%,#ffb800 165.2%,#ffb700 166.2%,#ffac00 168.0%,#ff9b00 170.2%,#ff9500 172.5%,#ff9400 320.0%);-webkit-mask-image:conic-gradient(from 0deg at 0.5px 206.50px,transparent 22.56deg,#000 29.11deg);mask-image:conic-gradient(from 0deg at 0.5px 206.50px,transparent 22.56deg,#000 29.11deg);"></div>
<div class="ax" style="left:393px;top:857px;width:234px;height:207px;background:radial-gradient(ellipse 106.90px 93.65px at 0.5px 206.50px,#ff9500 0.0%,#ff9300 3.2%,#ff9600 5.2%,#ff9200 7.5%,#ff9600 9.8%,#ff9200 12.0%,#ff9600 14.2%,#ff9200 16.5%,#ff9600 18.8%,#ff9200 21.0%,#ff9600 23.2%,#ff9100 25.2%,#ff9700 27.8%,#ff9100 29.8%,#ff9700 32.0%,#ff9100 34.2%,#ff9700 36.5%,#ff9100 38.8%,#ff9700 41.0%,#ff9100 43.2%,#ff9800 45.5%,#ff9000 47.8%,#ff9800 50.0%,#ff9000 52.2%,#ff9800 54.5%,#ff9000 56.8%,#ff9900 59.0%,#ff8f00 61.2%,#ff9500 62.5%,#ff9900 63.5%,#ff9300 64.8%,#ff8f00 65.8%,#ff9500 67.0%,#ff9900 68.0%,#ff9500 69.0%,#ff8f00 70.0%,#ff9000 70.8%,#ff9900 72.2%,#ff9800 73.0%,#ff8e00 74.5%,#ff9000 75.2%,#ff9a00 76.8%,#ff9900 77.5%,#ff8e00 79.0%,#ff8f00 79.8%,#ff9a00 81.2%,#ff9900 82.0%,#ff8d00 83.5%,#ff8f00 84.2%,#ff9b00 85.8%,#ff9900 86.5%,#ff8d00 88.0%,#ff8f00 88.8%,#ff9b00 90.2%,#ff9a00 91.0%,#ff8c00 92.5%,#ff8e00 93.2%,#ff9c00 94.8%,#ff9a00 95.5%,#ff8c00 97.0%,#ff8e00 97.8%,#ff9b00 99.0%,#ff9c00 99.8%,#ff8b00 101.5%,#ff8d00 102.2%,#ff9c00 103.5%,#ff9d00 104.2%,#ff9200 105.2%,#ff8a00 106.0%,#ff8d00 106.8%,#ff9c00 108.0%,#ff9e00 108.5%,#ff9900 109.2%,#ff8b00 110.2%,#ff8900 110.8%,#ff8f00 111.5%,#ff9d00 112.5%,#ff9f00 113.0%,#ff9900 113.8%,#ff8b00 114.8%,#ff8800 115.2%,#ff8b00 115.8%,#ff9e00 117.0%,#ffa000 117.5%,#ff9d00 118.0%,#ff8a00 119.2%,#ff8700 119.8%,#ff8b00 120.2%,#ff9e00 121.5%,#ffa100 122.0%,#ff9e00 122.5%,#ff8900 123.8%,#ff8600 124.2%,#ff8a00 124.8%,#ff9f00 126.0%,#ffa200 126.5%,#ff9e00 127.0%,#ff8800 128.2%,#ff8500 128.8%,#ff8900 129.2%,#ffa000 130.5%,#ffa300 131.0%,#ff9f00 131.5%,#ff8800 132.8%,#ff8400 133.2%,#ff8800 133.8%,#ffa100 135.0%,#ffa400 135.5%,#ffa000 136.0%,#ff8700 137.2%,#ff8300 137.8%,#ff8700 138.2%,#ffa200 139.5%,#ffa600 140.0%,#ffa100 140.5%,#ff8700 141.8%,#ff8400 142.0%,#ff9600 142.2%,#ffa000 144.2%,#ff9e00 145.0%,#ff9200 146.0%,#ff8300 147.2%,#ff8200 148.0%,#ff8900 148.8%,#ff9d00 149.8%,#ffc900 151.2%,#ffdd00 152.0%,#ffe400 152.5%,#ffe500 153.0%,#ffde00 153.5%,#ffca00 154.2%,#ff7f00 156.2%,#ff3a00 158.0%,#ff2c00 158.5%,#ff2400 159.0%,#ff2400 159.5%,#ff2d00 160.0%,#ff3d00 160.5%,#ff8800 162.2%,#ffa200 163.0%,#ffb300 163.8%,#ffbd00 164.5%,#ffc000 165.5%,#ffba00 166.8%,#ffa000 169.5%,#ff9700 171.2%,#ff9400 175.0%,#ff9400 320.0%);-webkit-mask-image:conic-gradient(from 0deg at 0.5px 206.50px,transparent 29.11deg,#000 35.50deg);mask-image:conic-gradient(from 0deg at 0.5px 206.50px,transparent 29.11deg,#000 35.50deg);"></div>
<div class="ax" style="left:393px;top:857px;width:234px;height:207px;background:radial-gradient(ellipse 106.90px 93.65px at 0.5px 206.50px,#ff9600 0.0%,#ff9200 3.0%,#ff9600 5.0%,#ff9200 7.2%,#ff9600 9.5%,#ff9200 11.8%,#ff9600 14.0%,#ff9200 16.2%,#ff9700 18.5%,#ff9100 20.8%,#ff9700 23.0%,#ff9100 25.2%,#ff9700 27.5%,#ff9100 29.8%,#ff9700 32.0%,#ff9100 34.0%,#ff9700 36.5%,#ff9000 38.5%,#ff9600 40.0%,#ff9800 41.0%,#ff9000 43.0%,#ff9400 44.2%,#ff9800 45.5%,#ff9000 47.5%,#ff9400 48.8%,#ff9800 49.8%,#ff9400 51.0%,#ff8f00 52.0%,#ff9300 53.0%,#ff9900 54.2%,#ff9500 55.2%,#ff8f00 56.5%,#ff9300 57.5%,#ff9900 58.8%,#ff9500 59.8%,#ff8f00 61.0%,#ff9300 62.0%,#ff9a00 63.2%,#ff9600 64.2%,#ff8e00 65.5%,#ff9300 66.5%,#ff9900 67.5%,#ff9900 68.2%,#ff8e00 69.8%,#ff8f00 70.5%,#ff9a00 72.0%,#ff9900 72.8%,#ff8e00 74.2%,#ff8e00 75.0%,#ff9a00 76.5%,#ff9a00 77.2%,#ff8e00 78.8%,#ff8e00 79.5%,#ff9b00 81.0%,#ff9a00 81.8%,#ff8d00 83.2%,#ff8e00 84.0%,#ff9b00 85.5%,#ff9b00 86.2%,#ff8c00 87.8%,#ff8d00 88.5%,#ff9c00 90.0%,#ff9b00 90.8%,#ff8c00 92.2%,#ff8d00 93.0%,#ff9d00 94.5%,#ff9c00 95.2%,#ff8b00 96.8%,#ff8c00 97.5%,#ff9d00 99.0%,#ff9e00 99.5%,#ff9700 100.2%,#ff8b00 101.2%,#ff8a00 101.8%,#ff9100 102.5%,#ff9e00 103.5%,#ff9f00 104.0%,#ff9700 104.8%,#ff8a00 105.8%,#ff8900 106.2%,#ff9100 107.0%,#ff9f00 108.0%,#ff9f00 108.5%,#ff9700 109.2%,#ff8900 110.2%,#ff8800 110.8%,#ff9100 111.5%,#ff9f00 112.5%,#ffa000 113.0%,#ff9700 113.8%,#ff8b00 114.5%,#ff8700 115.0%,#ff8900 115.5%,#ffa000 117.0%,#ffa100 117.5%,#ff9c00 118.0%,#ff8a00 119.0%,#ff8600 119.5%,#ff8800 120.0%,#ffa100 121.5%,#ffa200 122.0%,#ff9d00 122.5%,#ff8900 123.5%,#ff8500 124.0%,#ff8700 124.5%,#ff9f00 125.8%,#ffa400 126.2%,#ffa100 126.8%,#ff8900 128.0%,#ff8400 128.5%,#ff8600 129.0%,#ffa000 130.2%,#ffa500 130.8%,#ffa200 131.2%,#ff9300 132.0%,#ff8800 132.5%,#ff8200 133.0%,#ff8500 133.5%,#ff9600 134.2%,#ffa100 134.8%,#ffa600 135.2%,#ffa300 135.8%,#ff9300 136.5%,#ff8700 137.0%,#ff8100 137.5%,#ff8400 138.0%,#ff9600 138.8%,#ffa200 139.2%,#ffa800 139.8%,#ffa500 140.2%,#ff9300 141.0%,#ff8700 141.5%,#ff8300 141.8%,#ff8200 142.0%,#ff9800 142.2%,#ffa400 144.0%,#ffa200 144.8%,#ff9800 145.5%,#ff8200 146.8%,#ff7b00 147.5%,#ff7d00 148.0%,#ff8900 148.8%,#ff9d00 149.5%,#ffc100 150.5%,#ffe800 151.5%,#fff700 152.0%,#fffe00 152.5%,#fffc00 153.0%,#fff100 153.5%,#ffdf00 154.0%,#ffb000 155.0%,#ff5600 156.8%,#ff2200 157.8%,#ff0e00 158.2%,#ff0200 158.8%,#ff0000 159.2%,#ff0300 159.5%,#ff0900 159.8%,#ff1c00 160.2%,#ff4400 161.0%,#ff7c00 162.0%,#ff9e00 162.8%,#ffb500 163.5%,#ffc200 164.2%,#ffc800 165.0%,#ffc600 166.0%,#ffb600 167.5%,#ffa000 169.5%,#ff9700 171.2%,#ff9400 174.8%,#ff9400 320.0%);-webkit-mask-image:conic-gradient(from 0deg at 0.5px 206.50px,transparent 35.50deg,#000 41.73deg);mask-image:conic-gradient(from 0deg at 0.5px 206.50px,transparent 35.50deg,#000 41.73deg);"></div>
<div class="ax" style="left:393px;top:857px;width:234px;height:207px;background:radial-gradient(ellipse 106.90px 93.65px at 0.5px 206.50px,#ff9600 0.0%,#ff9200 2.8%,#ff9600 5.0%,#ff9200 7.2%,#ff9600 9.5%,#ff9200 11.8%,#ff9700 14.0%,#ff9100 16.0%,#ff9700 18.5%,#ff9100 20.5%,#ff9700 22.8%,#ff9100 25.0%,#ff9800 27.2%,#ff9000 29.5%,#ff9800 31.8%,#ff9000 34.0%,#ff9800 36.2%,#ff9000 38.5%,#ff9600 40.0%,#ff9800 41.0%,#ff9000 43.0%,#ff9500 44.2%,#ff9900 45.2%,#ff9300 46.5%,#ff8f00 47.5%,#ff9300 48.5%,#ff9900 49.8%,#ff9500 50.8%,#ff8f00 52.0%,#ff9300 53.0%,#ff9900 54.0%,#ff9800 54.8%,#ff8f00 56.2%,#ff9000 57.0%,#ff9a00 58.5%,#ff9900 59.2%,#ff8e00 60.8%,#ff8f00 61.5%,#ff9a00 63.0%,#ff9900 63.8%,#ff8e00 65.2%,#ff8f00 66.0%,#ff9a00 67.5%,#ff9900 68.2%,#ff8d00 69.8%,#ff8e00 70.5%,#ff9b00 72.0%,#ff9a00 72.8%,#ff8d00 74.2%,#ff8e00 75.0%,#ff9b00 76.5%,#ff9a00 77.2%,#ff8c00 78.8%,#ff8e00 79.5%,#ff9c00 81.0%,#ff9b00 81.8%,#ff8c00 83.2%,#ff8d00 84.0%,#ff9d00 85.5%,#ff9b00 86.2%,#ff8b00 87.8%,#ff8d00 88.5%,#ff9d00 90.0%,#ff9c00 90.8%,#ff8a00 92.2%,#ff8a00 92.8%,#ff9200 93.5%,#ff9e00 94.5%,#ff9e00 95.0%,#ff9600 95.8%,#ff8a00 96.8%,#ff8900 97.2%,#ff9200 98.0%,#ff9d00 98.8%,#ffa000 99.2%,#ff9d00 99.8%,#ff8b00 101.0%,#ff8800 101.5%,#ff8b00 102.0%,#ff9d00 103.2%,#ffa100 103.8%,#ff9e00 104.2%,#ff8a00 105.5%,#ff8700 106.0%,#ff8a00 106.5%,#ff9e00 107.8%,#ffa100 108.2%,#ff9f00 108.8%,#ff8a00 110.0%,#ff8600 110.5%,#ff8900 111.0%,#ff9f00 112.2%,#ffa300 112.8%,#ff9f00 113.2%,#ff8900 114.5%,#ff8500 115.0%,#ff8800 115.5%,#ffa000 116.8%,#ffa400 117.2%,#ffa000 117.8%,#ff8800 119.0%,#ff8400 119.5%,#ff8700 120.0%,#ffa100 121.2%,#ffa500 121.8%,#ffa100 122.2%,#ff8700 123.5%,#ff8300 124.0%,#ff8600 124.5%,#ffa200 125.8%,#ffa600 126.2%,#ffa200 126.8%,#ff8600 128.0%,#ff8100 128.5%,#ff8500 129.0%,#ffa300 130.2%,#ffa800 130.8%,#ffa300 131.2%,#ff8500 132.5%,#ff8000 133.0%,#ff8400 133.5%,#ffa400 134.8%,#ffa900 135.2%,#ffa800 135.5%,#ff9f00 136.0%,#ff8400 137.0%,#ff8000 137.2%,#ff7e00 137.5%,#ff7f00 137.8%,#ff8900 138.2%,#ffa500 139.2%,#ffa900 139.5%,#ffab00 139.8%,#ffaa00 140.0%,#ffa000 140.5%,#ff8a00 141.2%,#ff8000 141.8%,#ff8000 142.0%,#ff9900 142.2%,#ffa900 144.0%,#ffa800 144.5%,#ff9e00 145.2%,#ff7b00 146.8%,#ff7500 147.2%,#ff7400 147.8%,#ff7b00 148.2%,#ff8700 148.8%,#ffa200 149.5%,#ffc400 150.2%,#fff800 151.2%,#ffff07 151.5%,#ffff16 151.8%,#ffff22 152.0%,#ffff2b 152.2%,#ffff2f 152.5%,#ffff2e 152.8%,#ffff29 153.0%,#ffff1f 153.2%,#ffff11 153.5%,#ffff00 153.8%,#ffe400 154.2%,#ff7300 156.0%,#ff0d00 157.5%,#fc0000 157.8%,#e30000 158.2%,#da0000 158.5%,#d40000 158.8%,#d20000 159.0%,#d30000 159.2%,#d80000 159.5%,#e00000 159.8%,#eb0000 160.0%,#f90000 160.2%,#ff0a00 160.5%,#ff6500 161.8%,#ff8500 162.2%,#ff9f00 162.8%,#ffb300 163.2%,#ffc200 163.8%,#ffce00 164.5%,#ffd100 165.2%,#ffcc00 166.2%,#ffa500 169.2%,#ff9a00 170.8%,#ff9500 173.0%,#ff9400 320.0%);-webkit-mask-image:conic-gradient(from 0deg at 0.5px 206.50px,transparent 41.73deg,#000 48.78deg);mask-image:conic-gradient(from 0deg at 0.5px 206.50px,transparent 41.73deg,#000 48.78deg);"></div>
<div class="ax" style="left:393px;top:857px;width:234px;height:207px;background:radial-gradient(ellipse 106.90px 93.65px at 0.5px 206.50px,#ff9600 0.0%,#ff9300 1.8%,#ff9200 3.0%,#ff9700 4.8%,#ff9100 7.2%,#ff9700 9.2%,#ff9100 11.8%,#ff9700 13.8%,#ff9100 16.0%,#ff9700 18.2%,#ff9100 20.5%,#ff9800 22.8%,#ff9000 25.0%,#ff9800 27.2%,#ff9000 29.5%,#ff9800 31.8%,#ff9000 34.0%,#ff9500 35.2%,#ff9900 36.2%,#ff9300 37.5%,#ff8f00 38.5%,#ff9500 39.8%,#ff9900 40.8%,#ff9300 42.0%,#ff8f00 43.0%,#ff9300 44.0%,#ff9900 45.0%,#ff9700 46.0%,#ff8f00 47.2%,#ff9000 48.0%,#ff9900 49.5%,#ff9800 50.2%,#ff8f00 51.8%,#ff8f00 52.5%,#ff9a00 54.0%,#ff9900 54.8%,#ff8e00 56.2%,#ff8f00 57.0%,#ff9a00 58.5%,#ff9900 59.2%,#ff8e00 60.8%,#ff8f00 61.5%,#ff9b00 63.0%,#ff9a00 63.8%,#ff8d00 65.2%,#ff8e00 66.0%,#ff9b00 67.5%,#ff9a00 68.2%,#ff8d00 69.8%,#ff8e00 70.5%,#ff9c00 72.0%,#ff9a00 72.8%,#ff8c00 74.2%,#ff8d00 75.0%,#ff9c00 76.5%,#ff9b00 77.2%,#ff8b00 78.8%,#ff8d00 79.5%,#ff9d00 81.0%,#ff9b00 81.8%,#ff8b00 83.2%,#ff8c00 84.0%,#ff9c00 85.2%,#ff9e00 85.8%,#ff9900 86.5%,#ff8c00 87.5%,#ff8900 88.0%,#ff8f00 88.8%,#ff9d00 89.8%,#ff9f00 90.2%,#ff9d00 90.8%,#ff8b00 92.0%,#ff8800 92.5%,#ff8b00 93.0%,#ff9d00 94.2%,#ffa000 94.8%,#ff9d00 95.2%,#ff8b00 96.5%,#ff8800 97.0%,#ff8a00 97.5%,#ff9e00 98.8%,#ffa100 99.2%,#ff9e00 99.8%,#ff8a00 101.0%,#ff8700 101.5%,#ff8a00 102.0%,#ff9f00 103.2%,#ffa200 103.8%,#ff9f00 104.2%,#ff8900 105.5%,#ff8600 106.0%,#ff8900 106.5%,#ff9f00 107.8%,#ffa300 108.2%,#ffa000 108.8%,#ff8800 110.0%,#ff8400 110.5%,#ff8800 111.0%,#ffa000 112.2%,#ffa400 112.8%,#ffa100 113.2%,#ff8700 114.5%,#ff8300 115.0%,#ff8700 115.5%,#ffa100 116.8%,#ffa600 117.2%,#ffa200 117.8%,#ff8600 119.0%,#ff8200 119.5%,#ff8600 120.0%,#ffa200 121.2%,#ffa700 121.8%,#ffa300 122.2%,#ff8500 123.5%,#ff8000 124.0%,#ff8500 124.5%,#ffa400 125.8%,#ffa800 126.2%,#ffa400 126.8%,#ff8400 128.0%,#ff7f00 128.5%,#ff8000 128.8%,#ff8900 129.2%,#ffa500 130.2%,#ffa900 130.5%,#ffaa00 130.8%,#ffa900 131.0%,#ff9f00 131.5%,#ff8300 132.5%,#ff7f00 132.8%,#ff7d00 133.0%,#ff7f00 133.2%,#ff8800 133.8%,#ffa600 134.8%,#ffaa00 135.0%,#ffac00 135.2%,#ffaa00 135.5%,#ffa000 136.0%,#ff8100 137.0%,#ff7d00 137.2%,#ff7b00 137.5%,#ff7d00 137.8%,#ff8800 138.2%,#ffa700 139.2%,#ffac00 139.5%,#ffae00 139.8%,#ffac00 140.0%,#ffa100 140.5%,#ff8800 141.2%,#ff8200 141.5%,#ff7e00 141.8%,#ff7e00 142.0%,#ff9a00 142.2%,#ffac00 143.8%,#ffae00 144.2%,#ffaa00 144.8%,#ff9900 145.5%,#ff7600 146.8%,#ff6e00 147.2%,#ff6d00 147.8%,#ff7500 148.2%,#ff8400 148.8%,#ffa600 149.5%,#ffd000 150.2%,#ffff01 151.0%,#ffff2e 151.5%,#ffff40 151.8%,#ffff4f 152.0%,#ffff59 152.2%,#ffff5e 152.5%,#ffff5d 152.8%,#ffff56 153.0%,#ffff4a 153.2%,#ffff39 153.5%,#ffff24 153.8%,#ffff0c 154.0%,#fff500 154.2%,#ff7f00 155.8%,#ff0200 157.2%,#d90000 157.8%,#c80000 158.0%,#ba0000 158.2%,#af0000 158.5%,#a80000 158.8%,#a50000 159.0%,#a70000 159.2%,#ad0000 159.5%,#b70000 159.8%,#c50000 160.0%,#d60000 160.2%,#ff0000 160.8%,#ff5900 161.8%,#ff7f00 162.2%,#ff9f00 162.8%,#ffb600 163.2%,#ffc700 163.8%,#ffd200 164.2%,#ffd900 165.0%,#ffd800 165.8%,#ffcd00 166.8%,#ffaa00 169.0%,#ff9d00 170.2%,#ff9600 172.0%,#ff9400 179.2%,#ff9400 320.0%);-webkit-mask-image:conic-gradient(from 0deg at 0.5px 206.50px,transparent 48.78deg,#000 55.61deg);mask-image:conic-gradient(from 0deg at 0.5px 206.50px,transparent 48.78deg,#000 55.61deg);"></div>
<div class="ax" style="left:393px;top:857px;width:234px;height:207px;background:radial-gradient(ellipse 106.90px 93.65px at 0.5px 206.50px,#ff9700 0.0%,#ff9400 1.5%,#ff9100 2.8%,#ff9700 4.8%,#ff9100 7.0%,#ff9700 9.2%,#ff9100 11.5%,#ff9800 13.8%,#ff9000 16.0%,#ff9800 18.2%,#ff9000 20.5%,#ff9800 22.8%,#ff9000 25.0%,#ff9800 27.2%,#ff9300 28.5%,#ff9000 29.5%,#ff9500 30.8%,#ff9900 31.8%,#ff9300 33.0%,#ff8f00 34.0%,#ff9500 35.2%,#ff9900 36.2%,#ff9500 37.2%,#ff8f00 38.2%,#ff9100 39.2%,#ff9900 40.5%,#ff9800 41.2%,#ff8f00 42.8%,#ff9000 43.5%,#ff9a00 45.0%,#ff9900 45.8%,#ff8e00 47.2%,#ff8f00 48.0%,#ff9a00 49.5%,#ff9900 50.2%,#ff8e00 51.8%,#ff8f00 52.5%,#ff9a00 54.0%,#ff9900 54.8%,#ff8d00 56.2%,#ff8f00 57.0%,#ff9b00 58.5%,#ff9a00 59.2%,#ff8d00 60.8%,#ff8e00 61.5%,#ff9c00 63.0%,#ff9a00 63.8%,#ff8c00 65.2%,#ff8e00 66.0%,#ff9c00 67.5%,#ff9b00 68.2%,#ff8c00 69.8%,#ff8d00 70.5%,#ff9d00 72.0%,#ff9b00 72.8%,#ff8b00 74.2%,#ff8d00 75.0%,#ff9d00 76.5%,#ff9c00 77.2%,#ff8c00 78.5%,#ff8a00 79.0%,#ff8f00 79.8%,#ff9c00 80.8%,#ff9f00 81.2%,#ff9900 82.0%,#ff8c00 83.0%,#ff8900 83.5%,#ff8b00 84.0%,#ff9d00 85.2%,#ffa000 85.8%,#ff9d00 86.2%,#ff8b00 87.5%,#ff8800 88.0%,#ff8b00 88.5%,#ff9e00 89.8%,#ffa100 90.2%,#ff9e00 90.8%,#ff8a00 92.0%,#ff8700 92.5%,#ff8a00 93.0%,#ff9e00 94.2%,#ffa200 94.8%,#ff9e00 95.2%,#ff8900 96.5%,#ff8600 97.0%,#ff8900 97.5%,#ff9f00 98.8%,#ffa300 99.2%,#ff9f00 99.8%,#ff8900 101.0%,#ff8500 101.5%,#ff8800 102.0%,#ffa000 103.2%,#ffa400 103.8%,#ffa000 104.2%,#ff8800 105.5%,#ff8400 106.0%,#ff8800 106.5%,#ffa100 107.8%,#ffa500 108.2%,#ffa100 108.8%,#ff8700 110.0%,#ff8300 110.5%,#ff8700 111.0%,#ffa200 112.2%,#ffa600 112.8%,#ffa200 113.2%,#ff8600 114.5%,#ff8100 115.0%,#ff8500 115.5%,#ffa300 116.8%,#ffa800 117.2%,#ffa300 117.8%,#ff8500 119.0%,#ff8000 119.5%,#ff8400 120.0%,#ffa400 121.2%,#ffa900 121.8%,#ffa800 122.0%,#ff9f00 122.5%,#ff8300 123.5%,#ff8000 123.8%,#ff7e00 124.0%,#ff7f00 124.2%,#ff8900 124.8%,#ffa500 125.8%,#ffa900 126.0%,#ffab00 126.2%,#ffaa00 126.5%,#ffa000 127.0%,#ff8200 128.0%,#ff7e00 128.2%,#ff7c00 128.5%,#ff7e00 128.8%,#ff8800 129.2%,#ffa700 130.2%,#ffab00 130.5%,#ffad00 130.8%,#ffab00 131.0%,#ffa000 131.5%,#ff8100 132.5%,#ff7c00 132.8%,#ff7b00 133.0%,#ff7c00 133.2%,#ff8000 133.5%,#ff9000 134.0%,#ffa800 134.8%,#ffad00 135.0%,#ffae00 135.2%,#ffad00 135.5%,#ffa800 135.8%,#ff9900 136.2%,#ff8600 136.8%,#ff7f00 137.0%,#ff7a00 137.2%,#ff7900 137.5%,#ff7a00 137.8%,#ff7f00 138.0%,#ff8f00 138.5%,#ffa200 139.0%,#ffaa00 139.2%,#ffaf00 139.5%,#ffb100 139.8%,#ffaf00 140.0%,#ffaa00 140.2%,#ff9900 140.8%,#ff8700 141.2%,#ff8000 141.5%,#ff7c00 141.8%,#ff7c00 142.0%,#ff9c00 142.2%,#ffb100 143.8%,#ffb300 144.2%,#ffae00 144.8%,#ffa200 145.2%,#ff6f00 146.8%,#ff6600 147.2%,#ff6400 147.5%,#ff6500 147.8%,#ff6900 148.0%,#ff7700 148.5%,#ff8d00 149.0%,#ffa900 149.5%,#ffdc00 150.2%,#ffef00 150.5%,#ffff05 150.8%,#ffff3d 151.2%,#ffff57 151.5%,#ffff6d 151.8%,#ffff7f 152.0%,#ffff8b 152.2%,#ffff90 152.5%,#ffff8f 152.8%,#ffff87 153.0%,#ffff78 153.2%,#ffff64 153.5%,#ffff4b 153.8%,#ffff2e 154.0%,#ffff0e 154.2%,#fff200 154.5%,#ff6300 156.0%,#ff1700 156.8%,#fd0000 157.0%,#cb0000 157.5%,#b40000 157.8%,#a00000 158.0%,#8f0000 158.2%,#820000 158.5%,#790000 158.8%,#760000 159.0%,#770000 159.2%,#7e0000 159.5%,#8a0000 159.8%,#9b0000 160.0%,#af0000 160.2%,#e00000 160.8%,#fb0000 161.0%,#ff1700 161.2%,#ff4a00 161.8%,#ff7800 162.2%,#ff9d00 162.8%,#ffb900 163.2%,#ffcd00 163.8%,#ffd900 164.2%,#ffe000 164.8%,#ffe200 165.5%,#ffdb00 166.2%,#ffc200 167.8%,#ffa900 169.2%,#ff9d00 170.5%,#ff9600 172.2%,#ff9400 183.0%,#ff9400 320.0%);-webkit-mask-image:conic-gradient(from 0deg at 0.5px 206.50px,transparent 55.61deg,#000 63.17deg);mask-image:conic-gradient(from 0deg at 0.5px 206.50px,transparent 55.61deg,#000 63.17deg);"></div>
<div class="ax" style="left:393px;top:857px;width:234px;height:207px;background:radial-gradient(ellipse 106.90px 93.65px at 0.5px 206.50px,#ff9700 0.0%,#ff9500 1.2%,#ff9100 2.8%,#ff9700 4.8%,#ff9100 7.0%,#ff9800 9.2%,#ff9000 11.5%,#ff9800 13.8%,#ff9000 16.0%,#ff9800 18.2%,#ff9000 20.5%,#ff9600 22.0%,#ff9800 23.0%,#ff8f00 25.0%,#ff9500 26.2%,#ff9900 27.2%,#ff9300 28.5%,#ff8f00 29.5%,#ff9300 30.5%,#ff9900 31.8%,#ff9500 32.8%,#ff8f00 33.8%,#ff9000 34.5%,#ff9900 36.0%,#ff9800 36.8%,#ff8f00 38.2%,#ff9000 39.0%,#ff9a00 40.5%,#ff9900 41.2%,#ff8e00 42.8%,#ff8f00 43.5%,#ff9a00 45.0%,#ff9900 45.8%,#ff8e00 47.2%,#ff8f00 48.0%,#ff9b00 49.5%,#ff9900 50.2%,#ff8d00 51.8%,#ff8e00 52.5%,#ff9b00 54.0%,#ff9a00 54.8%,#ff8d00 56.2%,#ff8e00 57.0%,#ff9c00 58.5%,#ff9a00 59.2%,#ff8c00 60.8%,#ff8d00 61.5%,#ff9c00 63.0%,#ff9b00 63.8%,#ff8b00 65.2%,#ff8d00 66.0%,#ff9d00 67.5%,#ff9b00 68.2%,#ff8b00 69.8%,#ff8c00 70.5%,#ff9c00 71.8%,#ff9e00 72.2%,#ff9900 73.0%,#ff8c00 74.0%,#ff8900 74.5%,#ff8f00 75.2%,#ff9c00 76.2%,#ff9f00 76.8%,#ff9a00 77.5%,#ff8b00 78.5%,#ff8900 79.0%,#ff8b00 79.5%,#ff9d00 80.8%,#ffa000 81.2%,#ff9d00 81.8%,#ff8b00 83.0%,#ff8800 83.5%,#ff8a00 84.0%,#ff9e00 85.2%,#ffa100 85.8%,#ff9e00 86.2%,#ff8a00 87.5%,#ff8700 88.0%,#ff8a00 88.5%,#ff9f00 89.8%,#ffa200 90.2%,#ff9f00 90.8%,#ff8900 92.0%,#ff8600 92.5%,#ff8900 93.0%,#ff9f00 94.2%,#ffa300 94.8%,#ffa000 95.2%,#ff8800 96.5%,#ff8500 97.0%,#ff8800 97.5%,#ffa000 98.8%,#ffa400 99.2%,#ffa000 99.8%,#ff8700 101.0%,#ff8300 101.5%,#ff8700 102.0%,#ffa100 103.2%,#ffa500 103.8%,#ffa100 104.2%,#ff8600 105.5%,#ff8200 106.0%,#ff8600 106.5%,#ffa200 107.8%,#ffa700 108.2%,#ffa200 108.8%,#ff8500 110.0%,#ff8100 110.5%,#ff8500 111.0%,#ffa300 112.2%,#ffa800 112.8%,#ffa400 113.2%,#ff8400 114.5%,#ff7f00 115.0%,#ff8400 115.5%,#ffa500 116.8%,#ffa800 117.0%,#ffaa00 117.2%,#ffa900 117.5%,#ff9f00 118.0%,#ff8300 119.0%,#ff7f00 119.2%,#ff7e00 119.5%,#ff7f00 119.8%,#ff8900 120.2%,#ffa600 121.2%,#ffaa00 121.5%,#ffab00 121.8%,#ffaa00 122.0%,#ffa000 122.5%,#ff8200 123.5%,#ff7d00 123.8%,#ff7c00 124.0%,#ff7d00 124.2%,#ff8800 124.8%,#ffa700 125.8%,#ffac00 126.0%,#ffad00 126.2%,#ffac00 126.5%,#ffa100 127.0%,#ff8700 127.8%,#ff7c00 128.2%,#ff7a00 128.5%,#ff7b00 128.8%,#ff8000 129.0%,#ff8f00 129.5%,#ffa900 130.2%,#ffad00 130.5%,#ffaf00 130.8%,#ffae00 131.0%,#ffa900 131.2%,#ff9900 131.8%,#ff8600 132.2%,#ff7f00 132.5%,#ff7a00 132.8%,#ff7800 133.0%,#ff7900 133.2%,#ff7e00 133.5%,#ff8f00 134.0%,#ffa300 134.5%,#ffaa00 134.8%,#ffaf00 135.0%,#ffb100 135.2%,#ffb000 135.5%,#ffab00 135.8%,#ff9900 136.2%,#ff8500 136.8%,#ff7d00 137.0%,#ff7800 137.2%,#ff7600 137.5%,#ff7700 137.8%,#ff7d00 138.0%,#ff8f00 138.5%,#ffa400 139.0%,#ffac00 139.2%,#ffb200 139.5%,#ffb400 139.8%,#ffb200 140.0%,#ffad00 140.2%,#ff9a00 140.8%,#ff8500 141.2%,#ff7e00 141.5%,#ff7900 141.8%,#ff7900 142.0%,#ff9d00 142.2%,#ffb600 143.8%,#ffb800 144.2%,#ffb200 144.8%,#ffa400 145.2%,#ff7200 146.5%,#ff6200 147.0%,#ff5e00 147.2%,#ff5c00 147.5%,#ff5d00 147.8%,#ff6200 148.0%,#ff6900 148.2%,#ff7e00 148.8%,#ff9c00 149.2%,#ffbf00 149.8%,#fffe00 150.5%,#ffff63 151.2%,#ffff81 151.5%,#ffff9b 151.8%,#ffffaf 152.0%,#ffffbd 152.2%,#ffffc4 152.5%,#ffffc3 152.8%,#ffffb9 153.0%,#ffffa8 153.2%,#ffff90 153.5%,#ffff73 153.8%,#ffff51 154.0%,#ffff04 154.5%,#ffe700 154.8%,#ff5a00 156.0%,#ff0200 156.8%,#c50000 157.2%,#8e0000 157.8%,#760000 158.0%,#620000 158.2%,#530000 158.5%,#490000 158.8%,#450000 159.0%,#470000 159.2%,#4f0000 159.5%,#5d0000 159.8%,#700000 160.0%,#880000 160.2%,#a30000 160.5%,#ff0000 161.2%,#ff3c00 161.8%,#ff7000 162.2%,#ff8700 162.5%,#ff9b00 162.8%,#ffad00 163.0%,#ffbb00 163.2%,#ffd200 163.8%,#ffe100 164.2%,#ffe800 164.8%,#ffea00 165.5%,#ffe300 166.2%,#ffcc00 167.5%,#ffaf00 169.0%,#ffa000 170.2%,#ff9700 171.8%,#ff9400 175.2%,#ff9400 320.0%);-webkit-mask-image:conic-gradient(from 0deg at 0.5px 206.50px,transparent 63.17deg,#000 72.31deg);mask-image:conic-gradient(from 0deg at 0.5px 206.50px,transparent 63.17deg,#000 72.31deg);"></div>
<div class="ax" style="left:393px;top:857px;width:234px;height:207px;background:radial-gradient(ellipse 106.90px 93.65px at 0.5px 206.50px,#ff9700 0.0%,#ff9500 1.2%,#ff9100 2.5%,#ff9800 4.8%,#ff9000 7.0%,#ff9800 9.2%,#ff9000 11.5%,#ff9800 13.8%,#ff9000 16.0%,#ff9600 17.5%,#ff9800 18.5%,#ff8f00 20.5%,#ff9500 21.8%,#ff9900 22.8%,#ff9300 24.0%,#ff8f00 25.0%,#ff9300 26.0%,#ff9900 27.2%,#ff9500 28.2%,#ff8f00 29.2%,#ff9100 30.2%,#ff9900 31.5%,#ff9800 32.2%,#ff8f00 33.8%,#ff9000 34.5%,#ff9a00 36.0%,#ff9900 36.8%,#ff8e00 38.2%,#ff8f00 39.0%,#ff9a00 40.5%,#ff9900 41.2%,#ff8e00 42.8%,#ff8f00 43.5%,#ff9b00 45.0%,#ff9900 45.8%,#ff8d00 47.2%,#ff8e00 48.0%,#ff9b00 49.5%,#ff9a00 50.2%,#ff8d00 51.8%,#ff8e00 52.5%,#ff9c00 54.0%,#ff9a00 54.8%,#ff8c00 56.2%,#ff8e00 57.0%,#ff9c00 58.5%,#ff9b00 59.2%,#ff8c00 60.8%,#ff8d00 61.5%,#ff9d00 63.0%,#ff9b00 63.8%,#ff8b00 65.2%,#ff8d00 66.0%,#ff9e00 67.5%,#ff9e00 68.0%,#ff9600 68.8%,#ff8a00 69.8%,#ff8a00 70.2%,#ff9200 71.0%,#ff9c00 71.8%,#ff9f00 72.2%,#ff9a00 73.0%,#ff8b00 74.0%,#ff8900 74.5%,#ff8b00 75.0%,#ff9d00 76.2%,#ffa000 76.8%,#ff9d00 77.2%,#ff8b00 78.5%,#ff8800 79.0%,#ff8b00 79.5%,#ff9e00 80.8%,#ffa100 81.2%,#ff9e00 81.8%,#ff8a00 83.0%,#ff8700 83.5%,#ff8a00 84.0%,#ff9e00 85.2%,#ffa200 85.8%,#ff9f00 86.2%,#ff8900 87.5%,#ff8600 88.0%,#ff8900 88.5%,#ff9f00 89.8%,#ffa300 90.2%,#ff9f00 90.8%,#ff8800 92.0%,#ff8500 92.5%,#ff8800 93.0%,#ffa000 94.2%,#ffa400 94.8%,#ffa000 95.2%,#ff8800 96.5%,#ff8400 97.0%,#ff8700 97.5%,#ffa100 98.8%,#ffa500 99.2%,#ffa100 99.8%,#ff8700 101.0%,#ff8200 101.5%,#ff8600 102.0%,#ffa200 103.2%,#ffa600 103.8%,#ffa200 104.2%,#ff8600 105.5%,#ff8100 106.0%,#ff8500 106.5%,#ffa300 107.8%,#ffa800 108.2%,#ffa300 108.8%,#ff8400 110.0%,#ff7f00 110.5%,#ff8400 111.0%,#ffa400 112.2%,#ffa900 112.8%,#ffa800 113.0%,#ff9f00 113.5%,#ff8300 114.5%,#ff7f00 114.8%,#ff7e00 115.0%,#ff7f00 115.2%,#ff8900 115.8%,#ffa600 116.8%,#ffaa00 117.0%,#ffab00 117.2%,#ffaa00 117.5%,#ffa000 118.0%,#ff8200 119.0%,#ff7e00 119.2%,#ff7c00 119.5%,#ff7d00 119.8%,#ff8800 120.2%,#ffa700 121.2%,#ffab00 121.5%,#ffad00 121.8%,#ffac00 122.0%,#ffa100 122.5%,#ff8000 123.5%,#ff7c00 123.8%,#ff7a00 124.0%,#ff7c00 124.2%,#ff8000 124.5%,#ff8f00 125.0%,#ffa800 125.8%,#ffad00 126.0%,#ffaf00 126.2%,#ffad00 126.5%,#ffa900 126.8%,#ff9900 127.2%,#ff8600 127.8%,#ff7f00 128.0%,#ff7a00 128.2%,#ff7800 128.5%,#ff7a00 128.8%,#ff7f00 129.0%,#ff8f00 129.5%,#ffa200 130.0%,#ffaa00 130.2%,#ffaf00 130.5%,#ffb100 130.8%,#ffaf00 131.0%,#ffaa00 131.2%,#ff9900 131.8%,#ff8500 132.2%,#ff7d00 132.5%,#ff7800 132.8%,#ff7600 133.0%,#ff7800 133.2%,#ff7d00 133.5%,#ff8f00 134.0%,#ffa300 134.5%,#ffac00 134.8%,#ffb100 135.0%,#ffb300 135.2%,#ffb100 135.5%,#ffac00 135.8%,#ff9a00 136.2%,#ff8400 136.8%,#ff7b00 137.0%,#ff7600 137.2%,#ff7400 137.5%,#ff7600 137.8%,#ff7b00 138.0%,#ff8e00 138.5%,#ffa500 139.0%,#ffae00 139.2%,#ffb400 139.5%,#ffb600 139.8%,#ffb400 140.0%,#ffae00 140.2%,#ff9b00 140.8%,#ff8400 141.2%,#ff7c00 141.5%,#ff7800 141.8%,#ff7800 142.0%,#ff9e00 142.2%,#ffb900 143.8%,#ffbc00 144.2%,#ffb500 144.8%,#ffa600 145.2%,#ff6f00 146.5%,#ff5e00 147.0%,#ff5900 147.2%,#ff5700 147.5%,#ff5800 147.8%,#ff5d00 148.0%,#ff6400 148.2%,#ff6f00 148.5%,#ff8b00 149.0%,#ffaf00 149.5%,#ffd900 150.0%,#fff000 150.2%,#ffff0e 150.5%,#ffff7c 151.2%,#ffff9d 151.5%,#ffffb9 151.8%,#ffffcf 152.0%,#ffffdf 152.2%,#ffffe6 152.5%,#ffffe4 152.8%,#ffffda 153.0%,#ffffc7 153.2%,#ffffad 153.5%,#ffff8d 153.8%,#ffff68 154.0%,#ffff14 154.5%,#ffee00 154.8%,#ff5500 156.0%,#ff1500 156.5%,#f30000 156.8%,#930000 157.5%,#750000 157.8%,#5b0000 158.0%,#450000 158.2%,#340000 158.5%,#290000 158.8%,#250000 159.0%,#270000 159.2%,#300000 159.5%,#3f0000 159.8%,#540000 160.0%,#6e0000 160.2%,#8b0000 160.5%,#ef0000 161.2%,#ff1200 161.5%,#ff5000 162.0%,#ff6b00 162.2%,#ff8400 162.5%,#ff9a00 162.8%,#ffad00 163.0%,#ffbd00 163.2%,#ffca00 163.5%,#ffde00 164.0%,#ffea00 164.5%,#ffef00 165.0%,#ffee00 165.8%,#ffe400 166.5%,#ffb100 169.0%,#ffa000 170.2%,#ff9700 171.8%,#ff9400 175.0%,#ff9400 320.0%);-webkit-mask-image:conic-gradient(from 0deg at 0.5px 206.50px,transparent 72.31deg,#000 81.22deg);mask-image:conic-gradient(from 0deg at 0.5px 206.50px,transparent 72.31deg,#000 81.22deg);"></div>
<div class="ax" style="left:393px;top:857px;width:234px;height:207px;background:radial-gradient(ellipse 106.90px 93.65px at 0.5px 206.50px,#ff9700 0.0%,#ff9500 1.2%,#ff9100 2.5%,#ff9800 4.8%,#ff9000 7.0%,#ff9800 9.2%,#ff9000 11.5%,#ff9800 13.8%,#ff9000 16.0%,#ff9500 17.2%,#ff9900 18.2%,#ff9300 19.5%,#ff8f00 20.5%,#ff9500 21.8%,#ff9900 22.8%,#ff9300 24.0%,#ff8f00 25.0%,#ff9300 26.0%,#ff9900 27.2%,#ff9500 28.2%,#ff8f00 29.2%,#ff9000 30.0%,#ff9900 31.5%,#ff9800 32.2%,#ff8f00 33.8%,#ff9000 34.5%,#ff9a00 36.0%,#ff9900 36.8%,#ff8e00 38.2%,#ff8f00 39.0%,#ff9a00 40.5%,#ff9900 41.2%,#ff8e00 42.8%,#ff8f00 43.5%,#ff9b00 45.0%,#ff9a00 45.8%,#ff8d00 47.2%,#ff8e00 48.0%,#ff9b00 49.5%,#ff9a00 50.2%,#ff8d00 51.8%,#ff8e00 52.5%,#ff9c00 54.0%,#ff9a00 54.8%,#ff8c00 56.2%,#ff8d00 57.0%,#ff9c00 58.5%,#ff9b00 59.2%,#ff8b00 60.8%,#ff8d00 61.5%,#ff9d00 63.0%,#ff9b00 63.8%,#ff8b00 65.2%,#ff8c00 66.0%,#ff9c00 67.2%,#ff9e00 67.8%,#ff9900 68.5%,#ff8c00 69.5%,#ff8900 70.0%,#ff8f00 70.8%,#ff9d00 71.8%,#ff9f00 72.2%,#ff9d00 72.8%,#ff8b00 74.0%,#ff8800 74.5%,#ff8b00 75.0%,#ff9d00 76.2%,#ffa000 76.8%,#ff9d00 77.2%,#ff8b00 78.5%,#ff8800 79.0%,#ff8a00 79.5%,#ff9e00 80.8%,#ffa100 81.2%,#ff9e00 81.8%,#ff8a00 83.0%,#ff8700 83.5%,#ff8a00 84.0%,#ff9f00 85.2%,#ffa200 85.8%,#ff9f00 86.2%,#ff8900 87.5%,#ff8600 88.0%,#ff8900 88.5%,#ff9f00 89.8%,#ffa300 90.2%,#ffa000 90.8%,#ff8800 92.0%,#ff8400 92.5%,#ff8800 93.0%,#ffa000 94.2%,#ffa400 94.8%,#ffa100 95.2%,#ff8700 96.5%,#ff8300 97.0%,#ff8700 97.5%,#ffa100 98.8%,#ffa600 99.2%,#ffa200 99.8%,#ff8600 101.0%,#ff8200 101.5%,#ff8600 102.0%,#ffa200 103.2%,#ffa700 103.8%,#ffa300 104.2%,#ff8500 105.5%,#ff8100 106.0%,#ff8500 106.5%,#ffa300 107.8%,#ffa800 108.2%,#ffa400 108.8%,#ff8400 110.0%,#ff7f00 110.5%,#ff8000 110.8%,#ff8900 111.2%,#ffa500 112.2%,#ffa900 112.5%,#ffaa00 112.8%,#ffa900 113.0%,#ff9f00 113.5%,#ff8300 114.5%,#ff7f00 114.8%,#ff7d00 115.0%,#ff7f00 115.2%,#ff8900 115.8%,#ffa600 116.8%,#ffaa00 117.0%,#ffac00 117.2%,#ffaa00 117.5%,#ffa000 118.0%,#ff8100 119.0%,#ff7d00 119.2%,#ff7c00 119.5%,#ff7d00 119.8%,#ff8800 120.2%,#ffa700 121.2%,#ffac00 121.5%,#ffad00 121.8%,#ffac00 122.0%,#ffa800 122.2%,#ff9900 122.8%,#ff8000 123.5%,#ff7b00 123.8%,#ff7a00 124.0%,#ff7b00 124.2%,#ff8000 124.5%,#ff8f00 125.0%,#ffa200 125.5%,#ffa900 125.8%,#ffae00 126.0%,#ffaf00 126.2%,#ffae00 126.5%,#ffa900 126.8%,#ff9900 127.2%,#ff8600 127.8%,#ff7e00 128.0%,#ff7900 128.2%,#ff7800 128.5%,#ff7900 128.8%,#ff7e00 129.0%,#ff8f00 129.5%,#ffa300 130.0%,#ffaa00 130.2%,#ffb000 130.5%,#ffb200 130.8%,#ffb000 131.0%,#ffab00 131.2%,#ff9900 131.8%,#ff8500 132.2%,#ff7d00 132.5%,#ff7700 132.8%,#ff7500 133.0%,#ff7700 133.2%,#ff7c00 133.5%,#ff8f00 134.0%,#ffa400 134.5%,#ffac00 134.8%,#ffb200 135.0%,#ffb400 135.2%,#ffb200 135.5%,#ffad00 135.8%,#ff9a00 136.2%,#ff8400 136.8%,#ff7b00 137.0%,#ff7500 137.2%,#ff7300 137.5%,#ff7500 137.8%,#ff7b00 138.0%,#ff8e00 138.5%,#ffa500 139.0%,#ffae00 139.2%,#ffb400 139.5%,#ffb600 139.8%,#ffb400 140.0%,#ffaf00 140.2%,#ff9b00 140.8%,#ff8400 141.2%,#ff7c00 141.5%,#ff7700 141.8%,#ff9b00 142.0%,#ffa700 142.8%,#ffba00 143.8%,#ffbd00 144.2%,#ffbb00 144.5%,#ffaf00 145.0%,#ff9c00 145.5%,#ff6d00 146.5%,#ff5c00 147.0%,#ff5700 147.2%,#ff5500 147.5%,#ff5600 147.8%,#ff5b00 148.0%,#ff6300 148.2%,#ff6e00 148.5%,#ff8b00 149.0%,#ffb000 149.5%,#ffdb00 150.0%,#fff300 150.2%,#ffff14 150.5%,#ffff84 151.2%,#ffffa6 151.5%,#ffffc3 151.8%,#ffffda 152.0%,#ffffea 152.2%,#fffff2 152.5%,#fffff0 152.8%,#ffffe5 153.0%,#ffffd2 153.2%,#ffffb7 153.5%,#ffff96 153.8%,#ffff70 154.0%,#ffff46 154.2%,#ffff19 154.5%,#fff100 154.8%,#ff5300 156.0%,#ff1100 156.5%,#ee0000 156.8%,#8b0000 157.5%,#6d0000 157.8%,#520000 158.0%,#3b0000 158.2%,#2a0000 158.5%,#1e0000 158.8%,#1a0000 159.0%,#1c0000 159.2%,#250000 159.5%,#350000 159.8%,#4a0000 160.0%,#650000 160.2%,#830000 160.5%,#ea0000 161.2%,#ff0e00 161.5%,#ff4d00 162.0%,#ff6a00 162.2%,#ff8300 162.5%,#ff9900 162.8%,#ffad00 163.0%,#ffbd00 163.2%,#ffcb00 163.5%,#ffe000 164.0%,#ffec00 164.5%,#fff100 165.0%,#fff000 165.8%,#ffe500 166.5%,#ffb200 169.0%,#ffa100 170.2%,#ff9800 171.5%,#ff9400 174.0%,#ff9400 320.0%);-webkit-mask-image:conic-gradient(from 0deg at 0.5px 206.50px,transparent 81.22deg,#000 90.00deg);mask-image:conic-gradient(from 0deg at 0.5px 206.50px,transparent 81.22deg,#000 90.00deg);"></div>
<div class="ax" style="left:394px;top:858px;width:232px;height:205px;background:repeating-linear-gradient(90deg,rgba(255,228,0,0.85) 0px,transparent 1.15px,rgba(236,60,0,0.7) 2.3px,transparent 3.45px,rgba(255,228,0,0.85) 4.6px);-webkit-mask-image:linear-gradient(to top,#000 0px,#000 65.6px,rgba(0,0,0,0.6) 86.2px,transparent 101.1px),linear-gradient(to right,#000 0px,#000 58.8px,rgba(0,0,0,0.5) 90.9px,transparent 126.1px);-webkit-mask-composite:source-in;mask-image:linear-gradient(to top,#000 0px,#000 65.6px,rgba(0,0,0,0.6) 86.2px,transparent 101.1px),linear-gradient(to right,#000 0px,#000 58.8px,rgba(0,0,0,0.5) 90.9px,transparent 126.1px);mask-composite:intersect"></div>
<div class="fr" style="left:393px;top:857px;width:234px;height:207px"></div>
<div class="l" style="left:390.20px;top:1063.10px;width:2.80px;height:0.80px;background:#555"></div>
<div class="t" style="left:387.30px;top:1058.33px;font-size:10.60px;transform-origin:0 0;transform:scaleX(1.160) translateX(-100%);">0</div>
<div class="l" style="left:390.20px;top:1016.27px;width:2.80px;height:0.80px;background:#555"></div>
<div class="t" style="left:387.30px;top:1011.50px;font-size:10.60px;transform-origin:0 0;transform:scaleX(1.160) translateX(-100%);">50</div>
<div class="l" style="left:390.20px;top:969.45px;width:2.80px;height:0.80px;background:#555"></div>
<div class="t" style="left:387.30px;top:964.68px;font-size:10.60px;transform-origin:0 0;transform:scaleX(1.160) translateX(-100%);">100</div>
<div class="l" style="left:390.20px;top:922.62px;width:2.80px;height:0.80px;background:#555"></div>
<div class="t" style="left:387.30px;top:917.85px;font-size:10.60px;transform-origin:0 0;transform:scaleX(1.160) translateX(-100%);">150</div>
<div class="l" style="left:390.20px;top:875.80px;width:2.80px;height:0.80px;background:#555"></div>
<div class="t" style="left:387.30px;top:871.03px;font-size:10.60px;transform-origin:0 0;transform:scaleX(1.160) translateX(-100%);">200</div>
<div class="l" style="left:393.10px;top:1064.00px;width:0.80px;height:2.60px;background:#555"></div>
<div class="t" style="left:393.50px;top:1067.43px;font-size:10.60px;transform-origin:0 0;transform:scaleX(1.160) translateX(-50%);">0</div>
<div class="l" style="left:446.55px;top:1064.00px;width:0.80px;height:2.60px;background:#555"></div>
<div class="t" style="left:446.95px;top:1067.43px;font-size:10.60px;transform-origin:0 0;transform:scaleX(1.160) translateX(-50%);">50</div>
<div class="l" style="left:500.00px;top:1064.00px;width:0.80px;height:2.60px;background:#555"></div>
<div class="t" style="left:500.40px;top:1067.43px;font-size:10.60px;transform-origin:0 0;transform:scaleX(1.160) translateX(-50%);">100</div>
<div class="l" style="left:553.45px;top:1064.00px;width:0.80px;height:2.60px;background:#555"></div>
<div class="t" style="left:553.85px;top:1067.43px;font-size:10.60px;transform-origin:0 0;transform:scaleX(1.160) translateX(-50%);">150</div>
<div class="l" style="left:606.90px;top:1064.00px;width:0.80px;height:2.60px;background:#555"></div>
<div class="t" style="left:607.30px;top:1067.43px;font-size:10.60px;transform-origin:0 0;transform:scaleX(1.160) translateX(-50%);">200</div>
<div class="t" style="left:510.00px;top:1080.17px;font-size:12.20px;transform-origin:0 0;transform:scaleX(1.000) translateX(-50%);">r</div>
<div class="t" style="left:359.00px;top:960.50px;font-size:12.20px;transform:translate(-50%,-50%) rotate(-90deg) scaleX(1.08);">z</div>
<div class="cb" style="left:641px;top:857px;width:11px;height:207px;background:linear-gradient(to top,#0b0000 0.0%,#2c0000 5.0%,#4e0000 10.0%,#6f0000 15.0%,#900000 20.0%,#b20000 25.0%,#d30000 30.0%,#f50000 35.0%,#ff1700 40.0%,#ff3900 45.0%,#ff5a00 50.0%,#ff7c00 55.0%,#ff9d00 60.0%,#ffbf00 65.0%,#ffe000 70.0%,#ffff04 75.0%,#ffff36 80.0%,#ffff68 85.0%,#ffff9b 90.0%,#ffffcd 95.0%,#ffffff 100.0%)"></div>
<div class="fr" style="left:641px;top:857px;width:11px;height:207px"></div>
<div class="l" style="left:652.00px;top:882.90px;width:2.60px;height:0.80px;background:#555"></div>
<div class="t" style="left:656.30px;top:878.83px;font-size:10.60px;transform-origin:0 0;transform:scaleX(1.160);">2</div>
<div class="l" style="left:652.00px;top:912.52px;width:2.60px;height:0.80px;background:#555"></div>
<div class="t" style="left:656.30px;top:908.45px;font-size:10.60px;transform-origin:0 0;transform:scaleX(1.160);">1</div>
<div class="l" style="left:652.00px;top:942.14px;width:2.60px;height:0.80px;background:#555"></div>
<div class="t" style="left:656.30px;top:938.07px;font-size:10.60px;transform-origin:0 0;transform:scaleX(1.160);">0</div>
<div class="l" style="left:652.00px;top:971.76px;width:2.60px;height:0.80px;background:#555"></div>
<div class="t" style="left:656.30px;top:967.69px;font-size:10.60px;transform-origin:0 0;transform:scaleX(1.160);">−1</div>
<div class="l" style="left:652.00px;top:1001.38px;width:2.60px;height:0.80px;background:#555"></div>
<div class="t" style="left:656.30px;top:997.31px;font-size:10.60px;transform-origin:0 0;transform:scaleX(1.160);">−2</div>
<div class="l" style="left:652.00px;top:1031.00px;width:2.60px;height:0.80px;background:#555"></div>
<div class="t" style="left:656.30px;top:1026.93px;font-size:10.60px;transform-origin:0 0;transform:scaleX(1.160);">−3</div>
<div class="l" style="left:652.00px;top:1060.62px;width:2.60px;height:0.80px;background:#555"></div>
<div class="t" style="left:656.30px;top:1056.55px;font-size:10.60px;transform-origin:0 0;transform:scaleX(1.160);">−4</div>
<div class="t" style="left:624.20px;top:846.03px;font-size:10.60px;transform-origin:0 0;transform:scaleX(1.120);">1e−7</div>
<div class="t" style="left:680.30px;top:962.00px;font-size:10.60px;transform:translate(-50%,-50%) rotate(-90deg) scaleX(1.08);">Bz</div>
<div class="ti" style="left:477.45px;top:833.70px;transform:translateX(-50%) scaleX(1.0040);">(h) Sekido23 with <i>C</i> = 1 (r-z)</div>
<div class="ax" style="left:39px;top:1137px;width:234px;height:207px;background:radial-gradient(ellipse 105.95px 93.65px at 0.5px 206.50px,#ff9400 0.0%,#ff9400 98.5%,#ff9400 101.2%,#ff9500 103.2%,#ff9300 105.8%,#ff9500 107.2%,#ff9300 108.8%,#ff9600 110.2%,#ff9200 111.8%,#ff9700 113.2%,#ff9100 114.8%,#ff9500 115.8%,#ff9800 116.5%,#ff8f00 118.0%,#ff9400 118.8%,#ff9900 119.5%,#ff9600 120.2%,#ff8e00 121.0%,#ff8f00 121.5%,#ff9b00 122.8%,#ff9900 123.2%,#ff8c00 124.2%,#ff8d00 124.8%,#ff9d00 125.8%,#ff9d00 126.2%,#ff9500 126.8%,#ff8b00 127.2%,#ff8800 127.5%,#ff8800 127.8%,#ff9000 128.2%,#ff9d00 128.8%,#ffa100 129.0%,#ffa200 129.2%,#ffa000 129.5%,#ff9400 130.0%,#ff8700 130.5%,#ff8400 130.8%,#ff8500 131.0%,#ff8900 131.2%,#ffa100 132.0%,#ffa600 132.2%,#ffa700 132.5%,#ffa300 132.8%,#ff9200 133.2%,#ff8100 133.8%,#ff7d00 134.0%,#ff8000 134.2%,#ff8700 134.5%,#ffa800 135.2%,#ffae00 135.5%,#ffae00 135.8%,#ffa700 136.0%,#ff9c00 136.2%,#ff7f00 136.8%,#ff7400 137.0%,#ff6e00 137.2%,#ff6e00 137.5%,#ff7400 137.8%,#ff7d00 138.0%,#ff6900 138.8%,#ff6600 139.0%,#ff6600 139.2%,#ff6900 139.5%,#ff6f00 139.8%,#ff8400 140.2%,#ffc300 141.5%,#ffd700 142.0%,#ffdd00 142.2%,#ffdf00 142.5%,#ffde00 142.8%,#ffd900 143.0%,#ffd100 143.2%,#ffb700 143.8%,#ff7400 144.8%,#ff5300 145.2%,#ff4500 145.5%,#ff3a00 145.8%,#ff3200 146.0%,#ff2d00 146.2%,#ff2e00 146.5%,#ff3200 146.8%,#ff3b00 147.0%,#ff4800 147.2%,#ff6a00 147.8%,#ffa700 148.5%,#ffeb00 149.2%,#ffff05 149.5%,#ffff6f 150.2%,#ffff8e 150.5%,#ffffa8 150.8%,#ffffbd 151.0%,#ffffcb 151.2%,#ffffd1 151.5%,#ffffcd 151.8%,#ffffc1 152.0%,#ffffad 152.2%,#ffff91 152.5%,#ffff6e 152.8%,#ffff46 153.0%,#ffff1a 153.2%,#fff100 153.5%,#ff2c00 155.0%,#ff0c00 155.2%,#ec0000 155.5%,#b30000 156.0%,#990000 156.2%,#810000 156.5%,#6d0000 156.8%,#5c0000 157.0%,#500000 157.2%,#480000 157.5%,#450000 157.8%,#470000 158.0%,#4e0000 158.2%,#590000 158.5%,#690000 158.8%,#7c0000 159.0%,#ab0000 159.5%,#fa0000 160.2%,#ff1600 160.5%,#ff4700 161.0%,#ff7200 161.5%,#ff9600 162.0%,#ffb300 162.5%,#ffc900 163.0%,#ffdb00 163.5%,#ffeb00 164.2%,#fff300 165.0%,#fff200 165.8%,#ffea00 166.5%,#ffd200 167.8%,#ffb300 169.2%,#ffa200 170.5%,#ff9900 171.8%,#ff9500 174.0%,#ff9400 320.0%)"></div>
<div class="fr" style="left:39px;top:1137px;width:234px;height:207px"></div>
<div class="l" style="left:36.20px;top:1343.10px;width:2.80px;height:0.80px;background:#555"></div>
<div class="t" style="left:33.10px;top:1338.33px;font-size:10.60px;transform-origin:0 0;transform:scaleX(1.160) translateX(-100%);">0</div>
<div class="l" style="left:36.20px;top:1296.27px;width:2.80px;height:0.80px;background:#555"></div>
<div class="t" style="left:33.10px;top:1291.50px;font-size:10.60px;transform-origin:0 0;transform:scaleX(1.160) translateX(-100%);">50</div>
<div class="l" style="left:36.20px;top:1249.45px;width:2.80px;height:0.80px;background:#555"></div>
<div class="t" style="left:33.10px;top:1244.68px;font-size:10.60px;transform-origin:0 0;transform:scaleX(1.160) translateX(-100%);">100</div>
<div class="l" style="left:36.20px;top:1202.62px;width:2.80px;height:0.80px;background:#555"></div>
<div class="t" style="left:33.10px;top:1197.85px;font-size:10.60px;transform-origin:0 0;transform:scaleX(1.160) translateX(-100%);">150</div>
<div class="l" style="left:36.20px;top:1155.80px;width:2.80px;height:0.80px;background:#555"></div>
<div class="t" style="left:33.10px;top:1151.03px;font-size:10.60px;transform-origin:0 0;transform:scaleX(1.160) translateX(-100%);">200</div>
<div class="l" style="left:39.10px;top:1344.00px;width:0.80px;height:2.60px;background:#555"></div>
<div class="t" style="left:39.50px;top:1347.43px;font-size:10.60px;transform-origin:0 0;transform:scaleX(1.160) translateX(-50%);">0</div>
<div class="l" style="left:92.08px;top:1344.00px;width:0.80px;height:2.60px;background:#555"></div>
<div class="t" style="left:92.48px;top:1347.43px;font-size:10.60px;transform-origin:0 0;transform:scaleX(1.160) translateX(-50%);">50</div>
<div class="l" style="left:145.05px;top:1344.00px;width:0.80px;height:2.60px;background:#555"></div>
<div class="t" style="left:145.45px;top:1347.43px;font-size:10.60px;transform-origin:0 0;transform:scaleX(1.160) translateX(-50%);">100</div>
<div class="l" style="left:198.03px;top:1344.00px;width:0.80px;height:2.60px;background:#555"></div>
<div class="t" style="left:198.43px;top:1347.43px;font-size:10.60px;transform-origin:0 0;transform:scaleX(1.160) translateX(-50%);">150</div>
<div class="l" style="left:251.00px;top:1344.00px;width:0.80px;height:2.60px;background:#555"></div>
<div class="t" style="left:251.40px;top:1347.43px;font-size:10.60px;transform-origin:0 0;transform:scaleX(1.160) translateX(-50%);">200</div>
<div class="t" style="left:156.00px;top:1360.17px;font-size:12.20px;transform-origin:0 0;transform:scaleX(1.000) translateX(-50%);">x</div>
<div class="t" style="left:5.30px;top:1240.50px;font-size:12.20px;transform:translate(-50%,-50%) rotate(-90deg) scaleX(1.08);">y</div>
<div class="cb" style="left:287px;top:1137px;width:11px;height:207px;background:linear-gradient(to top,#0b0000 0.0%,#2c0000 5.0%,#4e0000 10.0%,#6f0000 15.0%,#900000 20.0%,#b20000 25.0%,#d30000 30.0%,#f50000 35.0%,#ff1700 40.0%,#ff3900 45.0%,#ff5a00 50.0%,#ff7c00 55.0%,#ff9d00 60.0%,#ffbf00 65.0%,#ffe000 70.0%,#ffff04 75.0%,#ffff36 80.0%,#ffff68 85.0%,#ffff9b 90.0%,#ffffcd 95.0%,#ffffff 100.0%)"></div>
<div class="fr" style="left:287px;top:1137px;width:11px;height:207px"></div>
<div class="l" style="left:298.00px;top:1162.90px;width:2.60px;height:0.80px;background:#555"></div>
<div class="t" style="left:303.10px;top:1158.83px;font-size:10.60px;transform-origin:0 0;transform:scaleX(1.160);">2</div>
<div class="l" style="left:298.00px;top:1192.52px;width:2.60px;height:0.80px;background:#555"></div>
<div class="t" style="left:303.10px;top:1188.45px;font-size:10.60px;transform-origin:0 0;transform:scaleX(1.160);">1</div>
<div class="l" style="left:298.00px;top:1222.14px;width:2.60px;height:0.80px;background:#555"></div>
<div class="t" style="left:303.10px;top:1218.07px;font-size:10.60px;transform-origin:0 0;transform:scaleX(1.160);">0</div>
<div class="l" style="left:298.00px;top:1251.76px;width:2.60px;height:0.80px;background:#555"></div>
<div class="t" style="left:303.10px;top:1247.69px;font-size:10.60px;transform-origin:0 0;transform:scaleX(1.160);">−1</div>
<div class="l" style="left:298.00px;top:1281.38px;width:2.60px;height:0.80px;background:#555"></div>
<div class="t" style="left:303.10px;top:1277.31px;font-size:10.60px;transform-origin:0 0;transform:scaleX(1.160);">−2</div>
<div class="l" style="left:298.00px;top:1311.00px;width:2.60px;height:0.80px;background:#555"></div>
<div class="t" style="left:303.10px;top:1306.93px;font-size:10.60px;transform-origin:0 0;transform:scaleX(1.160);">−3</div>
<div class="l" style="left:298.00px;top:1340.62px;width:2.60px;height:0.80px;background:#555"></div>
<div class="t" style="left:303.10px;top:1336.55px;font-size:10.60px;transform-origin:0 0;transform:scaleX(1.160);">−4</div>
<div class="t" style="left:269.80px;top:1126.03px;font-size:10.60px;transform-origin:0 0;transform:scaleX(1.120);">1e−7</div>
<div class="t" style="left:326.40px;top:1242.00px;font-size:10.60px;transform:translate(-50%,-50%) rotate(-90deg) scaleX(1.08);">Bz</div>
<div class="ti" style="left:123.55px;top:1113.70px;transform:translateX(-50%) scaleX(0.9978);">(i) scheme 1 with <i>C</i> = 1 (x-y)</div>
<div class="ax" style="left:393px;top:1137px;width:234px;height:207px;background:radial-gradient(ellipse 106.90px 93.65px at 0.5px 206.50px,#ff9400 0.0%,#ff9500 143.5%,#ff9500 146.5%,#ff9300 149.2%,#ff9200 151.2%,#ff9c00 155.0%,#ff9800 156.8%,#ff8900 160.2%,#ff8b00 162.0%,#ff9600 165.2%,#ff9700 169.5%,#ff9400 179.8%,#ff9400 320.0%);"></div>
<div class="ax" style="left:393px;top:1137px;width:234px;height:207px;background:radial-gradient(ellipse 106.90px 93.65px at 0.5px 206.50px,#ff9400 0.0%,#ff9400 143.0%,#ff9400 145.8%,#ff9500 148.0%,#ff9100 150.8%,#ff9900 153.2%,#ff9e00 155.0%,#ff9800 156.8%,#ff8700 160.0%,#ff8700 161.5%,#ff9500 164.8%,#ff9800 168.2%,#ff9400 177.5%,#ff9400 320.0%);-webkit-mask-image:conic-gradient(from 0deg at 0.5px 206.50px,transparent 0.00deg,#000 5.70deg);mask-image:conic-gradient(from 0deg at 0.5px 206.50px,transparent 0.00deg,#000 5.70deg);"></div>
<div class="ax" style="left:393px;top:1137px;width:234px;height:207px;background:radial-gradient(ellipse 106.90px 93.65px at 0.5px 206.50px,#ff9400 0.0%,#ff9500 138.2%,#ff9400 142.0%,#ff9500 144.0%,#ff9300 145.2%,#ff9600 146.0%,#ff9600 147.8%,#ff8f00 150.0%,#ff9400 151.5%,#ffa200 154.0%,#ffa100 155.2%,#ff9400 157.0%,#ff8100 159.2%,#ff7e00 160.2%,#ff8300 161.5%,#ff9500 164.0%,#ff9a00 166.2%,#ff9800 170.2%,#ff9400 176.5%,#ff9400 320.0%);-webkit-mask-image:conic-gradient(from 0deg at 0.5px 206.50px,transparent 5.70deg,#000 11.38deg);mask-image:conic-gradient(from 0deg at 0.5px 206.50px,transparent 5.70deg,#000 11.38deg);"></div>
<div class="ax" style="left:393px;top:1137px;width:234px;height:207px;background:radial-gradient(ellipse 106.90px 93.65px at 0.5px 206.50px,#ff9400 0.0%,#ff9400 133.2%,#ff9400 137.0%,#ff9500 139.0%,#ff9300 141.0%,#ff9600 143.0%,#ff9300 144.5%,#ff9600 144.8%,#ff9800 146.8%,#ff8c00 149.2%,#ff8f00 150.2%,#ffab00 153.2%,#ffac00 154.2%,#ffa400 155.2%,#ff7600 158.5%,#ff7000 159.5%,#ff7300 160.2%,#ff8000 161.5%,#ff9200 163.0%,#ff9b00 164.5%,#ff9e00 166.8%,#ff9500 173.8%,#ff9400 320.0%);-webkit-mask-image:conic-gradient(from 0deg at 0.5px 206.50px,transparent 11.38deg,#000 17.01deg);mask-image:conic-gradient(from 0deg at 0.5px 206.50px,transparent 11.38deg,#000 17.01deg);"></div>
<div class="ax" style="left:393px;top:1137px;width:234px;height:207px;background:radial-gradient(ellipse 106.90px 93.65px at 0.5px 206.50px,#ff9400 0.0%,#ff9500 128.5%,#ff9400 132.2%,#ff9400 134.2%,#ff9300 136.0%,#ff9600 138.0%,#ff9200 140.0%,#ff9700 142.2%,#ff9200 144.0%,#ff9700 144.2%,#ff9a00 145.8%,#ff9600 146.8%,#ff8800 148.5%,#ff8900 149.2%,#ff9300 150.2%,#ffb200 152.2%,#ffb800 153.0%,#ffb700 153.8%,#ffae00 154.5%,#ff9500 155.8%,#ff6e00 157.5%,#ff6200 158.2%,#ff5e00 159.0%,#ff6300 159.8%,#ff7300 160.8%,#ff8f00 162.2%,#ff9c00 163.5%,#ffa300 165.0%,#ffa300 167.0%,#ff9600 172.2%,#ff9400 185.8%,#ff9400 320.0%);-webkit-mask-image:conic-gradient(from 0deg at 0.5px 206.50px,transparent 17.01deg,#000 22.56deg);mask-image:conic-gradient(from 0deg at 0.5px 206.50px,transparent 17.01deg,#000 22.56deg);"></div>
<div class="ax" style="left:393px;top:1137px;width:234px;height:207px;background:radial-gradient(ellipse 106.90px 93.65px at 0.5px 206.50px,#ff9400 0.0%,#ff9500 123.8%,#ff9400 127.5%,#ff9400 129.5%,#ff9300 131.2%,#ff9600 133.2%,#ff9200 135.2%,#ff9700 137.2%,#ff9000 139.2%,#ff9500 140.5%,#ff9900 141.5%,#ff9100 143.2%,#ff9100 143.5%,#ff9800 143.8%,#ff9d00 145.0%,#ff9b00 145.8%,#ff8c00 147.0%,#ff8300 147.8%,#ff8200 148.5%,#ff8b00 149.2%,#ffa000 150.2%,#ffbe00 151.5%,#ffc900 152.2%,#ffcb00 152.8%,#ffc800 153.2%,#ffb900 154.0%,#ff9b00 155.0%,#ff6000 156.8%,#ff4c00 157.5%,#ff4500 158.0%,#ff4300 158.5%,#ff4700 159.0%,#ff5600 159.8%,#ff8800 161.5%,#ff9b00 162.5%,#ffa500 163.5%,#ffac00 165.0%,#ffaa00 166.8%,#ff9800 171.0%,#ff9400 175.0%,#ff9400 320.0%);-webkit-mask-image:conic-gradient(from 0deg at 0.5px 206.50px,transparent 22.56deg,#000 29.11deg);mask-image:conic-gradient(from 0deg at 0.5px 206.50px,transparent 22.56deg,#000 29.11deg);"></div>
<div class="ax" style="left:393px;top:1137px;width:234px;height:207px;background:radial-gradient(ellipse 106.90px 93.65px at 0.5px 206.50px,#ff9400 0.0%,#ff9400 121.0%,#ff9400 125.0%,#ff9400 127.0%,#ff9500 128.8%,#ff9200 130.8%,#ff9700 132.8%,#ff9100 134.8%,#ff9800 136.8%,#ff9500 137.8%,#ff8f00 138.8%,#ff9000 139.5%,#ff9b00 141.0%,#ff9800 141.8%,#ff9000 142.8%,#ff8f00 143.0%,#ff9900 143.2%,#ffa100 144.8%,#ff9d00 145.5%,#ff8c00 146.5%,#ff7f00 147.2%,#ff7a00 147.8%,#ff7c00 148.2%,#ff8300 148.8%,#ff9700 149.5%,#ffc900 151.0%,#ffdc00 151.8%,#ffe100 152.2%,#ffdf00 152.8%,#ffd500 153.2%,#ffc500 153.8%,#ffa600 154.5%,#ff4800 156.5%,#ff3500 157.0%,#ff2800 157.5%,#ff2200 158.0%,#ff2500 158.5%,#ff3000 159.0%,#ff4b00 159.8%,#ff7d00 161.0%,#ff9400 161.8%,#ffa300 162.5%,#ffaf00 163.5%,#ffb500 164.8%,#ffb300 166.2%,#ff9a00 170.5%,#ff9500 173.2%,#ff9400 320.0%);-webkit-mask-image:conic-gradient(from 0deg at 0.5px 206.50px,transparent 29.11deg,#000 35.50deg);mask-image:conic-gradient(from 0deg at 0.5px 206.50px,transparent 29.11deg,#000 35.50deg);"></div>
<div class="ax" style="left:393px;top:1137px;width:234px;height:207px;background:radial-gradient(ellipse 106.90px 93.65px at 0.5px 206.50px,#ff9400 0.0%,#ff9400 118.8%,#ff9400 122.5%,#ff9500 124.5%,#ff9300 126.5%,#ff9600 128.2%,#ff9200 130.5%,#ff9700 132.5%,#ff9000 134.5%,#ff9400 135.5%,#ff9a00 136.5%,#ff9800 137.2%,#ff8e00 138.5%,#ff8e00 139.2%,#ff9d00 140.8%,#ff9b00 141.5%,#ff8f00 142.5%,#ff8e00 143.0%,#ff9c00 143.2%,#ffa500 144.5%,#ffa400 145.0%,#ff9d00 145.5%,#ff8600 146.5%,#ff7600 147.2%,#ff7200 147.8%,#ff7600 148.2%,#ff8200 148.8%,#ff9e00 149.5%,#ffe000 151.0%,#fff000 151.5%,#fff900 152.0%,#fffa00 152.2%,#fff800 152.5%,#ffed00 153.0%,#ffda00 153.5%,#ffb200 154.2%,#ff3600 156.2%,#ff1c00 156.8%,#ff0900 157.2%,#ff0300 157.5%,#fe0000 157.8%,#ff0100 158.2%,#ff0600 158.5%,#ff1700 159.0%,#ff3c00 159.8%,#ff7100 160.8%,#ff9000 161.5%,#ffa600 162.2%,#ffb400 163.0%,#ffbd00 164.0%,#ffc000 165.2%,#ffb800 166.8%,#ff9e00 170.0%,#ff9600 172.2%,#ff9400 179.2%,#ff9400 320.0%);-webkit-mask-image:conic-gradient(from 0deg at 0.5px 206.50px,transparent 35.50deg,#000 41.73deg);mask-image:conic-gradient(from 0deg at 0.5px 206.50px,transparent 35.50deg,#000 41.73deg);"></div>
<div class="ax" style="left:393px;top:1137px;width:234px;height:207px;background:radial-gradient(ellipse 106.90px 93.65px at 0.5px 206.50px,#ff9400 0.0%,#ff9400 116.5%,#ff9400 120.2%,#ff9300 122.2%,#ff9500 124.2%,#ff9200 126.0%,#ff9700 128.2%,#ff9100 130.2%,#ff9900 132.2%,#ff9500 133.2%,#ff8f00 134.2%,#ff9000 135.0%,#ff9b00 136.5%,#ff9800 137.2%,#ff8b00 138.5%,#ff8b00 139.0%,#ff9300 139.8%,#ff9e00 140.5%,#ffa000 141.0%,#ff9c00 141.5%,#ff8e00 142.5%,#ff8d00 143.0%,#ff9f00 143.2%,#ffa900 144.2%,#ffaa00 144.8%,#ffa400 145.2%,#ff9800 145.8%,#ff7100 147.0%,#ff6900 147.5%,#ff6800 147.8%,#ff6a00 148.0%,#ff6e00 148.2%,#ff7f00 148.8%,#ff9700 149.2%,#ffec00 150.8%,#fff900 151.0%,#ffff08 151.2%,#ffff15 151.5%,#ffff1f 151.8%,#ffff24 152.0%,#ffff25 152.2%,#ffff20 152.5%,#ffff17 152.8%,#ffff09 153.0%,#fff900 153.2%,#ffdb00 153.8%,#ffa300 154.5%,#ff2800 156.0%,#ff0400 156.5%,#f40000 156.8%,#e70000 157.0%,#dd0000 157.2%,#d50000 157.5%,#d20000 157.8%,#d20000 158.0%,#d50000 158.2%,#dc0000 158.5%,#e70000 158.8%,#f40000 159.0%,#ff0400 159.2%,#ff5a00 160.5%,#ff7900 161.0%,#ff9200 161.5%,#ffa500 162.0%,#ffb900 162.8%,#ffc500 163.5%,#ffcc00 164.5%,#ffcb00 165.5%,#ffc200 166.8%,#ffa300 169.8%,#ff9900 171.5%,#ff9400 174.5%,#ff9400 320.0%);-webkit-mask-image:conic-gradient(from 0deg at 0.5px 206.50px,transparent 41.73deg,#000 48.78deg);mask-image:conic-gradient(from 0deg at 0.5px 206.50px,transparent 41.73deg,#000 48.78deg);"></div>
<div class="ax" style="left:393px;top:1137px;width:234px;height:207px;background:radial-gradient(ellipse 106.90px 93.65px at 0.5px 206.50px,#ff9400 0.0%,#ff9500 114.5%,#ff9400 118.2%,#ff9400 120.2%,#ff9300 122.0%,#ff9600 124.0%,#ff9100 126.0%,#ff9700 128.0%,#ff9000 130.2%,#ff9a00 132.2%,#ff9700 133.0%,#ff8d00 134.2%,#ff8f00 135.0%,#ff9c00 136.2%,#ff9b00 137.0%,#ff8900 138.5%,#ff8900 139.0%,#ff9400 139.8%,#ffa000 140.5%,#ffa300 141.0%,#ff9e00 141.5%,#ff8c00 142.5%,#ff8b00 142.8%,#ff8c00 143.0%,#ffa100 143.2%,#ffae00 144.2%,#ffaf00 144.8%,#ffa800 145.2%,#ff9900 145.8%,#ff7100 146.8%,#ff6300 147.2%,#ff5f00 147.5%,#ff5e00 147.8%,#ff6100 148.0%,#ff6600 148.2%,#ff6f00 148.5%,#ff8800 149.0%,#ffba00 149.8%,#fff000 150.5%,#ffff03 150.8%,#ffff1b 151.0%,#ffff2f 151.2%,#ffff3f 151.5%,#ffff4b 151.8%,#ffff51 152.0%,#ffff51 152.2%,#ffff4c 152.5%,#ffff40 152.8%,#ffff2f 153.0%,#ffff19 153.2%,#fffe00 153.5%,#ffd400 154.0%,#ff8c00 154.8%,#ff0f00 156.0%,#f70000 156.2%,#cf0000 156.8%,#bf0000 157.0%,#b20000 157.2%,#aa0000 157.5%,#a60000 157.8%,#a60000 158.0%,#aa0000 158.2%,#b30000 158.5%,#c00000 158.8%,#d00000 159.0%,#f70000 159.5%,#ff0d00 159.8%,#ff4e00 160.5%,#ff7300 161.0%,#ff9200 161.5%,#ffaa00 162.0%,#ffbb00 162.5%,#ffcd00 163.2%,#ffd600 164.0%,#ffda00 165.0%,#ffd500 166.0%,#ffc300 167.5%,#ffa900 169.5%,#ff9c00 171.0%,#ff9600 173.0%,#ff9400 184.8%,#ff9400 320.0%);-webkit-mask-image:conic-gradient(from 0deg at 0.5px 206.50px,transparent 48.78deg,#000 55.61deg);mask-image:conic-gradient(from 0deg at 0.5px 206.50px,transparent 48.78deg,#000 55.61deg);"></div>
<div class="ax" style="left:393px;top:1137px;width:234px;height:207px;background:radial-gradient(ellipse 106.90px 93.65px at 0.5px 206.50px,#ff9400 0.0%,#ff9400 112.2%,#ff9400 116.0%,#ff9400 118.0%,#ff9500 120.0%,#ff9200 121.8%,#ff9600 124.0%,#ff9100 126.0%,#ff9800 128.0%,#ff9300 129.2%,#ff8f00 130.2%,#ff9500 131.2%,#ff9b00 132.2%,#ff9700 133.0%,#ff8c00 134.2%,#ff8e00 135.0%,#ff9d00 136.2%,#ff9f00 136.8%,#ff9600 137.5%,#ff8a00 138.2%,#ff8600 138.8%,#ff8a00 139.2%,#ffa300 140.5%,#ffa500 141.0%,#ffa000 141.5%,#ff8a00 142.5%,#ff8900 142.8%,#ff8a00 143.0%,#ffa400 143.2%,#ffb300 144.2%,#ffb400 144.8%,#ffb100 145.0%,#ffa400 145.5%,#ff8e00 146.0%,#ff6a00 146.8%,#ff6000 147.0%,#ff5900 147.2%,#ff5400 147.5%,#ff5300 147.8%,#ff5600 148.0%,#ff5d00 148.2%,#ff6800 148.5%,#ff7500 148.8%,#ff9900 149.2%,#ffee00 150.2%,#ffff06 150.5%,#ffff24 150.8%,#ffff40 151.0%,#ffff58 151.2%,#ffff6b 151.5%,#ffff79 151.8%,#ffff81 152.0%,#ffff81 152.2%,#ffff7a 152.5%,#ffff6d 152.8%,#ffff58 153.0%,#ffff3e 153.2%,#ffff1e 153.5%,#fffb00 153.8%,#ffc500 154.2%,#ff1100 155.8%,#f40000 156.0%,#bf0000 156.5%,#a80000 156.8%,#950000 157.0%,#860000 157.2%,#7c0000 157.5%,#770000 157.8%,#770000 158.0%,#7c0000 158.2%,#870000 158.5%,#960000 158.8%,#a90000 159.0%,#d80000 159.5%,#f20000 159.8%,#ff0d00 160.0%,#ff4000 160.5%,#ff6d00 161.0%,#ff9100 161.5%,#ffae00 162.0%,#ffc300 162.5%,#ffd200 163.0%,#ffe000 163.8%,#ffe700 164.5%,#ffe700 165.2%,#ffdf00 166.2%,#ffc400 168.0%,#ffaa00 169.8%,#ff9c00 171.2%,#ff9600 173.2%,#ff9400 187.2%,#ff9400 320.0%);-webkit-mask-image:conic-gradient(from 0deg at 0.5px 206.50px,transparent 55.61deg,#000 63.17deg);mask-image:conic-gradient(from 0deg at 0.5px 206.50px,transparent 55.61deg,#000 63.17deg);"></div>
<div class="ax" style="left:393px;top:1137px;width:234px;height:207px;background:radial-gradient(ellipse 106.90px 93.65px at 0.5px 206.50px,#ff9400 0.0%,#ff9500 110.5%,#ff9400 114.0%,#ff9400 116.0%,#ff9300 118.0%,#ff9600 119.8%,#ff9200 121.8%,#ff9700 123.8%,#ff9000 126.0%,#ff9900 128.0%,#ff9400 129.0%,#ff8e00 130.0%,#ff9000 130.8%,#ff9b00 132.0%,#ff9a00 132.8%,#ff8b00 134.2%,#ff8b00 134.8%,#ff9400 135.5%,#ff9f00 136.2%,#ffa000 136.8%,#ff9b00 137.2%,#ff8800 138.2%,#ff8400 138.8%,#ff8800 139.2%,#ffa500 140.5%,#ffa800 140.8%,#ffa800 141.0%,#ffa200 141.5%,#ff8e00 142.2%,#ff8900 142.5%,#ff8700 142.8%,#ff8800 143.0%,#ffa600 143.2%,#ffb800 144.2%,#ffb900 144.8%,#ffb600 145.0%,#ffaf00 145.2%,#ff9b00 145.8%,#ff6300 146.8%,#ff5800 147.0%,#ff4f00 147.2%,#ff4900 147.5%,#ff4800 147.8%,#ff4c00 148.0%,#ff5400 148.2%,#ff6000 148.5%,#ff7000 148.8%,#ff8400 149.0%,#ffb100 149.5%,#fffd00 150.2%,#ffff46 150.8%,#ffff66 151.0%,#ffff82 151.2%,#ffff99 151.5%,#ffffa9 151.8%,#ffffb2 152.0%,#ffffb2 152.2%,#ffffab 152.5%,#ffff9a 152.8%,#ffff82 153.0%,#ffff64 153.2%,#ffff3f 153.5%,#ffff15 153.8%,#ffee00 154.0%,#ffac00 154.5%,#ff1e00 155.5%,#fa0000 155.8%,#b80000 156.2%,#9a0000 156.5%,#800000 156.8%,#6a0000 157.0%,#580000 157.2%,#4c0000 157.5%,#460000 157.8%,#460000 158.0%,#4d0000 158.2%,#590000 158.5%,#6b0000 158.8%,#820000 159.0%,#9c0000 159.2%,#f50000 160.0%,#ff1400 160.2%,#ff4d00 160.8%,#ff7d00 161.2%,#ff9100 161.5%,#ffb200 162.0%,#ffcb00 162.5%,#ffdd00 163.0%,#ffed00 163.8%,#fff500 164.5%,#fff500 165.2%,#ffeb00 166.2%,#ffd100 167.8%,#ffb100 169.5%,#ffa200 170.8%,#ff9900 172.2%,#ff9400 175.0%,#ff9400 320.0%);-webkit-mask-image:conic-gradient(from 0deg at 0.5px 206.50px,transparent 63.17deg,#000 72.31deg);mask-image:conic-gradient(from 0deg at 0.5px 206.50px,transparent 63.17deg,#000 72.31deg);"></div>
<div class="ax" style="left:393px;top:1137px;width:234px;height:207px;background:radial-gradient(ellipse 106.90px 93.65px at 0.5px 206.50px,#ff9400 0.0%,#ff9500 110.2%,#ff9400 114.0%,#ff9400 116.0%,#ff9300 117.8%,#ff9600 119.8%,#ff9200 121.8%,#ff9700 123.8%,#ff9000 126.0%,#ff9900 128.0%,#ff9400 129.0%,#ff8e00 130.0%,#ff9000 130.8%,#ff9c00 132.0%,#ff9b00 132.8%,#ff8a00 134.2%,#ff8a00 134.8%,#ff9400 135.5%,#ffa000 136.2%,#ffa100 136.8%,#ff9c00 137.2%,#ff8700 138.2%,#ff8300 138.8%,#ff8700 139.2%,#ffa700 140.5%,#ffaa00 140.8%,#ffaa00 141.0%,#ffa800 141.2%,#ff9c00 141.8%,#ff8d00 142.2%,#ff8800 142.5%,#ff8500 142.8%,#ff8700 143.0%,#ffa800 143.2%,#ffb800 144.0%,#ffbe00 144.5%,#ffbd00 144.8%,#ffb900 145.0%,#ffb200 145.2%,#ffa800 145.5%,#ff8d00 146.0%,#ff5f00 146.8%,#ff5200 147.0%,#ff4800 147.2%,#ff4200 147.5%,#ff4100 147.8%,#ff4500 148.0%,#ff4e00 148.2%,#ff5b00 148.5%,#ff6d00 148.8%,#ff8200 149.0%,#ffb400 149.5%,#ffeb00 150.0%,#ffff0c 150.2%,#ffff5b 150.8%,#ffff7f 151.0%,#ffff9e 151.2%,#ffffb7 151.5%,#ffffc9 151.8%,#ffffd2 152.0%,#ffffd3 152.2%,#ffffca 152.5%,#ffffb8 152.8%,#ffff9e 153.0%,#ffff7c 153.2%,#ffff54 153.5%,#ffff26 153.8%,#fff700 154.0%,#ffae00 154.5%,#ff1300 155.5%,#ec0000 155.8%,#a30000 156.2%,#830000 156.5%,#660000 156.8%,#4d0000 157.0%,#3a0000 157.2%,#2d0000 157.5%,#270000 157.8%,#270000 158.0%,#2e0000 158.2%,#3c0000 158.5%,#4f0000 158.8%,#680000 159.0%,#840000 159.2%,#c50000 159.8%,#e60000 160.0%,#ff0800 160.2%,#ff4600 160.8%,#ff6100 161.0%,#ff7a00 161.2%,#ff9100 161.5%,#ffa400 161.8%,#ffc400 162.2%,#ffdb00 162.8%,#ffeb00 163.2%,#fffa00 164.0%,#ffff00 164.8%,#fffc00 165.5%,#fff000 166.5%,#ffb800 169.2%,#ffa600 170.5%,#ff9a00 172.0%,#ff9500 174.2%,#ff9400 320.0%);-webkit-mask-image:conic-gradient(from 0deg at 0.5px 206.50px,transparent 72.31deg,#000 81.22deg);mask-image:conic-gradient(from 0deg at 0.5px 206.50px,transparent 72.31deg,#000 81.22deg);"></div>
<div class="ax" style="left:393px;top:1137px;width:234px;height:207px;background:radial-gradient(ellipse 106.90px 93.65px at 0.5px 206.50px,#ff9400 0.0%,#ff9500 110.2%,#ff9400 113.8%,#ff9500 115.8%,#ff9300 117.8%,#ff9600 119.8%,#ff9200 121.8%,#ff9700 123.8%,#ff9000 125.8%,#ff9300 126.8%,#ff9900 128.0%,#ff9400 129.0%,#ff8d00 130.0%,#ff9000 130.8%,#ff9c00 132.0%,#ff9b00 132.8%,#ff8900 134.2%,#ff8a00 134.8%,#ff9500 135.5%,#ffa000 136.2%,#ffa200 136.8%,#ff9c00 137.2%,#ff8700 138.2%,#ff8200 138.8%,#ff8700 139.2%,#ffa700 140.5%,#ffaa00 140.8%,#ffab00 141.0%,#ffa800 141.2%,#ff9c00 141.8%,#ff8d00 142.2%,#ff8700 142.5%,#ff8500 142.8%,#ffa400 143.0%,#ffb900 144.0%,#ffbf00 144.5%,#ffbe00 144.8%,#ffba00 145.0%,#ffb300 145.2%,#ffa900 145.5%,#ff8d00 146.0%,#ff5d00 146.8%,#ff5000 147.0%,#ff4600 147.2%,#ff4000 147.5%,#ff3f00 147.8%,#ff4300 148.0%,#ff4c00 148.2%,#ff5a00 148.5%,#ff6c00 148.8%,#ff8100 149.0%,#ffb500 149.5%,#ffed00 150.0%,#ffff11 150.2%,#ffff63 150.8%,#ffff88 151.0%,#ffffa7 151.2%,#ffffc1 151.5%,#ffffd3 151.8%,#ffffdd 152.0%,#ffffde 152.2%,#ffffd5 152.5%,#ffffc3 152.8%,#ffffa8 153.0%,#ffff85 153.2%,#ffff5b 153.5%,#ffff2c 153.8%,#fffa00 154.0%,#ffaf00 154.5%,#ff0f00 155.5%,#e70000 155.8%,#9c0000 156.2%,#7b0000 156.5%,#5d0000 156.8%,#440000 157.0%,#300000 157.2%,#220000 157.5%,#1c0000 157.8%,#1c0000 158.0%,#230000 158.2%,#310000 158.5%,#450000 158.8%,#5f0000 159.0%,#7c0000 159.2%,#be0000 159.8%,#e10000 160.0%,#ff0400 160.2%,#ff4400 160.8%,#ff6000 161.0%,#ff7a00 161.2%,#ff9100 161.5%,#ffa500 161.8%,#ffb600 162.0%,#ffd200 162.5%,#ffe600 163.0%,#fff400 163.5%,#fffd00 164.0%,#ffff03 164.5%,#ffff05 165.0%,#fffd00 165.8%,#ffee00 166.8%,#ffb900 169.2%,#ffa600 170.5%,#ff9c00 171.8%,#ff9500 173.8%,#ff9400 235.8%,#ff9400 320.0%);-webkit-mask-image:conic-gradient(from 0deg at 0.5px 206.50px,transparent 81.22deg,#000 90.00deg);mask-image:conic-gradient(from 0deg at 0.5px 206.50px,transparent 81.22deg,#000 90.00deg);"></div>
<div class="fr" style="left:393px;top:1137px;width:234px;height:207px"></div>
<div class="l" style="left:390.20px;top:1343.10px;width:2.80px;height:0.80px;background:#555"></div>
<div class="t" style="left:387.30px;top:1338.33px;font-size:10.60px;transform-origin:0 0;transform:scaleX(1.160) translateX(-100%);">0</div>
<div class="l" style="left:390.20px;top:1296.27px;width:2.80px;height:0.80px;background:#555"></div>
<div class="t" style="left:387.30px;top:1291.50px;font-size:10.60px;transform-origin:0 0;transform:scaleX(1.160) translateX(-100%);">50</div>
<div class="l" style="left:390.20px;top:1249.45px;width:2.80px;height:0.80px;background:#555"></div>
<div class="t" style="left:387.30px;top:1244.68px;font-size:10.60px;transform-origin:0 0;transform:scaleX(1.160) translateX(-100%);">100</div>
<div class="l" style="left:390.20px;top:1202.62px;width:2.80px;height:0.80px;background:#555"></div>
<div class="t" style="left:387.30px;top:1197.85px;font-size:10.60px;transform-origin:0 0;transform:scaleX(1.160) translateX(-100%);">150</div>
<div class="l" style="left:390.20px;top:1155.80px;width:2.80px;height:0.80px;background:#555"></div>
<div class="t" style="left:387.30px;top:1151.03px;font-size:10.60px;transform-origin:0 0;transform:scaleX(1.160) translateX(-100%);">200</div>
<div class="l" style="left:393.10px;top:1344.00px;width:0.80px;height:2.60px;background:#555"></div>
<div class="t" style="left:393.50px;top:1347.43px;font-size:10.60px;transform-origin:0 0;transform:scaleX(1.160) translateX(-50%);">0</div>
<div class="l" style="left:446.55px;top:1344.00px;width:0.80px;height:2.60px;background:#555"></div>
<div class="t" style="left:446.95px;top:1347.43px;font-size:10.60px;transform-origin:0 0;transform:scaleX(1.160) translateX(-50%);">50</div>
<div class="l" style="left:500.00px;top:1344.00px;width:0.80px;height:2.60px;background:#555"></div>
<div class="t" style="left:500.40px;top:1347.43px;font-size:10.60px;transform-origin:0 0;transform:scaleX(1.160) translateX(-50%);">100</div>
<div class="l" style="left:553.45px;top:1344.00px;width:0.80px;height:2.60px;background:#555"></div>
<div class="t" style="left:553.85px;top:1347.43px;font-size:10.60px;transform-origin:0 0;transform:scaleX(1.160) translateX(-50%);">150</div>
<div class="l" style="left:606.90px;top:1344.00px;width:0.80px;height:2.60px;background:#555"></div>
<div class="t" style="left:607.30px;top:1347.43px;font-size:10.60px;transform-origin:0 0;transform:scaleX(1.160) translateX(-50%);">200</div>
<div class="t" style="left:510.00px;top:1360.17px;font-size:12.20px;transform-origin:0 0;transform:scaleX(1.000) translateX(-50%);">r</div>
<div class="t" style="left:359.00px;top:1240.50px;font-size:12.20px;transform:translate(-50%,-50%) rotate(-90deg) scaleX(1.08);">z</div>
<div class="cb" style="left:641px;top:1137px;width:11px;height:207px;background:linear-gradient(to top,#0b0000 0.0%,#2c0000 5.0%,#4e0000 10.0%,#6f0000 15.0%,#900000 20.0%,#b20000 25.0%,#d30000 30.0%,#f50000 35.0%,#ff1700 40.0%,#ff3900 45.0%,#ff5a00 50.0%,#ff7c00 55.0%,#ff9d00 60.0%,#ffbf00 65.0%,#ffe000 70.0%,#ffff04 75.0%,#ffff36 80.0%,#ffff68 85.0%,#ffff9b 90.0%,#ffffcd 95.0%,#ffffff 100.0%)"></div>
<div class="fr" style="left:641px;top:1137px;width:11px;height:207px"></div>
<div class="l" style="left:652.00px;top:1162.90px;width:2.60px;height:0.80px;background:#555"></div>
<div class="t" style="left:656.30px;top:1158.83px;font-size:10.60px;transform-origin:0 0;transform:scaleX(1.160);">2</div>
<div class="l" style="left:652.00px;top:1192.52px;width:2.60px;height:0.80px;background:#555"></div>
<div class="t" style="left:656.30px;top:1188.45px;font-size:10.60px;transform-origin:0 0;transform:scaleX(1.160);">1</div>
<div class="l" style="left:652.00px;top:1222.14px;width:2.60px;height:0.80px;background:#555"></div>
<div class="t" style="left:656.30px;top:1218.07px;font-size:10.60px;transform-origin:0 0;transform:scaleX(1.160);">0</div>
<div class="l" style="left:652.00px;top:1251.76px;width:2.60px;height:0.80px;background:#555"></div>
<div class="t" style="left:656.30px;top:1247.69px;font-size:10.60px;transform-origin:0 0;transform:scaleX(1.160);">−1</div>
<div class="l" style="left:652.00px;top:1281.38px;width:2.60px;height:0.80px;background:#555"></div>
<div class="t" style="left:656.30px;top:1277.31px;font-size:10.60px;transform-origin:0 0;transform:scaleX(1.160);">−2</div>
<div class="l" style="left:652.00px;top:1311.00px;width:2.60px;height:0.80px;background:#555"></div>
<div class="t" style="left:656.30px;top:1306.93px;font-size:10.60px;transform-origin:0 0;transform:scaleX(1.160);">−3</div>
<div class="l" style="left:652.00px;top:1340.62px;width:2.60px;height:0.80px;background:#555"></div>
<div class="t" style="left:656.30px;top:1336.55px;font-size:10.60px;transform-origin:0 0;transform:scaleX(1.160);">−4</div>
<div class="t" style="left:624.20px;top:1126.03px;font-size:10.60px;transform-origin:0 0;transform:scaleX(1.120);">1e−7</div>
<div class="t" style="left:680.30px;top:1242.00px;font-size:10.60px;transform:translate(-50%,-50%) rotate(-90deg) scaleX(1.08);">Bz</div>
<div class="ti" style="left:477.05px;top:1113.70px;transform:translateX(-50%) scaleX(1.0032);">(j) scheme 1 with <i>C</i> = 1 (r-z)</div>
<div class="ax" style="left:39px;top:1416px;width:234px;height:207px;background:radial-gradient(ellipse 105.95px 93.65px at 0.5px 206.50px,#ff9400 0.0%,#ff9500 145.2%,#ff9b00 147.0%,#ffa400 148.0%,#ffb400 149.0%,#ffcc00 150.0%,#fffd00 151.8%,#ffff0d 152.2%,#ffff17 152.8%,#ffff1b 153.2%,#ffff18 153.8%,#ffff0d 154.2%,#ffff05 154.5%,#fffc00 154.8%,#ffeb00 155.2%,#ffd300 155.8%,#ffb300 156.2%,#ff9f00 156.5%,#ff8900 156.8%,#ff6f00 157.0%,#ff5100 157.2%,#ff3100 157.5%,#ff0d00 157.8%,#e70000 158.0%,#9a0000 158.5%,#760000 158.8%,#550000 159.0%,#390000 159.2%,#250000 159.5%,#180000 159.8%,#140000 160.0%,#190000 160.2%,#260000 160.5%,#3c0000 160.8%,#580000 161.0%,#7a0000 161.2%,#c60000 161.8%,#ee0000 162.0%,#ff1500 162.2%,#ff3900 162.5%,#ff5b00 162.8%,#ff7900 163.0%,#ff9400 163.2%,#ffab00 163.5%,#ffbf00 163.8%,#ffd000 164.0%,#ffeb00 164.5%,#fffd00 165.0%,#ffff0f 165.5%,#ffff19 166.0%,#ffff1a 166.5%,#ffff14 167.0%,#ffff08 167.5%,#ffff00 167.8%,#ffdd00 169.0%,#ffbc00 170.2%,#ffa800 171.2%,#ff9d00 172.2%,#ff9600 173.8%,#ff9400 179.5%,#ff9400 320.0%)"></div>
<div class="fr" style="left:39px;top:1416px;width:234px;height:207px"></div>
<div class="l" style="left:36.20px;top:1622.10px;width:2.80px;height:0.80px;background:#555"></div>
<div class="t" style="left:33.10px;top:1617.33px;font-size:10.60px;transform-origin:0 0;transform:scaleX(1.160) translateX(-100%);">0</div>
<div class="l" style="left:36.20px;top:1575.27px;width:2.80px;height:0.80px;background:#555"></div>
<div class="t" style="left:33.10px;top:1570.50px;font-size:10.60px;transform-origin:0 0;transform:scaleX(1.160) translateX(-100%);">50</div>
<div class="l" style="left:36.20px;top:1528.45px;width:2.80px;height:0.80px;background:#555"></div>
<div class="t" style="left:33.10px;top:1523.68px;font-size:10.60px;transform-origin:0 0;transform:scaleX(1.160) translateX(-100%);">100</div>
<div class="l" style="left:36.20px;top:1481.62px;width:2.80px;height:0.80px;background:#555"></div>
<div class="t" style="left:33.10px;top:1476.85px;font-size:10.60px;transform-origin:0 0;transform:scaleX(1.160) translateX(-100%);">150</div>
<div class="l" style="left:36.20px;top:1434.80px;width:2.80px;height:0.80px;background:#555"></div>
<div class="t" style="left:33.10px;top:1430.03px;font-size:10.60px;transform-origin:0 0;transform:scaleX(1.160) translateX(-100%);">200</div>
<div class="l" style="left:39.10px;top:1623.00px;width:0.80px;height:2.60px;background:#555"></div>
<div class="t" style="left:39.50px;top:1626.43px;font-size:10.60px;transform-origin:0 0;transform:scaleX(1.160) translateX(-50%);">0</div>
<div class="l" style="left:92.08px;top:1623.00px;width:0.80px;height:2.60px;background:#555"></div>
<div class="t" style="left:92.48px;top:1626.43px;font-size:10.60px;transform-origin:0 0;transform:scaleX(1.160) translateX(-50%);">50</div>
<div class="l" style="left:145.05px;top:1623.00px;width:0.80px;height:2.60px;background:#555"></div>
<div class="t" style="left:145.45px;top:1626.43px;font-size:10.60px;transform-origin:0 0;transform:scaleX(1.160) translateX(-50%);">100</div>
<div class="l" style="left:198.03px;top:1623.00px;width:0.80px;height:2.60px;background:#555"></div>
<div class="t" style="left:198.43px;top:1626.43px;font-size:10.60px;transform-origin:0 0;transform:scaleX(1.160) translateX(-50%);">150</div>
<div class="l" style="left:251.00px;top:1623.00px;width:0.80px;height:2.60px;background:#555"></div>
<div class="t" style="left:251.40px;top:1626.43px;font-size:10.60px;transform-origin:0 0;transform:scaleX(1.160) translateX(-50%);">200</div>
<div class="t" style="left:156.00px;top:1639.17px;font-size:12.20px;transform-origin:0 0;transform:scaleX(1.000) translateX(-50%);">x</div>
<div class="t" style="left:5.30px;top:1519.50px;font-size:12.20px;transform:translate(-50%,-50%) rotate(-90deg) scaleX(1.08);">y</div>
<div class="cb" style="left:287px;top:1416px;width:11px;height:207px;background:linear-gradient(to top,#0b0000 0.0%,#2c0000 5.0%,#4e0000 10.0%,#6f0000 15.0%,#900000 20.0%,#b20000 25.0%,#d30000 30.0%,#f50000 35.0%,#ff1700 40.0%,#ff3900 45.0%,#ff5a00 50.0%,#ff7c00 55.0%,#ff9d00 60.0%,#ffbf00 65.0%,#ffe000 70.0%,#ffff04 75.0%,#ffff36 80.0%,#ffff68 85.0%,#ffff9b 90.0%,#ffffcd 95.0%,#ffffff 100.0%)"></div>
<div class="fr" style="left:287px;top:1416px;width:11px;height:207px"></div>
<div class="l" style="left:298.00px;top:1441.90px;width:2.60px;height:0.80px;background:#555"></div>
<div class="t" style="left:303.10px;top:1437.83px;font-size:10.60px;transform-origin:0 0;transform:scaleX(1.160);">2</div>
<div class="l" style="left:298.00px;top:1471.52px;width:2.60px;height:0.80px;background:#555"></div>
<div class="t" style="left:303.10px;top:1467.45px;font-size:10.60px;transform-origin:0 0;transform:scaleX(1.160);">1</div>
<div class="l" style="left:298.00px;top:1501.14px;width:2.60px;height:0.80px;background:#555"></div>
<div class="t" style="left:303.10px;top:1497.07px;font-size:10.60px;transform-origin:0 0;transform:scaleX(1.160);">0</div>
<div class="l" style="left:298.00px;top:1530.76px;width:2.60px;height:0.80px;background:#555"></div>
<div class="t" style="left:303.10px;top:1526.69px;font-size:10.60px;transform-origin:0 0;transform:scaleX(1.160);">−1</div>
<div class="l" style="left:298.00px;top:1560.38px;width:2.60px;height:0.80px;background:#555"></div>
<div class="t" style="left:303.10px;top:1556.31px;font-size:10.60px;transform-origin:0 0;transform:scaleX(1.160);">−2</div>
<div class="l" style="left:298.00px;top:1590.00px;width:2.60px;height:0.80px;background:#555"></div>
<div class="t" style="left:303.10px;top:1585.93px;font-size:10.60px;transform-origin:0 0;transform:scaleX(1.160);">−3</div>
<div class="l" style="left:298.00px;top:1619.62px;width:2.60px;height:0.80px;background:#555"></div>
<div class="t" style="left:303.10px;top:1615.55px;font-size:10.60px;transform-origin:0 0;transform:scaleX(1.160);">−4</div>
<div class="t" style="left:269.80px;top:1405.03px;font-size:10.60px;transform-origin:0 0;transform:scaleX(1.120);">1e−7</div>
<div class="t" style="left:326.40px;top:1521.00px;font-size:10.60px;transform:translate(-50%,-50%) rotate(-90deg) scaleX(1.08);">Bz</div>
<div class="ti" style="left:123.80px;top:1392.70px;transform:translateX(-50%) scaleX(0.9991);">(k) scheme 2 with <i>C</i> = 1 (x-y)</div>
<div class="ax" style="left:393px;top:1416px;width:234px;height:207px;background:radial-gradient(ellipse 106.90px 93.65px at 0.5px 206.50px,#ff9400 0.0%,#ff9500 152.8%,#ff9700 157.2%,#ff8f00 160.5%,#ff8900 162.8%,#ff8c00 164.8%,#ff9600 168.0%,#ff9700 171.5%,#ff9400 179.5%,#ff9400 320.0%);"></div>
<div class="ax" style="left:393px;top:1416px;width:234px;height:207px;background:radial-gradient(ellipse 106.90px 93.65px at 0.5px 206.50px,#ff9400 0.0%,#ff9500 152.2%,#ff9800 156.8%,#ff9100 159.5%,#ff8600 162.2%,#ff8700 163.8%,#ff9600 167.8%,#ff9800 170.8%,#ff9400 177.0%,#ff9400 320.0%);-webkit-mask-image:conic-gradient(from 0deg at 0.5px 206.50px,transparent 0.00deg,#000 5.70deg);mask-image:conic-gradient(from 0deg at 0.5px 206.50px,transparent 0.00deg,#000 5.70deg);"></div>
<div class="ax" style="left:393px;top:1416px;width:234px;height:207px;background:radial-gradient(ellipse 106.90px 93.65px at 0.5px 206.50px,#ff9400 0.0%,#ff9500 151.2%,#ff9b00 155.8%,#ff9500 158.0%,#ff7e00 161.8%,#ff7f00 163.0%,#ff9600 166.8%,#ff9b00 169.0%,#ff9400 175.2%,#ff9400 320.0%);-webkit-mask-image:conic-gradient(from 0deg at 0.5px 206.50px,transparent 5.70deg,#000 11.38deg);mask-image:conic-gradient(from 0deg at 0.5px 206.50px,transparent 5.70deg,#000 11.38deg);"></div>
<div class="ax" style="left:393px;top:1416px;width:234px;height:207px;background:radial-gradient(ellipse 106.90px 93.65px at 0.5px 206.50px,#ff9400 0.0%,#ff9500 150.0%,#ff9f00 154.8%,#ff9b00 156.5%,#ff8f00 158.2%,#ff7400 160.8%,#ff7000 161.8%,#ff7400 162.8%,#ff9400 165.8%,#ff9e00 167.5%,#ff9e00 169.2%,#ff9500 173.5%,#ff9400 320.0%);-webkit-mask-image:conic-gradient(from 0deg at 0.5px 206.50px,transparent 11.38deg,#000 17.01deg);mask-image:conic-gradient(from 0deg at 0.5px 206.50px,transparent 11.38deg,#000 17.01deg);"></div>
<div class="ax" style="left:393px;top:1416px;width:234px;height:207px;background:radial-gradient(ellipse 106.90px 93.65px at 0.5px 206.50px,#ff9400 0.0%,#ff9500 149.0%,#ff9d00 151.8%,#ffa400 154.0%,#ffa100 155.5%,#ff9700 156.8%,#ff8600 158.0%,#ff6500 160.0%,#ff5e00 160.8%,#ff5e00 161.5%,#ff6500 162.2%,#ff8f00 164.8%,#ff9d00 166.0%,#ffa400 167.2%,#ffa300 168.8%,#ff9600 172.5%,#ff9400 180.2%,#ff9400 320.0%);-webkit-mask-image:conic-gradient(from 0deg at 0.5px 206.50px,transparent 17.01deg,#000 22.56deg);mask-image:conic-gradient(from 0deg at 0.5px 206.50px,transparent 17.01deg,#000 22.56deg);"></div>
<div class="ax" style="left:393px;top:1416px;width:234px;height:207px;background:radial-gradient(ellipse 106.90px 93.65px at 0.5px 206.50px,#ff9400 0.0%,#ff9500 148.0%,#ff9c00 150.2%,#ffac00 153.0%,#ffac00 154.2%,#ffa200 155.5%,#ff9300 156.5%,#ff7700 157.8%,#ff5100 159.2%,#ff4400 160.0%,#ff4100 160.5%,#ff4400 161.0%,#ff4f00 161.8%,#ff8800 164.0%,#ff9b00 165.0%,#ffa700 166.0%,#ffac00 167.0%,#ffaa00 168.2%,#ff9800 171.5%,#ff9400 174.2%,#ff9400 320.0%);-webkit-mask-image:conic-gradient(from 0deg at 0.5px 206.50px,transparent 22.56deg,#000 29.11deg);mask-image:conic-gradient(from 0deg at 0.5px 206.50px,transparent 22.56deg,#000 29.11deg);"></div>
<div class="ax" style="left:393px;top:1416px;width:234px;height:207px;background:radial-gradient(ellipse 106.90px 93.65px at 0.5px 206.50px,#ff9400 0.0%,#ff9500 147.2%,#ff9b00 149.2%,#ffad00 151.5%,#ffb500 152.8%,#ffb600 153.8%,#ffae00 154.8%,#ff9d00 155.8%,#ff8a00 156.5%,#ff6900 157.5%,#ff3b00 158.8%,#ff2700 159.5%,#ff2100 160.0%,#ff2200 160.5%,#ff2900 161.0%,#ff3e00 161.8%,#ff7e00 163.5%,#ff9400 164.2%,#ffa500 165.0%,#ffb000 165.8%,#ffb600 166.8%,#ffb400 167.8%,#ff9b00 171.0%,#ff9500 173.0%,#ff9400 320.0%);-webkit-mask-image:conic-gradient(from 0deg at 0.5px 206.50px,transparent 29.11deg,#000 35.50deg);mask-image:conic-gradient(from 0deg at 0.5px 206.50px,transparent 29.11deg,#000 35.50deg);"></div>
<div class="ax" style="left:393px;top:1416px;width:234px;height:207px;background:radial-gradient(ellipse 106.90px 93.65px at 0.5px 206.50px,#ff9400 0.0%,#ff9500 147.0%,#ff9b00 148.8%,#ffa700 150.2%,#ffbe00 152.2%,#ffc100 153.2%,#ffbd00 154.0%,#ffb300 154.8%,#ffa200 155.5%,#ff8a00 156.2%,#ff6c00 157.0%,#ff2400 158.5%,#ff1000 159.0%,#ff0200 159.5%,#fb0000 160.0%,#ff0000 160.5%,#ff0c00 161.0%,#ff1f00 161.5%,#ff7300 163.2%,#ff9100 164.0%,#ffa800 164.8%,#ffb700 165.5%,#ffbf00 166.2%,#ffc100 167.0%,#ffbb00 168.0%,#ff9f00 170.5%,#ff9700 172.0%,#ff9400 175.2%,#ff9400 320.0%);-webkit-mask-image:conic-gradient(from 0deg at 0.5px 206.50px,transparent 35.50deg,#000 41.73deg);mask-image:conic-gradient(from 0deg at 0.5px 206.50px,transparent 35.50deg,#000 41.73deg);"></div>
<div class="ax" style="left:393px;top:1416px;width:234px;height:207px;background:radial-gradient(ellipse 106.90px 93.65px at 0.5px 206.50px,#ff9400 0.0%,#ff9500 146.8%,#ff9b00 148.5%,#ffa700 149.8%,#ffc800 152.0%,#ffce00 152.8%,#ffcd00 153.5%,#ffc500 154.2%,#ffb500 155.0%,#ff9b00 155.8%,#ff7800 156.5%,#ff4d00 157.2%,#ff0e00 158.2%,#fe0000 158.5%,#e50000 159.0%,#dc0000 159.2%,#d50000 159.5%,#d00000 159.8%,#cf0000 160.0%,#d00000 160.2%,#d40000 160.5%,#db0000 160.8%,#f10000 161.2%,#fe0000 161.5%,#ff1d00 162.0%,#ff5d00 163.0%,#ff8700 163.8%,#ffa700 164.5%,#ffbd00 165.2%,#ffca00 166.0%,#ffce00 166.8%,#ffcb00 167.5%,#ffbb00 168.8%,#ffa500 170.2%,#ff9a00 171.5%,#ff9500 173.5%,#ff9400 320.0%);-webkit-mask-image:conic-gradient(from 0deg at 0.5px 206.50px,transparent 41.73deg,#000 48.78deg);mask-image:conic-gradient(from 0deg at 0.5px 206.50px,transparent 41.73deg,#000 48.78deg);"></div>
<div class="ax" style="left:393px;top:1416px;width:234px;height:207px;background:radial-gradient(ellipse 106.90px 93.65px at 0.5px 206.50px,#ff9400 0.0%,#ff9500 146.5%,#ff9b00 148.2%,#ffa800 149.5%,#ffc700 151.2%,#ffd700 152.2%,#ffdc00 153.0%,#ffd800 153.8%,#ffca00 154.5%,#ffb200 155.2%,#ff9c00 155.8%,#ff8100 156.2%,#ff4f00 157.0%,#ff0200 158.0%,#dc0000 158.5%,#bd0000 159.0%,#b10000 159.2%,#a90000 159.5%,#a40000 159.8%,#a20000 160.0%,#a40000 160.2%,#a90000 160.5%,#b20000 160.8%,#be0000 161.0%,#dd0000 161.5%,#ef0000 161.8%,#ff0300 162.0%,#ff5200 163.0%,#ff8400 163.8%,#ffa000 164.2%,#ffb600 164.8%,#ffc700 165.2%,#ffd200 165.8%,#ffdb00 166.5%,#ffda00 167.2%,#ffd100 168.0%,#ffa900 170.2%,#ff9c00 171.5%,#ff9600 173.0%,#ff9400 186.0%,#ff9400 320.0%);-webkit-mask-image:conic-gradient(from 0deg at 0.5px 206.50px,transparent 48.78deg,#000 55.61deg);mask-image:conic-gradient(from 0deg at 0.5px 206.50px,transparent 48.78deg,#000 55.61deg);"></div>
<div class="ax" style="left:393px;top:1416px;width:234px;height:207px;background:radial-gradient(ellipse 106.90px 93.65px at 0.5px 206.50px,#ff9400 0.0%,#ff9500 146.2%,#ff9b00 148.0%,#ffa500 149.0%,#ffb500 150.0%,#ffe000 152.0%,#ffe900 152.8%,#ffea00 153.2%,#ffe600 153.8%,#ffdc00 154.2%,#ffcd00 154.8%,#ffb800 155.2%,#ff9e00 155.8%,#ff7d00 156.2%,#ff5700 156.8%,#ff1400 157.5%,#fb0000 157.8%,#b70000 158.5%,#a40000 158.8%,#930000 159.0%,#850000 159.2%,#7a0000 159.5%,#740000 159.8%,#720000 160.0%,#740000 160.2%,#7b0000 160.5%,#850000 160.8%,#940000 161.0%,#a50000 161.2%,#cf0000 161.8%,#fd0000 162.2%,#ff5a00 163.2%,#ff8100 163.8%,#ffa200 164.2%,#ffbd00 164.8%,#ffd100 165.2%,#ffdf00 165.8%,#ffe700 166.2%,#ffea00 166.8%,#ffe500 167.5%,#ffd200 168.5%,#ffb100 170.0%,#ffa200 171.0%,#ff9800 172.2%,#ff9400 174.5%,#ff9400 320.0%);-webkit-mask-image:conic-gradient(from 0deg at 0.5px 206.50px,transparent 55.61deg,#000 63.17deg);mask-image:conic-gradient(from 0deg at 0.5px 206.50px,transparent 55.61deg,#000 63.17deg);"></div>
<div class="ax" style="left:393px;top:1416px;width:234px;height:207px;background:radial-gradient(ellipse 106.90px 93.65px at 0.5px 206.50px,#ff9400 0.0%,#ff9500 146.2%,#ff9a00 147.8%,#ffa400 148.8%,#ffb500 149.8%,#ffed00 152.0%,#fff800 152.8%,#fff800 153.2%,#fff300 153.8%,#ffe800 154.2%,#ffd700 154.8%,#ffbe00 155.2%,#ff9f00 155.8%,#ff7900 156.2%,#ff4c00 156.8%,#ff1900 157.2%,#fd0000 157.5%,#ab0000 158.2%,#7b0000 158.8%,#670000 159.0%,#570000 159.2%,#4b0000 159.5%,#430000 159.8%,#410000 160.0%,#430000 160.2%,#4b0000 160.5%,#570000 160.8%,#680000 161.0%,#7c0000 161.2%,#ad0000 161.8%,#ff0100 162.5%,#ff5000 163.2%,#ff7e00 163.8%,#ffa500 164.2%,#ffc400 164.8%,#ffdb00 165.2%,#ffec00 165.8%,#fff500 166.2%,#fff800 166.8%,#fff600 167.2%,#ffe900 168.0%,#ffb600 170.0%,#ffa400 171.0%,#ff9b00 172.0%,#ff9500 173.8%,#ff9400 320.0%);-webkit-mask-image:conic-gradient(from 0deg at 0.5px 206.50px,transparent 63.17deg,#000 72.31deg);mask-image:conic-gradient(from 0deg at 0.5px 206.50px,transparent 63.17deg,#000 72.31deg);"></div>
<div class="ax" style="left:393px;top:1416px;width:234px;height:207px;background:radial-gradient(ellipse 106.90px 93.65px at 0.5px 206.50px,#ff9400 0.0%,#ff9500 146.2%,#ff9b00 147.8%,#ffa500 148.8%,#ffb800 149.8%,#fff000 151.8%,#fffe00 152.5%,#ffff05 153.0%,#ffff04 153.2%,#ffff02 153.5%,#fffd00 153.8%,#fff000 154.2%,#ffdd00 154.8%,#ffc200 155.2%,#ffa000 155.8%,#ff7700 156.2%,#ff4500 156.8%,#ff0d00 157.2%,#ef0000 157.5%,#950000 158.2%,#7a0000 158.5%,#600000 158.8%,#4b0000 159.0%,#390000 159.2%,#2b0000 159.5%,#230000 159.8%,#210000 160.0%,#240000 160.2%,#2c0000 160.5%,#390000 160.8%,#4c0000 161.0%,#620000 161.2%,#7b0000 161.5%,#b50000 162.0%,#f20000 162.5%,#ff1100 162.8%,#ff4a00 163.2%,#ff7c00 163.8%,#ffa600 164.2%,#ffc800 164.8%,#ffe200 165.2%,#fff400 165.8%,#fffe00 166.2%,#ffff04 166.8%,#ffff00 167.2%,#fff100 168.0%,#ffba00 170.0%,#ffa600 171.0%,#ff9b00 172.0%,#ff9500 173.5%,#ff9400 278.0%,#ff9400 320.0%);-webkit-mask-image:conic-gradient(from 0deg at 0.5px 206.50px,transparent 72.31deg,#000 81.22deg);mask-image:conic-gradient(from 0deg at 0.5px 206.50px,transparent 72.31deg,#000 81.22deg);"></div>
<div class="ax" style="left:393px;top:1416px;width:234px;height:207px;background:radial-gradient(ellipse 106.90px 93.65px at 0.5px 206.50px,#ff9400 0.0%,#ff9500 146.2%,#ff9b00 147.8%,#ffa600 148.8%,#ffb400 149.5%,#ffce00 150.5%,#fff300 151.8%,#fffe00 152.2%,#ffff08 152.8%,#ffff09 153.2%,#ffff07 153.5%,#ffff01 153.8%,#fffa00 154.0%,#ffea00 154.5%,#ffd200 155.0%,#ffb300 155.5%,#ff8c00 156.0%,#ff5d00 156.5%,#ff2700 157.0%,#ff0900 157.2%,#ea0000 157.5%,#8e0000 158.2%,#710000 158.5%,#570000 158.8%,#410000 159.0%,#2e0000 159.2%,#210000 159.5%,#180000 159.8%,#150000 160.0%,#180000 160.2%,#210000 160.5%,#2f0000 160.8%,#420000 161.0%,#590000 161.2%,#730000 161.5%,#ae0000 162.0%,#ed0000 162.5%,#ff0d00 162.8%,#ff4800 163.2%,#ff7b00 163.8%,#ffa700 164.2%,#ffca00 164.8%,#ffe400 165.2%,#fff700 165.8%,#fffd00 166.0%,#ffff08 166.5%,#ffff09 166.8%,#ffff05 167.2%,#fffe00 167.5%,#ffed00 168.2%,#ffbb00 170.0%,#ffa700 171.0%,#ff9b00 172.0%,#ff9500 173.5%,#ff9400 227.0%,#ff9400 320.0%);-webkit-mask-image:conic-gradient(from 0deg at 0.5px 206.50px,transparent 81.22deg,#000 90.00deg);mask-image:conic-gradient(from 0deg at 0.5px 206.50px,transparent 81.22deg,#000 90.00deg);"></div>
<div class="fr" style="left:393px;top:1416px;width:234px;height:207px"></div>
<div class="l" style="left:390.20px;top:1622.10px;width:2.80px;height:0.80px;background:#555"></div>
<div class="t" style="left:387.30px;top:1617.33px;font-size:10.60px;transform-origin:0 0;transform:scaleX(1.160) translateX(-100%);">0</div>
<div class="l" style="left:390.20px;top:1575.27px;width:2.80px;height:0.80px;background:#555"></div>
<div class="t" style="left:387.30px;top:1570.50px;font-size:10.60px;transform-origin:0 0;transform:scaleX(1.160) translateX(-100%);">50</div>
<div class="l" style="left:390.20px;top:1528.45px;width:2.80px;height:0.80px;background:#555"></div>
<div class="t" style="left:387.30px;top:1523.68px;font-size:10.60px;transform-origin:0 0;transform:scaleX(1.160) translateX(-100%);">100</div>
<div class="l" style="left:390.20px;top:1481.62px;width:2.80px;height:0.80px;background:#555"></div>
<div class="t" style="left:387.30px;top:1476.85px;font-size:10.60px;transform-origin:0 0;transform:scaleX(1.160) translateX(-100%);">150</div>
<div class="l" style="left:390.20px;top:1434.80px;width:2.80px;height:0.80px;background:#555"></div>
<div class="t" style="left:387.30px;top:1430.03px;font-size:10.60px;transform-origin:0 0;transform:scaleX(1.160) translateX(-100%);">200</div>
<div class="l" style="left:393.10px;top:1623.00px;width:0.80px;height:2.60px;background:#555"></div>
<div class="t" style="left:393.50px;top:1626.43px;font-size:10.60px;transform-origin:0 0;transform:scaleX(1.160) translateX(-50%);">0</div>
<div class="l" style="left:446.55px;top:1623.00px;width:0.80px;height:2.60px;background:#555"></div>
<div class="t" style="left:446.95px;top:1626.43px;font-size:10.60px;transform-origin:0 0;transform:scaleX(1.160) translateX(-50%);">50</div>
<div class="l" style="left:500.00px;top:1623.00px;width:0.80px;height:2.60px;background:#555"></div>
<div class="t" style="left:500.40px;top:1626.43px;font-size:10.60px;transform-origin:0 0;transform:scaleX(1.160) translateX(-50%);">100</div>
<div class="l" style="left:553.45px;top:1623.00px;width:0.80px;height:2.60px;background:#555"></div>
<div class="t" style="left:553.85px;top:1626.43px;font-size:10.60px;transform-origin:0 0;transform:scaleX(1.160) translateX(-50%);">150</div>
<div class="l" style="left:606.90px;top:1623.00px;width:0.80px;height:2.60px;background:#555"></div>
<div class="t" style="left:607.30px;top:1626.43px;font-size:10.60px;transform-origin:0 0;transform:scaleX(1.160) translateX(-50%);">200</div>
<div class="t" style="left:510.00px;top:1639.17px;font-size:12.20px;transform-origin:0 0;transform:scaleX(1.000) translateX(-50%);">r</div>
<div class="t" style="left:359.00px;top:1519.50px;font-size:12.20px;transform:translate(-50%,-50%) rotate(-90deg) scaleX(1.08);">z</div>
<div class="cb" style="left:641px;top:1416px;width:11px;height:207px;background:linear-gradient(to top,#0b0000 0.0%,#2c0000 5.0%,#4e0000 10.0%,#6f0000 15.0%,#900000 20.0%,#b20000 25.0%,#d30000 30.0%,#f50000 35.0%,#ff1700 40.0%,#ff3900 45.0%,#ff5a00 50.0%,#ff7c00 55.0%,#ff9d00 60.0%,#ffbf00 65.0%,#ffe000 70.0%,#ffff04 75.0%,#ffff36 80.0%,#ffff68 85.0%,#ffff9b 90.0%,#ffffcd 95.0%,#ffffff 100.0%)"></div>
<div class="fr" style="left:641px;top:1416px;width:11px;height:207px"></div>
<div class="l" style="left:652.00px;top:1441.90px;width:2.60px;height:0.80px;background:#555"></div>
<div class="t" style="left:656.30px;top:1437.83px;font-size:10.60px;transform-origin:0 0;transform:scaleX(1.160);">2</div>
<div class="l" style="left:652.00px;top:1471.52px;width:2.60px;height:0.80px;background:#555"></div>
<div class="t" style="left:656.30px;top:1467.45px;font-size:10.60px;transform-origin:0 0;transform:scaleX(1.160);">1</div>
<div class="l" style="left:652.00px;top:1501.14px;width:2.60px;height:0.80px;background:#555"></div>
<div class="t" style="left:656.30px;top:1497.07px;font-size:10.60px;transform-origin:0 0;transform:scaleX(1.160);">0</div>
<div class="l" style="left:652.00px;top:1530.76px;width:2.60px;height:0.80px;background:#555"></div>
<div class="t" style="left:656.30px;top:1526.69px;font-size:10.60px;transform-origin:0 0;transform:scaleX(1.160);">−1</div>
<div class="l" style="left:652.00px;top:1560.38px;width:2.60px;height:0.80px;background:#555"></div>
<div class="t" style="left:656.30px;top:1556.31px;font-size:10.60px;transform-origin:0 0;transform:scaleX(1.160);">−2</div>
<div class="l" style="left:652.00px;top:1590.00px;width:2.60px;height:0.80px;background:#555"></div>
<div class="t" style="left:656.30px;top:1585.93px;font-size:10.60px;transform-origin:0 0;transform:scaleX(1.160);">−3</div>
<div class="l" style="left:652.00px;top:1619.62px;width:2.60px;height:0.80px;background:#555"></div>
<div class="t" style="left:656.30px;top:1615.55px;font-size:10.60px;transform-origin:0 0;transform:scaleX(1.160);">−4</div>
<div class="t" style="left:624.20px;top:1405.03px;font-size:10.60px;transform-origin:0 0;transform:scaleX(1.120);">1e−7</div>
<div class="t" style="left:680.30px;top:1521.00px;font-size:10.60px;transform:translate(-50%,-50%) rotate(-90deg) scaleX(1.08);">Bz</div>
<div class="ti" style="left:477.25px;top:1392.70px;transform:translateX(-50%) scaleX(0.9995);">(l) scheme 2 with <i>C</i> = 1 (r-z)</div>
</body></html>
